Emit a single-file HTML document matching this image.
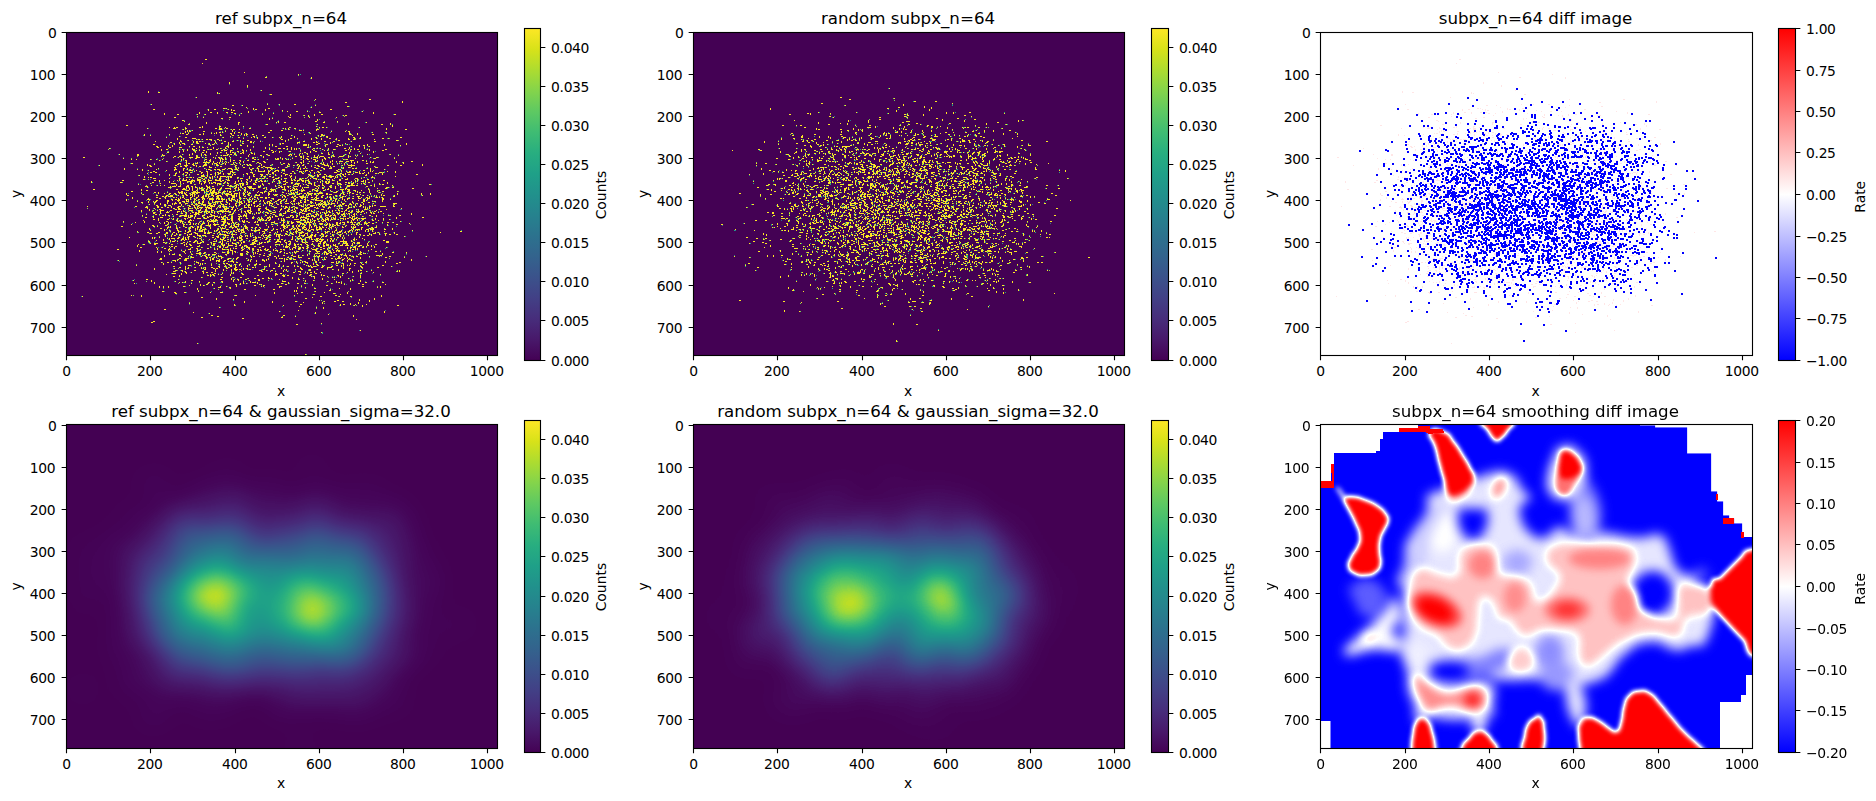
<!DOCTYPE html>
<html><head><meta charset="utf-8"><title>subpx diff</title>
<style>html,body{margin:0;padding:0;background:#fff}svg{display:block}.t{letter-spacing:-0.35px}text{font-family:"DejaVu Sans","Liberation Sans",sans-serif;fill:#000}</style></head><body>
<svg width="1876" height="801" viewBox="0 0 1876 801">
<defs>
<linearGradient id="gv" x1="0" y1="0" x2="0" y2="1"><stop offset="0.0000" stop-color="#fde725"/><stop offset="0.0625" stop-color="#d8e219"/><stop offset="0.1250" stop-color="#addc30"/><stop offset="0.1875" stop-color="#84d44b"/><stop offset="0.2500" stop-color="#5ec962"/><stop offset="0.3125" stop-color="#3fbc73"/><stop offset="0.3750" stop-color="#28ae80"/><stop offset="0.4375" stop-color="#1fa088"/><stop offset="0.5000" stop-color="#21918c"/><stop offset="0.5625" stop-color="#26828e"/><stop offset="0.6250" stop-color="#2c728e"/><stop offset="0.6875" stop-color="#33638d"/><stop offset="0.7500" stop-color="#3b528b"/><stop offset="0.8125" stop-color="#424086"/><stop offset="0.8750" stop-color="#472d7b"/><stop offset="0.9375" stop-color="#48186a"/><stop offset="1.0000" stop-color="#440154"/></linearGradient>
<linearGradient id="gb" x1="0" y1="0" x2="0" y2="1"><stop offset="0" stop-color="#f00"/><stop offset="0.5" stop-color="#fff"/><stop offset="1" stop-color="#00f"/></linearGradient>
<path id="da0" d="M205 59.5h2M202 63.5h1M244 72.5h1M298 74.5h1M265 77.5h2m44 0h1M311 78.5h1M229 82.5h1M229 83.5h1M247 85.5h1M247 86.5h1M261 90.5h1M148 91.5h1M148 92.5h1m9 0h2m57 0h1M217 93.5h1m1 0h1M270 94.5h2M196 97.5h1M315 99.5h1m53 0h2M402 101.5h1M345 102.5h2m55 0h1M151 104.5h1m115 0h1m11 0h1m14 0h2M232 105.5h2m8 0h1m72 0h1M347 106.5h2M246 107.5h1m64 0h1M223 108.5h2m1 0h1m26 0h1m14 0h2M153 109.5h2m53 0h1m5 0h2m12 0h1m2 0h1m21 0h1m1 0h2m8 0h1m64 0h2M208 110.5h1m22 0h1m1 0h2m30 0h1m16 0h1M248 111.5h1m38 0h1m8 0h2m9 0h1m54 0h1M199 112.5h1m10 0h2m5 0h1m8 0h2m3 0h2m15 0h1m70 0h2m52 0h1M164 113.5h1m34 0h1m17 0h1m16 0h2m5 0h1m31 0h1m99 0h1M164 114.5h1m12 0h2m18 0h1m7 0h1m56 0h1m27 0h1m23 0h1m6 0h2m71 0h2M239 115.5h1m50 0h1m13 0h1m3 0h1m5 0h1m28 0h1m1 0h2M197 116.5h1m90 0h1m19 0h1M174 117.5h2m27 0h1m25 0h2m58 0h2m18 0h1m26 0h1M221 118.5h2m46 0h1m2 0h1M269 119.5h1m47 0h1M182 120.5h2m133 0h1M184 121.5h1m93 0h1m36 0h2m20 0h1M206 122.5h1m31 0h2m36 0h1m1 0h1m5 0h2m37 0h2m41 0h1M206 123.5h1m31 0h1m109 0h1m41 0h1M188 124.5h2m48 0h1m27 0h2m49 0h1m30 0h1m32 0h2m7 0h1M126 125.5h2m264 0h1M202 126.5h1m16 0h2m22 0h1m72 0h1m75 0h1M169 127.5h1m4 0h1m1 0h2m7 0h1m13 0h2m1 0h1m16 0h1m5 0h1m63 0h1m29 0h1m2 0h2m2 0h1m32 0h1M147 128.5h1m25 0h3m9 0h2m28 0h2m2 0h3m4 0h2m21 0h2m32 0h1m1 0h1m2 0h1m5 0h2m90 0h1M183 129.5h1m35 0h3m9 0h1m1 0h2m4 0h1m48 0h1m27 0h3m67 0h1m18 0h2M187 130.5h1m1 0h1m2 0h1m39 0h1m37 0h2m9 0h2m16 0h3m1 0h1m12 0h1M185 131.5h1m1 0h1m1 0h2m12 0h2m20 0h1m6 0h1m98 0h1m13 0h1m2 0h2M185 132.5h1m30 0h1m2 0h2m1 0h1m11 0h1m3 0h2m28 0h2m39 0h1m39 0h1m22 0h1m13 0h1M180 133.5h1m1 0h2m4 0h1m14 0h1m7 0h1m2 0h1m1 0h1m13 0h2m2 0h1m6 0h1m4 0h1m63 0h1m38 0h1m7 0h1M144 134.5h1m24 0h1m16 0h2m11 0h2m2 0h1m16 0h1m10 0h1m9 0h1m2 0h1m1 0h2m4 0h2m50 0h1m16 0h2m26 0h2m6 0h1m14 0h2M144 135.5h1m5 0h1m69 0h1m11 0h2m4 0h1m5 0h1m1 0h1m9 0h1m5 0h2m27 0h1m26 0h1m2 0h4m27 0h1M179 136.5h1m50 0h1m22 0h2m26 0h1m12 0h1m25 0h1m5 0h2M166 137.5h1m18 0h2m36 0h1m14 0h2m11 0h1m2 0h1m2 0h1m6 0h2m6 0h1m6 0h1m1 0h1m12 0h1m21 0h1m10 0h1m25 0h2m5 0h1m39 0h2M177 138.5h1m14 0h4m47 0h1m13 0h1m22 0h1m9 0h2m5 0h1m13 0h1m4 0h1m4 0h1m7 0h2m5 0h1m11 0h1m5 0h1m5 0h1m21 0h2m4 0h1M177 139.5h1m18 0h1m1 0h2m2 0h1m3 0h2m1 0h3m5 0h2m62 0h2m5 0h1m22 0h1m9 0h1m14 0h1m11 0h2m3 0h2m19 0h1M180 140.5h1m7 0h1m22 0h1m2 0h1m4 0h1m1 0h1m15 0h1m2 0h1m6 0h2m36 0h1m52 0h2m56 0h2M155 141.5h1m24 0h2m11 0h1m2 0h2m1 0h2m1 0h1m12 0h1m8 0h2m6 0h2m6 0h1m2 0h1m6 0h2m8 0h1m24 0h1m17 0h2m11 0h1m7 0h2m7 0h2m16 0h1m22 0h2M170 142.5h2m7 0h1m13 0h1m2 0h2m17 0h1m12 0h1m21 0h2m1 0h1m43 0h3m13 0h2m1 0h2m12 0h1M174 143.5h1m4 0h1m2 0h3m12 0h2m6 0h1m3 0h1m4 0h1m1 0h1m4 0h2m5 0h1m13 0h2m36 0h1m1 0h2m13 0h1m20 0h2m10 0h1m14 0h1m60 0h1M153 144.5h2m19 0h1m5 0h1m3 0h1m6 0h2m16 0h1m2 0h2m14 0h1m1 0h1m38 0h1m2 0h1m7 0h1m23 0h3m1 0h1m7 0h2m8 0h2m9 0h2m8 0h1m19 0h1m16 0h1m21 0h1M168 145.5h1m3 0h1m37 0h1m19 0h1m9 0h2m5 0h1m21 0h1m2 0h1m30 0h4m1 0h1m16 0h1m13 0h2m1 0h1m16 0h1m3 0h2m2 0h1m16 0h1m15 0h1M156 146.5h2m2 0h1m7 0h1m3 0h1m16 0h1m3 0h2m4 0h1m26 0h3m18 0h1m5 0h1m21 0h2m9 0h2m22 0h1m14 0h1m10 0h2m13 0h1m7 0h1m9 0h1M157 147.5h2m10 0h2m8 0h3m17 0h1m2 0h2m3 0h1m5 0h1m11 0h1m2 0h1m36 0h1m25 0h1m15 0h2m40 0h1m14 0h1M109 148.5h1m82 0h1m3 0h1m16 0h1m6 0h1m4 0h1m6 0h2m3 0h1m27 0h1m3 0h1m8 0h3m2 0h2m2 0h1m3 0h1m2 0h1m1 0h1m2 0h1m13 0h2m2 0h1m2 0h1m7 0h1m15 0h2m3 0h1m4 0h1m9 0h1M161 149.5h1m4 0h2m11 0h1m2 0h1m4 0h1m4 0h3m13 0h1m1 0h2m4 0h2m6 0h1m17 0h1m7 0h1m18 0h1m17 0h1m3 0h1m2 0h1m1 0h1m15 0h1m9 0h1m5 0h1m4 0h2m13 0h1m2 0h1m2 0h1m2 0h2m8 0h1m1 0h1m15 0h2M161 150.5h1m21 0h1m3 0h1m5 0h2m1 0h1m2 0h1m3 0h2m16 0h2m1 0h3m3 0h2m10 0h2m2 0h1m3 0h1m20 0h2m27 0h1m12 0h2m9 0h1m2 0h1m17 0h2m22 0h1m12 0h2M179 151.5h1m3 0h1m11 0h1m10 0h1m23 0h1m6 0h2m4 0h1m19 0h2m8 0h1m1 0h1m3 0h1m1 0h1m7 0h2m19 0h1m4 0h2m33 0h1m8 0h1m13 0h1M167 152.5h2m10 0h1m15 0h1m6 0h2m2 0h1m10 0h1m2 0h1m5 0h1m3 0h1m1 0h2m8 0h2m7 0h1m20 0h2m5 0h1m24 0h2m4 0h1m17 0h1m3 0h1m16 0h1m23 0h1M192 153.5h1m17 0h1m6 0h1m8 0h1m7 0h2m4 0h2m1 0h1m7 0h2m1 0h1m45 0h1m1 0h1m4 0h1m13 0h2m5 0h1m20 0h1m10 0h1M119 154.5h1m17 0h2m23 0h1m19 0h1m6 0h1m2 0h1m8 0h1m2 0h2m4 0h1m16 0h2m1 0h2m2 0h2m13 0h1m4 0h1m11 0h2m21 0h3m2 0h1m4 0h1m7 0h1m20 0h2m15 0h1m21 0h1m22 0h1M137 155.5h2m23 0h3m24 0h1m6 0h1m4 0h1m3 0h1m10 0h1m4 0h1m1 0h3m1 0h1m8 0h1m11 0h1m11 0h2m6 0h2m18 0h2m1 0h1m7 0h1m14 0h1m3 0h1m13 0h2m9 0h1m4 0h1m6 0h1m1 0h1m40 0h1M161 156.5h1m12 0h2m3 0h3m14 0h2m31 0h1m18 0h1m14 0h1m31 0h2m3 0h2m1 0h1m3 0h2m5 0h1m2 0h1m2 0h4m7 0h1m1 0h2m4 0h4m5 0h1m1 0h1m11 0h1M83 157.5h2m88 0h1m4 0h1m2 0h1m7 0h4m3 0h4m2 0h1m2 0h1m7 0h1m4 0h2m1 0h1m3 0h1m4 0h1m9 0h1m12 0h1m1 0h1m7 0h1m16 0h1m20 0h1m1 0h1m10 0h4m1 0h1m4 0h1m3 0h2m1 0h1m16 0h1m21 0h1m5 0h2M123 158.5h1m59 0h1m11 0h2m18 0h1m3 0h1m1 0h2m2 0h1m20 0h1m5 0h2m21 0h1m1 0h2m3 0h1m2 0h1m6 0h1m10 0h1m2 0h2m3 0h1m5 0h1m6 0h2m29 0h1m18 0h2m18 0h1M131 159.5h1m4 0h1m13 0h1m5 0h1m5 0h1m18 0h1m1 0h1m21 0h2m3 0h1m9 0h1m1 0h2m1 0h1m4 0h1m23 0h2m2 0h1m8 0h1m8 0h3m3 0h1m3 0h1m1 0h1m12 0h1m5 0h2m4 0h3m6 0h1m2 0h1m17 0h1m2 0h2M159 160.5h1m21 0h1m3 0h2m17 0h1m4 0h2m9 0h1m9 0h1m2 0h2m4 0h2m6 0h2m54 0h1m11 0h1m1 0h1m4 0h1m9 0h1m17 0h4m8 0h2M166 161.5h1m19 0h1m19 0h1m3 0h1m2 0h1m6 0h1m1 0h1m2 0h1m4 0h1m9 0h1m2 0h1m8 0h2m9 0h2m38 0h1m5 0h1m5 0h2m13 0h1m1 0h1m3 0h1m2 0h4m3 0h3m2 0h1m5 0h1m8 0h1m3 0h1m2 0h1m22 0h1m14 0h2M186 162.5h1m10 0h1m5 0h7m3 0h1m3 0h1m1 0h1m6 0h1m1 0h1m4 0h1m1 0h1m3 0h1m3 0h1m13 0h2m5 0h2m14 0h1m15 0h1m3 0h2m1 0h1m19 0h1m6 0h1m14 0h1m5 0h1m2 0h1m2 0h1m12 0h1m1 0h2m22 0h1m6 0h1M131 163.5h2m45 0h3m5 0h1m1 0h2m3 0h1m1 0h3m7 0h1m6 0h1m1 0h3m2 0h1m2 0h2m1 0h1m7 0h1m2 0h1m22 0h2m22 0h2m3 0h1m12 0h1m6 0h1m11 0h2m1 0h1m8 0h1m4 0h1m1 0h1m4 0h1m9 0h1m11 0h2m35 0h1M147 164.5h1m6 0h1m22 0h2m1 0h1m5 0h1m5 0h2m10 0h3m5 0h1m3 0h2m3 0h1m3 0h1m5 0h2m1 0h1m5 0h1m3 0h1m2 0h1m1 0h2m10 0h1m10 0h1m8 0h1m6 0h2m7 0h2m4 0h1m18 0h3m2 0h1m4 0h1m11 0h1m2 0h1m3 0h1m70 0h1M99 165.5h1m47 0h1m1 0h2m24 0h2m7 0h4m5 0h2m1 0h1m6 0h4m9 0h3m16 0h2m5 0h1m4 0h2m1 0h2m9 0h1m8 0h1m16 0h1m5 0h1m3 0h1m1 0h1m2 0h2m11 0h1m1 0h2m5 0h5m13 0h1m5 0h7m32 0h2m11 0h2m20 0h1M150 166.5h2m28 0h2m3 0h2m9 0h1m2 0h2m2 0h1m5 0h1m10 0h2m13 0h1m22 0h2m3 0h2m22 0h2m10 0h1m5 0h1m5 0h1m6 0h2m8 0h1m1 0h1m2 0h2m16 0h1m22 0h1M174 167.5h2m14 0h1m18 0h3m3 0h1m19 0h1m7 0h2m12 0h1m3 0h2m2 0h7m6 0h1m7 0h1m11 0h1m6 0h1m8 0h2m5 0h2m8 0h1m9 0h1m1 0h1m4 0h2m25 0h3M124 168.5h1m33 0h1m16 0h1m7 0h2m2 0h1m16 0h1m20 0h1m2 0h4m4 0h1m1 0h1m10 0h1m2 0h2m3 0h2m8 0h1m2 0h4m1 0h1m21 0h2m1 0h1m2 0h2m1 0h1m9 0h2m5 0h2m4 0h3m11 0h1m8 0h2m1 0h2m10 0h1m2 0h1M124 169.5h1m12 0h1m4 0h1m13 0h1m17 0h3m6 0h1m3 0h1m2 0h1m2 0h1m12 0h1m1 0h2m4 0h2m1 0h3m2 0h3m6 0h2m2 0h3m12 0h2m6 0h1m12 0h1m10 0h3m15 0h1m23 0h1m13 0h1m1 0h1m29 0h1m13 0h1M142 170.5h1m5 0h1m17 0h1m7 0h1m8 0h1m5 0h4m3 0h1m13 0h2m7 0h2m11 0h1m18 0h1m3 0h1m2 0h1m5 0h1m3 0h1m1 0h1m4 0h4m3 0h3m12 0h1m7 0h3m3 0h2m7 0h1m15 0h2m3 0h1m21 0h2m5 0h1M153 171.5h2m24 0h1m14 0h1m5 0h1m5 0h2m14 0h1m7 0h3m25 0h4m1 0h2m3 0h2m4 0h2m2 0h1m13 0h2m5 0h3m1 0h1m1 0h1m3 0h1m7 0h2m18 0h2m2 0h1m4 0h1m2 0h2m2 0h1m5 0h1m10 0h1m1 0h1m14 0h1m7 0h1M150 172.5h2m3 0h2m22 0h1m5 0h3m2 0h2m9 0h2m4 0h1m7 0h1m1 0h2m1 0h1m9 0h1m1 0h3m15 0h3m15 0h1m3 0h2m7 0h1m19 0h1m8 0h1m3 0h1m3 0h2m14 0h3m10 0h4m4 0h3m1 0h1m4 0h1m3 0h1m10 0h3m1 0h1m11 0h1M147 173.5h1m27 0h2m6 0h1m3 0h1m13 0h1m5 0h1m7 0h1m2 0h3m2 0h1m4 0h3m15 0h2m4 0h1m15 0h1m3 0h2m9 0h2m5 0h2m2 0h1m7 0h2m10 0h1m25 0h2m3 0h1m7 0h1m5 0h2m1 0h2m4 0h1m6 0h2m1 0h1m3 0h1M159 174.5h1m9 0h1m5 0h1m7 0h1m5 0h1m7 0h2m4 0h1m3 0h1m2 0h2m3 0h1m2 0h1m4 0h1m4 0h2m2 0h1m1 0h2m7 0h1m3 0h1m5 0h2m5 0h3m3 0h2m2 0h1m4 0h1m9 0h3m20 0h2m7 0h1m1 0h2m3 0h2m11 0h3m2 0h2m1 0h1m2 0h2m2 0h1m13 0h1m15 0h1m33 0h2M139 175.5h1m29 0h1m4 0h2m9 0h2m14 0h3m3 0h1m7 0h1m16 0h1m20 0h1m7 0h2m12 0h1m5 0h1m3 0h1m3 0h1m1 0h1m17 0h3m2 0h1m2 0h2m7 0h1m2 0h2m5 0h1m3 0h1m2 0h1m21 0h2M144 176.5h1m33 0h2m21 0h4m2 0h1m4 0h1m1 0h1m2 0h1m2 0h6m1 0h2m1 0h2m17 0h1m3 0h2m6 0h1m2 0h2m3 0h2m10 0h1m8 0h2m16 0h1m2 0h3m3 0h2m4 0h2m1 0h1m1 0h6m1 0h1m1 0h1m2 0h1m3 0h2m26 0h1m22 0h1M144 177.5h1m3 0h1m1 0h2m34 0h2m2 0h2m1 0h1m5 0h2m4 0h2m2 0h2m1 0h1m4 0h1m2 0h1m5 0h1m1 0h1m1 0h2m5 0h2m10 0h1m14 0h1m7 0h2m4 0h1m11 0h1m4 0h1m11 0h1m4 0h1m9 0h3m5 0h2m3 0h1m1 0h1m26 0h1m6 0h2M153 178.5h3m13 0h1m9 0h1m3 0h1m13 0h1m4 0h1m7 0h1m1 0h1m6 0h2m7 0h1m8 0h1m2 0h3m6 0h1m6 0h2m1 0h2m1 0h2m3 0h1m7 0h4m5 0h3m4 0h1m3 0h1m4 0h1m1 0h1m2 0h1m4 0h1m2 0h4m7 0h1m1 0h1m7 0h1m7 0h1m4 0h1m7 0h3m3 0h1m12 0h1M143 179.5h2m34 0h1m3 0h1m2 0h1m2 0h1m7 0h4m2 0h2m3 0h1m6 0h1m3 0h2m5 0h1m1 0h1m17 0h2m3 0h1m4 0h1m16 0h2m6 0h1m9 0h1m2 0h1m4 0h3m6 0h1m7 0h1m1 0h1m1 0h1m5 0h4m2 0h1m6 0h2m4 0h3m9 0h1m9 0h2M122 180.5h2m30 0h2m3 0h1m4 0h1m12 0h1m1 0h1m2 0h5m4 0h4m2 0h3m5 0h1m2 0h4m3 0h6m1 0h2m3 0h3m8 0h1m2 0h1m5 0h1m3 0h1m3 0h2m3 0h2m3 0h1m7 0h1m4 0h2m5 0h1m5 0h2m1 0h2m1 0h2m2 0h3m1 0h1m1 0h2m13 0h1m9 0h2m5 0h2m14 0h1m1 0h1m5 0h1m1 0h1m6 0h1m10 0h2M91 181.5h1m67 0h1m9 0h1m3 0h1m6 0h1m6 0h6m1 0h1m4 0h2m2 0h3m2 0h1m11 0h2m3 0h1m9 0h1m2 0h1m2 0h1m4 0h1m3 0h1m4 0h1m2 0h2m1 0h2m1 0h2m8 0h1m4 0h1m3 0h3m11 0h1m4 0h2m1 0h1m2 0h2m7 0h1m2 0h1m1 0h1m2 0h2m1 0h2m7 0h1m13 0h1m3 0h1m1 0h1m3 0h3m1 0h1M91 182.5h1m28 0h2m30 0h2m15 0h1m10 0h1m6 0h1m2 0h2m7 0h1m4 0h2m3 0h1m3 0h3m8 0h1m2 0h1m7 0h1m10 0h2m7 0h2m15 0h1m6 0h2m5 0h2m3 0h2m12 0h1m3 0h1m4 0h1m5 0h1m4 0h2m1 0h2m7 0h1m7 0h2m1 0h1m4 0h1m11 0h1m2 0h2m17 0h1M150 183.5h1m9 0h1m10 0h5m4 0h1m2 0h1m6 0h2m7 0h1m1 0h1m2 0h1m4 0h1m1 0h2m2 0h1m1 0h4m2 0h1m3 0h2m5 0h2m3 0h5m3 0h1m5 0h2m7 0h1m5 0h2m7 0h1m1 0h1m5 0h1m5 0h1m3 0h5m8 0h4m2 0h1m7 0h1m3 0h3m3 0h2m3 0h4m7 0h2m1 0h3m3 0h1m3 0h1m1 0h2m14 0h1m7 0h1M138 184.5h1m37 0h1m17 0h1m6 0h1m15 0h1m1 0h2m15 0h2m2 0h1m1 0h2m2 0h2m5 0h3m6 0h1m20 0h3m8 0h2m1 0h2m4 0h1m2 0h1m4 0h1m2 0h1m7 0h1m14 0h1m2 0h2m3 0h1m5 0h2m12 0h1m8 0h1m4 0h1m2 0h2m45 0h2M151 185.5h1m5 0h1m2 0h1m3 0h1m11 0h1m3 0h1m6 0h2m17 0h1m16 0h1m3 0h2m1 0h1m4 0h2m1 0h1m1 0h1m1 0h1m17 0h1m2 0h1m11 0h1m3 0h1m13 0h1m4 0h1m1 0h1m6 0h2m5 0h2m2 0h2m2 0h2m7 0h1m6 0h1m8 0h3m1 0h4m1 0h2m13 0h1m2 0h1m17 0h1M145 186.5h3m22 0h1m1 0h4m2 0h3m5 0h3m2 0h2m2 0h1m10 0h2m1 0h1m2 0h2m15 0h4m1 0h1m1 0h1m3 0h1m6 0h1m1 0h3m6 0h3m14 0h1m4 0h2m2 0h1m2 0h2m1 0h1m3 0h4m2 0h1m15 0h2m6 0h1m4 0h2m4 0h1m4 0h1m6 0h3m16 0h2m6 0h1M147 187.5h1m20 0h3m15 0h1m1 0h1m3 0h1m2 0h2m2 0h1m1 0h2m4 0h3m11 0h1m13 0h2m1 0h1m2 0h1m2 0h2m2 0h4m6 0h2m6 0h1m11 0h2m1 0h2m1 0h1m3 0h1m4 0h1m8 0h1m1 0h1m1 0h3m9 0h1m3 0h1m7 0h2m3 0h1m4 0h1m5 0h1m39 0h3m3 0h2M183 188.5h2m1 0h1m2 0h1m2 0h1m4 0h1m1 0h3m2 0h1m2 0h1m1 0h1m2 0h3m5 0h2m3 0h6m3 0h2m2 0h1m3 0h1m2 0h1m3 0h2m1 0h4m7 0h2m1 0h1m9 0h1m7 0h1m5 0h1m2 0h2m1 0h1m5 0h1m12 0h1m2 0h1m3 0h2m4 0h1m6 0h1m9 0h2m21 0h1m8 0h1m7 0h2m25 0h2M93 189.5h2m46 0h1m34 0h2m4 0h4m3 0h1m2 0h1m4 0h1m4 0h2m2 0h1m3 0h2m2 0h1m2 0h1m1 0h2m9 0h1m7 0h2m4 0h2m7 0h1m12 0h1m3 0h5m7 0h4m6 0h1m1 0h4m3 0h1m1 0h1m8 0h2m3 0h1m7 0h1m1 0h2m11 0h4m1 0h1m1 0h3m18 0h1M141 190.5h1m4 0h2m38 0h3m3 0h1m3 0h1m4 0h3m2 0h1m3 0h1m2 0h2m4 0h1m15 0h1m2 0h1m1 0h1m3 0h2m7 0h1m17 0h3m1 0h1m9 0h1m2 0h1m1 0h2m1 0h2m4 0h1m1 0h4m7 0h1m2 0h3m5 0h2m5 0h1m11 0h1m5 0h2m4 0h2m5 0h1m7 0h1m9 0h1M131 191.5h2m45 0h1m2 0h2m10 0h3m1 0h1m6 0h1m1 0h3m1 0h1m1 0h3m3 0h1m4 0h3m1 0h1m1 0h2m2 0h2m9 0h1m2 0h1m10 0h1m5 0h2m3 0h3m3 0h1m12 0h1m1 0h1m6 0h1m3 0h2m6 0h2m5 0h2m13 0h1m4 0h2m4 0h1m4 0h2m6 0h1m1 0h1m11 0h1m7 0h1m4 0h2m13 0h1M154 192.5h2m2 0h1m8 0h1m10 0h5m1 0h1m1 0h1m5 0h8m4 0h1m5 0h7m1 0h3m1 0h2m5 0h2m8 0h1m3 0h1m1 0h1m1 0h1m1 0h1m7 0h1m2 0h3m1 0h1m3 0h1m13 0h2m7 0h1m1 0h1m1 0h3m9 0h1m11 0h3m12 0h3m5 0h2m5 0h2m6 0h1m1 0h2m2 0h1m5 0h1m9 0h1M126 193.5h1m14 0h1m16 0h1m5 0h1m4 0h2m3 0h2m3 0h1m1 0h2m1 0h2m4 0h1m1 0h3m1 0h2m8 0h1m2 0h1m1 0h3m2 0h3m3 0h1m1 0h1m1 0h3m2 0h1m2 0h4m1 0h1m3 0h2m3 0h3m11 0h1m5 0h2m16 0h1m1 0h1m2 0h4m4 0h1m1 0h1m2 0h2m1 0h6m1 0h2m1 0h6m3 0h2m13 0h1m1 0h1m3 0h1m1 0h1m2 0h2m16 0h1m26 0h1m23 0h1m8 0h1M126 194.5h1m16 0h1m25 0h1m5 0h2m8 0h2m4 0h2m1 0h1m11 0h4m2 0h1m2 0h2m5 0h1m2 0h7m2 0h1m4 0h1m3 0h2m2 0h2m7 0h1m2 0h1m8 0h2m3 0h1m1 0h3m4 0h1m6 0h3m2 0h1m2 0h3m6 0h1m1 0h3m3 0h2m2 0h1m7 0h2m1 0h3m8 0h1m2 0h2m11 0h2m2 0h1m20 0h1m15 0h1m23 0h1m8 0h1M127 195.5h2m27 0h2m8 0h2m2 0h3m5 0h1m3 0h2m2 0h2m2 0h1m1 0h1m1 0h1m3 0h1m4 0h1m1 0h2m1 0h1m2 0h3m3 0h4m5 0h2m3 0h4m1 0h1m2 0h1m3 0h1m4 0h2m5 0h5m8 0h1m5 0h3m3 0h1m2 0h2m2 0h1m7 0h1m7 0h1m2 0h1m1 0h1m2 0h1m4 0h2m4 0h2m11 0h2m2 0h2m22 0h1m3 0h1m6 0h1m6 0h1m1 0h2m9 0h1m27 0h1M162 196.5h2m1 0h2m1 0h5m10 0h1m8 0h1m1 0h1m3 0h1m3 0h2m1 0h2m1 0h1m4 0h1m2 0h3m1 0h2m10 0h3m1 0h1m2 0h1m4 0h2m5 0h1m2 0h1m27 0h1m1 0h2m6 0h1m1 0h2m3 0h5m1 0h1m10 0h1m4 0h1m5 0h1m2 0h1m2 0h1m2 0h1m5 0h2m1 0h1m7 0h1m3 0h3m9 0h1m1 0h1m4 0h1m16 0h2M132 197.5h1m23 0h2m7 0h1m7 0h1m2 0h1m3 0h1m1 0h2m6 0h2m4 0h2m3 0h3m4 0h1m8 0h2m13 0h3m4 0h2m9 0h1m3 0h2m1 0h1m2 0h3m2 0h2m1 0h2m12 0h1m2 0h1m5 0h3m2 0h2m2 0h6m1 0h1m3 0h2m2 0h2m4 0h2m4 0h1m1 0h2m2 0h1m6 0h3m15 0h1m2 0h1m4 0h2m1 0h1m6 0h2m1 0h1m2 0h1M132 198.5h1m15 0h1m10 0h2m4 0h1m12 0h1m1 0h1m3 0h1m5 0h1m3 0h1m1 0h1m5 0h3m2 0h1m1 0h4m3 0h4m1 0h2m5 0h2m1 0h2m6 0h2m2 0h2m1 0h1m2 0h1m2 0h1m4 0h1m7 0h2m5 0h2m21 0h1m5 0h2m2 0h1m8 0h1m1 0h3m6 0h1m4 0h2m2 0h1m1 0h1m2 0h1m2 0h1m4 0h3m2 0h2m4 0h3m6 0h3m12 0h2M126 199.5h1m20 0h3m21 0h2m2 0h2m1 0h2m6 0h3m1 0h1m3 0h2m2 0h2m2 0h1m1 0h1m4 0h5m2 0h1m1 0h2m1 0h4m1 0h1m2 0h1m1 0h4m2 0h1m2 0h1m6 0h1m1 0h2m1 0h1m1 0h1m3 0h1m14 0h1m4 0h3m2 0h2m1 0h1m7 0h2m8 0h2m5 0h3m1 0h2m13 0h2m3 0h2m5 0h1m1 0h1m2 0h1m15 0h2m2 0h1m14 0h2m6 0h1M126 200.5h1m29 0h2m9 0h2m3 0h1m4 0h3m6 0h1m1 0h1m5 0h1m1 0h1m6 0h1m8 0h1m9 0h1m3 0h1m2 0h3m3 0h1m1 0h1m1 0h1m8 0h1m11 0h1m2 0h1m6 0h2m5 0h2m2 0h1m4 0h1m6 0h2m5 0h1m4 0h1m1 0h2m6 0h6m1 0h1m6 0h1m3 0h1m1 0h1m2 0h1m5 0h1m13 0h1m4 0h2m1 0h1m15 0h1M137 201.5h1m10 0h1m4 0h1m1 0h2m10 0h2m9 0h1m3 0h3m1 0h3m4 0h2m4 0h1m2 0h2m4 0h1m3 0h1m2 0h8m3 0h1m4 0h1m4 0h2m1 0h1m1 0h1m2 0h1m3 0h2m1 0h1m2 0h3m2 0h1m3 0h1m3 0h3m5 0h2m3 0h2m3 0h2m4 0h1m1 0h2m5 0h1m3 0h2m4 0h2m9 0h2m1 0h1m2 0h1m1 0h1m2 0h1m2 0h1m9 0h1m6 0h1m10 0h2m7 0h1m1 0h2m6 0h1M141 202.5h2m5 0h1m5 0h2m11 0h1m7 0h1m3 0h2m3 0h1m6 0h1m1 0h2m3 0h2m2 0h2m4 0h1m3 0h1m1 0h2m1 0h1m2 0h1m5 0h2m11 0h3m2 0h1m3 0h2m3 0h2m9 0h1m2 0h1m1 0h2m3 0h1m5 0h1m9 0h1m7 0h1m1 0h2m2 0h2m4 0h3m2 0h1m4 0h1m2 0h3m2 0h1m8 0h1m3 0h1m10 0h1m9 0h1m5 0h2M154 203.5h1m5 0h1m6 0h1m4 0h1m1 0h3m2 0h2m4 0h3m8 0h1m1 0h3m1 0h1m5 0h3m4 0h1m1 0h1m3 0h1m7 0h1m5 0h2m2 0h1m1 0h2m3 0h1m6 0h2m9 0h2m1 0h1m1 0h4m3 0h1m3 0h2m3 0h4m2 0h1m2 0h1m1 0h1m1 0h2m11 0h1m3 0h1m3 0h1m1 0h2m1 0h2m2 0h2m1 0h4m2 0h1m4 0h3m5 0h1m2 0h1m2 0h2m5 0h1m9 0h1m19 0h4M149 204.5h1m10 0h1m3 0h2m6 0h1m1 0h1m6 0h1m9 0h2m2 0h3m3 0h5m3 0h2m2 0h3m5 0h3m1 0h2m2 0h1m5 0h1m3 0h2m5 0h1m1 0h2m1 0h1m7 0h1m9 0h1m2 0h1m4 0h2m13 0h1m1 0h1m3 0h1m4 0h1m1 0h1m2 0h2m6 0h1m1 0h4m1 0h4m1 0h1m2 0h1m8 0h1m1 0h2m5 0h3m3 0h1m4 0h1m2 0h1m30 0h1M156 205.5h2m6 0h2m2 0h3m10 0h1m7 0h1m3 0h2m3 0h2m3 0h3m2 0h5m1 0h1m4 0h2m2 0h1m11 0h2m2 0h1m4 0h1m3 0h2m1 0h1m2 0h1m2 0h2m4 0h1m5 0h1m1 0h1m9 0h1m17 0h1m1 0h1m3 0h1m1 0h1m2 0h5m1 0h1m1 0h1m1 0h1m1 0h1m2 0h2m7 0h2m2 0h4m3 0h2m1 0h1m6 0h1m4 0h2m10 0h1m1 0h2m17 0h1M87 206.5h1m47 0h2m9 0h1m10 0h2m6 0h1m5 0h1m6 0h3m2 0h1m5 0h2m3 0h1m2 0h2m8 0h1m2 0h5m3 0h1m1 0h1m1 0h5m2 0h1m3 0h1m2 0h1m7 0h1m3 0h1m5 0h1m1 0h2m1 0h2m11 0h2m7 0h1m1 0h1m1 0h2m6 0h2m6 0h3m6 0h3m6 0h1m2 0h2m5 0h1m4 0h1m2 0h1m1 0h1m1 0h1m6 0h1m4 0h2m4 0h2m2 0h1m5 0h2m1 0h1m7 0h6m7 0h2M145 207.5h3m9 0h2m2 0h2m4 0h2m2 0h1m5 0h2m9 0h1m5 0h2m1 0h1m1 0h4m2 0h5m1 0h1m5 0h1m1 0h2m2 0h2m1 0h1m4 0h3m10 0h3m1 0h3m15 0h1m7 0h3m8 0h3m1 0h1m1 0h2m2 0h2m8 0h1m1 0h3m4 0h2m1 0h1m5 0h2m3 0h3m17 0h2m1 0h1m2 0h1m8 0h1m1 0h1m3 0h1M147 208.5h1m6 0h1m18 0h2m3 0h2m4 0h1m3 0h3m1 0h1m2 0h1m1 0h2m2 0h1m4 0h1m1 0h4m4 0h1m7 0h5m3 0h1m4 0h1m3 0h1m8 0h1m7 0h3m4 0h2m14 0h1m2 0h2m8 0h1m1 0h2m6 0h5m7 0h2m10 0h1m8 0h1m1 0h1m1 0h2m4 0h2m16 0h1m1 0h1m1 0h1m31 0h1M149 209.5h1m9 0h2m14 0h2m1 0h3m7 0h1m7 0h1m3 0h1m4 0h2m4 0h1m12 0h3m4 0h2m2 0h1m4 0h1m9 0h1m7 0h2m6 0h3m11 0h2m6 0h2m4 0h1m5 0h2m1 0h1m1 0h2m14 0h3m14 0h1m7 0h1m9 0h1m1 0h1m5 0h3m12 0h1m6 0h1M141 210.5h1m7 0h1m3 0h1m3 0h1m2 0h4m6 0h2m11 0h1m5 0h4m5 0h3m4 0h2m4 0h3m6 0h2m1 0h1m1 0h1m2 0h1m5 0h2m2 0h1m8 0h4m7 0h2m8 0h2m4 0h1m5 0h1m6 0h2m2 0h2m2 0h1m5 0h3m1 0h1m2 0h2m1 0h1m2 0h1m11 0h1m5 0h1m2 0h1m2 0h2m5 0h2m5 0h1m5 0h1m3 0h1m6 0h1m6 0h1M141 211.5h1m18 0h1m6 0h1m9 0h3m1 0h1m1 0h2m13 0h2m2 0h1m1 0h4m1 0h1m1 0h1m2 0h1m2 0h12m1 0h1m3 0h1m6 0h1m2 0h2m1 0h2m1 0h2m8 0h1m2 0h1m5 0h2m8 0h1m5 0h1m1 0h3m3 0h3m6 0h1m1 0h3m4 0h2m5 0h1m7 0h1m1 0h2m2 0h1m8 0h2m1 0h1m3 0h2m1 0h2m3 0h1m1 0h2m1 0h3m10 0h2m4 0h2M153 212.5h2m5 0h1m5 0h3m8 0h1m7 0h2m5 0h2m1 0h2m1 0h4m2 0h1m1 0h1m1 0h2m1 0h2m1 0h1m2 0h1m4 0h1m6 0h2m2 0h1m7 0h1m3 0h1m2 0h3m5 0h1m3 0h1m1 0h1m2 0h3m4 0h4m9 0h1m5 0h2m2 0h1m3 0h3m11 0h2m1 0h1m3 0h1m1 0h1m1 0h1m1 0h1m2 0h2m5 0h2m1 0h1m10 0h2m5 0h2m2 0h1m4 0h1m3 0h2m6 0h1M153 213.5h2m5 0h1m20 0h2m3 0h1m3 0h1m4 0h4m7 0h2m6 0h1m3 0h1m6 0h1m6 0h2m12 0h1m2 0h2m1 0h1m3 0h1m1 0h2m7 0h2m1 0h2m8 0h1m2 0h3m11 0h1m1 0h1m2 0h3m3 0h3m6 0h1m2 0h1m3 0h2m7 0h1m3 0h3m3 0h2m1 0h1m1 0h2m4 0h1m9 0h1m6 0h1m1 0h2m8 0h1m27 0h1M146 214.5h1m8 0h2m2 0h1m5 0h1m6 0h1m3 0h2m7 0h1m8 0h3m1 0h1m5 0h1m5 0h2m8 0h1m8 0h4m5 0h2m4 0h1m1 0h1m7 0h1m18 0h2m4 0h3m17 0h1m6 0h3m6 0h2m1 0h1m6 0h1m2 0h1m5 0h1m3 0h1m2 0h4m4 0h1m3 0h2m1 0h1m3 0h1m50 0h1M142 215.5h1m19 0h2m1 0h1m2 0h2m10 0h7m1 0h1m1 0h3m2 0h1m6 0h3m6 0h4m10 0h1m2 0h1m14 0h4m18 0h2m8 0h1m3 0h3m1 0h1m6 0h3m3 0h2m8 0h1m4 0h3m2 0h1m1 0h1m2 0h1m3 0h4m1 0h2m1 0h3m6 0h1m1 0h1m6 0h1m2 0h1m14 0h2m5 0h1m11 0h1m1 0h1m8 0h2M153 216.5h1m19 0h1m5 0h2m3 0h3m1 0h1m1 0h3m2 0h1m6 0h1m4 0h1m1 0h3m2 0h4m3 0h1m1 0h3m5 0h2m5 0h4m1 0h1m1 0h2m6 0h1m15 0h1m2 0h1m2 0h3m12 0h1m2 0h1m3 0h1m3 0h1m1 0h1m3 0h3m1 0h1m1 0h3m4 0h2m7 0h2m4 0h1m4 0h1m2 0h3m6 0h3m7 0h1m9 0h1m3 0h1M145 217.5h2m6 0h1m6 0h3m25 0h3m3 0h1m8 0h2m2 0h2m5 0h1m3 0h2m1 0h3m2 0h2m3 0h2m6 0h1m12 0h2m4 0h1m2 0h1m5 0h4m1 0h1m13 0h4m2 0h2m2 0h1m3 0h7m7 0h1m5 0h2m4 0h2m5 0h1m1 0h1m13 0h2m1 0h1m3 0h1m39 0h1m25 0h2M158 218.5h1m10 0h1m3 0h1m3 0h1m6 0h2m1 0h1m6 0h1m2 0h4m3 0h3m7 0h1m7 0h2m3 0h1m3 0h2m5 0h2m1 0h1m4 0h2m4 0h2m3 0h1m1 0h1m1 0h2m4 0h2m1 0h1m7 0h1m2 0h1m1 0h1m16 0h1m4 0h2m1 0h1m3 0h1m4 0h1m1 0h1m2 0h1m2 0h1m1 0h2m2 0h1m1 0h3m4 0h4m1 0h1m1 0h2m2 0h2m1 0h3m1 0h2m1 0h5m9 0h1m7 0h1m12 0h1M153 219.5h2m3 0h1m8 0h2m4 0h1m3 0h1m7 0h1m4 0h1m19 0h1m2 0h1m1 0h2m4 0h5m1 0h3m1 0h2m5 0h2m19 0h3m1 0h1m2 0h1m2 0h2m7 0h1m2 0h1m1 0h1m10 0h5m2 0h1m1 0h2m2 0h2m1 0h1m1 0h1m4 0h2m3 0h2m1 0h4m2 0h2m1 0h2m2 0h1m4 0h1m1 0h1m6 0h3m2 0h1m4 0h2m8 0h1m2 0h1m7 0h1m5 0h1M143 220.5h1m14 0h1m17 0h2m1 0h3m7 0h3m1 0h1m13 0h2m2 0h3m1 0h3m6 0h2m5 0h2m6 0h1m2 0h1m1 0h1m13 0h3m1 0h2m1 0h2m1 0h2m11 0h4m15 0h2m1 0h3m4 0h1m3 0h2m5 0h1m1 0h3m2 0h1m1 0h1m9 0h1m10 0h1m1 0h1m3 0h1m14 0h2m4 0h1M123 221.5h1m20 0h1m21 0h2m9 0h2m1 0h3m5 0h2m10 0h1m2 0h1m3 0h1m1 0h7m6 0h4m6 0h1m9 0h3m2 0h1m7 0h1m1 0h1m16 0h1m8 0h1m3 0h1m3 0h1m4 0h4m5 0h1m1 0h2m1 0h1m1 0h1m1 0h1m3 0h2m2 0h2m1 0h1m21 0h1m3 0h1m8 0h1m4 0h1m34 0h1M135 222.5h1m8 0h1m14 0h1m4 0h1m3 0h1m1 0h1m9 0h1m1 0h1m2 0h1m2 0h3m8 0h1m3 0h1m4 0h1m4 0h1m3 0h1m5 0h3m1 0h1m4 0h2m2 0h1m6 0h2m3 0h2m4 0h2m1 0h1m13 0h4m5 0h1m2 0h2m2 0h2m2 0h3m3 0h4m3 0h8m2 0h1m11 0h1m9 0h2m2 0h1m1 0h3m2 0h2m1 0h3m1 0h2m2 0h2m4 0h2m2 0h2m6 0h1m5 0h1m4 0h2m4 0h1M164 223.5h1m3 0h1m13 0h1m7 0h1m2 0h1m2 0h1m1 0h1m3 0h3m3 0h1m5 0h1m8 0h2m2 0h3m1 0h1m1 0h1m1 0h1m2 0h1m26 0h2m8 0h3m5 0h1m3 0h2m2 0h2m7 0h4m2 0h1m2 0h1m3 0h1m1 0h1m3 0h4m4 0h1m1 0h1m6 0h2m1 0h2m3 0h1m7 0h1m4 0h1m1 0h1m4 0h4m4 0h2m35 0h1M131 224.5h1m35 0h1m7 0h1m7 0h2m1 0h1m2 0h2m2 0h1m1 0h1m2 0h1m2 0h2m5 0h1m1 0h1m2 0h6m3 0h2m4 0h2m4 0h1m1 0h3m17 0h3m12 0h2m9 0h2m16 0h1m1 0h3m4 0h2m2 0h1m6 0h2m2 0h1m1 0h2m1 0h2m1 0h2m2 0h2m5 0h2m6 0h1m1 0h2m1 0h2m3 0h1m4 0h1m20 0h1m8 0h2M152 225.5h2m11 0h2m9 0h1m6 0h1m17 0h1m4 0h5m3 0h2m5 0h3m1 0h2m4 0h1m1 0h2m3 0h1m6 0h1m12 0h1m7 0h1m10 0h1m3 0h4m3 0h2m3 0h1m2 0h1m1 0h2m4 0h2m3 0h2m3 0h2m9 0h2m2 0h2m1 0h1m1 0h2m1 0h2m7 0h1m7 0h1m3 0h1m8 0h2m18 0h1M121 226.5h2m30 0h2m2 0h1m10 0h1m1 0h1m5 0h1m6 0h1m7 0h2m4 0h2m1 0h2m7 0h1m9 0h1m5 0h1m4 0h2m2 0h3m1 0h1m2 0h1m2 0h3m21 0h1m3 0h1m10 0h3m1 0h1m4 0h2m2 0h1m1 0h2m3 0h2m4 0h1m1 0h1m2 0h1m1 0h1m2 0h1m2 0h1m6 0h1m2 0h2m8 0h1m2 0h1m5 0h1m1 0h1m1 0h1m20 0h1M167 227.5h2m1 0h1m5 0h1m2 0h1m5 0h2m2 0h2m1 0h2m3 0h2m1 0h2m1 0h1m6 0h1m9 0h1m1 0h1m2 0h1m3 0h1m2 0h2m1 0h2m8 0h3m3 0h2m2 0h2m2 0h1m8 0h1m14 0h2m1 0h2m5 0h1m3 0h1m4 0h4m3 0h1m1 0h1m4 0h2m1 0h2m1 0h2m2 0h1m3 0h2m3 0h1m6 0h2m7 0h1m1 0h3m5 0h2m8 0h2m2 0h2M149 228.5h1m10 0h2m5 0h1m8 0h2m11 0h2m4 0h1m1 0h1m2 0h2m3 0h1m4 0h1m7 0h1m2 0h4m7 0h1m4 0h1m5 0h1m1 0h2m8 0h1m4 0h1m12 0h1m6 0h1m3 0h1m6 0h2m1 0h2m1 0h2m3 0h2m2 0h1m2 0h1m6 0h1m2 0h3m6 0h1m2 0h1m20 0h2m7 0h1m7 0h2m1 0h2m18 0h1M149 229.5h1m14 0h1m12 0h1m11 0h1m5 0h1m1 0h1m1 0h1m2 0h4m11 0h2m2 0h1m4 0h2m9 0h3m1 0h3m3 0h1m3 0h1m3 0h1m3 0h1m4 0h4m5 0h1m2 0h2m5 0h1m5 0h3m1 0h2m1 0h1m1 0h3m3 0h3m1 0h1m2 0h3m2 0h4m1 0h1m3 0h1m3 0h1m6 0h1m14 0h1m1 0h1m2 0h4m1 0h1m4 0h3m1 0h4m10 0h2m6 0h1M150 230.5h1m13 0h1m4 0h1m7 0h2m6 0h1m3 0h2m4 0h1m3 0h1m1 0h2m1 0h1m9 0h1m1 0h2m3 0h1m11 0h1m2 0h1m1 0h1m2 0h3m7 0h2m1 0h6m5 0h2m4 0h2m8 0h1m1 0h1m5 0h1m6 0h1m1 0h3m6 0h4m2 0h1m3 0h1m17 0h2m4 0h1m7 0h2m1 0h1m2 0h1m1 0h1m7 0h1m2 0h1m3 0h1m39 0h1M137 231.5h1m32 0h1m7 0h1m1 0h1m4 0h1m2 0h3m8 0h4m1 0h1m3 0h1m5 0h1m4 0h1m2 0h4m2 0h1m1 0h2m1 0h2m3 0h2m1 0h1m1 0h1m10 0h2m6 0h3m12 0h1m3 0h1m4 0h2m7 0h3m4 0h1m6 0h1m15 0h1m1 0h2m3 0h1m1 0h1m4 0h3m3 0h1m2 0h2m2 0h1m12 0h1m2 0h1m3 0h1m11 0h1m75 0h2M147 232.5h2m9 0h2m6 0h2m5 0h2m3 0h1m8 0h2m5 0h2m8 0h2m2 0h4m6 0h2m4 0h1m1 0h2m2 0h1m4 0h2m4 0h4m14 0h1m4 0h1m4 0h2m4 0h1m1 0h1m12 0h1m2 0h1m2 0h1m2 0h5m8 0h1m4 0h2m6 0h3m4 0h1m1 0h1m2 0h4m3 0h2m2 0h1m7 0h2m17 0h1m2 0h1m15 0h1m45 0h1M150 233.5h2m4 0h2m8 0h2m4 0h1m3 0h1m7 0h2m5 0h1m3 0h3m6 0h2m1 0h3m4 0h1m2 0h1m2 0h1m6 0h1m1 0h1m2 0h1m7 0h1m4 0h1m4 0h1m1 0h1m10 0h2m9 0h1m10 0h2m3 0h3m3 0h1m3 0h2m3 0h3m13 0h2m2 0h1m4 0h1m6 0h1m4 0h1m3 0h1m9 0h1m12 0h1m3 0h3m3 0h1m5 0h2m7 0h1M164 234.5h2m6 0h1m3 0h1m2 0h2m6 0h1m1 0h3m5 0h1m21 0h7m5 0h4m1 0h1m13 0h1m11 0h1m6 0h1m4 0h1m1 0h5m5 0h2m1 0h1m2 0h2m5 0h1m4 0h1m2 0h1m3 0h2m2 0h1m5 0h3m8 0h1m5 0h1m1 0h1m10 0h1m4 0h1m2 0h2m8 0h1m1 0h1m7 0h1m5 0h1m3 0h2m5 0h2M165 235.5h1m5 0h1m2 0h2m3 0h1m7 0h1m9 0h4m1 0h4m6 0h2m4 0h1m5 0h5m3 0h1m7 0h2m3 0h1m1 0h1m2 0h1m1 0h1m8 0h1m1 0h1m1 0h2m1 0h3m5 0h1m1 0h2m1 0h2m1 0h1m3 0h1m10 0h1m1 0h4m2 0h1m2 0h3m1 0h2m4 0h1m2 0h1m2 0h1m5 0h2m5 0h2m2 0h1m4 0h1m14 0h2m2 0h2m2 0h1m13 0h1M165 236.5h1m5 0h1m16 0h2m3 0h2m4 0h2m4 0h1m10 0h3m6 0h1m6 0h1m6 0h1m1 0h2m2 0h1m1 0h1m2 0h1m4 0h1m7 0h1m3 0h2m7 0h1m1 0h2m12 0h1m2 0h1m2 0h2m3 0h1m5 0h3m2 0h2m6 0h2m1 0h2m3 0h1m9 0h1m18 0h1m44 0h1M129 237.5h1m22 0h1m1 0h1m4 0h1m18 0h2m3 0h1m1 0h1m2 0h1m6 0h1m5 0h1m10 0h2m3 0h2m4 0h1m1 0h1m1 0h1m3 0h1m1 0h1m3 0h1m1 0h3m11 0h1m1 0h2m1 0h3m3 0h1m1 0h1m2 0h2m8 0h1m12 0h1m4 0h1m2 0h1m5 0h6m9 0h1m15 0h2m3 0h1m16 0h1M152 238.5h1m1 0h1m12 0h1m1 0h1m1 0h4m2 0h2m3 0h2m1 0h1m2 0h1m8 0h1m1 0h2m14 0h1m4 0h1m2 0h2m12 0h1m1 0h3m4 0h2m7 0h2m5 0h1m3 0h2m11 0h1m12 0h1m4 0h5m3 0h1m3 0h1m1 0h1m4 0h3m1 0h1m9 0h2m2 0h1m7 0h1m1 0h1m9 0h1m7 0h1M163 239.5h1m5 0h1m11 0h3m1 0h2m1 0h1m12 0h1m7 0h1m4 0h1m5 0h4m4 0h1m1 0h1m2 0h1m1 0h1m5 0h2m10 0h3m9 0h2m2 0h2m3 0h1m2 0h2m2 0h2m8 0h2m2 0h1m2 0h1m2 0h3m1 0h1m5 0h2m1 0h1m1 0h2m1 0h5m3 0h1m3 0h1m4 0h1m16 0h2m1 0h1m7 0h1M156 240.5h1m6 0h1m6 0h1m4 0h1m5 0h1m2 0h1m10 0h2m4 0h1m14 0h1m5 0h1m1 0h2m4 0h1m3 0h2m3 0h3m7 0h1m2 0h2m1 0h2m12 0h1m7 0h2m5 0h2m9 0h1m6 0h1m2 0h1m9 0h1m1 0h2m2 0h2m4 0h1m2 0h1m1 0h2m9 0h1m7 0h1m2 0h1m28 0h2M148 241.5h2m20 0h1m1 0h3m2 0h1m11 0h2m3 0h2m1 0h1m4 0h2m9 0h2m1 0h1m3 0h1m1 0h1m4 0h2m14 0h2m9 0h3m10 0h3m6 0h5m3 0h1m3 0h3m5 0h2m4 0h1m2 0h1m6 0h2m2 0h2m1 0h3m2 0h2m4 0h1m1 0h1m7 0h7m4 0h1m34 0h3M149 242.5h1m13 0h2m1 0h1m16 0h2m2 0h1m5 0h2m2 0h1m2 0h2m1 0h1m7 0h1m7 0h2m1 0h1m9 0h1m4 0h2m2 0h1m1 0h2m7 0h3m4 0h1m1 0h1m2 0h2m1 0h1m7 0h2m3 0h1m4 0h2m3 0h1m11 0h3m1 0h2m12 0h1m2 0h3m17 0h1m1 0h2m6 0h2m2 0h3m8 0h1m17 0h3M150 243.5h1m3 0h4m7 0h1m3 0h1m11 0h2m3 0h1m10 0h4m10 0h1m1 0h2m6 0h2m3 0h1m1 0h1m3 0h4m2 0h1m2 0h1m10 0h4m3 0h3m24 0h1m2 0h2m3 0h1m10 0h1m6 0h1m5 0h3m2 0h2m13 0h2m3 0h5m4 0h1m1 0h1m2 0h3m7 0h1M138 244.5h1m4 0h2m9 0h2m15 0h2m11 0h1m1 0h1m2 0h2m16 0h2m4 0h2m6 0h2m1 0h1m3 0h1m6 0h2m3 0h1m9 0h4m3 0h1m1 0h1m15 0h3m1 0h1m1 0h2m5 0h2m4 0h2m1 0h2m1 0h2m4 0h2m3 0h2m5 0h1m4 0h1m2 0h3m4 0h1m1 0h1m6 0h1m3 0h2m4 0h1m14 0h1m7 0h2M137 245.5h1m46 0h1m5 0h2m7 0h1m13 0h2m7 0h3m3 0h5m6 0h2m3 0h3m39 0h1m2 0h1m4 0h2m11 0h2m4 0h1m4 0h2m3 0h2m1 0h3m1 0h1m2 0h3m4 0h3m2 0h4m2 0h2m3 0h1m2 0h3m5 0h2m2 0h1M137 246.5h1m31 0h1m1 0h2m2 0h2m9 0h2m9 0h2m18 0h1m1 0h2m2 0h1m3 0h1m7 0h2m5 0h1m1 0h1m1 0h2m6 0h2m6 0h2m6 0h1m12 0h1m1 0h4m6 0h1m2 0h1m8 0h1m6 0h1m3 0h2m3 0h2m5 0h1m4 0h3m16 0h2m2 0h2m3 0h1m2 0h1m4 0h1m2 0h1M140 247.5h2m14 0h1m5 0h1m11 0h1m17 0h1m8 0h1m8 0h1m8 0h2m4 0h3m13 0h2m3 0h4m9 0h2m9 0h1m14 0h3m1 0h1m3 0h3m3 0h2m1 0h2m3 0h2m11 0h2m6 0h3m6 0h1m9 0h1m2 0h2m1 0h3m6 0h2m10 0h1m11 0h1M157 248.5h1m6 0h2m3 0h1m4 0h1m15 0h1m5 0h2m9 0h2m5 0h1m2 0h1m4 0h1m7 0h1m2 0h1m1 0h2m4 0h1m2 0h1m3 0h2m2 0h2m11 0h1m9 0h1m16 0h1m2 0h1m2 0h3m2 0h1m2 0h2m3 0h1m4 0h2m5 0h2m2 0h1m1 0h1m5 0h2m10 0h1m2 0h1m4 0h1m1 0h1M117 249.5h2m38 0h1m10 0h2m18 0h3m6 0h1m2 0h1m13 0h1m2 0h1m4 0h3m2 0h2m1 0h1m11 0h2m5 0h1m2 0h2m3 0h2m1 0h1m3 0h2m1 0h2m4 0h1m6 0h2m1 0h2m5 0h1m1 0h1m5 0h2m12 0h5m3 0h2m5 0h1m4 0h1m4 0h1m14 0h2m1 0h1m1 0h1m13 0h1M139 250.5h1m28 0h1m1 0h2m9 0h1m3 0h1m11 0h3m28 0h1m1 0h3m8 0h2m10 0h1m4 0h1m1 0h2m4 0h2m5 0h1m1 0h3m24 0h1m4 0h1m7 0h2m11 0h2m3 0h1m2 0h4m4 0h1m4 0h2m17 0h1M139 251.5h1m17 0h1m3 0h1m7 0h1m13 0h2m5 0h1m6 0h1m29 0h2m3 0h1m1 0h2m10 0h2m9 0h2m10 0h2m6 0h1m2 0h2m12 0h1m1 0h3m10 0h2m5 0h4m4 0h2m2 0h1m1 0h1m5 0h1m1 0h2m8 0h1m1 0h1m9 0h1m14 0h2m3 0h1M157 252.5h1m3 0h1m22 0h1m5 0h1m8 0h2m3 0h2m8 0h2m6 0h3m2 0h2m3 0h1m2 0h1m11 0h2m4 0h1m1 0h1m24 0h1m3 0h1m4 0h1m2 0h1m1 0h2m21 0h1m6 0h3m2 0h3m1 0h2m25 0h2m30 0h2m12 0h1M185 253.5h1m10 0h5m2 0h2m11 0h1m10 0h2m3 0h1m7 0h3m3 0h1m6 0h1m1 0h1m1 0h1m6 0h1m5 0h1m15 0h2m7 0h1m13 0h1m5 0h2m1 0h2m2 0h1m1 0h1m1 0h3m2 0h1m28 0h1m2 0h1m1 0h1m16 0h1M169 254.5h1m2 0h3m4 0h1m11 0h2m6 0h2m5 0h1m1 0h2m2 0h4m9 0h2m13 0h3m4 0h1m5 0h1m5 0h2m8 0h2m36 0h1m16 0h1m1 0h2m7 0h2m3 0h3m2 0h1m12 0h1m1 0h2m20 0h1M164 255.5h1m14 0h2m21 0h1m1 0h2m2 0h1m9 0h1m22 0h2m7 0h1m12 0h2m4 0h2m7 0h1m4 0h2m6 0h2m5 0h1m3 0h1m4 0h1m6 0h1m1 0h1m2 0h1m10 0h2m9 0h1m2 0h3m2 0h2m25 0h3m1 0h2M164 256.5h1m16 0h1m6 0h1m2 0h1m9 0h1m3 0h2m4 0h1m6 0h4m29 0h1m1 0h2m12 0h2m5 0h2m2 0h1m14 0h3m2 0h1m15 0h2m1 0h3m14 0h1m3 0h2m6 0h1m5 0h2m2 0h2m11 0h1m9 0h1m9 0h2m35 0h1M191 257.5h3m12 0h2m1 0h2m3 0h1m1 0h1m4 0h2m14 0h2m12 0h1m24 0h1m10 0h2m2 0h1m6 0h4m16 0h1m2 0h1m2 0h1m1 0h1m11 0h2m1 0h1m5 0h1m5 0h1m6 0h1m24 0h2m17 0h1M160 258.5h2m17 0h2m4 0h4m17 0h1m5 0h2m7 0h1m6 0h3m2 0h1m2 0h2m8 0h1m21 0h1m7 0h1m2 0h1m1 0h2m1 0h1m4 0h3m16 0h2m4 0h1m9 0h1m6 0h2m2 0h1m1 0h4m3 0h1m2 0h1m1 0h1m10 0h1M160 259.5h2m16 0h1m6 0h2m23 0h1m1 0h2m5 0h1m7 0h2m7 0h1m11 0h1m2 0h1m10 0h1m3 0h1m1 0h1m15 0h1m1 0h2m2 0h1m2 0h3m16 0h1m1 0h1m3 0h1m3 0h1m1 0h2m10 0h1m5 0h2m4 0h1m1 0h1m60 0h1M118 260.5h1m54 0h3m1 0h1m6 0h3m15 0h2m6 0h1m5 0h4m4 0h2m6 0h1m15 0h1m1 0h1m5 0h1m5 0h3m1 0h1m17 0h1m15 0h1m11 0h1m1 0h1m3 0h1m23 0h1m4 0h1m3 0h2m58 0h1M175 261.5h1m18 0h1m21 0h1m1 0h2m3 0h2m3 0h1m1 0h4m16 0h1m5 0h1m7 0h1m16 0h1m2 0h1m11 0h1m5 0h1m1 0h2m9 0h2m19 0h1m2 0h1m7 0h1m18 0h1m18 0h1M161 262.5h1m5 0h2m2 0h1m8 0h1m15 0h3m34 0h1m2 0h2m37 0h1m15 0h2m3 0h1m3 0h1m1 0h1m2 0h3m7 0h2m3 0h1m10 0h3m2 0h1m1 0h1m21 0h1m4 0h2m18 0h1m13 0h2M163 263.5h1m16 0h1m17 0h1m1 0h1m1 0h1m2 0h1m17 0h2m1 0h2m28 0h1m18 0h1m15 0h1m5 0h1m9 0h1m5 0h1m22 0h2m4 0h2m6 0h1m3 0h2m5 0h1m34 0h2M163 264.5h1m30 0h1m5 0h1m1 0h1m8 0h1m7 0h1m8 0h2m4 0h2m3 0h2m8 0h1m5 0h2m2 0h2m8 0h1m9 0h1m24 0h1m8 0h1m2 0h2m25 0h1m6 0h1m11 0h2M136 265.5h1m51 0h3m8 0h1m11 0h1m13 0h1m4 0h2m3 0h1m3 0h1m7 0h1m6 0h2m13 0h1m9 0h1m3 0h1m10 0h1m11 0h1m1 0h1m1 0h1m6 0h2m3 0h1m13 0h2m3 0h1m1 0h1m3 0h1m1 0h1m4 0h1m27 0h2M173 266.5h2m10 0h1m32 0h2m4 0h2m4 0h2m3 0h1m5 0h1m5 0h1m16 0h1m1 0h1m2 0h1m8 0h2m3 0h1m3 0h2m5 0h1m2 0h2m9 0h2m1 0h1m1 0h3m6 0h2m7 0h2m8 0h1m18 0h2m29 0h1M179 267.5h2m4 0h1m2 0h1m6 0h1m5 0h1m3 0h1m5 0h2m6 0h1m6 0h1m1 0h1m6 0h2m15 0h2m1 0h1m44 0h1m10 0h2m8 0h2m4 0h5m11 0h1m17 0h2m14 0h2M154 268.5h1m19 0h1m10 0h1m2 0h1m12 0h1m1 0h1m1 0h1m7 0h2m1 0h2m8 0h2m6 0h2m7 0h1m2 0h2m16 0h1m8 0h2m6 0h1m18 0h2m25 0h1m15 0h1m5 0h2M154 269.5h1m30 0h1m18 0h2m9 0h1m7 0h1m7 0h1m2 0h4m1 0h2m2 0h1m3 0h1m1 0h2m12 0h2m19 0h1m1 0h1m8 0h1m5 0h2m6 0h2m6 0h1m14 0h1m5 0h1m10 0h1M175 270.5h2m4 0h2m11 0h2m19 0h1m7 0h1m7 0h1m3 0h2m4 0h1m17 0h3m4 0h1m4 0h2m10 0h1m2 0h1m22 0h2m27 0h1m10 0h1m8 0h1m1 0h2m9 0h1m27 0h1M173 271.5h2m7 0h1m2 0h1m16 0h2m11 0h1m45 0h2m7 0h1m4 0h1m7 0h1m3 0h1m10 0h3m13 0h1m37 0h1m5 0h1m7 0h1m30 0h1m1 0h1M185 272.5h2m4 0h1m11 0h1m2 0h2m3 0h2m18 0h1m1 0h1m59 0h2m5 0h1m4 0h1m1 0h1m2 0h2m2 0h1m5 0h1m26 0h1m4 0h1m20 0h1M172 273.5h4m5 0h1m4 0h1m16 0h1m10 0h2m6 0h1m8 0h1m1 0h1m7 0h2m32 0h2m3 0h2m25 0h1m7 0h2m25 0h2m16 0h2M166 274.5h1m14 0h1m28 0h1m1 0h2m4 0h1m2 0h1m8 0h1m11 0h2m31 0h3m21 0h2m9 0h2m9 0h1m58 0h1M179 275.5h1m27 0h2m1 0h1m2 0h2m15 0h1m26 0h2m16 0h1m6 0h3m2 0h2m20 0h2m10 0h1m1 0h2m12 0h2m3 0h1m17 0h1M173 276.5h2m4 0h1m30 0h1m72 0h2m26 0h1m1 0h2m12 0h1m10 0h1m1 0h1m12 0h1m6 0h1M201 277.5h1m19 0h2m10 0h1m6 0h2m26 0h1m23 0h1m21 0h1m17 0h1m1 0h1m5 0h1m19 0h1M231 278.5h1m16 0h1m5 0h2m6 0h2m4 0h2m1 0h1m20 0h1m5 0h1m4 0h1m10 0h1m7 0h1m25 0h1M146 279.5h2m30 0h1m41 0h2m9 0h1m2 0h1m2 0h2m6 0h2m11 0h2m19 0h1m18 0h2m22 0h1m11 0h1m17 0h1M133 280.5h1m17 0h1m39 0h2m40 0h1m4 0h1m10 0h1m8 0h2m45 0h1m7 0h1m36 0h1m1 0h1m7 0h1M151 281.5h1m23 0h1m9 0h1m13 0h1m21 0h2m10 0h1m9 0h1m6 0h1m31 0h4m19 0h1m21 0h1m8 0h1m23 0h1m12 0h1M154 282.5h1m24 0h1m2 0h1m2 0h1m22 0h2m3 0h2m7 0h1m20 0h1m6 0h1m1 0h4m1 0h1m30 0h1m47 0h1m1 0h2m1 0h1m23 0h2m15 0h2M134 283.5h1m19 0h1m36 0h1m16 0h1m31 0h1m2 0h1m2 0h1m10 0h1m23 0h2m5 0h1m8 0h2m5 0h2m25 0h1m9 0h1m16 0h2M200 284.5h1m5 0h2m4 0h1m22 0h2m3 0h1m18 0h1m1 0h1m15 0h2m6 0h2m25 0h1m31 0h1m17 0h2m21 0h1M189 285.5h1m10 0h1m2 0h1m8 0h1m23 0h1m17 0h2m7 0h2m47 0h1m13 0h2M159 286.5h1m3 0h1m4 0h1m14 0h2m35 0h1m5 0h1m9 0h1m24 0h1m1 0h1m15 0h3m19 0h1m60 0h2m16 0h1M159 287.5h1m3 0h1m4 0h1m49 0h3m8 0h2m48 0h1m17 0h1m7 0h1m71 0h1m2 0h1M197 288.5h1m16 0h1m15 0h1m66 0h1m16 0h2m23 0h1m10 0h1M197 289.5h1m46 0h2m27 0h2m55 0h1m19 0h1M294 290.5h1m1 0h1m32 0h2M162 291.5h2m34 0h1m95 0h1m1 0h1m18 0h1M174 292.5h2m8 0h2m24 0h1m9 0h3m51 0h1m26 0h2m21 0h1m22 0h1M175 293.5h2m97 0h1m22 0h1m35 0h2m12 0h1M313 294.5h2m25 0h1M131 295.5h1m9 0h1m93 0h2m18 0h1m38 0h1m40 0h2m44 0h1M82 296.5h1m58 0h1m178 0h2m17 0h1m10 0h2m29 0h1M201 297.5h2m109 0h1M216 298.5h1m88 0h2m67 0h1M216 299.5h1m16 0h1m125 0h1m14 0h1M319 300.5h1m17 0h2m20 0h1m9 0h1M244 301.5h1m27 0h1m22 0h2m27 0h1m9 0h2m6 0h2m25 0h1M244 302.5h1m27 0h1m30 0h1m18 0h1m35 0h1M189 303.5h1m132 0h1m27 0h1m7 0h1M234 304.5h1m65 0h2m38 0h1m2 0h2m5 0h1m4 0h1m10 0h1M234 305.5h1m48 0h1m56 0h1m13 0h1m7 0h1m34 0h2M299 306.5h1m62 0h1M219 307.5h1m96 0h1m6 0h1M323 308.5h1M164 309.5h2M298 310.5h1M279 311.5h1m104 0h1M193 312.5h1m121 0h1m68 0h1M209 313.5h1m105 0h1M328 314.5h1M211 315.5h2m70 0h2m68 0h1M217 316.5h2m76 0h1m57 0h1M201 317.5h2m78 0h2M242 318.5h2M356 319.5h1M153 321.5h2M151 322.5h2M321 323.5h1M296 324.5h2M360 330.5h1M321 332.5h1M197 343.5h1M305 354.5h1M299 355.5h2"/>
<path id="da1" d="M298 75.5h1M266 76.5h1M247 87.5h1M314 100.5h1M267 103.5h1M225 108.5h1m21 0h1M282 111.5h1M262 113.5h1M204 114.5h1M303 115.5h1M344 116.5h1M304 117.5h1M229 119.5h1M324 121.5h1M337 122.5h1M189 123.5h1M290 127.5h1M224 128.5h1m92 0h1M182 129.5h1m2 0h1m99 0h1m3 0h1M225 130.5h1m120 0h1M222 131.5h1M188 132.5h1m22 0h1m173 0h1M350 133.5h1m35 0h1M351 134.5h1M221 135.5h1M318 136.5h1m2 0h1M222 137.5h1m9 0h1m82 0h1m10 0h1M317 138.5h1m37 0h1m3 0h1m29 0h1M335 139.5h1m19 0h1M187 140.5h1m4 0h1m40 0h1m54 0h1m109 0h1M242 141.5h1m11 0h1M332 142.5h1M196 143.5h1m11 0h1M208 144.5h1m31 0h1m62 0h1m21 0h1m16 0h1M227 145.5h2M308 146.5h1m55 0h1m3 0h1M253 147.5h1M110 148.5h1m107 0h1m2 0h1m4 0h1m89 0h1M108 149.5h1m74 0h1m15 0h1m7 0h1m15 0h1m3 0h1m107 0h1m14 0h1M232 150.5h1m117 0h1M168 151.5h1m25 0h1m105 0h1M221 152.5h1m13 0h1m2 0h1M201 153.5h1m104 0h1M333 154.5h1m55 0h1M180 155.5h1m16 0h1m8 0h1m19 0h1m76 0h1m40 0h1M137 156.5h1m205 0h1m12 0h1M206 157.5h1m8 0h1m36 0h1m47 0h1m12 0h1m24 0h1m39 0h1m15 0h1M131 158.5h1m31 0h1m26 0h1m29 0h1m59 0h1m92 0h1M151 159.5h1m74 0h1m48 0h1m14 0h1m53 0h2M366 160.5h1M167 161.5h1m86 0h1m67 0h1M224 162.5h1m70 0h1m106 0h1M154 163.5h1m53 0h1m30 0h1m16 0h1m50 0h1m19 0h1m13 0h1M246 164.5h1m35 0h1M271 165.5h1m22 0h1m16 0h1m29 0h1M289 166.5h1m8 0h1M236 167.5h1m1 0h1m10 0h1m35 0h1m44 0h1m19 0h1M235 168.5h1m106 0h1m23 0h1M189 169.5h1m37 0h1m6 0h1m37 0h1m66 0h1M237 170.5h2m82 0h1m51 0h1M199 171.5h1m62 0h1m21 0h1m54 0h1M176 172.5h1m117 0h1m7 0h1m79 0h1M227 173.5h1m5 0h1m61 0h1M182 174.5h1m3 0h1m82 0h1m70 0h1M138 175.5h1M229 176.5h1m33 0h1m9 0h1m21 0h1m14 0h1M198 177.5h1m80 0h1m93 0h2M180 178.5h1m20 0h1m2 0h1m1 0h1m57 0h1m1 0h1m14 0h1m17 0h1m3 0h1m2 0h1M148 179.5h1m43 0h1m23 0h1m40 0h1m96 0h1m3 0h1M200 180.5h1m1 0h1m64 0h1m31 0h1m6 0h1m20 0h1m1 0h1m4 0h1M272 181.5h1m99 0h1M122 182.5h1m88 0h1m13 0h1m123 0h1m5 0h1M224 183.5h1m67 0h1M180 184.5h1m14 0h1m67 0h1m100 0h1m15 0h1M146 185.5h1m70 0h1m4 0h1m8 0h1m11 0h1m34 0h1m51 0h1m19 0h1m19 0h1M233 186.5h1m7 0h1m6 0h1m82 0h1m61 0h1M171 187.5h1m68 0h1m64 0h1m17 0h1M170 188.5h1m31 0h1m48 0h1m19 0h1m44 0h1M201 189.5h1m5 0h1m27 0h1m39 0h1m38 0h1m54 0h1M197 190.5h1m11 0h1m1 0h1m8 0h1m3 0h1m2 0h1m37 0h1m26 0h1m21 0h1m38 0h1m23 0h2M266 191.5h1m6 0h1m46 0h1m11 0h1m16 0h1m48 0h1M141 192.5h1m49 0h1m32 0h1m83 0h1m24 0h1m30 0h1m13 0h1m1 0h1M189 193.5h1m14 0h1m10 0h1m81 0h1m2 0h1m81 0h1M142 194.5h1m25 0h1m21 0h1m4 0h1m15 0h1m24 0h1m18 0h1m37 0h1m17 0h1m58 0h1M288 195.5h1m13 0h1m43 0h1m2 0h1m12 0h1m13 0h1M209 196.5h1m17 0h1m79 0h1m14 0h1m51 0h1m4 0h1M164 197.5h1m9 0h1m37 0h1m8 0h1m127 0h1m25 0h1m5 0h1M213 198.5h1m57 0h1m21 0h2m38 0h1m31 0h1M185 199.5h1M137 200.5h1m11 0h1m48 0h1m44 0h1m3 0h1m3 0h1m4 0h1m25 0h2m17 0h1m19 0h1m5 0h1m11 0h1M240 201.5h1m19 0h1m10 0h1m53 0h1m11 0h1m35 0h1M213 202.5h1m22 0h1m1 0h1m92 0h1m21 0h1m7 0h1M142 203.5h1m49 0h1m1 0h1m16 0h1m8 0h1m39 0h1m31 0h1m25 0h1M154 204.5h1m30 0h1m121 0h1m9 0h1m9 0h1m2 0h1m62 0h1M187 205.5h2m7 0h1m50 0h1m52 0h1m2 0h1m47 0h1M147 206.5h1m57 0h1m83 0h1m16 0h1m17 0h1m31 0h1m8 0h1M297 207.5h1m41 0h1m10 0h1m16 0h1M87 208.5h1m103 0h1m96 0h2m28 0h1M155 209.5h1m60 0h1m75 0h1m16 0h1m57 0h1M152 210.5h1m69 0h1m18 0h1m31 0h1m32 0h1m63 0h1M152 211.5h1m16 0h1m18 0h1m2 0h2m8 0h1m6 0h1m20 0h1m41 0h1m3 0h1m81 0h1m12 0h1m1 0h1M155 212.5h1m25 0h1m76 0h1m68 0h1m16 0h1m15 0h1m12 0h1M316 213.5h1m9 0h1m5 0h1m23 0h1M186 214.5h1m12 0h1m65 0h1m44 0h1m6 0h1m14 0h1m14 0h1M224 215.5h1m6 0h2m7 0h1m29 0h1m37 0h1m11 0h1m68 0h1M142 216.5h1m9 0h1m16 0h1m49 0h1m62 0h1m13 0h1m9 0h1m18 0h1m37 0h1M246 217.5h1m84 0h1m25 0h1M171 218.5h1m53 0h1m81 0h1M172 219.5h1m85 0h1m3 0h1m21 0h1M214 220.5h1m87 0h1m4 0h1m5 0h1m47 0h1m21 0h1M183 221.5h1m17 0h1m19 0h1m24 0h1m13 0h1m27 0h2m58 0h1M123 222.5h1m111 0h1m156 0h1M160 223.5h1m22 0h1m90 0h1m83 0h1M168 224.5h1m70 0h1m3 0h1m42 0h1m10 0h1m17 0h1m6 0h1m29 0h1m6 0h1m4 0h1m45 0h1M157 225.5h1m42 0h1m43 0h1m41 0h2m4 0h1m23 0h1m22 0h1m36 0h1M184 226.5h1m5 0h1m19 0h1m7 0h1m82 0h1m29 0h1M230 227.5h2m97 0h1M188 228.5h1m28 0h1m29 0h1m37 0h1m50 0h1m34 0h1m12 0h1M166 229.5h1m33 0h1m5 0h1m21 0h1m29 0h1m61 0h1M170 230.5h1m29 0h1m7 0h1m25 0h1m5 0h1m7 0h1M179 231.5h1m36 0h1m9 0h1m17 0h1m45 0h1m10 0h1m6 0h1m20 0h1M137 232.5h2m93 0h1m54 0h1m7 0h1m2 0h1m8 0h1m69 0h1M149 233.5h1m63 0h1m45 0h1m16 0h1m22 0h1m36 0h1m47 0h1M270 234.5h1m14 0h1m47 0h1m7 0h1M180 235.5h1m65 0h1m42 0h1m37 0h1m32 0h1M159 236.5h1m23 0h1m22 0h1m95 0h1m5 0h1m12 0h1m9 0h1m1 0h1m9 0h1M187 237.5h1m36 0h1m7 0h1m34 0h1m37 0h1m38 0h1M203 239.5h1m23 0h1m32 0h1m18 0h1m24 0h1m29 0h1m8 0h1M148 240.5h1m84 0h1m23 0h1m58 0h1M215 241.5h1m14 0h1m9 0h1m8 0h1m51 0h1m31 0h1m18 0h1m16 0h1M210 242.5h1m51 0h1m42 0h1M166 243.5h1m48 0h1m110 0h1M211 244.5h1m66 0h1m7 0h1m3 0h1M218 245.5h1m17 0h1m38 0h1m3 0h1m21 0h1m12 0h1M199 246.5h1m10 0h1m65 0h1m19 0h1m9 0h1M170 247.5h1m20 0h1m10 0h1m20 0h1m89 0h1m52 0h1M242 248.5h1m46 0h1m48 0h1M225 249.5h2M252 250.5h1m12 0h1m18 0h1m45 0h1M252 251.5h1M279 252.5h1m16 0h1M169 253.5h1m4 0h1m16 0h1m92 0h1m5 0h1m26 0h1m27 0h1m13 0h1m4 0h1m41 0h1M180 254.5h1m51 0h1m59 0h1m16 0h1m4 0h1M212 255.5h1m1 0h1m11 0h1m13 0h1m62 0h1m75 0h1M190 256.5h1m25 0h1m33 0h1m8 0h1m53 0h1m19 0h1m17 0h1m52 0h1M190 257.5h1m123 0h1M210 258.5h1m6 0h1m62 0h1m12 0h1m24 0h1m70 0h1M159 259.5h1m17 0h1m6 0h1m47 0h1m30 0h1m27 0h1m43 0h1m13 0h1M172 260.5h1m58 0h1m15 0h1m53 0h1M196 261.5h1m141 0h1M162 262.5h1m156 0h1m19 0h1m21 0h1M211 263.5h1m4 0h1m23 0h1m35 0h1m64 0h1M136 264.5h1m87 0h1m29 0h1M229 265.5h1m94 0h1m35 0h1M226 266.5h1m38 0h1m50 0h1m26 0h1M194 267.5h1m8 0h2m24 0h1m34 0h1m16 0h1M178 268.5h1m8 0h1m174 0h1M262 269.5h1m53 0h1m10 0h1m5 0h1M177 270.5h1m48 0h1m40 0h1m40 0h1m88 0h1M175 271.5h1m8 0h1m46 0h1m63 0h1m100 0h1M361 272.5h1M283 274.5h1M211 275.5h1M202 277.5h1m29 0h1m95 0h1M247 278.5h1M268 280.5h1m13 0h1m20 0h1m10 0h1M146 281.5h1m181 0h1m12 0h1m8 0h1M184 282.5h1m14 0h1M178 283.5h1m28 0h1m124 0h1m11 0h1M260 284.5h1M204 285.5h1m96 0h1M377 286.5h1M218 289.5h1M198 290.5h1M314 291.5h1m33 0h1M335 293.5h1M133 295.5h1m100 0h1M338 296.5h1M321 300.5h1M323 301.5h1M189 302.5h1M324 303.5h1M235 305.5h1m117 0h1m2 0h1M316 308.5h1M282 316.5h1M306 354.5h1M298 355.5h1"/>
<path id="da2" d="M300 74.5h1M260 90.5h1M218 93.5h1M269 94.5h1M150 104.5h1M241 105.5h1m37 0h1M349 106.5h1M227 109.5h1M223 110.5h1m83 0h1M319 111.5h1M273 112.5h1M227 113.5h1M196 114.5h1m38 0h1m3 0h1M309 116.5h1M197 117.5h1m74 0h1M319 119.5h1M184 120.5h1M277 121.5h1M365 122.5h1M265 124.5h1m50 0h1m75 0h1M219 125.5h1M250 127.5h1M282 128.5h1m36 0h1M222 129.5h1m7 0h1m64 0h1m7 0h1M190 130.5h2M235 131.5h1M308 132.5h1m21 0h1m40 0h1M245 133.5h1m63 0h1M150 134.5h1M143 135.5h1m25 0h1m67 0h1m2 0h1m51 0h1M247 136.5h1m75 0h1M230 137.5h1m12 0h1m12 0h1m16 0h1m6 0h1M387 138.5h1M201 139.5h1M215 140.5h1m4 0h1m17 0h1M299 141.5h1m18 0h1M181 142.5h1m40 0h1m19 0h1M173 143.5h1m18 0h1m60 0h1m25 0h1m44 0h1M345 144.5h2m2 0h1M202 146.5h1M269 147.5h1m40 0h1M168 148.5h1m129 0h1m20 0h1M209 149.5h1m23 0h1m3 0h1m48 0h1m13 0h1M195 150.5h1m132 0h1M167 151.5h1m72 0h1m5 0h1m33 0h1m7 0h1m69 0h1m16 0h1M250 152.5h1m70 0h1M290 153.5h1m1 0h1m1 0h1m37 0h1M236 154.5h1m107 0h1m12 0h1m11 0h1m28 0h1M220 155.5h1m14 0h1m95 0h1m30 0h1M163 156.5h1m37 0h1m88 0h1m58 0h1M203 157.5h1m16 0h1m20 0h1m15 0h1m34 0h1m18 0h1M226 158.5h1m3 0h1m57 0h1m27 0h1m12 0h1m12 0h1M157 159.5h1m46 0h1m43 0h1m8 0h1m29 0h1M160 160.5h1m22 0h1m60 0h1m95 0h1M180 161.5h1m23 0h1m21 0h1m90 0h1M185 162.5h1m9 0h1m38 0h1m79 0h1m6 0h1m14 0h1m9 0h1M130 163.5h1m75 0h1m73 0h1m65 0h1M220 164.5h1m1 0h1m7 0h1m12 0h1M98 165.5h1m160 0h1m29 0h1m54 0h1M202 166.5h1m14 0h1m157 0h1M191 167.5h1m95 0h1m5 0h1m48 0h1m13 0h1m10 0h1M205 168.5h1m50 0h1m17 0h1m32 0h1m10 0h1m22 0h1M158 169.5h1m27 0h1m23 0h1M215 170.5h1m65 0h1m14 0h1m43 0h1m19 0h1M165 171.5h1m55 0h1M148 172.5h1m43 0h1m42 0h1m63 0h1m16 0h1m67 0h1M310 173.5h1m9 0h1M148 174.5h1m124 0h1m36 0h1m40 0h1M159 175.5h1m13 0h1m15 0h1m14 0h1m1 0h1m36 0h1m23 0h1m8 0h1m54 0h1m5 0h1m1 0h1M183 176.5h1m25 0h1m33 0h1m16 0h1m66 0h1m13 0h1M189 177.5h1m11 0h1m13 0h1m49 0h1m47 0h1m15 0h1m6 0h1m24 0h1m1 0h1M238 178.5h1m22 0h1m79 0h1m25 0h1M212 179.5h1m45 0h1m2 0h1m14 0h1m16 0h1m25 0h1M174 180.5h1m82 0h1m6 0h1m56 0h1m36 0h1M178 181.5h1m88 0h1m5 0h1M92 182.5h1m100 0h1m48 0h1m53 0h1m11 0h1m1 0h1m4 0h1m35 0h1m11 0h1M138 183.5h1m12 0h1m126 0h1M221 184.5h1m16 0h1m57 0h1m42 0h1m91 0h1M156 185.5h1m77 0h1m23 0h1m22 0h1M276 186.5h1m16 0h1m25 0h1m26 0h1M189 187.5h1m7 0h1m34 0h2m26 0h1m3 0h1m27 0h1m31 0h1m16 0h1M203 188.5h1m6 0h1m66 0h1m109 0h1M186 189.5h1m56 0h1M185 190.5h1m18 0h1m31 0h2m46 0h1m33 0h1m6 0h1m12 0h1M167 191.5h1m51 0h1m11 0h1m13 0h1m30 0h1m18 0h1m16 0h1m17 0h1m12 0h1M205 192.5h2m43 0h1m71 0h1m21 0h1M128 193.5h1m24 0h1m53 0h1m2 0h1m10 0h1m3 0h1m63 0h2m5 0h1m19 0h1m23 0h1m1 0h1M156 194.5h1m16 0h1m31 0h1m68 0h1m21 0h1m6 0h1M168 195.5h1m7 0h1m68 0h1m35 0h1m12 0h1m76 0h1m21 0h1m27 0h1M180 196.5h1m74 0h1m21 0h1m51 0h1m5 0h1m1 0h1m1 0h2m3 0h1m28 0h1M229 197.5h1m96 0h1m4 0h1m2 0h1m13 0h1M171 198.5h1m52 0h1m16 0h1m16 0h1m25 0h1m41 0h1m8 0h1m54 0h1M128 199.5h1m21 0h1m77 0h1m10 0h1m8 0h1m58 0h1m6 0h1m23 0h1M146 200.5h1m62 0h1m34 0h1m4 0h1m81 0h1M195 201.5h1m54 0h1m90 0h1M209 202.5h1m6 0h1m49 0h1m17 0h1m42 0h1m47 0h1M195 203.5h1m5 0h1m11 0h1m13 0h1m31 0h1m50 0h1m2 0h1m35 0h1m22 0h1M260 204.5h1m2 0h1m58 0h1m34 0h1M207 205.5h1m10 0h1m19 0h1m6 0h1m123 0h1M182 206.5h1m36 0h1m10 0h1m40 0h1m20 0h1m33 0h1m9 0h1m1 0h1m3 0h1m8 0h1M134 207.5h1m92 0h1m8 0h1m116 0h1M153 208.5h1m42 0h1m45 0h1m84 0h1m8 0h1M184 209.5h1m37 0h1m16 0h1m1 0h1m72 0h1m27 0h1M185 210.5h1m33 0h1m50 0h1m65 0h1m12 0h1m1 0h1M212 211.5h1m87 0h1m12 0h2m1 0h1m22 0h1m38 0h1M205 212.5h1m17 0h1m39 0h1m30 0h1m28 0h1M204 213.5h1m5 0h1m9 0h1m42 0h1m15 0h1m1 0h1M205 214.5h1m46 0h1m43 0h1m25 0h1m38 0h1M153 215.5h1m5 0h1m13 0h1m102 0h1m5 0h1m58 0h1m7 0h1M172 216.5h1m8 0h1m21 0h1m57 0h1m2 0h1m84 0h1m21 0h1M225 217.5h1m28 0h1m4 0h1m72 0h1m6 0h1m14 0h1M178 218.5h1m24 0h1m20 0h1m5 0h1m90 0h1M176 219.5h1m4 0h1m29 0h1m45 0h1m75 0h1m3 0h1m52 0h1M261 220.5h1m2 0h1m97 0h1M304 221.5h1m96 0h1M184 222.5h1m19 0h1m62 0h1m33 0h1m64 0h1m8 0h1M132 223.5h1m43 0h1m18 0h1m4 0h1m33 0h1m36 0h1m53 0h1m56 0h1M174 224.5h1m12 0h1m36 0h1m6 0h1m1 0h1m39 0h1m2 0h1m12 0h1m9 0h1m6 0h1m12 0h1m40 0h1M205 225.5h1m96 0h1m21 0h1m20 0h1m42 0h1M194 226.5h1m42 0h1m130 0h1m27 0h1M154 227.5h1m14 0h1m34 0h1m38 0h1m16 0h1m31 0h1m59 0h1M204 228.5h1m15 0h1m4 0h1m13 0h1m89 0h1M150 229.5h1m18 0h1m18 0h1m83 0h1m29 0h1m39 0h1m12 0h1M305 230.5h1m10 0h1m34 0h1m7 0h1m101 0h1M181 231.5h1m16 0h1m16 0h1m40 0h1m10 0h1m42 0h1m13 0h1m42 0h1m44 0h1M222 232.5h1m66 0h1m60 0h1M165 233.5h1m53 0h1m8 0h1m17 0h1m28 0h1M171 234.5h1m5 0h1m39 0h1m22 0h1m3 0h1m89 0h1m4 0h1m6 0h1m1 0h1m21 0h1M167 235.5h1m122 0h1m28 0h1m2 0h1M201 236.5h1m1 0h1m19 0h1m7 0h1m19 0h1m17 0h1m26 0h1m108 0h1M155 237.5h1m38 0h1m27 0h1m31 0h1m13 0h1m85 0h1M230 238.5h1m2 0h1m62 0h1m7 0h1m32 0h1M168 239.5h1m5 0h1m100 0h1m9 0h1m11 0h1m11 0h1m5 0h1M177 240.5h1m68 0h1m42 0h1m46 0h1M187 241.5h1m31 0h1m37 0h1m12 0h1m35 0h1m61 0h1M148 242.5h1m21 0h1m47 0h1m7 0h1m9 0h1m31 0h1m70 0h1m4 0h1M149 243.5h1m27 0h1m2 0h1m55 0h1m14 0h1m104 0h1M142 244.5h1m115 0h1m61 0h1m17 0h1M212 245.5h1m7 0h1m62 0h1m33 0h1m55 0h1M218 246.5h1m9 0h1m16 0h1m82 0h1m2 0h1m20 0h2m8 0h1M158 247.5h1m2 0h1m49 0h1m2 0h1m172 0h1M318 248.5h1m9 0h1m3 0h1m52 0h1M170 249.5h1m76 0h1m28 0h1m30 0h1m20 0h1M309 250.5h1m45 0h1M182 251.5h1m9 0h1m108 0h1m5 0h1m21 0h1m22 0h1m15 0h1m24 0h1M229 252.5h1m7 0h1m14 0h1m37 0h1m18 0h1m13 0h1M201 253.5h1m70 0h1m19 0h1m49 0h1m24 0h1M246 254.5h1m21 0h1M189 255.5h1m6 0h1m3 0h1m8 0h1m3 0h1m6 0h1m115 0h1m2 0h1m3 0h1m12 0h1M200 256.5h1m87 0h1M188 257.5h1m24 0h1m9 0h1m66 0h1m26 0h1m4 0h1m46 0h1M190 258.5h1m16 0h1m23 0h1m54 0h1m5 0h1M250 259.5h1m38 0h1m33 0h1m27 0h1M117 260.5h1m197 0h1m7 0h1M280 261.5h1m13 0h1M179 262.5h1m43 0h1m73 0h1m15 0h1m26 0h1m1 0h1m19 0h1M194 263.5h1m9 0h1m111 0h1m21 0h1m27 0h1M180 264.5h1m37 0h1m12 0h1m4 0h1m66 0h1m27 0h1M191 265.5h1m8 0h1m18 0h1m29 0h1m47 0h1m25 0h1m8 0h1M255 266.5h1M225 267.5h1m39 0h1M261 269.5h1m46 0h1m51 0h1m10 0h1M180 270.5h1m94 0h1m19 0h1M239 271.5h1m65 0h1m61 0h1M222 272.5h1M171 273.5h1m132 0h1M285 274.5h1m56 0h1m17 0h1M380 275.5h1M214 276.5h1m119 0h1m17 0h1M336 277.5h1M233 279.5h1m38 0h1M132 280.5h1m110 0h1m4 0h1m104 0h1m19 0h1M174 281.5h1m80 0h1m116 0h1M183 282.5h1m7 0h1m29 0h1M136 283.5h1m77 0h1m32 0h1m35 0h1m5 0h1m17 0h1M239 284.5h1M221 285.5h1m39 0h1M185 286.5h1M314 287.5h1M163 288.5h1m49 0h1m116 0h1M211 291.5h1M186 292.5h1M294 296.5h1M351 297.5h1M233 300.5h1M282 306.5h1M220 307.5h1M322 332.5h1M322 333.5h1"/>
<path id="da3" d="M310 78.5h1M229 84.5h1M158 91.5h1M195 97.5h1M278 104.5h1m36 0h1M311 106.5h1M310 107.5h1M207 109.5h1M254 110.5h1m108 0h1M309 111.5h1m51 0h1M240 113.5h1M231 114.5h1m161 0h1M342 115.5h1M203 116.5h1M335 118.5h1M222 119.5h1M278 120.5h1M276 123.5h1M317 126.5h1M243 127.5h1m83 0h1m30 0h1M148 128.5h1m94 0h1M218 129.5h1m67 0h1m12 0h1M331 130.5h1M220 131.5h1M180 132.5h1m42 0h1m79 0h1M324 134.5h1M214 135.5h1m102 0h1M166 136.5h1m13 0h1m75 0h1m8 0h1M197 139.5h1m23 0h1m75 0h1M210 140.5h1m25 0h1m23 0h1m43 0h1m31 0h1M201 141.5h1m1 0h1m58 0h1m87 0h1M216 142.5h1m23 0h1M169 143.5h1m129 0h1M185 144.5h1m24 0h1m3 0h1m2 0h1m61 0h1M180 145.5h1m143 0h1M272 146.5h1m77 0h1m49 0h1M189 147.5h1m119 0h1m7 0h1m33 0h1M179 148.5h1m187 0h1M180 149.5h1m3 0h1m129 0h1m8 0h1m3 0h1m38 0h1M276 150.5h1m43 0h1M224 151.5h1m107 0h1M234 152.5h1m19 0h1m106 0h1M166 153.5h1m132 0h1M118 154.5h1m64 0h1m118 0h1m15 0h1m27 0h1m8 0h1M161 155.5h1m41 0h1m25 0h1m3 0h1m33 0h1M261 156.5h1m57 0h1m12 0h1M123 157.5h1m53 0h1m4 0h1m71 0h1m116 0h1M157 158.5h1m26 0h1m19 0h1m40 0h1m40 0h1m82 0h1M266 159.5h1m33 0h1m4 0h1M222 160.5h1M181 161.5h1m27 0h1m98 0h1m2 0h1M199 162.5h1m21 0h2m116 0h1M237 163.5h1m2 0h1m106 0h1M195 164.5h1m18 0h1m18 0h1m37 0h1m32 0h1m16 0h1m15 0h1M180 165.5h1m33 0h1m34 0h1m22 0h1m23 0h1m17 0h1M177 166.5h1m56 0h1m7 0h1m98 0h1M186 167.5h1m11 0h1m101 0h1M137 168.5h1m55 0h1m30 0h1m38 0h1M192 169.5h1m59 0h1m14 0h1m6 0h1m2 0h1m45 0h1m61 0h1M147 170.5h1m40 0h1m5 0h1m11 0h1m15 0h1m46 0h1m2 0h1m73 0h1M192 171.5h1m27 0h1m30 0h1m3 0h1m26 0h1m64 0h1m6 0h2m28 0h1M304 172.5h1m36 0h1m11 0h1M214 173.5h1m162 0h1M217 174.5h1m12 0h1M183 175.5h1m81 0h1m42 0h1m3 0h1m2 0h1m59 0h1M226 176.5h1m87 0h1m7 0h1M170 177.5h1m8 0h1m8 0h1m25 0h1m12 0h1m83 0h1m5 0h1m23 0h1m24 0h1M205 178.5h1m3 0h1m11 0h1m26 0h1m52 0h1m69 0h1M145 179.5h1m4 0h1m31 0h1m42 0h1m1 0h1m12 0h1m44 0h1m29 0h1M254 180.5h1M201 181.5h1m47 0h1m16 0h1m11 0h1m1 0h1m42 0h1m32 0h1M159 182.5h1m28 0h1m89 0h1m43 0h1m27 0h1M159 183.5h1m61 0h1m24 0h1m33 0h2m20 0h1m62 0h1m8 0h1M140 184.5h1m40 0h1m46 0h1m10 0h1m29 0h1m35 0h1m32 0h1m7 0h1m10 0h1m3 0h1M174 185.5h1m165 0h1M222 186.5h1m12 0h1m53 0h1m18 0h1m83 0h1M148 187.5h1m61 0h1m19 0h1m34 0h1m81 0h1m17 0h1m23 0h1M243 188.5h1M199 189.5h1m21 0h1m18 0h1m26 0h1M218 190.5h1m31 0h1m1 0h1m44 0h1m2 0h1m40 0h1M282 191.5h1M207 192.5h1m82 0h1m56 0h1M223 193.5h1m18 0h1m116 0h1M182 194.5h1m66 0h1m31 0h1m10 0h1m23 0h1m32 0h1M177 195.5h1m73 0h1m2 0h1m52 0h1m29 0h1m30 0h1M182 196.5h1m27 0h1m93 0h1m47 0h1M170 197.5h1m15 0h1m29 0h1m32 0h1m56 0h1m11 0h1M193 198.5h1m1 0h1m38 0h1m10 0h1m7 0h1m33 0h1m49 0h1m2 0h1m22 0h1M191 199.5h1m11 0h1m51 0h1m16 0h1m29 0h1M197 200.5h1m35 0h2m78 0h1m16 0h1m1 0h1m34 0h1m4 0h1M191 201.5h1m6 0h1m26 0h1m9 0h1m110 0h1M153 202.5h1m29 0h1m4 0h1m29 0h1m18 0h1m35 0h1m2 0h1m4 0h1M191 203.5h1m85 0h1m19 0h1m5 0h1m16 0h1m5 0h1m28 0h1M148 204.5h1m116 0h1m27 0h1m35 0h1m4 0h1m4 0h1m32 0h1M166 205.5h1m30 0h1m2 0h2m20 0h1m1 0h1m45 0h1m3 0h1m31 0h1M164 206.5h1m5 0h1m60 0h1m6 0h1m27 0h1m15 0h1m57 0h1M192 207.5h1m32 0h1m2 0h1m36 0h1m7 0h1m9 0h1m10 0h1m8 0h1M183 208.5h1m1 0h1m14 0h1m16 0h1m56 0h1m55 0h1m9 0h1M157 209.5h1m16 0h1m73 0h1m108 0h1m10 0h1m9 0h1m21 0h2M188 210.5h1m7 0h2m9 0h1m82 0h1m38 0h1m26 0h1m7 0h1M159 211.5h1m25 0h1m17 0h1m11 0h2m16 0h1m30 0h1m1 0h1m50 0h1M141 212.5h1m76 0h1m9 0h1m6 0h1m23 0h1m8 0h1m17 0h1m6 0h1m2 0h1m35 0h1m19 0h1M146 213.5h1m14 0h1m18 0h1m4 0h1m59 0h1m8 0h1m41 0h1m10 0h1m4 0h1m38 0h1m14 0h1M272 214.5h1m38 0h1m9 0h1m15 0h1m7 0h1m42 0h1M179 215.5h1m37 0h1m11 0h1m69 0h1m3 0h1m41 0h1m11 0h1m25 0h1M194 216.5h1m17 0h1m75 0h1m3 0h1m19 0h1m3 0h1M191 217.5h1m130 0h1m17 0h1m2 0h1m21 0h1M318 218.5h1m41 0h1m11 0h1M300 219.5h1m20 0h1m8 0h1m9 0h1m18 0h1m11 0h1M201 220.5h1m7 0h1m77 0h1m23 0h1m6 0h1m23 0h1m16 0h1M179 221.5h1m19 0h1m16 0h2m21 0h2m40 0h1m2 0h2m14 0h1M171 222.5h1m30 0h1m34 0h1m27 0h1m13 0h1m77 0h1M217 223.5h1m94 0h1m1 0h1m17 0h1m23 0h1M221 224.5h1m23 0h1m20 0h1m8 0h1m1 0h1m3 0h1m23 0h1m8 0h1m10 0h1m14 0h1m1 0h1M167 225.5h1m28 0h1m60 0h1m75 0h1m23 0h1M208 226.5h1m15 0h1M177 227.5h1m2 0h1m7 0h1m52 0h1m52 0h1m42 0h1m36 0h1M252 228.5h1m1 0h1m12 0h1m100 0h1M240 229.5h1m90 0h1M253 230.5h1m36 0h1m30 0h1m20 0h1m27 0h1M169 231.5h1m51 0h1m10 0h1m88 0h1m15 0h1m9 0h1m6 0h1m18 0h1M170 232.5h1m22 0h1m13 0h1m21 0h1m1 0h1m23 0h1m35 0h1m19 0h1m30 0h1m9 0h1m26 0h1m13 0h1M222 233.5h1m8 0h1m9 0h1m23 0h1m14 0h1m8 0h1m21 0h1m15 0h1m23 0h1M181 234.5h1m53 0h1m16 0h1m38 0h1m24 0h1m13 0h1m6 0h1m42 0h1M220 235.5h1m2 0h1m29 0h1m8 0h1m8 0h1m28 0h1M178 236.5h1m79 0h1M167 237.5h1m29 0h1m30 0h1m36 0h1m12 0h1m17 0h1m5 0h1M201 238.5h1m29 0h1m90 0h1M215 239.5h2m82 0h1m33 0h1M174 240.5h1m5 0h1m21 0h1m5 0h1m12 0h1m20 0h1m25 0h1m28 0h1m3 0h1m2 0h1m48 0h1m10 0h1M155 241.5h1m40 0h1m51 0h1m78 0h1M150 242.5h1m3 0h1m10 0h1m1 0h1m34 0h1M189 243.5h1m108 0h1m43 0h1M223 244.5h1m89 0h1m43 0h1M355 245.5h1M163 246.5h1m144 0h1m41 0h1M233 247.5h1m9 0h1m39 0h1m14 0h1M330 248.5h1M181 249.5h1m3 0h1m13 0h1m15 0h1m73 0h1m10 0h1m16 0h1m32 0h1M158 250.5h1m41 0h1m95 0h1m6 0h1m39 0h1m4 0h1m8 0h1m22 0h1M196 251.5h1m25 0h1m45 0h1M225 252.5h1m44 0h2m91 0h1M205 253.5h1m12 0h1m28 0h1m60 0h1m21 0h1M205 254.5h1m115 0h2m36 0h1m46 0h1M203 255.5h1m48 0h1m46 0h1m52 0h1M214 256.5h1m101 0h1m8 0h1m55 0h1m43 0h1M269 257.5h1M218 258.5h1m8 0h1m19 0h1m51 0h1M233 259.5h1m66 0h1M341 260.5h1M119 261.5h1m51 0h1m57 0h1m6 0h1m66 0h1M181 263.5h1m118 0h1M248 264.5h1m86 0h1m11 0h1M233 265.5h1m7 0h1m65 0h1M191 266.5h1m90 0h1m3 0h1m23 0h1m81 0h1M173 268.5h1m28 0h1m38 0h1m3 0h1M248 269.5h1m3 0h1M203 270.5h1m66 0h1m14 0h1m2 0h1M288 271.5h1M190 272.5h1m50 0h1M218 273.5h1m13 0h1m113 0h1m25 0h1M207 274.5h1m12 0h1M311 275.5h1M312 276.5h1m19 0h1M234 277.5h1m63 0h1m34 0h1M235 278.5h1m1 0h1m66 0h1m44 0h1m10 0h1M134 279.5h1m44 0h1m91 0h1M245 281.5h1m119 0h1m16 0h1M220 282.5h1m83 0h1m21 0h1M244 283.5h1m61 0h1M346 284.5h1M227 286.5h1M264 287.5h1m36 0h1M229 288.5h1m75 0h1M332 289.5h1M164 291.5h1m57 0h1M176 294.5h1m135 0h1M81 296.5h1M297 301.5h1M189 304.5h1M339 305.5h1M316 306.5h1M385 310.5h1M280 311.5h1M208 313.5h1m105 0h1m14 0h1M295 315.5h1M321 324.5h1M359 330.5h1M198 343.5h1"/>
<path id="dab" d="M311 77.5h1M229 82.5h1M148 91.5h1M158 92.5h1m58 0h1M270 94.5h1M196 97.5h1M369 99.5h1M345 102.5h1M267 104.5h1M232 105.5h1m9 0h1m72 0h1M246 107.5h1m64 0h1M223 108.5h1m2 0h1M208 109.5h1m5 0h1m16 0h1m33 0h1m64 0h1M233 110.5h1m48 0h1M248 111.5h1m113 0h1M199 112.5h1m10 0h1m15 0h1m92 0h1m53 0h1M164 113.5h1m69 0h1m6 0h1M197 114.5h1m7 0h1m56 0h1m27 0h1m30 0h1m72 0h1M239 115.5h1m64 0h1m3 0h1m36 0h1M197 116.5h1m90 0h1M174 117.5h1m114 0h1m19 0h1m26 0h1M221 118.5h1m47 0h1M317 119.5h1M182 120.5h1M315 121.5h1M206 122.5h1m31 0h1m37 0h1M238 123.5h1m109 0h1m41 0h1M188 124.5h1m77 0h1m50 0h1m63 0h1M126 125.5h1m265 0h1M243 126.5h1m72 0h1M169 127.5h1m4 0h1m1 0h1m8 0h1m13 0h1m19 0h1m5 0h1m93 0h1m2 0h1m36 0h1M147 128.5h1m25 0h1m1 0h1m10 0h1m28 0h1m3 0h1m1 0h1m4 0h1m22 0h1m33 0h1m1 0h1m8 0h1m91 0h1M183 129.5h1m37 0h1m9 0h1m7 0h1m77 0h1m87 0h1M187 130.5h1m1 0h1m2 0h1m77 0h1m28 0h2m2 0h1M185 131.5h1m17 0h1m21 0h1m105 0h1m13 0h1M219 132.5h1m2 0h1m11 0h1m33 0h1m40 0h1m62 0h1m13 0h1M180 133.5h1m1 0h1m5 0h1m14 0h1m7 0h1m2 0h1m15 0h1m10 0h1m4 0h1m63 0h1m46 0h1M144 134.5h1m24 0h1m16 0h1m33 0h1m23 0h1m1 0h1m57 0h1m16 0h1m27 0h2m21 0h1M150 135.5h1m81 0h1m5 0h1m7 0h1m44 0h1m26 0h1m3 0h2m28 0h1M179 136.5h1m50 0h1m22 0h2m26 0h1m12 0h1m25 0h1m5 0h1M166 137.5h1m18 0h1m65 0h1m5 0h1m6 0h1m7 0h1m6 0h1m36 0h1m10 0h1m25 0h1m6 0h1m39 0h1M192 138.5h1m50 0h1m13 0h1m22 0h1m9 0h1m20 0h1m4 0h1m4 0h1m7 0h1m6 0h1m17 0h1m27 0h1m5 0h1M196 139.5h1m1 0h1m3 0h1m3 0h1m2 0h1m1 0h1m5 0h2m62 0h1m54 0h1m16 0h1m20 0h1M180 140.5h1m7 0h1m30 0h1m1 0h1m18 0h1m6 0h1m37 0h1m110 0h1M155 141.5h1m24 0h1m12 0h1m2 0h1m2 0h1m2 0h1m12 0h1m8 0h1m7 0h1m10 0h1m7 0h1m8 0h1m55 0h1m7 0h1m8 0h1m17 0h1m22 0h1M170 142.5h1m8 0h1m48 0h1m68 0h1m1 0h1m13 0h1m2 0h1m13 0h1M174 143.5h1m7 0h2m25 0h1m4 0h1m1 0h1m25 0h1m37 0h1m1 0h1m62 0h1m60 0h1M153 144.5h1m26 0h1m3 0h1m6 0h1m17 0h1m18 0h1m1 0h1m38 0h1m2 0h1m7 0h1m23 0h3m1 0h1m7 0h1m9 0h1m10 0h1m9 0h1m19 0h1m16 0h1M168 145.5h1m41 0h1m29 0h1m6 0h1m21 0h1m33 0h1m1 0h1m19 0h1m13 0h1m2 0h1m16 0h1m3 0h1m36 0h1M156 146.5h1m3 0h1m28 0h1m3 0h1m5 0h1m26 0h1m1 0h1m24 0h1m21 0h1m10 0h1m23 0h1m25 0h1m14 0h1m17 0h1M157 147.5h1m11 0h1m9 0h2m26 0h1m5 0h1m11 0h1m39 0h1m42 0h1m40 0h1m14 0h1M109 148.5h1m82 0h1m3 0h1m23 0h1m11 0h2m3 0h1m31 0h1m9 0h1m3 0h1m3 0h1m6 0h1m1 0h1m2 0h1m13 0h1m3 0h1m2 0h1m7 0h1m15 0h1m9 0h1M161 149.5h1m4 0h1m20 0h1m5 0h1m14 0h1m8 0h1m6 0h1m17 0h1m7 0h1m40 0h1m20 0h1m9 0h1m10 0h1m14 0h1m8 0h1m9 0h1m1 0h1m15 0h1M183 150.5h1m12 0h1m2 0h1m3 0h1m17 0h1m2 0h1m1 0h1m4 0h1m11 0h1m2 0h1m24 0h1m28 0h1m12 0h1m13 0h1m17 0h1m36 0h1M179 151.5h1m26 0h1m23 0h1m6 0h2m34 0h1m1 0h1m3 0h1m1 0h1m7 0h1m20 0h1m4 0h1m34 0h1m8 0h1m13 0h1M167 152.5h2m33 0h1m14 0h1m2 0h1m5 0h1m15 0h2m28 0h1m31 0h1m23 0h1M192 153.5h1m17 0h1m23 0h2m4 0h1m10 0h1m2 0h1m47 0h1m57 0h1M119 154.5h1m17 0h1m24 0h1m26 0h1m11 0h1m25 0h1m6 0h1m14 0h1m16 0h1m22 0h3m2 0h1m12 0h1m20 0h1m16 0h1m21 0h1m22 0h1M137 155.5h1m25 0h1m41 0h1m10 0h1m6 0h1m3 0h1m8 0h1m23 0h1m7 0h1m19 0h1m25 0h1m3 0h1m14 0h1m9 0h1m11 0h1m1 0h1m40 0h1M161 156.5h1m12 0h1m5 0h2m14 0h1m32 0h1m33 0h1m36 0h1m2 0h1m13 0h1m2 0h1m1 0h1m8 0h1m7 0h2m1 0h1m7 0h1m11 0h1M83 157.5h1m89 0h1m4 0h1m10 0h1m1 0h1m6 0h1m3 0h1m2 0h1m7 0h1m4 0h1m2 0h1m3 0h1m14 0h1m12 0h1m1 0h1m24 0h1m20 0h1m1 0h1m15 0h1m4 0h1m3 0h1m41 0h1m5 0h1M123 158.5h1m59 0h1m11 0h1m19 0h1m5 0h1m24 0h1m5 0h1m24 0h2m3 0h1m2 0h1m6 0h1m13 0h1m4 0h1m5 0h1m37 0h1m38 0h1M131 159.5h1m4 0h1m13 0h1m5 0h1m5 0h1m18 0h1m1 0h1m21 0h2m13 0h1m1 0h1m7 0h1m23 0h1m12 0h1m18 0h1m1 0h1m18 0h1m7 0h1m6 0h1m20 0h1m2 0h1M159 160.5h1m21 0h1m3 0h1m18 0h1m15 0h1m12 0h1m5 0h1m7 0h1m67 0h1m1 0h1m32 0h1m1 0h1M166 161.5h1m19 0h1m35 0h1m2 0h1m4 0h1m21 0h2m55 0h1m5 0h1m20 0h1m2 0h2m1 0h1m3 0h2m9 0h1m8 0h1m3 0h1m2 0h1m22 0h1m14 0h1M197 162.5h1m5 0h3m1 0h1m1 0h1m7 0h1m8 0h1m1 0h1m4 0h1m1 0h1m21 0h1m6 0h1m15 0h1m19 0h1m22 0h1m21 0h1m8 0h1m17 0h1m30 0h1M131 163.5h1m46 0h2m8 0h1m4 0h1m1 0h2m15 0h1m1 0h2m6 0h1m36 0h1m23 0h1m4 0h1m12 0h1m6 0h1m11 0h1m11 0h1m4 0h1m28 0h1M147 164.5h1m6 0h1m22 0h1m14 0h1m11 0h1m11 0h2m3 0h1m9 0h1m2 0h1m9 0h1m2 0h1m1 0h1m11 0h1m10 0h1m8 0h1m6 0h1m8 0h1m5 0h1m18 0h2m27 0h1m70 0h1M99 165.5h1m49 0h1m25 0h1m8 0h1m2 0h1m28 0h1m1 0h1m16 0h1m6 0h1m4 0h1m2 0h1m36 0h1m5 0h1m3 0h1m1 0h1m3 0h1m11 0h1m1 0h2m7 0h1m15 0h1m5 0h1m1 0h2m1 0h1m33 0h1m12 0h1M150 166.5h1m29 0h2m3 0h1m13 0h1m3 0h1m5 0h1m10 0h1m37 0h2m3 0h1m23 0h1m23 0h1m18 0h1m2 0h1m17 0h1m22 0h1M190 167.5h1m24 0h1m27 0h1m13 0h1m3 0h1m3 0h1m1 0h2m1 0h2m6 0h1m7 0h1m11 0h1m15 0h1m6 0h2m8 0h1m9 0h1m1 0h1m4 0h1m26 0h2M124 168.5h1m33 0h1m16 0h1m7 0h1m3 0h1m16 0h1m23 0h1m1 0h1m5 0h1m1 0h1m10 0h1m2 0h1m4 0h2m13 0h1m2 0h1m21 0h1m8 0h1m16 0h1m5 0h1m13 0h1m8 0h1m2 0h1m11 0h1m2 0h1M137 169.5h1m4 0h1m13 0h1m17 0h2m14 0h1m15 0h1m2 0h1m4 0h1m7 0h2m7 0h1m26 0h1m12 0h1m10 0h2m86 0h1m13 0h1M148 170.5h1m17 0h1m22 0h2m5 0h1m13 0h1m8 0h1m31 0h1m12 0h1m3 0h1m1 0h1m4 0h1m1 0h2m3 0h2m13 0h1m7 0h1m1 0h1m3 0h1m8 0h1m15 0h1m4 0h1m21 0h1m6 0h1M153 171.5h1m25 0h1m14 0h1m27 0h1m7 0h2m26 0h1m1 0h2m1 0h1m4 0h2m30 0h2m1 0h1m13 0h1m19 0h1m15 0h1m5 0h1m12 0h1m14 0h1m7 0h1M150 172.5h1m4 0h1m31 0h1m2 0h2m10 0h1m4 0h1m9 0h2m1 0h1m11 0h2m16 0h1m1 0h1m15 0h1m3 0h1m8 0h1m19 0h1m8 0h1m3 0h1m3 0h1m15 0h1m12 0h1m1 0h1m5 0h2m7 0h1m3 0h1m10 0h1m1 0h1m1 0h1M147 173.5h1m27 0h1m7 0h1m34 0h2m3 0h1m22 0h2m24 0h2m9 0h1m6 0h1m3 0h1m46 0h1m3 0h1m7 0h1m8 0h1m12 0h1m2 0h1m3 0h1M159 174.5h1m9 0h1m5 0h1m13 0h1m7 0h1m9 0h1m2 0h1m4 0h1m7 0h1m8 0h1m1 0h1m8 0h1m9 0h1m7 0h1m4 0h1m3 0h1m4 0h1m9 0h1m31 0h1m6 0h1m12 0h2m3 0h2m4 0h1m3 0h1m13 0h1m49 0h1M139 175.5h1m34 0h1m10 0h2m14 0h1m5 0h1m45 0h1m7 0h1m13 0h1m5 0h1m7 0h1m1 0h1m17 0h2m6 0h1m11 0h1m6 0h1m3 0h1m2 0h1m21 0h1M144 176.5h1m58 0h2m2 0h1m4 0h1m4 0h1m2 0h2m1 0h3m1 0h2m1 0h1m18 0h1m3 0h1m7 0h1m3 0h1m24 0h1m20 0h3m9 0h1m5 0h1m1 0h2m4 0h1m2 0h1m3 0h1m50 0h1M148 177.5h1m1 0h1m35 0h1m3 0h1m2 0h1m6 0h1m4 0h2m2 0h1m10 0h1m5 0h1m1 0h1m1 0h1m6 0h2m25 0h1m7 0h1m5 0h1m16 0h1m11 0h1m4 0h1m17 0h1m33 0h1m6 0h1M153 178.5h2m14 0h1m9 0h1m3 0h1m13 0h1m4 0h1m7 0h1m1 0h1m6 0h1m20 0h2m7 0h1m6 0h2m1 0h1m2 0h1m4 0h1m7 0h1m1 0h1m6 0h2m5 0h1m8 0h1m1 0h1m2 0h1m4 0h1m2 0h4m17 0h1m7 0h1m4 0h1m7 0h1m1 0h1m3 0h1m12 0h1M143 179.5h1m42 0h1m2 0h1m7 0h1m1 0h2m2 0h2m3 0h1m6 0h1m10 0h1m1 0h1m22 0h1m21 0h1m7 0h1m17 0h2m17 0h1m1 0h1m5 0h1m5 0h1m12 0h1m21 0h1M122 180.5h1m31 0h1m4 0h1m4 0h1m12 0h1m6 0h1m7 0h3m4 0h1m8 0h1m1 0h1m4 0h1m1 0h2m1 0h1m1 0h1m4 0h2m9 0h1m2 0h1m13 0h1m4 0h1m4 0h1m7 0h1m4 0h2m5 0h1m5 0h1m2 0h1m2 0h2m2 0h2m2 0h1m16 0h1m16 0h1m15 0h1m1 0h1m5 0h1m1 0h1m17 0h1M91 181.5h1m77 0h1m3 0h1m6 0h1m7 0h1m1 0h1m8 0h1m3 0h1m4 0h1m12 0h1m3 0h1m9 0h1m10 0h1m11 0h1m2 0h1m3 0h1m8 0h1m27 0h1m14 0h1m2 0h1m4 0h2m1 0h1m8 0h1m13 0h1m5 0h1m3 0h2M120 182.5h1m31 0h1m16 0h1m20 0h2m7 0h1m5 0h1m9 0h1m8 0h1m2 0h1m19 0h1m7 0h1m16 0h1m13 0h1m4 0h1m13 0h1m3 0h1m4 0h1m30 0h1m2 0h1m4 0h1m11 0h1m2 0h1m18 0h1M150 183.5h1m9 0h1m10 0h1m1 0h2m5 0h1m2 0h1m27 0h1m5 0h1m1 0h1m3 0h1m4 0h1m5 0h1m4 0h1m2 0h2m24 0h1m10 0h1m5 0h1m5 0h1m3 0h1m12 0h1m1 0h2m2 0h1m7 0h1m3 0h1m1 0h1m3 0h1m4 0h2m1 0h1m7 0h1m2 0h1m5 0h1m3 0h1m17 0h1M138 184.5h1m37 0h1m40 0h1m1 0h1m16 0h2m2 0h1m1 0h2m9 0h1m1 0h1m28 0h1m9 0h1m2 0h2m4 0h1m2 0h1m15 0h1m17 0h1m4 0h1m6 0h1m21 0h1m7 0h1m46 0h1M151 185.5h1m5 0h1m2 0h1m3 0h1m22 0h2m17 0h1m20 0h2m6 0h1m2 0h1m1 0h1m19 0h1m14 0h1m17 0h1m13 0h1m14 0h1m8 0h1m6 0h1m8 0h3m3 0h1m2 0h1m14 0h1m2 0h1m17 0h1M145 186.5h1m1 0h1m22 0h1m3 0h1m3 0h1m7 0h2m3 0h1m3 0h1m10 0h2m1 0h1m2 0h1m16 0h1m1 0h2m1 0h1m1 0h1m10 0h1m1 0h1m8 0h2m24 0h1m2 0h1m2 0h1m5 0h1m19 0h2m6 0h1m4 0h1m5 0h1m4 0h1m25 0h1M168 187.5h1m17 0h1m1 0h1m3 0h1m3 0h1m2 0h1m1 0h1m5 0h1m27 0h1m2 0h1m2 0h1m2 0h1m3 0h1m1 0h1m8 0h1m6 0h1m14 0h1m11 0h1m8 0h1m1 0h1m3 0h1m9 0h1m3 0h1m12 0h1m10 0h1m39 0h1m1 0h1m3 0h1M183 188.5h1m2 0h1m10 0h1m2 0h2m2 0h1m2 0h1m1 0h1m2 0h1m1 0h1m5 0h1m4 0h1m1 0h1m1 0h2m3 0h1m7 0h1m6 0h2m1 0h1m1 0h1m8 0h1m12 0h1m13 0h1m2 0h1m2 0h1m18 0h1m6 0h1m5 0h1m16 0h2m21 0h1m8 0h1m7 0h1m26 0h1M93 189.5h1m47 0h1m34 0h1m5 0h1m1 0h2m6 0h1m4 0h1m4 0h1m3 0h1m3 0h2m5 0h1m1 0h1m18 0h1m5 0h1m8 0h1m12 0h1m3 0h1m3 0h1m7 0h1m1 0h1m7 0h1m1 0h1m8 0h1m8 0h1m4 0h1m22 0h1m1 0h1m4 0h2M146 190.5h1m41 0h1m7 0h1m5 0h1m7 0h1m2 0h2m4 0h1m18 0h1m1 0h1m3 0h2m25 0h1m1 0h1m16 0h2m1 0h1m5 0h1m1 0h3m8 0h1m2 0h1m1 0h1m5 0h1m6 0h1m11 0h1m5 0h1m5 0h2m5 0h1m7 0h1m9 0h1M131 191.5h1m46 0h1m2 0h1m13 0h1m1 0h1m6 0h1m1 0h1m3 0h1m1 0h3m3 0h1m4 0h2m2 0h1m1 0h2m2 0h1m13 0h1m10 0h1m5 0h2m3 0h1m1 0h1m3 0h1m21 0h1m18 0h1m14 0h1m4 0h2m9 0h1m9 0h1m19 0h1m4 0h1m14 0h1M154 192.5h1m3 0h1m8 0h1m11 0h1m2 0h1m1 0h1m7 0h1m1 0h3m1 0h1m12 0h1m1 0h4m1 0h2m2 0h1m7 0h1m8 0h1m5 0h1m3 0h1m7 0h1m2 0h1m7 0h1m13 0h1m8 0h1m1 0h1m1 0h2m10 0h1m11 0h1m15 0h1m6 0h1m6 0h1m9 0h2m2 0h1m15 0h1M126 193.5h1m14 0h1m22 0h1m9 0h1m10 0h1m4 0h1m1 0h1m3 0h1m9 0h1m2 0h1m2 0h1m3 0h1m1 0h1m3 0h1m1 0h1m1 0h3m2 0h1m4 0h1m2 0h1m3 0h1m4 0h3m11 0h1m5 0h2m16 0h1m1 0h1m2 0h4m4 0h1m1 0h1m2 0h1m5 0h1m3 0h1m2 0h3m1 0h1m4 0h1m14 0h1m1 0h1m3 0h1m1 0h1m2 0h1m17 0h1m26 0h1m23 0h1m8 0h1M143 194.5h1m25 0h1m5 0h2m9 0h1m5 0h1m13 0h1m1 0h1m3 0h1m2 0h1m6 0h1m3 0h2m1 0h1m1 0h1m2 0h1m8 0h1m3 0h1m8 0h1m2 0h1m8 0h1m6 0h3m4 0h1m6 0h1m4 0h1m2 0h2m7 0h1m1 0h1m5 0h1m11 0h1m2 0h2m9 0h1m2 0h1m12 0h1m3 0h1m20 0h1M127 195.5h1m28 0h1m9 0h1m3 0h2m6 0h1m3 0h1m3 0h1m3 0h1m1 0h1m1 0h1m3 0h1m4 0h1m1 0h2m1 0h1m2 0h1m1 0h1m3 0h1m1 0h2m5 0h2m3 0h1m1 0h1m2 0h1m2 0h1m3 0h1m4 0h1m6 0h1m1 0h1m22 0h1m2 0h1m3 0h1m7 0h1m7 0h1m4 0h1m2 0h1m4 0h1m5 0h1m16 0h1m23 0h1m3 0h1m6 0h1m8 0h1m10 0h1m27 0h1M162 196.5h1m2 0h1m2 0h1m14 0h1m18 0h1m2 0h1m2 0h1m4 0h1m2 0h1m1 0h1m15 0h1m16 0h1m2 0h1m27 0h1m1 0h2m6 0h1m1 0h1m4 0h1m2 0h2m1 0h1m10 0h1m4 0h1m5 0h1m5 0h1m2 0h1m5 0h1m2 0h1m7 0h1m4 0h1m10 0h1m6 0h1m16 0h1M132 197.5h1m23 0h1m8 0h1m7 0h1m2 0h1m3 0h1m1 0h1m7 0h2m4 0h2m5 0h1m13 0h1m14 0h2m5 0h1m10 0h1m3 0h1m2 0h1m2 0h2m3 0h2m1 0h1m22 0h1m1 0h1m2 0h1m3 0h1m2 0h1m1 0h1m1 0h1m3 0h1m3 0h1m5 0h1m7 0h1m10 0h1m20 0h1m14 0h1m2 0h1m2 0h1M148 198.5h1m10 0h1m18 0h1m5 0h1m9 0h1m7 0h3m2 0h1m1 0h3m4 0h3m2 0h2m5 0h2m2 0h1m6 0h1m3 0h1m2 0h1m25 0h1m22 0h1m5 0h1m12 0h1m1 0h1m1 0h1m6 0h1m4 0h1m3 0h1m1 0h1m2 0h1m2 0h1m4 0h1m4 0h1m14 0h2m13 0h2M126 199.5h1m20 0h1m1 0h1m21 0h1m4 0h1m9 0h2m6 0h2m2 0h1m3 0h1m1 0h1m4 0h1m1 0h3m2 0h1m1 0h1m3 0h1m1 0h1m1 0h1m5 0h3m2 0h1m2 0h1m8 0h2m3 0h1m3 0h1m19 0h1m1 0h1m2 0h1m10 0h1m9 0h1m6 0h2m17 0h1m4 0h2m7 0h1m19 0h1m25 0h1M156 200.5h1m10 0h1m4 0h1m4 0h2m9 0h1m5 0h1m1 0h1m6 0h1m18 0h1m3 0h1m4 0h1m3 0h1m3 0h1m8 0h1m11 0h1m10 0h1m5 0h1m3 0h1m11 0h2m10 0h1m1 0h1m7 0h1m1 0h1m1 0h1m2 0h1m6 0h1m5 0h1m2 0h1m25 0h1m1 0h1m15 0h1M137 201.5h1m10 0h1m4 0h1m1 0h1m11 0h1m10 0h1m3 0h2m2 0h2m5 0h1m5 0h1m2 0h1m5 0h1m3 0h1m2 0h4m1 0h2m14 0h2m3 0h1m2 0h1m3 0h1m2 0h1m3 0h1m3 0h1m7 0h1m1 0h1m5 0h1m4 0h1m4 0h1m5 0h1m12 0h2m4 0h1m10 0h1m10 0h1m12 0h1m6 0h1m10 0h1m8 0h1m1 0h1M141 202.5h1m12 0h1m12 0h1m7 0h1m8 0h1m6 0h1m6 0h1m3 0h1m11 0h2m1 0h1m8 0h1m12 0h3m6 0h1m4 0h1m13 0h1m2 0h1m3 0h1m15 0h1m7 0h1m1 0h1m9 0h2m3 0h1m4 0h1m4 0h1m2 0h1m8 0h1m3 0h1m20 0h1M154 203.5h1m5 0h1m11 0h1m1 0h2m9 0h3m8 0h1m2 0h2m7 0h1m1 0h1m4 0h1m5 0h1m7 0h1m5 0h1m5 0h1m4 0h1m6 0h1m11 0h1m3 0h2m1 0h1m3 0h1m3 0h1m4 0h1m5 0h1m7 0h1m11 0h1m7 0h1m1 0h2m1 0h1m6 0h1m10 0h2m6 0h1m2 0h1m2 0h2m5 0h1m9 0h1m19 0h3M149 204.5h1m14 0h1m16 0h1m9 0h1m3 0h1m1 0h1m3 0h4m4 0h1m3 0h1m7 0h1m1 0h1m1 0h1m9 0h1m3 0h1m8 0h1m2 0h1m7 0h1m9 0h1m7 0h1m14 0h1m5 0h1m4 0h1m1 0h1m2 0h1m7 0h1m1 0h1m1 0h1m2 0h1m1 0h2m4 0h1m8 0h1m9 0h2m3 0h1m4 0h1M156 205.5h1m7 0h2m2 0h2m19 0h1m3 0h1m4 0h1m5 0h1m3 0h3m1 0h1m1 0h1m4 0h2m15 0h1m2 0h1m4 0h1m3 0h1m5 0h1m2 0h1m5 0h1m7 0h1m9 0h1m17 0h1m1 0h1m5 0h1m2 0h4m4 0h1m3 0h1m3 0h1m7 0h1m3 0h1m9 0h1m11 0h1m11 0h1m1 0h1m18 0h1M87 206.5h1m47 0h1m10 0h1m10 0h1m13 0h1m6 0h2m3 0h1m5 0h1m4 0h1m2 0h2m8 0h1m2 0h2m1 0h1m4 0h1m3 0h4m3 0h1m14 0h1m3 0h1m7 0h1m2 0h1m12 0h2m9 0h1m1 0h1m7 0h1m7 0h1m1 0h1m15 0h1m2 0h2m5 0h1m7 0h1m1 0h1m14 0h1m4 0h1m3 0h1m16 0h3m1 0h1m8 0h1M145 207.5h1m1 0h1m9 0h2m2 0h1m5 0h1m9 0h2m9 0h1m5 0h1m4 0h3m3 0h1m2 0h2m7 0h1m1 0h1m3 0h1m2 0h1m4 0h2m12 0h1m2 0h2m16 0h1m7 0h2m9 0h1m1 0h1m1 0h1m1 0h2m2 0h2m8 0h1m1 0h2m5 0h1m2 0h1m10 0h1m1 0h1m20 0h1m13 0h1m3 0h1M147 208.5h1m6 0h1m18 0h1m5 0h1m4 0h1m4 0h1m2 0h1m2 0h1m5 0h1m6 0h1m1 0h1m5 0h1m7 0h1m2 0h1m4 0h1m4 0h1m3 0h1m8 0h1m7 0h2m5 0h1m15 0h1m2 0h1m9 0h1m1 0h2m6 0h1m1 0h2m8 0h1m11 0h1m8 0h1m1 0h1m1 0h2m58 0h1M149 209.5h1m9 0h1m15 0h1m3 0h1m8 0h1m7 0h1m3 0h1m4 0h1m5 0h1m12 0h1m6 0h1m3 0h1m4 0h1m9 0h1m8 0h1m8 0h1m11 0h1m8 0h1m13 0h1m1 0h1m15 0h2m23 0h1m9 0h1m1 0h1m5 0h1m1 0h1m12 0h1m6 0h1M141 210.5h1m11 0h1m3 0h1m2 0h1m1 0h1m7 0h1m18 0h1m1 0h1m7 0h1m5 0h1m5 0h2m7 0h2m1 0h1m1 0h1m2 0h1m5 0h1m12 0h1m1 0h1m24 0h1m12 0h1m7 0h1m6 0h1m5 0h1m2 0h1m2 0h1m11 0h1m5 0h1m2 0h1m2 0h2m5 0h1m6 0h1m16 0h1M160 211.5h1m17 0h1m2 0h1m2 0h1m13 0h2m2 0h1m1 0h4m1 0h1m4 0h1m2 0h3m2 0h1m1 0h2m1 0h1m2 0h1m3 0h1m6 0h1m2 0h1m3 0h1m1 0h1m9 0h1m2 0h1m5 0h1m9 0h1m5 0h1m2 0h1m6 0h1m8 0h2m6 0h1m5 0h1m9 0h2m11 0h1m2 0h1m3 0h2m1 0h1m6 0h1m2 0h1m1 0h1m10 0h1m5 0h1M153 212.5h2m11 0h1m18 0h2m5 0h1m2 0h1m2 0h1m5 0h1m3 0h1m2 0h2m1 0h1m7 0h1m6 0h1m3 0h1m11 0h1m3 0h1m6 0h1m5 0h1m2 0h1m1 0h1m4 0h1m1 0h2m9 0h1m5 0h1m7 0h2m12 0h1m2 0h1m3 0h1m1 0h1m1 0h1m1 0h1m2 0h1m6 0h1m2 0h1m10 0h1m6 0h1m8 0h1m11 0h1M153 213.5h1m6 0h1m20 0h2m7 0h1m4 0h2m10 0h1m10 0h1m6 0h1m6 0h1m13 0h1m2 0h1m17 0h1m2 0h1m9 0h1m2 0h1m13 0h1m1 0h1m2 0h2m4 0h3m6 0h1m7 0h1m11 0h1m5 0h1m2 0h1m1 0h1m5 0h1m9 0h1m8 0h1m9 0h1m27 0h1M146 214.5h1m8 0h2m2 0h1m5 0h1m6 0h1m3 0h1m8 0h1m8 0h1m1 0h1m1 0h1m11 0h2m8 0h1m8 0h1m1 0h2m5 0h1m5 0h1m9 0h1m18 0h1m5 0h1m19 0h1m6 0h2m7 0h2m1 0h1m6 0h1m2 0h1m5 0h1m3 0h1m2 0h1m2 0h1m4 0h1m3 0h1m2 0h1m3 0h1M142 215.5h1m19 0h1m2 0h1m14 0h2m1 0h1m2 0h1m4 0h1m3 0h1m6 0h2m8 0h2m11 0h1m2 0h1m14 0h1m1 0h1m19 0h1m9 0h1m3 0h1m1 0h1m1 0h1m6 0h2m4 0h2m13 0h3m7 0h1m3 0h2m3 0h1m2 0h1m1 0h1m6 0h1m8 0h1m2 0h1m14 0h1m6 0h1m11 0h1m1 0h1m8 0h1M153 216.5h1m19 0h1m10 0h1m1 0h1m1 0h1m1 0h1m11 0h1m4 0h1m1 0h2m3 0h2m1 0h1m3 0h1m1 0h2m6 0h2m5 0h3m4 0h1m7 0h1m15 0h1m6 0h1m16 0h1m7 0h1m1 0h1m3 0h2m4 0h1m1 0h1m4 0h1m8 0h1m5 0h1m7 0h3m6 0h2m8 0h1M145 217.5h1m14 0h2m27 0h1m4 0h1m8 0h1m10 0h1m3 0h1m2 0h2m3 0h1m25 0h2m7 0h1m5 0h1m1 0h1m17 0h2m3 0h1m8 0h5m8 0h1m6 0h1m4 0h2m5 0h1m15 0h1m2 0h1m3 0h1m39 0h1m25 0h1M158 218.5h1m10 0h1m3 0h1m3 0h1m7 0h1m1 0h1m9 0h1m1 0h1m4 0h3m16 0h1m7 0h2m5 0h2m6 0h1m5 0h2m3 0h1m1 0h1m1 0h1m5 0h1m2 0h1m7 0h1m2 0h1m1 0h1m16 0h1m4 0h1m2 0h1m3 0h1m4 0h1m1 0h1m5 0h1m1 0h1m3 0h1m1 0h1m1 0h1m4 0h2m1 0h1m1 0h1m8 0h2m2 0h1m2 0h2m1 0h1m10 0h1m7 0h1M153 219.5h1m4 0h1m18 0h1m12 0h1m19 0h1m2 0h1m1 0h2m7 0h1m3 0h1m2 0h2m27 0h2m1 0h1m2 0h1m2 0h1m13 0h1m10 0h1m1 0h1m4 0h1m1 0h2m2 0h1m2 0h1m6 0h1m4 0h1m3 0h1m1 0h1m5 0h2m16 0h1m4 0h1m4 0h1m9 0h1m16 0h1M143 220.5h1m32 0h1m2 0h1m1 0h1m7 0h2m16 0h2m3 0h1m3 0h2m6 0h2m5 0h1m10 0h1m1 0h1m13 0h1m3 0h2m1 0h1m2 0h1m12 0h1m1 0h2m15 0h1m3 0h2m4 0h1m3 0h1m6 0h1m1 0h2m3 0h1m1 0h1m9 0h1m10 0h1m20 0h1m5 0h1M123 221.5h1m20 0h1m21 0h1m10 0h1m4 0h1m5 0h1m11 0h1m2 0h1m3 0h1m1 0h2m2 0h2m7 0h1m1 0h1m7 0h1m10 0h1m3 0h1m7 0h1m1 0h1m16 0h1m12 0h1m3 0h1m4 0h1m1 0h2m7 0h2m1 0h1m1 0h1m1 0h1m3 0h1m6 0h1m34 0h1m4 0h1m34 0h1M135 222.5h1m23 0h1m4 0h1m3 0h1m13 0h1m2 0h1m2 0h2m13 0h1m4 0h1m8 0h1m5 0h2m2 0h1m5 0h1m9 0h1m27 0h2m7 0h1m2 0h2m2 0h2m3 0h1m4 0h1m1 0h1m4 0h4m1 0h3m28 0h1m1 0h1m4 0h2m1 0h1m1 0h1m1 0h1m3 0h1m6 0h1m2 0h1m7 0h1m5 0h1m4 0h1m5 0h1M196 223.5h1m1 0h1m5 0h1m3 0h1m5 0h1m8 0h2m3 0h1m2 0h1m1 0h1m4 0h1m26 0h2m8 0h2m10 0h1m13 0h2m3 0h1m6 0h1m1 0h1m3 0h4m4 0h1m1 0h1m6 0h2m1 0h1m17 0h1m14 0h1m36 0h1M131 224.5h1m43 0h1m7 0h1m2 0h1m2 0h2m17 0h1m1 0h1m2 0h1m1 0h3m4 0h2m4 0h1m5 0h1m1 0h1m19 0h1m1 0h1m12 0h1m10 0h2m18 0h3m4 0h1m3 0h1m6 0h1m5 0h1m3 0h1m1 0h1m10 0h1m7 0h1m1 0h1m2 0h1m9 0h1m20 0h1m8 0h1M152 225.5h1m12 0h1m10 0h1m6 0h1m17 0h1m4 0h1m2 0h1m4 0h1m6 0h1m3 0h1m5 0h1m1 0h1m4 0h1m6 0h1m20 0h1m10 0h1m3 0h1m1 0h2m3 0h1m4 0h1m2 0h1m1 0h2m5 0h1m3 0h1m4 0h2m9 0h1m3 0h1m2 0h1m4 0h1m8 0h1m7 0h1m3 0h1m8 0h2M121 226.5h1m31 0h1m3 0h1m10 0h1m1 0h1m5 0h1m14 0h2m4 0h1m21 0h1m5 0h1m4 0h1m3 0h1m1 0h1m7 0h1m1 0h1m21 0h1m3 0h1m11 0h1m2 0h1m4 0h1m3 0h1m2 0h1m3 0h2m4 0h1m1 0h1m4 0h1m2 0h1m2 0h1m9 0h2m8 0h1m2 0h1m5 0h1m1 0h1m1 0h1m20 0h1M167 227.5h1m11 0h1m5 0h1m4 0h1m1 0h1m4 0h1m2 0h2m1 0h1m16 0h1m11 0h2m1 0h1m9 0h1m1 0h1m3 0h1m3 0h1m3 0h1m23 0h2m1 0h1m6 0h1m3 0h1m6 0h1m4 0h1m6 0h2m2 0h1m1 0h1m3 0h1m3 0h1m4 0h1m6 0h1m10 0h2m6 0h1m9 0h1m3 0h1M149 228.5h1m10 0h1m15 0h1m12 0h1m7 0h1m2 0h1m4 0h1m12 0h1m2 0h2m1 0h1m12 0h1m5 0h1m1 0h1m9 0h1m17 0h1m6 0h1m10 0h1m2 0h1m3 0h1m3 0h1m3 0h1m12 0h1m8 0h1m23 0h2m7 0h1m7 0h2m1 0h2m18 0h1M164 229.5h1m12 0h1m17 0h1m8 0h1m12 0h1m3 0h1m16 0h2m1 0h1m17 0h1m4 0h1m1 0h2m5 0h1m9 0h1m5 0h3m1 0h1m4 0h2m6 0h1m1 0h1m2 0h1m1 0h1m2 0h1m1 0h1m2 0h1m3 0h1m3 0h1m6 0h1m19 0h3m9 0h1m2 0h2m11 0h1M150 230.5h1m18 0h1m7 0h2m6 0h1m3 0h2m8 0h1m1 0h2m1 0h1m9 0h1m1 0h1m16 0h1m2 0h1m4 0h3m8 0h1m1 0h2m1 0h2m6 0h1m5 0h1m9 0h1m16 0h1m1 0h1m6 0h1m1 0h2m6 0h1m17 0h1m5 0h1m10 0h1m2 0h1m9 0h1m46 0h1M137 231.5h1m32 0h1m9 0h1m7 0h1m11 0h1m7 0h1m5 0h1m7 0h4m2 0h1m1 0h2m2 0h1m3 0h1m2 0h1m12 0h2m7 0h2m12 0h1m8 0h1m8 0h2m5 0h1m22 0h1m1 0h2m3 0h1m1 0h1m4 0h2m4 0h1m2 0h2m22 0h1m11 0h1m75 0h1M147 232.5h1m10 0h1m7 0h1m11 0h1m8 0h1m6 0h1m9 0h2m2 0h1m1 0h1m7 0h1m16 0h1m6 0h2m15 0h1m9 0h1m20 0h1m2 0h1m5 0h1m1 0h2m9 0h1m4 0h1m8 0h1m10 0h2m1 0h1m3 0h1m11 0h1m18 0h1m2 0h1m15 0h1m45 0h1M150 233.5h1m5 0h1m9 0h1m5 0h1m11 0h1m6 0h1m3 0h1m1 0h1m9 0h1m6 0h1m5 0h1m6 0h1m1 0h1m2 0h1m19 0h1m10 0h2m9 0h1m10 0h2m3 0h1m1 0h1m12 0h1m1 0h1m13 0h1m3 0h1m4 0h1m11 0h1m26 0h1m9 0h1m5 0h1M164 234.5h1m14 0h1m7 0h1m31 0h2m1 0h1m10 0h1m2 0h1m25 0h1m6 0h1m6 0h2m1 0h2m5 0h1m2 0h1m2 0h1m6 0h1m4 0h1m6 0h1m3 0h1m7 0h1m8 0h1m7 0h1m30 0h1m13 0h1m3 0h1m6 0h1M165 235.5h1m5 0h1m2 0h1m4 0h1m17 0h1m1 0h2m1 0h1m1 0h2m18 0h2m6 0h1m12 0h1m4 0h1m10 0h1m1 0h1m1 0h1m2 0h1m1 0h1m5 0h1m1 0h1m5 0h1m3 0h1m10 0h1m1 0h1m1 0h2m5 0h2m2 0h1m5 0h1m5 0h1m13 0h1m2 0h1m19 0h1m3 0h1M188 236.5h1m4 0h1m6 0h1m15 0h1m8 0h1m13 0h1m1 0h1m5 0h1m19 0h1m10 0h1m13 0h1m5 0h1m4 0h1m5 0h1m4 0h1m7 0h1m2 0h1m4 0h1m28 0h1m44 0h1M129 237.5h1m22 0h1m1 0h1m4 0h1m18 0h1m6 0h1m2 0h1m23 0h1m4 0h1m5 0h1m7 0h1m1 0h1m3 0h1m15 0h1m1 0h2m9 0h1m2 0h1m27 0h1m8 0h1m1 0h2m1 0h1m9 0h1m15 0h1m4 0h1M154 238.5h1m12 0h1m6 0h1m2 0h1m7 0h1m2 0h1m8 0h1m1 0h1m15 0h1m4 0h1m2 0h2m14 0h2m5 0h1m15 0h1m4 0h1m11 0h1m12 0h1m4 0h1m1 0h1m1 0h1m7 0h1m6 0h2m12 0h2m30 0h1M163 239.5h1m17 0h2m2 0h1m23 0h1m4 0h1m6 0h2m5 0h1m1 0h1m2 0h1m7 0h1m11 0h1m11 0h1m3 0h1m11 0h1m9 0h1m3 0h1m6 0h1m11 0h1m1 0h1m2 0h1m2 0h2m3 0h1m8 0h1m16 0h2m9 0h1M156 240.5h1m13 0h1m4 0h1m5 0h1m2 0h1m10 0h1m5 0h1m14 0h1m5 0h1m7 0h1m3 0h1m4 0h1m1 0h1m7 0h1m2 0h1m2 0h1m22 0h1m5 0h2m16 0h1m12 0h1m1 0h1m12 0h1m1 0h2m9 0h1m7 0h1m31 0h1M148 241.5h1m23 0h2m3 0h1m19 0h1m4 0h1m10 0h1m6 0h1m1 0h1m4 0h1m15 0h1m11 0h1m11 0h2m7 0h1m1 0h1m1 0h1m8 0h2m5 0h1m5 0h1m2 0h1m6 0h1m3 0h1m2 0h2m3 0h2m14 0h1m1 0h1m2 0h1m40 0h1m1 0h1M149 242.5h1m13 0h1m2 0h1m16 0h1m3 0h1m12 0h1m2 0h1m7 0h1m7 0h1m2 0h1m9 0h1m4 0h1m3 0h1m1 0h1m8 0h1m1 0h1m6 0h1m2 0h1m10 0h1m4 0h1m4 0h1m34 0h1m3 0h1m28 0h1m3 0h1m1 0h1m8 0h1m17 0h1M150 243.5h1m3 0h1m1 0h1m8 0h1m3 0h1m11 0h1m4 0h1m10 0h1m1 0h1m21 0h1m4 0h1m5 0h1m1 0h1m17 0h3m4 0h2m25 0h1m2 0h1m4 0h1m10 0h1m6 0h1m5 0h1m19 0h2m3 0h1m1 0h1m6 0h1m1 0h1m2 0h2m8 0h1M138 244.5h1m4 0h1m10 0h1m16 0h1m12 0h1m4 0h1m17 0h1m5 0h1m7 0h1m2 0h1m10 0h1m14 0h1m6 0h1m17 0h2m2 0h1m1 0h1m6 0h1m5 0h1m2 0h1m13 0h1m6 0h1m4 0h1m3 0h1m5 0h1m12 0h1m28 0h1M137 245.5h1m52 0h1m8 0h1m13 0h1m14 0h2m1 0h1m7 0h1m4 0h1m1 0h1m47 0h1m13 0h1m4 0h1m4 0h2m3 0h1m2 0h1m1 0h1m1 0h1m3 0h1m5 0h1m10 0h2m3 0h1m3 0h1m6 0h1m3 0h1M169 246.5h1m1 0h1m3 0h1m10 0h1m10 0h1m21 0h2m2 0h1m3 0h1m7 0h1m6 0h1m1 0h1m2 0h1m6 0h1m7 0h1m7 0h1m16 0h1m7 0h1m2 0h1m15 0h1m4 0h1m10 0h1m6 0h1m16 0h1m3 0h1m4 0h1m2 0h1M140 247.5h1m15 0h1m5 0h1m11 0h1m17 0h1m17 0h1m9 0h1m4 0h1m15 0h2m5 0h1m10 0h1m25 0h2m2 0h1m5 0h1m3 0h1m2 0h1m4 0h1m21 0h1m17 0h1m2 0h1m2 0h1m8 0h1m23 0h1M157 248.5h1m6 0h1m4 0h1m20 0h1m5 0h2m9 0h1m6 0h1m2 0h1m4 0h1m7 0h1m13 0h1m7 0h1m12 0h1m9 0h1m30 0h2m3 0h1m4 0h1m6 0h1m3 0h1m7 0h1m14 0h1m4 0h1m1 0h1M117 249.5h1m70 0h1m1 0h1m6 0h1m2 0h1m26 0h2m20 0h1m2 0h1m4 0h1m2 0h1m6 0h1m5 0h1m6 0h1m2 0h1m28 0h2m1 0h2m3 0h1m16 0h1m14 0h1m18 0h1M139 250.5h1m28 0h1m1 0h1m10 0h1m3 0h1m12 0h1m31 0h1m1 0h1m8 0h1m16 0h1m1 0h1m5 0h1m8 0h1m1 0h1m24 0h1m13 0h1m11 0h2m3 0h1m2 0h1m1 0h1m11 0h1m17 0h1M157 251.5h1m3 0h1m7 0h1m13 0h2m5 0h1m43 0h1m11 0h1m22 0h2m25 0h2m11 0h1m7 0h2m29 0h1m11 0h1m14 0h1m4 0h1M199 252.5h1m14 0h1m7 0h2m3 0h2m6 0h1m11 0h1m7 0h1m24 0h1m3 0h1m4 0h1m2 0h1m2 0h1m21 0h1m6 0h1m1 0h1m2 0h1m1 0h1m1 0h1m27 0h1m30 0h1m13 0h1M196 253.5h1m3 0h1m2 0h2m11 0h1m10 0h1m12 0h3m3 0h1m10 0h1m6 0h1m5 0h1m15 0h1m22 0h1m8 0h1m3 0h1m4 0h1m32 0h1m2 0h1m1 0h1m16 0h1M169 254.5h1m2 0h2m5 0h1m11 0h1m16 0h1m3 0h1m1 0h1m26 0h1m5 0h1m11 0h1m9 0h1m37 0h1m16 0h1m10 0h1m4 0h3m2 0h1m12 0h1m1 0h1M164 255.5h1m14 0h1m22 0h1m1 0h1m3 0h1m32 0h1m27 0h1m8 0h1m4 0h1m7 0h1m6 0h1m3 0h1m11 0h1m1 0h1m2 0h1m29 0h2m25 0h1m1 0h1m1 0h1M181 256.5h1m6 0h1m2 0h1m13 0h1m12 0h1m1 0h1m30 0h1m15 0h1m6 0h1m3 0h1m15 0h1m3 0h1m15 0h1m2 0h2m19 0h2m12 0h2m2 0h1m12 0h1m9 0h1m9 0h1m36 0h1M191 257.5h2m13 0h2m1 0h1m4 0h1m1 0h1m4 0h1m54 0h1m10 0h1m3 0h1m29 0h1m2 0h1m22 0h1m12 0h1m24 0h1m18 0h1M160 258.5h2m23 0h2m25 0h1m15 0h1m1 0h1m2 0h1m2 0h1m9 0h1m21 0h1m10 0h1m1 0h1m7 0h1m41 0h1m3 0h1m1 0h1m1 0h1m4 0h1m4 0h1M160 259.5h1m17 0h1m33 0h1m23 0h1m11 0h1m2 0h1m10 0h1m23 0h1m3 0h1m2 0h1m20 0h1m3 0h1m3 0h1m1 0h1m11 0h1m5 0h2m4 0h1m1 0h1m60 0h1M118 260.5h1m54 0h1m1 0h1m8 0h1m1 0h1m15 0h2m12 0h1m1 0h1m13 0h1m17 0h1m5 0h1m6 0h2m35 0h1m46 0h1m3 0h1M194 261.5h1m21 0h1m1 0h1m4 0h1m7 0h1m1 0h1m47 0h1m14 0h1m5 0h1m1 0h1m31 0h1m2 0h1m26 0h1m18 0h1M161 262.5h1m5 0h1m3 0h1m24 0h1m1 0h1m37 0h1m38 0h1m15 0h2m7 0h1m1 0h1m2 0h1m1 0h1m7 0h1m4 0h1m11 0h1m5 0h1m21 0h1m4 0h1m33 0h1M163 263.5h1m16 0h1m19 0h1m1 0h1m20 0h2m1 0h1m29 0h1m79 0h2m4 0h2m6 0h1m3 0h1m6 0h1m34 0h1M194 264.5h1m24 0h1m14 0h1m4 0h1m15 0h1m3 0h1m9 0h1m9 0h1m24 0h1m11 0h2m44 0h1M136 265.5h1m51 0h1m1 0h1m8 0h1m31 0h1m3 0h1m11 0h1m6 0h1m14 0h1m13 0h1m10 0h1m11 0h1m1 0h1m1 0h1m11 0h1m13 0h1m4 0h1m1 0h1m5 0h1m4 0h1m27 0h1M185 266.5h1m32 0h1m5 0h1m16 0h1m22 0h1m1 0h1m11 0h1m4 0h1m3 0h1m9 0h1m10 0h1m2 0h1m19 0h2m27 0h1m30 0h1M179 267.5h1m8 0h1m12 0h1m3 0h1m5 0h1m16 0h1m6 0h1m16 0h1m2 0h1m55 0h1m15 0h1m1 0h2m46 0h1M154 268.5h1m19 0h1m38 0h1m2 0h1m9 0h1m7 0h2m7 0h1m2 0h2m33 0h1m19 0h1m25 0h1m21 0h1M204 269.5h1m10 0h1m7 0h1m7 0h1m2 0h1m1 0h1m2 0h1m9 0h1m13 0h1m20 0h1m1 0h1m8 0h1m13 0h1m22 0h1m5 0h1M175 270.5h1m5 0h2m11 0h1m20 0h1m19 0h1m5 0h1m17 0h1m1 0h1m9 0h1m11 0h1m25 0h1m50 0h1m10 0h1m27 0h1M173 271.5h1m11 0h1m75 0h1m8 0h1m4 0h1m11 0h1m10 0h1m1 0h1m51 0h1m13 0h1m30 0h1M186 272.5h1m4 0h1m11 0h1m2 0h1m4 0h1m19 0h1m1 0h1m71 0h1m1 0h1m2 0h1m9 0h1m26 0h1m25 0h1M172 273.5h1m1 0h1m6 0h1m32 0h1m7 0h1m18 0h2m32 0h1m4 0h1m61 0h1m17 0h2M166 274.5h1m45 0h1m5 0h1m2 0h1m20 0h1m32 0h2m22 0h1m10 0h1m10 0h1m58 0h1M179 275.5h1m27 0h1m5 0h1m43 0h1m26 0h1m2 0h1m21 0h1m13 0h1m13 0h1m4 0h1M173 276.5h1m36 0h1m72 0h1m29 0h1m13 0h1m10 0h1m1 0h1m19 0h1M201 277.5h1m31 0h1m6 0h1m27 0h1m23 0h1m39 0h1m1 0h1M231 278.5h1m22 0h1m7 0h1m5 0h1m2 0h1m31 0h1M146 279.5h1m31 0h1m41 0h1m13 0h1m2 0h2m6 0h1m12 0h1m39 0h1m35 0h1m17 0h1M133 280.5h1m17 0h1m81 0h1m15 0h1m8 0h1m46 0h1m7 0h1m36 0h1m9 0h1M185 281.5h1m13 0h1m21 0h1m28 0h1m31 0h1m1 0h1m88 0h1M154 282.5h1m24 0h1m2 0h1m30 0h1m8 0h1m31 0h1m33 0h1m49 0h1m2 0h1m23 0h1m16 0h1M134 283.5h1m56 0h1m48 0h1m2 0h1m2 0h1m34 0h1m23 0h1m25 0h1m26 0h1M206 284.5h1m5 0h1m22 0h1m23 0h1m1 0h1m15 0h1m7 0h1m58 0h1m17 0h1m22 0h1M189 285.5h1m13 0h1m32 0h1m26 0h1m62 0h1M159 286.5h1m3 0h1m4 0h1m14 0h1m36 0h1m5 0h1m34 0h1m1 0h1m15 0h1m21 0h1m60 0h1m17 0h1M229 287.5h1m67 0h1m7 0h1m71 0h1M214 288.5h1m15 0h1m108 0h1m10 0h1M244 289.5h1m28 0h1M329 290.5h1M162 291.5h1m35 0h1m116 0h1M174 292.5h1m35 0h1m9 0h1m1 0h1m51 0h1m26 0h1m22 0h1M175 293.5h1m121 0h1M313 294.5h1m26 0h1M131 295.5h1m162 0h1m86 0h1M82 296.5h1m237 0h1m18 0h1M201 297.5h1m110 0h1M305 298.5h1M359 299.5h1M319 300.5h1m17 0h1m31 0h1M244 301.5h1m27 0h1m22 0h1m28 0h1m17 0h1M303 302.5h1m18 0h1m35 0h1M189 303.5h1M234 304.5h1m105 0h1m2 0h1m11 0h1m10 0h1M283 305.5h1m78 0h1m34 0h1M299 306.5h1M219 307.5h1M164 309.5h1M298 310.5h1M279 311.5h1m104 0h1M315 312.5h1M328 314.5h1M283 315.5h1m69 0h1M217 316.5h1M201 317.5h1M356 319.5h1M153 321.5h1M151 322.5h1M299 355.5h1"/>
<path id="db0" d="M889 88.5h1M840 97.5h2M894 98.5h1M849 99.5h2M914 101.5h2m19 0h2M821 103.5h2m129 0h1M903 104.5h1M845 105.5h1m57 0h1M924 106.5h1M898 107.5h2m24 0h1m6 0h1M770 108.5h1m116 0h2m42 0h1M770 109.5h1m158 0h1M896 110.5h1m32 0h1M896 111.5h1M818 112.5h1m37 0h1m89 0h1m6 0h1m15 0h2M807 113.5h2m1 0h1m19 0h1m57 0h1m57 0h1m6 0h1m50 0h1M789 114.5h2m19 0h1m93 0h2m1 0h1m15 0h1M907 115.5h2m14 0h1m40 0h2M829 116.5h2m73 0h2m65 0h1M833 117.5h1m45 0h2m26 0h1M936 118.5h2m19 0h2M879 119.5h2m61 0h1m31 0h2M794 120.5h1m53 0h1m19 0h1m73 0h1m21 0h1m53 0h1m3 0h1M848 121.5h1m19 0h1m37 0h4m54 0h1m53 0h1M818 122.5h1m49 0h1m33 0h2m93 0h2M818 123.5h1m21 0h1m6 0h1m68 0h2m31 0h2m35 0h1M828 124.5h2m17 0h1m60 0h2m10 0h1m65 0h1m19 0h1M782 125.5h2m12 0h1m3 0h2m53 0h1m13 0h2m29 0h1m26 0h2m46 0h1M875 126.5h1m28 0h1m22 0h1m3 0h2m7 0h1M804 127.5h2m61 0h4m4 0h1m17 0h1m10 0h1m26 0h2m4 0h1m9 0h1m14 0h1m2 0h1m1 0h2m9 0h2m6 0h1M816 128.5h1m36 0h1m39 0h1m5 0h1m3 0h1m43 0h1m15 0h1m38 0h1M816 129.5h1m1 0h2m20 0h2m11 0h1m4 0h1m3 0h1m36 0h1m3 0h1m1 0h2m45 0h1M847 130.5h2m9 0h1m3 0h1m32 0h1m15 0h1m10 0h1m8 0h1m44 0h1m7 0h1m8 0h1m15 0h2M841 131.5h1m20 0h1m34 0h1m3 0h1m9 0h1m10 0h1m8 0h1m40 0h2m10 0h1m8 0h1M841 132.5h1m13 0h2m27 0h1m10 0h3m3 0h1m8 0h1m12 0h1m21 0h2m6 0h1m11 0h2m48 0h1M791 133.5h2m62 0h1m15 0h1m11 0h2m1 0h1m1 0h2m15 0h1m9 0h1m6 0h1m17 0h1m37 0h2m23 0h1m13 0h1M814 134.5h2m24 0h2m14 0h1m13 0h1m12 0h1m2 0h1m28 0h1m1 0h2m16 0h1m12 0h2m18 0h1m6 0h1m27 0h1m13 0h1M792 135.5h2m8 0h1m66 0h1m10 0h1m4 0h2m3 0h1m8 0h1m1 0h1m5 0h1m6 0h2m7 0h1m7 0h1m3 0h1m18 0h1m4 0h1m7 0h1m7 0h2M801 136.5h2m16 0h1m8 0h1m12 0h2m32 0h1m4 0h1m9 0h1m33 0h2m8 0h4m12 0h1m13 0h2m1 0h1m8 0h1m3 0h2m35 0h1M801 137.5h2m16 0h1m8 0h1m1 0h1m12 0h3m6 0h1m8 0h1m8 0h2m7 0h1m10 0h1m22 0h2m8 0h2m58 0h2M781 138.5h1m11 0h2m13 0h1m21 0h1m12 0h1m5 0h1m9 0h1m1 0h1m9 0h3m12 0h2m1 0h1m14 0h1m7 0h1m17 0h2m19 0h1m7 0h2m51 0h1M781 139.5h1m19 0h1m12 0h2m31 0h1m1 0h1m3 0h1m1 0h1m3 0h1m11 0h1m32 0h1m5 0h2m2 0h1m3 0h2m12 0h4m11 0h2m2 0h1m10 0h1m10 0h2M803 140.5h1m3 0h1m3 0h2m13 0h2m9 0h2m8 0h1m3 0h2m2 0h2m51 0h2m2 0h2m18 0h3m10 0h1m5 0h1m10 0h3m3 0h2m10 0h1m1 0h1m10 0h1m27 0h2M764 141.5h1m13 0h1m23 0h2m3 0h1m5 0h1m27 0h1m33 0h3m26 0h2m3 0h1m14 0h1m4 0h1m27 0h1m2 0h1m1 0h3m4 0h1m5 0h1m6 0h1m4 0h2m57 0h2M764 142.5h1m43 0h2m6 0h1m6 0h1m8 0h1m8 0h1m16 0h1m9 0h3m27 0h3m10 0h2m5 0h1m2 0h1m8 0h1m29 0h1m8 0h2m15 0h2M796 143.5h2m18 0h1m20 0h1m19 0h2m5 0h1m12 0h1m6 0h1m13 0h1m1 0h1m5 0h3m2 0h2m3 0h1m1 0h1m7 0h2m2 0h1m10 0h1m32 0h1m10 0h1M778 144.5h1m38 0h2m4 0h1m3 0h1m25 0h1m10 0h1m2 0h1m3 0h2m13 0h1m18 0h3m8 0h1m2 0h4m14 0h1m15 0h1m20 0h1m17 0h1m10 0h2m23 0h1M804 145.5h2m4 0h1m9 0h2m1 0h1m26 0h2m15 0h1m17 0h2m24 0h1m7 0h2m4 0h1m4 0h1m16 0h1m5 0h1m5 0h3m2 0h1m9 0h1m3 0h2m4 0h2m1 0h1m10 0h1m5 0h1m17 0h1m5 0h3M810 146.5h2m7 0h1m14 0h1m1 0h2m4 0h8m39 0h1m35 0h1m21 0h1m16 0h1m10 0h2m27 0h1m12 0h1M811 147.5h1m13 0h1m16 0h1m2 0h2m8 0h1m7 0h1m10 0h1m2 0h1m4 0h2m1 0h2m9 0h1m8 0h1m21 0h1m5 0h1m1 0h2m15 0h1m41 0h2m21 0h1M779 148.5h1m16 0h1m34 0h1m7 0h1m4 0h1m29 0h1m2 0h1m1 0h2m2 0h1m8 0h2m13 0h1m7 0h1m1 0h2m4 0h1m12 0h4m9 0h1m5 0h1m9 0h2m6 0h1m2 0h1m9 0h1m6 0h1m7 0h1m19 0h1M758 149.5h2m41 0h1m2 0h2m14 0h2m5 0h1m3 0h2m3 0h1m3 0h2m2 0h2m10 0h3m3 0h1m1 0h2m2 0h2m8 0h1m23 0h1m8 0h2m1 0h2m6 0h2m6 0h2m5 0h1m1 0h1m9 0h1m2 0h1m2 0h1m1 0h1m18 0h1m9 0h1m37 0h1M732 150.5h1m27 0h2m39 0h1m12 0h2m20 0h1m1 0h1m2 0h1m3 0h1m10 0h1m10 0h1m10 0h1m9 0h1m3 0h3m7 0h1m16 0h2m7 0h1m29 0h2m9 0h1m25 0h1m29 0h1M780 151.5h1m15 0h1m4 0h1m4 0h1m10 0h1m3 0h2m5 0h2m8 0h1m6 0h1m3 0h1m1 0h2m25 0h1m5 0h2m2 0h1m2 0h2m1 0h1m9 0h1m6 0h1m9 0h2m5 0h2m14 0h4m2 0h2m5 0h1m21 0h2m6 0h1m7 0h3m1 0h4M780 152.5h1m14 0h2m22 0h1m8 0h1m16 0h1m3 0h1m6 0h1m5 0h2m14 0h1m14 0h1m7 0h2m7 0h1m16 0h1m9 0h2m5 0h3m10 0h1m1 0h2m2 0h1m3 0h2m4 0h2m2 0h3m7 0h1m6 0h2m3 0h2M794 153.5h1m10 0h1m8 0h2m3 0h1m3 0h1m1 0h1m3 0h2m1 0h1m20 0h1m6 0h2m1 0h2m1 0h3m4 0h3m7 0h1m3 0h1m18 0h3m1 0h1m16 0h3m6 0h1m9 0h1m25 0h2m4 0h2m4 0h2m32 0h2M786 154.5h3m16 0h1m2 0h2m15 0h1m6 0h1m1 0h2m6 0h2m8 0h1m12 0h2m2 0h1m2 0h1m8 0h3m5 0h1m8 0h1m3 0h2m2 0h2m8 0h3m6 0h2m7 0h1m1 0h1m3 0h2m5 0h1m20 0h1m3 0h1m5 0h1m3 0h3m22 0h1m22 0h1M789 155.5h1m15 0h1m2 0h1m24 0h1m10 0h2m2 0h1m5 0h1m9 0h2m3 0h3m3 0h1m6 0h2m5 0h1m3 0h3m2 0h1m12 0h1m5 0h2m2 0h1m9 0h1m2 0h1m2 0h1m2 0h1m7 0h1m4 0h2m13 0h1m1 0h1m7 0h1m3 0h1m1 0h2m11 0h1m1 0h2m6 0h1m22 0h1M789 156.5h2m7 0h1m4 0h1m1 0h1m17 0h1m6 0h1m2 0h1m10 0h2m12 0h2m11 0h1m8 0h2m8 0h2m1 0h1m5 0h1m4 0h2m5 0h1m8 0h2m9 0h1m5 0h1m6 0h1m1 0h2m1 0h3m1 0h2m5 0h2m6 0h3m9 0h1m3 0h1m12 0h1m2 0h1m17 0h1M793 157.5h1m4 0h1m7 0h1m4 0h2m6 0h1m11 0h2m12 0h1m4 0h2m2 0h1m1 0h1m33 0h1m5 0h1m2 0h1m3 0h1m4 0h1m1 0h1m9 0h2m1 0h2m15 0h1m8 0h1m1 0h1m9 0h1m6 0h1m3 0h1m2 0h1m4 0h1m1 0h2m27 0h1m2 0h2m2 0h1m2 0h1m1 0h1M776 158.5h2m15 0h1m8 0h2m15 0h1m1 0h2m5 0h2m3 0h1m22 0h1m7 0h2m8 0h1m10 0h2m4 0h2m4 0h1m5 0h2m3 0h1m5 0h2m1 0h1m1 0h2m14 0h2m31 0h1m3 0h4m6 0h1m11 0h1m13 0h2m1 0h2m10 0h1m1 0h1M788 159.5h2m22 0h1m4 0h1m15 0h2m7 0h1m11 0h1m1 0h2m16 0h1m4 0h2m8 0h1m7 0h4m3 0h1m7 0h2m10 0h1m41 0h1m4 0h2m9 0h1m10 0h2m4 0h2m16 0h2m6 0h3M800 160.5h1m5 0h1m10 0h5m4 0h1m1 0h1m13 0h1m18 0h1m6 0h1m10 0h1m4 0h1m4 0h1m2 0h1m5 0h1m2 0h4m1 0h1m9 0h2m5 0h2m4 0h2m1 0h1m27 0h2m4 0h1m16 0h1m23 0h1m8 0h1m12 0h2M804 161.5h1m1 0h1m2 0h1m7 0h2m7 0h1m2 0h2m1 0h2m1 0h1m1 0h1m23 0h1m6 0h1m1 0h1m8 0h1m3 0h1m5 0h2m1 0h1m8 0h1m3 0h1m7 0h3m1 0h1m4 0h4m3 0h1m2 0h1m3 0h2m35 0h1m1 0h2m5 0h2m5 0h1m10 0h2m1 0h1m5 0h2m5 0h1m2 0h2M809 162.5h1m25 0h1m9 0h1m3 0h2m3 0h1m4 0h2m2 0h2m21 0h1m6 0h1m4 0h2m1 0h2m1 0h1m2 0h1m6 0h1m2 0h1m4 0h2m1 0h2m1 0h2m3 0h1m3 0h1m4 0h2m3 0h4m4 0h1m17 0h2m1 0h1m12 0h1m12 0h2m4 0h2m5 0h1m14 0h2M756 163.5h1m8 0h2m32 0h1m6 0h1m1 0h2m37 0h3m1 0h1m2 0h1m1 0h2m12 0h2m20 0h2m2 0h2m1 0h1m3 0h2m2 0h1m1 0h1m13 0h1m13 0h3m5 0h1m9 0h1m1 0h1m1 0h2m6 0h2m5 0h1m2 0h1m2 0h1m6 0h1m1 0h1m15 0h2m18 0h1m22 0h1M776 164.5h1m16 0h1m12 0h1m2 0h1m2 0h1m11 0h2m12 0h2m8 0h1m7 0h2m2 0h3m8 0h4m5 0h2m8 0h3m10 0h2m1 0h1m2 0h1m9 0h1m2 0h1m3 0h2m1 0h1m1 0h2m24 0h1m17 0h1m5 0h2m4 0h1m11 0h1m10 0h1m14 0h1m10 0h1M756 165.5h1m39 0h2m9 0h1m20 0h1m15 0h2m16 0h1m3 0h2m6 0h2m13 0h2m12 0h2m3 0h1m1 0h2m3 0h2m12 0h2m4 0h1m3 0h2m8 0h1m25 0h1m2 0h2m3 0h5m11 0h1m9 0h3m2 0h1M803 166.5h1m4 0h1m22 0h2m1 0h2m4 0h2m3 0h3m13 0h2m6 0h3m1 0h3m1 0h3m9 0h1m7 0h1m4 0h2m7 0h1m9 0h2m1 0h2m3 0h3m3 0h1m1 0h1m2 0h2m7 0h3m4 0h1m3 0h1m10 0h2m6 0h2m15 0h1m6 0h1m2 0h2M818 167.5h1m1 0h4m1 0h2m9 0h1m6 0h1m8 0h2m4 0h1m3 0h2m3 0h1m5 0h2m1 0h2m8 0h1m15 0h1m1 0h1m3 0h1m14 0h2m6 0h1m1 0h1m3 0h1m11 0h1m11 0h4m7 0h1m10 0h1m4 0h1m7 0h1m38 0h1M761 168.5h1m51 0h1m3 0h2m4 0h1m14 0h1m4 0h1m11 0h2m1 0h3m8 0h3m4 0h1m7 0h1m1 0h1m7 0h4m5 0h1m8 0h2m6 0h2m7 0h2m6 0h2m17 0h1m5 0h1m9 0h2m1 0h2m6 0h3m1 0h1m10 0h1m36 0h1M761 169.5h1m24 0h1m26 0h1m7 0h1m1 0h1m5 0h1m5 0h2m1 0h1m1 0h1m12 0h2m5 0h6m4 0h2m1 0h1m5 0h1m3 0h2m1 0h1m2 0h1m2 0h1m4 0h1m2 0h1m2 0h2m5 0h1m2 0h2m5 0h1m3 0h3m12 0h2m3 0h1m3 0h1m13 0h1m4 0h2m5 0h2m10 0h1m1 0h2m7 0h1m6 0h2m4 0h1m24 0h2M769 170.5h2m15 0h1m4 0h1m3 0h2m12 0h2m8 0h1m1 0h1m9 0h2m10 0h1m18 0h3m8 0h1m3 0h1m1 0h2m5 0h1m2 0h2m1 0h1m4 0h2m3 0h2m2 0h1m5 0h1m1 0h1m4 0h6m1 0h2m10 0h1m15 0h2m10 0h1m6 0h2m11 0h1m3 0h1m1 0h1m66 0h1m5 0h1M773 171.5h2m3 0h1m16 0h1m6 0h1m16 0h2m3 0h1m5 0h2m12 0h1m1 0h1m7 0h1m3 0h3m3 0h1m7 0h2m2 0h3m9 0h2m1 0h1m1 0h1m2 0h1m1 0h1m6 0h3m5 0h1m7 0h1m3 0h1m12 0h1m4 0h2m1 0h1m1 0h1m5 0h2m10 0h1m2 0h3m5 0h2m4 0h2m1 0h1m28 0h2m48 0h1M782 172.5h2m17 0h1m1 0h1m11 0h1m8 0h1m5 0h1m7 0h2m5 0h2m4 0h1m2 0h1m1 0h2m2 0h1m1 0h3m3 0h2m3 0h1m2 0h2m3 0h1m1 0h3m7 0h1m2 0h4m9 0h1m6 0h2m8 0h2m3 0h4m16 0h1m1 0h1m6 0h2m2 0h1m4 0h1m2 0h2m7 0h1m10 0h2M763 173.5h1m31 0h3m3 0h1m2 0h3m3 0h1m3 0h1m5 0h1m3 0h1m4 0h1m4 0h1m2 0h1m2 0h1m6 0h1m10 0h1m9 0h2m3 0h2m1 0h2m3 0h1m3 0h1m7 0h1m5 0h1m6 0h1m5 0h2m2 0h1m1 0h2m1 0h1m4 0h2m3 0h2m5 0h2m11 0h3m3 0h1m3 0h2m1 0h1m3 0h2m4 0h4m3 0h2m10 0h4m3 0h1m13 0h2M749 174.5h1m13 0h1m28 0h1m4 0h1m2 0h2m8 0h1m12 0h1m5 0h1m2 0h2m1 0h3m3 0h1m6 0h1m2 0h1m6 0h1m5 0h2m6 0h2m1 0h1m3 0h1m1 0h1m3 0h1m2 0h3m1 0h5m7 0h2m2 0h2m2 0h2m3 0h1m2 0h1m6 0h1m5 0h1m5 0h1m8 0h2m2 0h1m6 0h1m1 0h1m5 0h1m8 0h2m6 0h1m9 0h1m5 0h1M783 175.5h2m6 0h2m4 0h2m10 0h3m3 0h1m12 0h1m6 0h2m1 0h2m3 0h1m4 0h1m36 0h4m5 0h1m1 0h1m12 0h1m5 0h1m2 0h3m3 0h2m9 0h2m8 0h1m5 0h1m17 0h2m2 0h2m1 0h1m7 0h1m6 0h2m6 0h2M794 176.5h2m11 0h3m1 0h1m3 0h1m3 0h2m5 0h1m1 0h2m20 0h1m17 0h2m1 0h1m1 0h1m3 0h1m1 0h2m2 0h2m2 0h1m4 0h1m11 0h1m7 0h2m2 0h2m1 0h1m4 0h1m6 0h3m6 0h1m16 0h2m14 0h1m1 0h1m17 0h3m11 0h1m2 0h2M788 177.5h2m9 0h1m3 0h1m14 0h1m6 0h2m3 0h1m6 0h1m3 0h1m4 0h2m7 0h2m6 0h1m3 0h5m1 0h1m3 0h2m9 0h2m8 0h2m4 0h1m6 0h2m3 0h1m3 0h1m3 0h1m1 0h1m16 0h2m7 0h1m10 0h4m8 0h1m4 0h3m12 0h1m16 0h2m22 0h2M777 178.5h1m1 0h2m1 0h1m14 0h2m2 0h3m11 0h2m1 0h1m5 0h2m1 0h2m1 0h1m2 0h1m9 0h2m1 0h2m6 0h1m1 0h1m6 0h1m4 0h2m14 0h2m30 0h1m3 0h5m9 0h2m7 0h1m1 0h1m4 0h3m2 0h2m10 0h1m2 0h2m3 0h1m6 0h1m7 0h1m2 0h1m11 0h2m28 0h1m31 0h1M777 179.5h1m1 0h1m20 0h2m3 0h2m11 0h4m2 0h1m3 0h1m8 0h2m3 0h3m3 0h1m8 0h2m13 0h1m15 0h3m2 0h1m2 0h5m14 0h3m10 0h2m5 0h1m11 0h1m1 0h1m13 0h2m2 0h2m4 0h1m10 0h1m10 0h2m8 0h1m3 0h1m11 0h1M773 180.5h1m11 0h2m13 0h1m22 0h2m3 0h2m7 0h1m5 0h1m1 0h2m1 0h3m4 0h1m7 0h2m2 0h1m4 0h1m3 0h1m16 0h1m4 0h2m7 0h1m8 0h2m11 0h2m9 0h2m2 0h1m6 0h1m2 0h2m5 0h2m9 0h4m1 0h1m2 0h1m3 0h1m5 0h1m14 0h1m3 0h1M753 181.5h1m31 0h2m18 0h1m8 0h2m5 0h2m6 0h1m2 0h1m19 0h1m2 0h1m2 0h3m3 0h4m6 0h1m15 0h2m5 0h3m6 0h2m13 0h1m7 0h3m7 0h1m1 0h1m1 0h1m7 0h1m2 0h3m2 0h2m2 0h1m8 0h2m1 0h3m1 0h3m14 0h1m14 0h1m6 0h1m8 0h1M793 182.5h1m25 0h1m8 0h3m1 0h1m2 0h1m1 0h4m11 0h1m2 0h1m3 0h3m14 0h2m12 0h1m10 0h3m2 0h2m3 0h6m3 0h1m4 0h1m3 0h1m1 0h1m4 0h3m8 0h1m12 0h3m2 0h1m2 0h1m4 0h1m1 0h2m4 0h1m14 0h1m14 0h1m8 0h1M792 183.5h2m9 0h1m24 0h2m5 0h1m19 0h1m3 0h1m3 0h1m6 0h3m5 0h2m7 0h1m1 0h2m2 0h1m7 0h2m6 0h3m12 0h2m9 0h3m4 0h1m3 0h1m11 0h3m6 0h2m3 0h2m16 0h1m10 0h1m4 0h1m13 0h1M768 184.5h2m4 0h2m19 0h1m2 0h1m4 0h1m36 0h4m4 0h5m2 0h1m3 0h1m2 0h2m3 0h1m2 0h3m2 0h1m3 0h1m3 0h1m1 0h1m8 0h1m15 0h2m14 0h1m4 0h1m5 0h1m4 0h1m3 0h1m5 0h2m9 0h2m3 0h1m1 0h2m1 0h2m4 0h1m5 0h1m12 0h1m2 0h1m4 0h1m4 0h2M766 185.5h2m7 0h1m13 0h2m2 0h1m3 0h1m6 0h1m2 0h2m6 0h3m6 0h1m2 0h2m19 0h3m5 0h1m5 0h1m4 0h1m2 0h2m1 0h1m1 0h2m4 0h3m12 0h1m1 0h1m5 0h1m10 0h2m19 0h2m1 0h1m1 0h2m1 0h1m1 0h2m11 0h3m1 0h2m3 0h2m9 0h1m16 0h3m12 0h2m6 0h2m25 0h2m10 0h1M798 186.5h1m5 0h1m5 0h1m2 0h2m26 0h1m28 0h1m1 0h4m4 0h1m1 0h2m11 0h2m1 0h1m6 0h1m1 0h1m7 0h2m4 0h1m8 0h2m5 0h1m5 0h1m6 0h1m1 0h2m10 0h1m2 0h1m5 0h1m8 0h1m3 0h2m5 0h1m1 0h1m12 0h2m1 0h1m14 0h2M757 187.5h2m25 0h1m6 0h2m13 0h1m4 0h2m4 0h1m2 0h1m3 0h1m9 0h1m2 0h1m8 0h1m1 0h1m3 0h2m5 0h4m7 0h2m2 0h2m4 0h1m1 0h1m1 0h1m1 0h1m1 0h1m5 0h1m1 0h1m4 0h3m3 0h4m6 0h1m1 0h3m1 0h1m11 0h3m6 0h1m5 0h1m3 0h1m2 0h2m4 0h3m1 0h1m5 0h1m1 0h1m6 0h1m2 0h4m1 0h1m14 0h1m18 0h3M781 188.5h2m1 0h1m12 0h2m1 0h1m23 0h1m1 0h2m16 0h3m1 0h1m11 0h1m9 0h2m12 0h1m1 0h2m6 0h1m1 0h2m3 0h1m19 0h2m14 0h3m1 0h1m2 0h1m4 0h2m2 0h2m8 0h1m7 0h1m34 0h4m1 0h1m3 0h1m30 0h1m11 0h2M767 189.5h2m2 0h1m16 0h2m1 0h1m2 0h1m3 0h1m1 0h1m3 0h1m5 0h3m10 0h1m11 0h1m8 0h2m2 0h1m11 0h1m12 0h1m2 0h1m1 0h1m6 0h3m5 0h1m2 0h2m13 0h1m8 0h1m7 0h1m6 0h2m2 0h2m22 0h1m7 0h1m1 0h2m5 0h3m3 0h1m1 0h2m3 0h1m14 0h1m2 0h1m3 0h1m4 0h2M771 190.5h1m9 0h1m9 0h1m2 0h1m11 0h2m12 0h3m13 0h2m2 0h1m3 0h2m12 0h2m1 0h1m7 0h1m5 0h2m1 0h1m7 0h1m12 0h1m2 0h1m24 0h2m3 0h1m3 0h3m4 0h4m6 0h1m1 0h2m3 0h1m2 0h2m11 0h1m16 0h1m6 0h2m6 0h1m7 0h2m3 0h3M774 191.5h2m10 0h1m8 0h1m11 0h2m7 0h1m5 0h2m1 0h3m4 0h1m1 0h1m1 0h2m6 0h1m7 0h1m3 0h1m3 0h2m5 0h2m7 0h1m2 0h1m5 0h2m3 0h1m4 0h1m3 0h2m1 0h2m4 0h2m3 0h1m1 0h1m4 0h2m2 0h1m2 0h1m10 0h1m2 0h2m3 0h1m6 0h2m4 0h2m16 0h1m1 0h2m1 0h1m15 0h1m10 0h2m5 0h2m3 0h1M787 192.5h1m4 0h2m1 0h1m20 0h1m3 0h2m1 0h3m2 0h1m5 0h1m2 0h1m1 0h2m3 0h1m7 0h1m1 0h2m4 0h1m1 0h2m4 0h1m12 0h2m3 0h2m2 0h4m3 0h1m2 0h1m2 0h1m8 0h1m7 0h1m3 0h1m2 0h1m6 0h3m4 0h2m15 0h1m10 0h2m11 0h1m4 0h2m19 0h1m8 0h1m4 0h1M739 193.5h2m51 0h2m3 0h2m10 0h2m10 0h2m2 0h4m9 0h1m8 0h2m3 0h1m9 0h1m1 0h2m9 0h2m6 0h1m3 0h2m3 0h3m12 0h2m2 0h1m6 0h1m6 0h1m1 0h1m2 0h1m3 0h1m2 0h1m7 0h1m7 0h3m2 0h1m28 0h1m3 0h1m3 0h2m4 0h2m11 0h1m7 0h1m28 0h2M760 194.5h1m9 0h2m13 0h1m2 0h2m6 0h2m6 0h1m5 0h1m7 0h3m3 0h2m1 0h1m3 0h1m5 0h1m11 0h1m2 0h1m5 0h1m2 0h2m1 0h2m1 0h4m5 0h1m3 0h1m1 0h4m1 0h1m6 0h1m3 0h2m17 0h2m4 0h1m1 0h5m3 0h2m2 0h2m10 0h1m12 0h2m12 0h1m9 0h1m2 0h3m2 0h2m1 0h1m6 0h2M760 195.5h1m43 0h1m2 0h3m8 0h3m2 0h1m1 0h1m1 0h1m1 0h4m1 0h3m7 0h1m15 0h2m2 0h1m2 0h1m4 0h2m4 0h1m1 0h1m2 0h1m9 0h1m12 0h1m3 0h2m5 0h2m4 0h2m5 0h3m1 0h3m7 0h3m2 0h1m15 0h2m22 0h1m4 0h4m1 0h2m4 0h1m15 0h1m4 0h2m27 0h2M793 196.5h2m8 0h2m8 0h2m1 0h1m1 0h3m4 0h1m1 0h1m2 0h3m10 0h3m2 0h1m11 0h2m1 0h3m1 0h5m4 0h2m11 0h1m1 0h1m5 0h1m10 0h2m5 0h3m2 0h1m10 0h2m5 0h2m2 0h2m9 0h1m1 0h2m2 0h2m3 0h2m3 0h2m7 0h1m41 0h3m7 0h1m3 0h1M806 197.5h1m5 0h2m11 0h1m16 0h2m4 0h1m1 0h1m3 0h1m2 0h2m5 0h2m3 0h1m6 0h2m3 0h2m6 0h1m1 0h1m14 0h2m1 0h1m12 0h2m2 0h1m1 0h1m4 0h1m17 0h1m1 0h1m1 0h1m8 0h1m1 0h1m23 0h2m5 0h1m2 0h1m13 0h1m15 0h1M765 198.5h1m14 0h2m1 0h1m15 0h2m5 0h1m18 0h2m1 0h1m6 0h3m9 0h2m1 0h1m3 0h1m2 0h1m1 0h1m1 0h2m6 0h1m5 0h1m5 0h2m9 0h2m23 0h3m8 0h1m2 0h1m3 0h1m1 0h3m1 0h1m4 0h1m4 0h1m11 0h4m11 0h2m20 0h1m4 0h1m5 0h1M816 199.5h2m6 0h2m12 0h1m13 0h1m5 0h2m4 0h2m4 0h2m3 0h1m1 0h2m3 0h1m5 0h2m5 0h1m1 0h2m2 0h1m4 0h1m7 0h2m3 0h3m4 0h1m6 0h2m3 0h2m1 0h1m4 0h6m2 0h1m17 0h2m5 0h1m12 0h1m14 0h1m2 0h4m33 0h3M805 200.5h2m1 0h1m3 0h1m1 0h2m11 0h2m3 0h1m13 0h1m5 0h2m4 0h1m3 0h2m7 0h1m3 0h1m3 0h1m5 0h2m1 0h2m8 0h1m2 0h1m2 0h1m7 0h2m12 0h1m1 0h2m3 0h5m1 0h1m1 0h1m1 0h1m2 0h2m1 0h1m21 0h2m6 0h1m4 0h1m4 0h2m11 0h1m8 0h1m1 0h1m5 0h1m7 0h1m42 0h1M801 201.5h1m16 0h1m9 0h1m2 0h2m13 0h1m4 0h1m11 0h2m9 0h2m3 0h2m1 0h1m5 0h1m5 0h1m2 0h1m2 0h1m6 0h1m12 0h2m14 0h4m3 0h4m5 0h1m3 0h1m1 0h3m4 0h2m1 0h1m2 0h1m12 0h1m12 0h1m5 0h2m14 0h3m5 0h1M801 202.5h2m7 0h1m1 0h1m5 0h1m13 0h1m17 0h1m3 0h2m3 0h3m2 0h1m6 0h2m3 0h2m2 0h1m1 0h1m8 0h1m2 0h2m8 0h1m1 0h2m4 0h1m18 0h2m8 0h2m2 0h1m2 0h1m9 0h2m4 0h1m3 0h1m11 0h1m4 0h2m2 0h1m1 0h2m4 0h1m2 0h1m3 0h1m5 0h2m8 0h2m16 0h2M789 203.5h2m11 0h1m5 0h2m6 0h2m2 0h1m11 0h1m5 0h1m3 0h2m6 0h8m6 0h2m5 0h2m10 0h2m6 0h2m3 0h2m6 0h1m1 0h1m1 0h1m3 0h1m5 0h3m3 0h4m2 0h2m5 0h3m3 0h6m3 0h1m3 0h1m3 0h2m2 0h2m3 0h1m3 0h1m4 0h1m6 0h2m1 0h1m2 0h1m8 0h1m3 0h3m37 0h2M752 204.5h2m23 0h1m16 0h2m10 0h1m14 0h2m9 0h1m1 0h1m3 0h1m3 0h1m1 0h1m2 0h2m1 0h1m4 0h1m3 0h2m3 0h1m1 0h2m4 0h1m6 0h1m12 0h1m2 0h1m3 0h3m2 0h3m3 0h2m2 0h1m4 0h2m11 0h1m1 0h1m3 0h1m28 0h1m1 0h1m8 0h1m1 0h1m10 0h1m5 0h1m7 0h1m4 0h1m12 0h1m6 0h1M777 205.5h1m16 0h2m2 0h1m3 0h1m5 0h1m7 0h2m16 0h1m10 0h2m3 0h4m5 0h2m3 0h2m8 0h1m3 0h2m3 0h4m2 0h3m2 0h1m2 0h2m1 0h1m1 0h2m1 0h2m3 0h2m2 0h1m2 0h1m1 0h2m5 0h1m7 0h4m3 0h1m3 0h1m1 0h1m10 0h2m2 0h2m5 0h1m2 0h2m6 0h1m1 0h1m1 0h1m3 0h3m1 0h5m5 0h4m15 0h1m1 0h1m6 0h1M777 206.5h2m12 0h2m2 0h3m4 0h2m4 0h1m2 0h1m1 0h1m13 0h1m1 0h1m10 0h1m3 0h1m1 0h1m1 0h1m7 0h1m8 0h3m4 0h1m1 0h1m1 0h1m4 0h1m6 0h1m2 0h4m5 0h1m2 0h2m2 0h2m2 0h3m7 0h2m3 0h2m1 0h2m3 0h2m1 0h2m2 0h1m1 0h1m1 0h1m1 0h2m2 0h2m19 0h1m9 0h1m7 0h1m2 0h1m2 0h1m7 0h3m11 0h4M746 207.5h1m46 0h1m17 0h2m7 0h1m1 0h1m5 0h2m4 0h1m5 0h7m1 0h1m3 0h3m1 0h1m2 0h2m7 0h1m2 0h2m3 0h1m7 0h1m3 0h3m9 0h3m4 0h1m4 0h1m3 0h1m16 0h1m5 0h3m2 0h1m3 0h2m2 0h2m9 0h1m5 0h2m5 0h1m3 0h1m7 0h1m4 0h1m17 0h1M779 208.5h2m3 0h1m5 0h2m1 0h1m11 0h1m3 0h2m12 0h3m1 0h2m6 0h2m7 0h1m1 0h1m6 0h2m1 0h2m2 0h1m1 0h1m4 0h1m2 0h2m6 0h3m3 0h1m1 0h1m8 0h2m4 0h1m1 0h2m4 0h1m4 0h1m13 0h1m4 0h1m1 0h3m6 0h1m3 0h2m3 0h1m2 0h3m8 0h1m1 0h1m6 0h1m14 0h2m1 0h1m19 0h1m4 0h1m7 0h1m28 0h2M784 209.5h1m2 0h1m3 0h1m1 0h1m9 0h2m5 0h1m10 0h2m4 0h1m4 0h1m5 0h1m9 0h1m1 0h2m11 0h2m2 0h1m5 0h1m1 0h1m2 0h2m5 0h3m1 0h1m9 0h1m8 0h2m8 0h1m12 0h2m2 0h1m3 0h1m4 0h3m6 0h2m1 0h1m6 0h1m5 0h1m1 0h2m13 0h2m6 0h1m4 0h2m13 0h1m4 0h1m7 0h1M791 210.5h1m8 0h2m2 0h1m15 0h2m1 0h2m7 0h1m2 0h1m1 0h2m6 0h2m3 0h2m2 0h1m8 0h4m3 0h1m2 0h1m1 0h4m3 0h1m6 0h1m9 0h1m8 0h1m1 0h1m4 0h1m2 0h4m8 0h1m11 0h2m1 0h4m6 0h1m7 0h1m2 0h1m3 0h2m1 0h1m12 0h2m8 0h2m7 0h1m6 0h1m2 0h1M791 211.5h2m13 0h2m2 0h1m13 0h1m6 0h2m1 0h2m1 0h2m1 0h1m3 0h1m9 0h1m5 0h1m2 0h1m1 0h1m5 0h2m4 0h1m3 0h3m3 0h2m4 0h2m1 0h1m2 0h1m1 0h1m8 0h1m4 0h2m8 0h1m12 0h1m4 0h1m6 0h2m3 0h2m4 0h1m4 0h2m2 0h1m2 0h1m13 0h1m1 0h2m6 0h1m2 0h1m4 0h1m4 0h1m1 0h2m1 0h1m8 0h2M767 212.5h2m3 0h2m47 0h1m8 0h5m5 0h1m2 0h2m4 0h1m5 0h1m3 0h1m6 0h2m4 0h2m3 0h1m3 0h2m1 0h1m2 0h2m3 0h2m2 0h1m2 0h1m5 0h1m1 0h3m2 0h2m1 0h2m2 0h2m3 0h2m14 0h2m3 0h2m6 0h1m7 0h1m6 0h3m41 0h2M772 213.5h2m7 0h2m6 0h1m9 0h1m4 0h2m13 0h1m6 0h1m1 0h1m3 0h1m15 0h2m9 0h5m4 0h2m4 0h1m2 0h2m20 0h3m3 0h2m12 0h2m4 0h1m2 0h2m4 0h1m3 0h2m4 0h3m5 0h1m10 0h2m17 0h1m5 0h1m14 0h1m23 0h2M803 214.5h1m13 0h2m13 0h3m1 0h1m5 0h1m6 0h2m3 0h2m8 0h1m2 0h1m3 0h2m1 0h2m3 0h1m8 0h1m20 0h1m1 0h2m13 0h1m4 0h1m10 0h1m6 0h1m1 0h1m2 0h2m4 0h2m1 0h2m1 0h3m2 0h1m4 0h3m3 0h1m12 0h1m15 0h2m19 0h2M773 215.5h2m14 0h1m13 0h1m1 0h2m2 0h1m2 0h3m4 0h2m10 0h1m2 0h1m1 0h1m4 0h2m1 0h1m1 0h1m2 0h2m4 0h1m19 0h1m3 0h1m3 0h1m2 0h5m1 0h1m7 0h3m1 0h2m1 0h1m1 0h1m1 0h1m2 0h6m3 0h4m1 0h1m1 0h2m9 0h1m1 0h2m1 0h1m1 0h4m8 0h2m10 0h3m2 0h1m2 0h2m8 0h2m3 0h1m6 0h2m14 0h2m34 0h2M781 216.5h2m14 0h2m10 0h1m2 0h1m6 0h1m7 0h1m11 0h3m5 0h1m2 0h1m9 0h1m6 0h2m7 0h1m15 0h1m1 0h2m4 0h1m9 0h1m1 0h1m1 0h1m14 0h1m2 0h1m8 0h9m7 0h3m2 0h1m3 0h1m3 0h2m20 0h1m10 0h2m2 0h2m2 0h2m9 0h2m9 0h1M796 217.5h1m3 0h1m13 0h1m6 0h2m27 0h1m3 0h1m3 0h2m2 0h1m2 0h2m5 0h2m1 0h2m1 0h1m3 0h3m5 0h1m21 0h1m16 0h1m2 0h1m5 0h2m4 0h1m3 0h3m6 0h1m5 0h2m1 0h2m9 0h2m5 0h1m18 0h2m4 0h2m10 0h1m7 0h1M781 218.5h4m1 0h2m11 0h2m10 0h1m2 0h1m1 0h1m5 0h1m12 0h1m2 0h1m1 0h1m5 0h1m8 0h2m7 0h2m1 0h2m4 0h1m1 0h1m2 0h1m3 0h1m3 0h1m8 0h4m17 0h4m9 0h2m7 0h1m1 0h2m3 0h2m13 0h1m21 0h1m1 0h1m27 0h1m8 0h2m8 0h1M798 219.5h1m12 0h1m4 0h1m11 0h1m1 0h1m14 0h2m2 0h2m12 0h1m1 0h1m7 0h1m4 0h1m2 0h2m3 0h5m1 0h1m13 0h2m8 0h1m11 0h1m3 0h3m3 0h1m1 0h2m16 0h2m25 0h1m16 0h1m1 0h1m16 0h1m9 0h1m3 0h2M755 220.5h2m8 0h2m21 0h2m6 0h1m16 0h1m1 0h2m3 0h1m8 0h1m1 0h2m2 0h1m13 0h4m6 0h1m9 0h2m9 0h2m5 0h1m1 0h2m20 0h1m4 0h1m18 0h2m5 0h2m6 0h1m6 0h1m3 0h3m5 0h2m5 0h1m8 0h1m2 0h2m2 0h1m9 0h1m1 0h1m9 0h1M788 221.5h1m8 0h2m17 0h1m3 0h1m1 0h1m6 0h1m6 0h2m2 0h1m15 0h1m1 0h1m3 0h1m5 0h2m4 0h2m4 0h1m3 0h1m2 0h1m1 0h1m5 0h1m5 0h1m9 0h1m2 0h1m4 0h2m1 0h2m2 0h2m1 0h1m9 0h1m9 0h1m2 0h2m1 0h1m1 0h1m3 0h1m2 0h2m15 0h4m1 0h1m5 0h1m8 0h2m24 0h1m22 0h2M798 222.5h1m13 0h2m2 0h3m1 0h3m6 0h2m8 0h1m6 0h3m1 0h1m2 0h1m7 0h1m5 0h1m4 0h3m3 0h1m4 0h2m1 0h2m1 0h2m3 0h2m5 0h1m10 0h1m5 0h2m1 0h1m1 0h1m4 0h2m10 0h2m4 0h1m2 0h3m2 0h2m20 0h2m1 0h2m5 0h1m8 0h1m4 0h2m5 0h2M744 223.5h1m32 0h1m8 0h2m10 0h1m3 0h1m6 0h2m2 0h3m7 0h1m11 0h1m7 0h2m2 0h2m1 0h1m2 0h1m6 0h2m5 0h2m8 0h2m5 0h1m4 0h2m2 0h1m8 0h1m4 0h1m4 0h1m2 0h2m2 0h1m3 0h1m3 0h1m23 0h2m7 0h3m5 0h1m3 0h1m3 0h1m2 0h1m10 0h1m4 0h1M721 224.5h2m49 0h1m4 0h1m9 0h1m14 0h1m2 0h1m4 0h1m12 0h1m5 0h1m5 0h1m6 0h2m1 0h3m7 0h2m1 0h1m7 0h1m3 0h1m4 0h1m3 0h2m1 0h1m1 0h2m1 0h2m3 0h1m5 0h1m1 0h2m1 0h3m1 0h1m10 0h1m4 0h1m4 0h1m7 0h2m4 0h2m10 0h3m3 0h3m22 0h1m5 0h2m10 0h1m22 0h1M787 225.5h1m8 0h2m7 0h1m23 0h1m3 0h1m4 0h1m5 0h2m1 0h1m7 0h2m1 0h1m11 0h1m3 0h1m2 0h1m2 0h1m8 0h1m1 0h1m4 0h2m5 0h1m1 0h1m5 0h2m1 0h1m10 0h2m8 0h3m2 0h1m1 0h1m8 0h1m3 0h1m5 0h1m2 0h2m12 0h1m2 0h1m5 0h1m4 0h1m10 0h1m22 0h1M777 226.5h1m6 0h2m17 0h2m5 0h1m8 0h2m5 0h1m4 0h1m1 0h3m3 0h2m8 0h4m3 0h2m2 0h1m2 0h2m3 0h1m2 0h1m1 0h2m6 0h2m1 0h1m6 0h1m5 0h1m5 0h1m1 0h1m6 0h3m1 0h1m2 0h1m2 0h2m3 0h1m5 0h2m4 0h2m2 0h1m7 0h1m3 0h1m4 0h1m12 0h4m4 0h1m1 0h1m1 0h3m1 0h1m5 0h1m5 0h2m24 0h2m8 0h1M772 227.5h1m1 0h1m18 0h1m2 0h2m11 0h2m8 0h1m6 0h1m8 0h2m4 0h2m1 0h2m3 0h2m1 0h1m5 0h3m1 0h1m4 0h2m4 0h2m4 0h1m1 0h1m11 0h1m3 0h1m2 0h3m5 0h1m2 0h1m1 0h4m2 0h1m1 0h2m5 0h1m2 0h1m2 0h2m4 0h2m5 0h1m2 0h3m7 0h1m5 0h1m2 0h2m8 0h1m6 0h1m2 0h1m1 0h1m44 0h1M780 228.5h1m12 0h1m16 0h1m1 0h3m13 0h2m1 0h1m2 0h5m3 0h1m6 0h1m7 0h1m2 0h1m1 0h1m2 0h2m7 0h1m4 0h2m3 0h1m2 0h2m1 0h2m5 0h3m5 0h2m7 0h1m2 0h2m6 0h2m1 0h1m3 0h2m3 0h1m9 0h1m2 0h1m1 0h1m3 0h1m6 0h3m5 0h1m2 0h1m2 0h3m7 0h4m1 0h3m1 0h1m12 0h1m4 0h2M735 229.5h1m55 0h3m5 0h2m2 0h1m13 0h1m5 0h2m7 0h2m15 0h1m8 0h4m2 0h2m4 0h1m3 0h1m18 0h1m2 0h5m2 0h1m3 0h3m1 0h1m2 0h1m3 0h1m3 0h1m14 0h2m3 0h2m7 0h1m4 0h1m1 0h1m4 0h3m1 0h3m2 0h3m3 0h1m27 0h1m10 0h1M754 230.5h1m27 0h1m1 0h2m2 0h1m7 0h1m10 0h1m3 0h1m6 0h2m12 0h1m2 0h1m4 0h1m2 0h1m4 0h1m9 0h2m2 0h2m16 0h1m2 0h2m3 0h2m1 0h1m1 0h1m6 0h1m2 0h1m5 0h1m1 0h3m6 0h1m1 0h4m2 0h1m8 0h1m5 0h1m7 0h1m6 0h1m4 0h2m2 0h1m1 0h2m10 0h1m20 0h2m28 0h1m8 0h1M788 231.5h1m18 0h1m20 0h5m15 0h1m5 0h1m2 0h2m4 0h1m4 0h3m1 0h2m3 0h2m1 0h1m10 0h1m8 0h2m2 0h2m7 0h3m3 0h2m3 0h2m16 0h2m1 0h7m8 0h2m9 0h1m1 0h1m1 0h2m4 0h2m1 0h1m1 0h3m22 0h2m3 0h2m14 0h1m1 0h1m6 0h1M800 232.5h3m22 0h2m2 0h1m6 0h1m1 0h2m3 0h1m7 0h1m8 0h2m6 0h2m7 0h1m5 0h2m3 0h7m4 0h2m7 0h2m4 0h1m2 0h1m3 0h4m10 0h3m10 0h4m2 0h1m3 0h1m2 0h1m15 0h2m1 0h3m1 0h1M763 233.5h1m42 0h2m9 0h2m14 0h1m5 0h1m16 0h1m2 0h1m3 0h2m5 0h2m1 0h1m3 0h1m8 0h1m6 0h2m5 0h2m7 0h1m8 0h2m3 0h3m2 0h2m18 0h1m1 0h2m1 0h1m4 0h2m1 0h1m12 0h1m8 0h1m2 0h3m4 0h2m2 0h3m5 0h1m17 0h1m22 0h1M763 234.5h1m2 0h1m51 0h1m6 0h1m1 0h1m5 0h1m12 0h2m3 0h2m4 0h1m3 0h3m6 0h2m2 0h3m2 0h1m1 0h1m12 0h3m1 0h1m6 0h1m5 0h1m7 0h1m7 0h2m11 0h1m7 0h1m1 0h2m1 0h2m3 0h1m1 0h2m7 0h1m3 0h2m6 0h1m1 0h1m3 0h2m34 0h1m16 0h1m8 0h2M766 235.5h1m32 0h2m5 0h1m5 0h1m8 0h1m3 0h2m13 0h1m1 0h2m5 0h1m2 0h1m1 0h2m1 0h1m5 0h1m2 0h3m1 0h4m1 0h2m1 0h2m3 0h1m2 0h1m7 0h1m6 0h2m2 0h1m7 0h1m6 0h2m15 0h5m8 0h1m4 0h2m31 0h1m8 0h1m6 0h2m17 0h1M806 236.5h1m5 0h1m7 0h2m9 0h1m2 0h2m4 0h1m2 0h1m1 0h1m3 0h1m13 0h1m1 0h7m11 0h1m1 0h2m12 0h3m16 0h1m1 0h2m7 0h2m11 0h1m7 0h4m7 0h2m7 0h2m8 0h2m1 0h1m4 0h1m12 0h1m1 0h1m25 0h1M746 237.5h2m51 0h1m8 0h1m11 0h1m12 0h2m3 0h1m4 0h1m10 0h1m3 0h1m4 0h1m2 0h2m8 0h1m2 0h1m3 0h2m11 0h2m3 0h3m8 0h1m5 0h2m1 0h2m2 0h2m3 0h2m2 0h1m3 0h2m3 0h1m2 0h2m10 0h1m23 0h2m6 0h1m12 0h1m42 0h2m1 0h1M756 238.5h2m7 0h2m26 0h2m11 0h1m7 0h1m2 0h1m20 0h1m16 0h2m2 0h2m9 0h1m5 0h1m2 0h1m7 0h1m3 0h2m7 0h2m16 0h1m1 0h1m3 0h2m2 0h2m23 0h2m1 0h1m1 0h1m1 0h2m2 0h1m3 0h2m4 0h1m5 0h1m1 0h1m10 0h1m1 0h2m17 0h2M763 239.5h1m16 0h2m24 0h1m3 0h1m11 0h2m1 0h2m1 0h1m14 0h1m11 0h2m4 0h2m24 0h4m3 0h1m22 0h2m1 0h1m3 0h2m1 0h3m12 0h1m3 0h2m2 0h1m3 0h1m20 0h3m3 0h1m2 0h1m2 0h3m9 0h1m25 0h1M770 240.5h1m19 0h2m23 0h1m1 0h3m2 0h1m6 0h1m1 0h1m1 0h2m6 0h1m3 0h1m1 0h2m2 0h2m5 0h1m9 0h2m1 0h2m9 0h1m5 0h3m4 0h2m7 0h4m9 0h1m6 0h1m1 0h1m2 0h1m4 0h1m6 0h2m4 0h1m27 0h3m6 0h1m24 0h2m4 0h1m13 0h1M753 241.5h2m35 0h1m28 0h1m2 0h1m1 0h1m16 0h1m5 0h2m4 0h2m3 0h1m18 0h1m14 0h2m1 0h1m4 0h2m4 0h4m2 0h3m11 0h1m9 0h1m5 0h1m4 0h1m11 0h1m24 0h1m17 0h2M762 242.5h2m56 0h3m5 0h1m8 0h1m5 0h2m2 0h2m7 0h1m1 0h1m4 0h1m9 0h2m1 0h2m4 0h3m2 0h1m13 0h1m6 0h1m11 0h2m4 0h1m8 0h2m12 0h4m3 0h1m3 0h1m7 0h1m7 0h3m5 0h1m27 0h3m9 0h2M749 243.5h1m15 0h2m33 0h1m20 0h2m2 0h1m2 0h1m8 0h2m4 0h1m10 0h1m3 0h1m5 0h2m3 0h2m3 0h1m2 0h2m21 0h2m7 0h1m16 0h2m3 0h2m6 0h1m9 0h2m8 0h1m5 0h3m18 0h2m4 0h1m2 0h2m19 0h1m1 0h1m3 0h1M792 244.5h2m15 0h1m2 0h3m23 0h1m5 0h2m5 0h2m5 0h1m2 0h7m6 0h1m3 0h2m1 0h2m2 0h1m1 0h2m3 0h3m1 0h2m6 0h1m1 0h1m2 0h1m1 0h2m2 0h1m4 0h2m6 0h2m2 0h1m4 0h2m18 0h1m5 0h2m2 0h2m3 0h1m20 0h1m4 0h1m19 0h1m3 0h1M770 245.5h1m38 0h1m14 0h2m2 0h1m13 0h2m15 0h1m14 0h1m1 0h1m2 0h2m6 0h2m1 0h1m2 0h4m7 0h1m1 0h2m3 0h1m4 0h2m1 0h3m10 0h1m3 0h2m1 0h1m11 0h2m1 0h2m6 0h1m2 0h2m3 0h1m1 0h1m6 0h1m1 0h1m10 0h1m3 0h1m9 0h1m1 0h1M770 246.5h1m21 0h2m9 0h1m3 0h1m5 0h1m9 0h2m3 0h1m1 0h1m10 0h2m2 0h1m3 0h2m4 0h1m3 0h1m2 0h3m9 0h2m1 0h2m10 0h1m4 0h3m5 0h1m1 0h1m2 0h1m8 0h2m1 0h1m3 0h1m4 0h2m18 0h2m6 0h3m4 0h1m1 0h1m3 0h2m6 0h3m10 0h1m1 0h3m13 0h1m10 0h3M764 247.5h1m52 0h2m11 0h1m3 0h2m3 0h2m9 0h1m8 0h1m2 0h1m8 0h2m9 0h2m5 0h1m5 0h1m7 0h2m5 0h1m13 0h1m2 0h3m5 0h4m3 0h1m4 0h3m5 0h2m1 0h1m2 0h1m4 0h2m2 0h1m4 0h3m12 0h3m11 0h2m15 0h1M794 248.5h4m5 0h1m11 0h1m14 0h1m19 0h1m8 0h1m4 0h2m1 0h2m13 0h2m2 0h1m2 0h2m4 0h2m2 0h1m6 0h1m17 0h1m2 0h1m13 0h3m3 0h1m5 0h1m7 0h1m1 0h1m8 0h1m6 0h2m7 0h2m9 0h1m2 0h1m4 0h1m26 0h1M805 249.5h1m3 0h1m7 0h2m16 0h2m13 0h1m2 0h1m5 0h2m3 0h1m8 0h2m2 0h2m3 0h1m3 0h1m5 0h1m4 0h1m1 0h1m6 0h1m2 0h2m3 0h2m5 0h1m1 0h1m9 0h1m9 0h1m3 0h2m2 0h2m4 0h2m10 0h1m12 0h1m16 0h1m7 0h1m2 0h2M780 250.5h1m41 0h1m1 0h3m7 0h1m18 0h4m5 0h1m1 0h1m1 0h1m8 0h1m7 0h1m1 0h3m7 0h3m3 0h1m14 0h5m2 0h2m4 0h2m3 0h1m3 0h1m9 0h1m17 0h1m2 0h1m4 0h3m4 0h2m4 0h4M758 251.5h2m20 0h1m15 0h1m15 0h1m3 0h1m9 0h2m2 0h1m3 0h1m4 0h1m17 0h1m4 0h1m8 0h2m7 0h2m1 0h1m3 0h1m6 0h1m1 0h1m1 0h2m1 0h1m6 0h1m11 0h1m8 0h2m3 0h1m3 0h1m4 0h1m2 0h1m7 0h2m7 0h1m17 0h2m2 0h2m1 0h4m2 0h2m2 0h1m8 0h2m5 0h3M807 252.5h2m3 0h1m9 0h1m2 0h1m13 0h1m7 0h1m3 0h3m2 0h3m10 0h1m5 0h2m17 0h1m2 0h1m1 0h2m2 0h2m15 0h2m21 0h1m1 0h2m4 0h2m8 0h1m2 0h2m4 0h2m6 0h2m18 0h1m6 0h1m3 0h3m14 0h2m27 0h1M792 253.5h1m32 0h1m14 0h1m7 0h1m9 0h1m10 0h1m1 0h1m8 0h1m6 0h1m27 0h1m6 0h1m4 0h1m10 0h2m1 0h5m10 0h2m3 0h1m11 0h1m15 0h2m20 0h1M792 254.5h1m5 0h1m8 0h1m2 0h2m16 0h2m4 0h1m5 0h1m1 0h2m3 0h2m10 0h2m10 0h1m15 0h1m32 0h3m4 0h1m9 0h1m13 0h1m14 0h2m2 0h1m2 0h1m14 0h1m22 0h1M767 255.5h1m5 0h1m7 0h2m24 0h1m13 0h2m11 0h1m3 0h1m2 0h2m3 0h3m20 0h1m7 0h3m2 0h2m1 0h3m11 0h2m4 0h1m5 0h1m2 0h4m6 0h3m3 0h1m1 0h1m22 0h2m1 0h1m5 0h1m5 0h3m2 0h1m7 0h1m4 0h1m4 0h1M734 256.5h1m32 0h1m5 0h1m27 0h1m29 0h1m7 0h1m3 0h2m2 0h1m9 0h2m22 0h1m5 0h2m11 0h3m8 0h1m3 0h1m4 0h1m6 0h2m3 0h1m4 0h1m4 0h2m11 0h1m8 0h2m6 0h1m2 0h1m14 0h1m4 0h1m45 0h2M749 257.5h1m68 0h2m11 0h1m14 0h1m8 0h2m9 0h2m10 0h1m21 0h1m18 0h3m1 0h3m13 0h1m1 0h3m13 0h2m6 0h2m5 0h1m2 0h6m9 0h1m1 0h1m2 0h1m4 0h1m20 0h2m3 0h2m60 0h2M787 258.5h1m58 0h1m2 0h1m5 0h2m15 0h1m5 0h1m2 0h1m11 0h1m1 0h2m2 0h2m3 0h2m5 0h1m2 0h2m4 0h3m11 0h2m3 0h1m5 0h2m2 0h2m5 0h1m6 0h2m10 0h1m1 0h2m13 0h1m7 0h1m20 0h3M787 259.5h1m1 0h2m15 0h1m1 0h1m8 0h2m19 0h3m7 0h2m6 0h1m6 0h1m1 0h1m6 0h3m18 0h1m1 0h1m2 0h2m2 0h2m14 0h1m7 0h2m1 0h2m25 0h1m7 0h3m46 0h2M783 260.5h1m22 0h1m1 0h1m2 0h1m28 0h1m8 0h1m2 0h2m2 0h4m10 0h1m1 0h1m12 0h1m7 0h1m4 0h1m1 0h1m2 0h1m1 0h1m9 0h1m4 0h3m4 0h1m2 0h1m38 0h1m21 0h2m9 0h1m6 0h1m13 0h1M785 261.5h2m15 0h1m3 0h1m2 0h1m17 0h2m5 0h2m5 0h1m4 0h2m1 0h1m24 0h2m1 0h1m7 0h1m2 0h2m13 0h1m1 0h1m4 0h2m8 0h3m7 0h1m12 0h1m14 0h2m5 0h2m2 0h1m2 0h1m2 0h2m5 0h1m8 0h2m9 0h1m20 0h1M801 262.5h2m6 0h2m3 0h2m21 0h1m9 0h1m1 0h2m3 0h1m12 0h2m8 0h1m6 0h2m1 0h2m15 0h2m4 0h3m2 0h2m4 0h2m12 0h1m7 0h1m6 0h1m1 0h1m10 0h1m4 0h2m2 0h1m1 0h1m3 0h2m2 0h1m2 0h2m2 0h2m18 0h2m26 0h2m2 0h2M748 263.5h2m41 0h1m18 0h1m12 0h2m12 0h1m16 0h1m11 0h2m14 0h1m3 0h1m1 0h1m1 0h2m2 0h2m2 0h2m30 0h2m1 0h3m7 0h1m8 0h1m2 0h1m8 0h2m8 0h1m5 0h2m16 0h1m8 0h2M784 264.5h2m5 0h1m15 0h1m6 0h1m5 0h2m6 0h1m20 0h1m5 0h1m1 0h1m3 0h1m3 0h1m6 0h1m7 0h4m2 0h1m39 0h2m22 0h1m1 0h1m1 0h1m6 0h2m7 0h1m5 0h1m4 0h1m35 0h1M745 265.5h1m68 0h1m7 0h1m1 0h2m17 0h1m8 0h1m8 0h1m40 0h1m19 0h1m42 0h2m33 0h2M808 266.5h1m18 0h2m10 0h1m1 0h1m10 0h1m18 0h2m18 0h2m9 0h1m7 0h3m4 0h1m6 0h1m6 0h1m38 0h2m3 0h2m50 0h1m1 0h1M757 267.5h2m32 0h1m16 0h1m26 0h1m5 0h1m36 0h1m3 0h3m16 0h1m8 0h1m13 0h1m6 0h2m8 0h1m5 0h1m33 0h1m38 0h2m7 0h1M818 268.5h1m5 0h1m4 0h1m5 0h1m39 0h1m2 0h1m23 0h1m1 0h2m15 0h5m18 0h2m11 0h1m3 0h2m2 0h1m1 0h1m2 0h1m20 0h1M791 269.5h1m26 0h1m5 0h1m1 0h2m17 0h2m14 0h2m15 0h1m4 0h1m5 0h1m10 0h1m1 0h1m8 0h2m6 0h1m5 0h1m8 0h1m25 0h2m3 0h1m1 0h1m3 0h2m10 0h1m5 0h1m1 0h1m1 0h1m6 0h1m20 0h1M755 270.5h1m63 0h1m8 0h2m30 0h1m3 0h1m9 0h1m8 0h1m8 0h1m7 0h1m15 0h1m2 0h1m12 0h1m16 0h1m10 0h1m8 0h1m2 0h1m10 0h1m3 0h3m3 0h1m2 0h1m18 0h2m30 0h1M835 271.5h1m4 0h2m6 0h1m4 0h1m6 0h1m3 0h1m9 0h1m9 0h2m6 0h1m5 0h1m1 0h1m8 0h1m28 0h1m1 0h3m5 0h2m3 0h1m42 0h2M802 272.5h1m27 0h1m4 0h2m20 0h4m30 0h1m4 0h1m4 0h1m7 0h1m3 0h1m5 0h1m9 0h1m1 0h1m6 0h1m74 0h2M806 273.5h1m5 0h1m11 0h1m4 0h2m9 0h3m1 0h1m9 0h1m2 0h3m3 0h2m14 0h2m14 0h2m4 0h1m5 0h2m3 0h1m9 0h1m22 0h1m37 0h2m7 0h1M801 274.5h1m4 0h1m3 0h1m3 0h1m15 0h1m6 0h1m6 0h1m9 0h1m16 0h2m11 0h1m10 0h1m4 0h1m3 0h3m3 0h3m14 0h1m4 0h1m12 0h1m46 0h1m2 0h1m1 0h2m28 0h1M788 275.5h1m12 0h1m2 0h1m9 0h1m15 0h1m1 0h1m16 0h1m19 0h1m10 0h1m3 0h1m8 0h1m23 0h1m9 0h1m8 0h2m7 0h1m32 0h2m4 0h2m9 0h1m31 0h1M780 276.5h1m7 0h1m25 0h1m15 0h1m1 0h2m35 0h1m1 0h1m13 0h4m4 0h1m17 0h2m31 0h2m4 0h1m3 0h2M780 277.5h1m48 0h2m38 0h2m15 0h1m6 0h1m34 0h1m21 0h1m28 0h2m4 0h1M835 278.5h3m23 0h1m32 0h1m60 0h1m3 0h1m29 0h1m10 0h1m2 0h1M815 279.5h1m17 0h1m3 0h1m3 0h1m19 0h1m1 0h2m10 0h1m19 0h1m24 0h1m2 0h1m43 0h1m27 0h1M832 280.5h2m61 0h1m6 0h1m11 0h2m4 0h1m10 0h2m20 0h1m2 0h1m9 0h2m4 0h1m2 0h1m9 0h1m1 0h1m10 0h1M796 281.5h1m29 0h2m6 0h1m9 0h2m8 0h2m6 0h2m7 0h1m2 0h1m27 0h1m9 0h2m10 0h2m17 0h2m4 0h1m6 0h1m36 0h2m1 0h1m1 0h1m13 0h1M834 282.5h1m6 0h1m3 0h2m66 0h1m35 0h1m9 0h1m36 0h1m15 0h1m16 0h2M833 283.5h2m4 0h1m1 0h1m46 0h2m53 0h1m38 0h2m3 0h1M810 284.5h1m66 0h1m11 0h2m2 0h1m3 0h1m18 0h1m1 0h2m61 0h1m8 0h1M810 285.5h1m29 0h1m18 0h1m30 0h1m4 0h3m25 0h1m9 0h2m30 0h1m24 0h1m11 0h2M832 286.5h1m7 0h1m9 0h1m11 0h2m7 0h1m25 0h1m36 0h1m7 0h2m33 0h1M788 287.5h1m28 0h1m6 0h1m25 0h1m30 0h2m60 0h2m13 0h1m34 0h1M788 288.5h1m29 0h1m1 0h1m58 0h1m13 0h2m57 0h2m4 0h1m28 0h1m5 0h1m9 0h1M793 289.5h1m45 0h2m51 0h1m9 0h1m52 0h2m46 0h1m14 0h1M792 290.5h2m62 0h2m19 0h2m13 0h1m27 0h1m32 0h2m33 0h2m28 0h1M803 291.5h1m35 0h2m35 0h2m45 0h1m72 0h1M856 292.5h1m66 0h1m72 0h1m6 0h1M834 293.5h1m51 0h1m18 0h1m61 0h2m34 0h1m50 0h1M822 294.5h2m53 0h1m12 0h2m13 0h1M858 295.5h2m25 0h2m35 0h2M877 296.5h1m93 0h2M877 297.5h1M817 298.5h1m46 0h1m45 0h1m8 0h2m30 0h1M910 299.5h1m40 0h1m71 0h1M739 300.5h2m147 0h1m41 0h2m91 0h1M783 301.5h2m52 0h2m73 0h4M801 302.5h1m106 0h2m12 0h2m6 0h1M880 303.5h1m1 0h1m46 0h2M880 304.5h1m48 0h1M884 306.5h2m23 0h2m3 0h2m72 0h1M841 308.5h2m77 0h2M912 309.5h1m54 0h1M784 310.5h1M784 311.5h1m14 0h1m121 0h2M910 315.5h1M893 323.5h1M893 324.5h1m22 0h2M938 330.5h1M896 340.5h1M896 341.5h1"/>
<path id="db1" d="M893 98.5h1M894 100.5h1M844 105.5h1M907 113.5h1M830 114.5h1M906 116.5h1M906 117.5h1M907 118.5h1M869 119.5h1M1023 120.5h1M900 124.5h1m104 0h1M899 125.5h1m7 0h1M856 126.5h1m118 0h1M964 127.5h1m23 0h1M936 128.5h1m64 0h1M860 129.5h1M861 130.5h1m90 0h1m20 0h1M848 131.5h1M911 132.5h1m72 0h1M870 133.5h1M790 134.5h1m132 0h1m30 0h1M868 135.5h1M849 137.5h1m81 0h1M890 138.5h1m41 0h1M794 139.5h1m8 0h1m189 0h1M806 140.5h1m29 0h1m22 0h1m54 0h1M832 141.5h1m74 0h1m48 0h1M857 142.5h1m50 0h1m11 0h1M778 143.5h1m96 0h1m9 0h1m54 0h1M936 144.5h1m41 0h1M912 145.5h1m14 0h1m3 0h1m89 0h1M820 146.5h1m85 0h1m39 0h1M826 147.5h1m4 0h1m24 0h1m69 0h1m24 0h1m8 0h1M857 148.5h1m50 0h1m111 0h1M880 149.5h1M805 150.5h1m31 0h1m85 0h1m33 0h1M816 151.5h1m45 0h1m24 0h1m81 0h1M829 152.5h1m20 0h1M856 153.5h1m15 0h1m20 0h1m17 0h1m55 0h1m62 0h1M807 154.5h1m62 0h1M832 155.5h1m20 0h1m106 0h1M892 156.5h1m10 0h1m2 0h1M799 157.5h1m33 0h1m10 0h1m94 0h1m56 0h1m13 0h1M976 158.5h1M801 159.5h1m86 0h1m34 0h1M883 160.5h1m105 0h1m3 0h1M884 161.5h1M756 162.5h1m220 0h1m26 0h1M922 163.5h1m58 0h1m37 0h1M775 164.5h1m16 0h1m118 0h1m13 0h1m34 0h1M806 165.5h1m66 0h1m141 0h1m21 0h1M797 166.5h1m100 0h1m2 0h1m59 0h1M884 167.5h1m25 0h1m45 0h1m23 0h1M924 168.5h1M905 169.5h1m43 0h1m59 0h1M845 170.5h1m152 0h1M833 171.5h1m9 0h1m35 0h1m21 0h1m12 0h1m50 0h1m26 0h1M778 172.5h1m101 0h1m9 0h1m52 0h1m47 0h1M811 173.5h1m1 0h1m5 0h1m5 0h1m20 0h1m1 0h1m26 0h1m21 0h1m50 0h1m14 0h1m9 0h1m6 0h1M852 174.5h1m46 0h1m66 0h1m28 0h1M892 175.5h1m21 0h1m62 0h2M796 176.5h1m26 0h1m94 0h1m1 0h1m30 0h1m54 0h1M845 177.5h1m16 0h1m56 0h1m22 0h1m2 0h1M840 178.5h1m90 0h1m34 0h1m27 0h1m39 0h1m33 0h1M876 179.5h1m45 0h1m67 0h1M856 180.5h1m65 0h1m53 0h1M940 181.5h1m23 0h1M833 182.5h1m46 0h1M875 183.5h1m105 0h1M773 184.5h1m112 0h1m17 0h1m54 0h1M768 185.5h1m45 0h1m11 0h1m41 0h1m3 0h1m21 0h1m63 0h1M840 186.5h1m43 0h1m12 0h1m6 0h1m18 0h1m20 0h1m4 0h1M798 187.5h1m19 0h1m2 0h1m83 0h1m87 0h1m12 0h1m20 0h1M936 188.5h1m53 0h1m19 0h1M801 189.5h1m5 0h1m5 0h1m26 0h1m8 0h1m19 0h1m14 0h1m38 0h1M792 190.5h1m98 0h1m18 0h1m51 0h1m56 0h1M793 191.5h1m107 0h1m27 0h1m15 0h1m10 0h1m21 0h1M808 192.5h1m32 0h1m41 0h1m17 0h1m11 0h1m75 0h1m1 0h1M789 193.5h1m120 0h1M826 194.5h1m36 0h1m42 0h1m62 0h1M882 195.5h1m65 0h1M760 196.5h1m112 0h1m13 0h1m35 0h1m1 0h1m32 0h1M816 197.5h1m19 0h1m4 0h1m78 0h1m84 0h1m28 0h1M927 198.5h1m119 0h1M765 199.5h1m66 0h1m85 0h1M942 200.5h1m5 0h1M889 201.5h1m8 0h1M790 202.5h1m58 0h1m15 0h1m55 0h1m81 0h1M953 203.5h1M808 204.5h1m42 0h1m9 0h1m12 0h1m125 0h1M809 205.5h1m17 0h2m12 0h1m12 0h1m11 0h1M821 206.5h1m23 0h1m9 0h1m4 0h1m56 0h1m35 0h1m9 0h1m24 0h1m6 0h1M747 207.5h1m60 0h1m42 0h1m15 0h1m19 0h1m83 0h1m3 0h1m36 0h1M797 208.5h1m5 0h1m7 0h1m30 0h1m108 0h1m47 0h1m13 0h1M849 209.5h1m5 0h1m24 0h1m23 0h1m52 0h1M860 210.5h1m43 0h1m94 0h1m4 0h1M898 211.5h1m72 0h1m24 0h1M789 212.5h1m38 0h1m51 0h1m58 0h1m12 0h1m57 0h2M834 213.5h1m40 0h1m35 0h1m25 0h1m16 0h1m13 0h1M831 214.5h1M845 215.5h1m15 0h1m67 0h1m22 0h1m22 0h1m12 0h1M772 216.5h1m35 0h1m33 0h1m22 0h1m7 0h1m9 0h1m27 0h1m13 0h1m35 0h1m3 0h1M855 217.5h1m41 0h1m64 0h1m19 0h1m25 0h1M798 218.5h1m24 0h1m104 0h1m15 0h1m32 0h1m7 0h1M785 219.5h1m68 0h1m12 0h1M797 220.5h1m23 0h1m62 0h1m1 0h1m4 0h2m17 0h1m17 0h1m65 0h1m10 0h1m9 0h1M814 221.5h1m37 0h1m60 0h1m40 0h1M810 222.5h1m45 0h1m45 0h1m58 0h1m65 0h1M846 223.5h1m22 0h1m28 0h1m104 0h1M867 224.5h1m6 0h1m8 0h1m9 0h1m28 0h1m6 0h1m10 0h2M850 225.5h1m24 0h1m42 0h1m8 0h1m6 0h1m4 0h1m45 0h1m16 0h1m34 0h1M879 226.5h1m31 0h1m30 0h1M834 227.5h1m16 0h1m47 0h1M811 228.5h1m46 0h1m34 0h1m78 0h1M802 229.5h1m8 0h1m4 0h1m66 0h1m110 0h1m2 0h1m7 0h1M781 230.5h1m18 0h1m2 0h1m27 0h1m1 0h1m67 0h1m42 0h1m14 0h1m15 0h1m58 0h1M819 231.5h1m23 0h1m35 0h1m13 0h1m5 0h1m2 0h1m7 0h1m27 0h1m23 0h1M799 232.5h1m11 0h1m106 0h1m127 0h1M934 233.5h1m36 0h1m10 0h1M899 234.5h1m12 0h1m26 0h1m40 0h1M847 235.5h1m37 0h1m7 0h1m57 0h1M798 236.5h1m31 0h1m104 0h1M800 237.5h1m113 0h1m54 0h1m60 0h1M763 238.5h1m28 0h1m65 0h1m116 0h1M764 239.5h1m62 0h1m68 0h1m72 0h1m12 0h1m43 0h2M769 240.5h1m60 0h1m39 0h1m21 0h1m47 0h1M789 241.5h1m40 0h1m74 0h1m23 0h1m84 0h1M849 242.5h1m14 0h1m23 0h1m78 0h1M847 243.5h1m5 0h1m58 0h1M962 244.5h1m53 0h1M867 245.5h1m42 0h1M804 246.5h1m86 0h1m11 0h1m1 0h1m70 0h1m29 0h1M832 247.5h1m60 0h1M805 248.5h1m43 0h1m54 0h1m5 0h1m5 0h1m56 0h1M808 249.5h1m66 0h2m55 0h1m48 0h1M884 250.5h1m36 0h1m61 0h1M795 251.5h1m121 0h1m4 0h1m21 0h1m8 0h1m33 0h1M806 252.5h1m10 0h1m169 0h1m66 0h1M870 253.5h1m117 0h1M838 254.5h1m2 0h1m61 0h1m29 0h1m4 0h1m18 0h1M801 255.5h1m31 0h1m42 0h1m4 0h1M912 256.5h1m3 0h1m49 0h1M750 257.5h1m142 0h1m1 0h1m9 0h1m12 0h1m7 0h1m67 0h1M847 258.5h1m58 0h1m12 0h1m3 0h1m43 0h1M1020 259.5h1m2 0h1M863 260.5h1m7 0h1M801 261.5h1m35 0h1M878 262.5h1m74 0h1m13 0h1M967 263.5h1m8 0h1M745 264.5h1m60 0h1m41 0h1m18 0h1M813 265.5h1m14 0h1m13 0h1m28 0h1m7 0h1m45 0h1m51 0h1m39 0h1M838 266.5h1m160 0h1M840 267.5h1m82 0h1m1 0h1m20 0h1M932 268.5h1m30 0h1m7 0h1M865 269.5h1m54 0h1m94 0h1M898 270.5h1m49 0h1m22 0h1m77 0h1M901 271.5h1m29 0h1m37 0h1m28 0h1M801 272.5h1m106 0h1M810 273.5h1m32 0h1m46 0h1m13 0h1m5 0h1m83 0h1M850 274.5h1m22 0h1m19 0h1M833 275.5h1m192 0h1M870 276.5h1m82 0h1m43 0h1M990 278.5h1m8 0h1M919 280.5h1M894 284.5h1m87 0h1M839 285.5h1M965 286.5h2M880 287.5h1M882 288.5h1m14 0h1m96 0h1M818 289.5h1m1 0h1m57 0h1m41 0h1M891 293.5h1M835 294.5h1m130 0h1M877 295.5h2M816 298.5h1M908 301.5h1M921 302.5h1m7 0h1M800 303.5h1M800 311.5h1M897 341.5h1"/>
<path id="db2" d="M888 88.5h1M913 101.5h1M952 105.5h1M898 109.5h1M819 112.5h1m135 0h1m48 0h1M887 113.5h1M832 117.5h1M965 119.5h1M948 124.5h1m58 0h1M963 127.5h1M901 128.5h1m29 0h1M912 129.5h1m64 0h1M888 132.5h1m90 0h1m36 0h1M856 133.5h1m49 0h1m14 0h1M793 134.5h1m96 0h1m31 0h1m11 0h1m35 0h1M883 135.5h1m29 0h1m35 0h1m18 0h1m5 0h1M814 136.5h1m37 0h1m23 0h1m74 0h1M781 137.5h1M842 138.5h1m109 0h1M838 139.5h1m15 0h1m15 0h1m49 0h1M812 141.5h1m117 0h2M1028 143.5h1M828 144.5h1m86 0h1m59 0h1m15 0h1m10 0h1M834 145.5h1m18 0h1m62 0h1m82 0h1M882 146.5h1m100 0h1m21 0h1M839 147.5h1m75 0h1m62 0h1m22 0h1M797 148.5h1m29 0h1m18 0h1m86 0h1m38 0h1M855 149.5h1m4 0h1m2 0h1m131 0h1m29 0h1M759 150.5h1m141 0h1M844 151.5h1m45 0h1M884 152.5h1m44 0h1m31 0h1M855 153.5h1M815 154.5h1m106 0h1M788 155.5h1m15 0h1m54 0h1m117 0h1m5 0h1M910 156.5h1m60 0h1m13 0h1m35 0h1M937 157.5h1m3 0h1M790 159.5h1m38 0h1m51 0h1m35 0h1M799 160.5h1m12 0h1m21 0h1m19 0h1m14 0h1m102 0h1M803 161.5h1m59 0h1m5 0h1m137 0h1M870 162.5h1m65 0h1M845 163.5h1m54 0h1m39 0h1M795 164.5h1m17 0h1m33 0h1m6 0h1m68 0h1m4 0h1M881 165.5h1m15 0h1m21 0h1M828 166.5h1m110 0h1m44 0h1M808 167.5h1m15 0h1m10 0h1m32 0h1m70 0h1m69 0h1M803 168.5h1m59 0h1m124 0h1m8 0h1M909 169.5h1m5 0h1m41 0h1m40 0h1m60 0h1M859 170.5h1m12 0h1m12 0h1m39 0h1m18 0h1m71 0h1M818 171.5h1m28 0h1m91 0h1M834 172.5h1m47 0h1m85 0h1m90 0h1M917 173.5h1m32 0h1m5 0h1m2 0h1M803 174.5h1m130 0h1m34 0h1m23 0h1M926 175.5h1m10 0h1m10 0h1M886 176.5h1m66 0h1M804 177.5h1m4 0h1m28 0h1m88 0h1m55 0h1m8 0h1m13 0h1M823 178.5h1m42 0h1m26 0h1m2 0h1M798 179.5h1m30 0h1m11 0h1m4 0h1m7 0h1m93 0h1M753 180.5h1m47 0h1m13 0h1m14 0h1m59 0h2m14 0h1m8 0h1m31 0h1M773 181.5h1m26 0h1m18 0h1m36 0h1m59 0h2m7 0h1m12 0h1m56 0h1m23 0h1M921 182.5h2m44 0h1m22 0h1m26 0h1m9 0h1M753 183.5h1m44 0h1m31 0h1m12 0h1m14 0h1m32 0h2m19 0h1m26 0h1m40 0h1M830 184.5h1m51 0h1m44 0h1m11 0h1M798 185.5h1m7 0h1m44 0h1m43 0h1m34 0h1m14 0h1m5 0h1m26 0h1m78 0h1M785 186.5h1m70 0h1m46 0h1m61 0h1m4 0h1m23 0h1M826 187.5h1m133 0h1m35 0h1m10 0h1M834 188.5h1m58 0h1m13 0h1m47 0h1m89 0h1M837 189.5h1m34 0h1m4 0h1M798 190.5h1m24 0h1m11 0h1m64 0h1m20 0h1m2 0h1m53 0h1M880 191.5h1m15 0h1m17 0h1M786 192.5h1m48 0h1m20 0h1m28 0h1m12 0h1m38 0h1m72 0h1M804 193.5h1m48 0h1m59 0h1m62 0h1m36 0h1M836 194.5h1m35 0h1m102 0h1m11 0h1M810 195.5h1m47 0h1m79 0h1m49 0h1m34 0h1M821 196.5h1m2 0h1m108 0h1m27 0h1m42 0h1M815 197.5h1m12 0h1m32 0h1m101 0h1m14 0h1m32 0h1m10 0h1M841 198.5h1m92 0h1m10 0h1m46 0h1m19 0h1M812 199.5h1m24 0h1m22 0h1m64 0h1m68 0h1m10 0h1m9 0h1M783 200.5h1m23 0h1m43 0h1m9 0h1m69 0h1m114 0h1M904 201.5h1m42 0h1M827 202.5h2m45 0h1m33 0h1m47 0h1m16 0h1m7 0h1M966 203.5h1m22 0h1M751 204.5h1m68 0h1m22 0h1m52 0h1m42 0h1m6 0h1m9 0h1m68 0h1M877 205.5h1m70 0h1m4 0h1m27 0h1M842 206.5h1m67 0h1m96 0h1M847 207.5h1m43 0h1m22 0h1m28 0h1m7 0h1m27 0h1m7 0h1M877 208.5h1m9 0h1m12 0h1m7 0h1m3 0h1m113 0h1M938 209.5h1m31 0h1m30 0h1M810 210.5h1m96 0h1m48 0h1M875 211.5h1m24 0h1m16 0h1m24 0h1M990 212.5h1M843 213.5h1m10 0h1m12 0h1m11 0h1m109 0h1M789 214.5h1m29 0h1m36 0h1m51 0h1m34 0h1m1 0h1m24 0h1m39 0h1M864 215.5h1M882 216.5h1m67 0h1m25 0h1M823 217.5h1m93 0h1m110 0h1M827 218.5h1m8 0h1m34 0h1m2 0h1m13 0h1m72 0h1m16 0h1m54 0h1M789 219.5h1m23 0h2m14 0h1m2 0h1m18 0h1M834 220.5h1m5 0h1m41 0h1m2 0h1m63 0h1M789 221.5h1m34 0h1m85 0h1m97 0h1M849 222.5h1m41 0h1m19 0h1m3 0h1m19 0h1M929 223.5h1m24 0h1m16 0h1m6 0h1M771 224.5h1m85 0h1m33 0h1m52 0h1m45 0h1M830 225.5h1m15 0h1m24 0h1m4 0h1m5 0h1m60 0h1m46 0h1M805 226.5h1m24 0h1m7 0h1m28 0h1m39 0h2m36 0h1m36 0h1M955 228.5h1m35 0h1M1032 229.5h1M734 230.5h1m75 0h1m94 0h2m31 0h1m29 0h1M811 231.5h1m15 0h1m27 0h1m34 0h1m38 0h1m55 0h1M999 232.5h1m35 0h1M828 233.5h1m22 0h1m3 0h1m16 0h1m18 0h1m4 0h1m9 0h1m115 0h1M824 234.5h1m3 0h1m126 0h1m28 0h1m1 0h1m10 0h1M877 235.5h1m34 0h1m29 0h1m14 0h2m10 0h1m59 0h1M898 236.5h1m141 0h1M887 237.5h1m25 0h1m18 0h2m66 0h1M843 238.5h1m1 0h1m97 0h1m1 0h1m9 0h1m22 0h1M818 239.5h1m5 0h1m58 0h1m50 0h1m18 0h1m24 0h1m4 0h1m2 0h1M823 240.5h2m15 0h1m15 0h1m24 0h1m30 0h1m12 0h1M815 241.5h1m2 0h1m37 0h1m19 0h1m5 0h1m13 0h1m27 0h1M825 242.5h1m83 0h1m49 0h1m62 0h1M750 243.5h1m50 0h1m70 0h1m21 0h1m65 0h1m30 0h1m10 0h1M886 244.5h1m8 0h1m9 0h1m59 0h1M823 245.5h1m21 0h1m22 0h1m98 0h1M831 246.5h1m29 0h1m14 0h1m62 0h1m55 0h1m9 0h1M815 247.5h1m26 0h1m18 0h1m56 0h1m62 0h1M818 248.5h1m79 0h1m16 0h1m33 0h1m1 0h1m58 0h1M893 249.5h1m139 0h1M909 250.5h1M856 251.5h1m7 0h1m30 0h1m22 0h1m26 0h1m25 0h1M823 252.5h1M798 253.5h1m82 0h1m34 0h1m74 0h1m33 0h1M869 254.5h1m102 0h1m3 0h1M966 255.5h2M820 256.5h1m13 0h1m5 0h1m18 0h1m22 0h1m75 0h1m8 0h1m16 0h1m58 0h1M832 257.5h1M866 258.5h1m45 0h1m13 0h1m49 0h1M788 259.5h1m18 0h1m3 0h1m35 0h1m33 0h1m37 0h1m95 0h1M812 260.5h1m101 0h1M805 261.5h1m39 0h1m9 0h1m15 0h1m26 0h1M883 262.5h1m115 0h1M979 263.5h1m17 0h1m11 0h1M856 264.5h1m9 0h1m88 0h1M858 265.5h1m58 0h1M745 266.5h1M926 267.5h1M828 268.5h1m71 0h1m58 0h1m20 0h1m2 0h1M790 269.5h1m28 0h1m54 0h1m57 0h1m87 0h1M790 270.5h1m93 0h1m48 0h2M858 271.5h1m52 0h1m18 0h1M853 272.5h2m9 0h1m27 0h1m46 0h2M823 273.5h1m122 0h1m35 0h1M804 274.5h1m91 0h1m129 0h1M809 275.5h1m75 0h1m14 0h1m10 0h1M880 276.5h1m36 0h1M886 278.5h1m115 0h1M874 279.5h1m93 0h1m18 0h1M871 280.5h1m61 0h1M986 281.5h1M839 282.5h1m103 0h1m14 0h1m2 0h1M981 283.5h1M923 284.5h1M1004 285.5h1M932 286.5h2M832 288.5h1m45 0h1M794 290.5h1m157 0h1M1005 292.5h1M885 293.5h1M887 294.5h1M931 299.5h1M887 300.5h1M922 301.5h1M882 302.5h1M989 305.5h1M911 306.5h1M910 314.5h1M938 329.5h1"/>
<path id="db3" d="M952 104.5h1M888 109.5h1M857 112.5h1M906 114.5h1M834 116.5h1M971 117.5h1M850 120.5h1M908 123.5h1M855 124.5h1m65 0h1M796 126.5h1m80 0h1m48 0h1m10 0h1M985 127.5h1M868 128.5h1M975 130.5h1M895 131.5h2m68 0h1M884 134.5h1m89 0h1M932 135.5h1M877 136.5h1m23 0h1m57 0h1m15 0h1M859 137.5h1m18 0h1M855 138.5h1M802 139.5h1m142 0h1M778 140.5h1m136 0h1m65 0h1M935 141.5h1m22 0h1m6 0h1M832 143.5h1m5 0h1m147 0h1M851 144.5h1m31 0h1M818 145.5h1m156 0h2M896 146.5h1m23 0h1m58 0h2m6 0h1M938 147.5h1M778 148.5h1m75 0h1M913 149.5h1m24 0h1m1 0h1M858 150.5h1m7 0h1m78 0h1m6 0h1m73 0h1M819 151.5h1m83 0h1m8 0h1m55 0h1m5 0h1M805 152.5h1m86 0h1m15 0h1m10 0h1m44 0h1m32 0h1m20 0h1M809 153.5h1m14 0h1m3 0h1m13 0h1m19 0h1m25 0h1m45 0h1M785 154.5h1m67 0h1m10 0h1m10 0h1m24 0h1m36 0h1m41 0h1M860 155.5h1m13 0h1m49 0h1m14 0h1m9 0h1m31 0h1M982 156.5h1M830 157.5h1m78 0h1m9 0h1m40 0h1M845 158.5h1m44 0h1M890 159.5h1m12 0h1M827 160.5h1m27 0h1m29 0h1m19 0h1m7 0h1m61 0h1M834 161.5h1m1 0h1m49 0h2m6 0h1m9 0h1M810 162.5h1m81 0h1m39 0h1m68 0h1m12 0h1M908 163.5h1M799 164.5h1m137 0h1m51 0h1M846 165.5h1m24 0h1m34 0h2m29 0h1m51 0h1M756 166.5h1m221 0h1m23 0h1M856 167.5h1m14 0h2m6 0h1m5 0h1m19 0h1m81 0h1M819 168.5h1m17 0h1m15 0h1m48 0h1m5 0h1M888 169.5h1m12 0h1m17 0h1m3 0h1m17 0h1m1 0h1m12 0h1m33 0h1M779 170.5h1m40 0h1m8 0h1m39 0h1m78 0h1M782 171.5h1m18 0h1m1 0h1m11 0h1m74 0h1m6 0h1m47 0h1m26 0h1m16 0h1M772 172.5h1m79 0h1m5 0h1m2 0h1m12 0h1m13 0h1m17 0h1m47 0h1M794 173.5h1m46 0h1m42 0h1m10 0h1m24 0h1m4 0h1m73 0h1M877 174.5h1m2 0h1m34 0h1m5 0h1m23 0h1m12 0h1m4 0h1M749 175.5h1m94 0h1m2 0h1m69 0h1M799 176.5h1m70 0h1m65 0h1m2 0h1M790 177.5h1m49 0h1m9 0h1m59 0h1M781 178.5h1m162 0h1m31 0h1m34 0h1M825 179.5h1m41 0h1m97 0h2m10 0h1m58 0h1M821 180.5h1m5 0h1m61 0h1m7 0h1m45 0h1m35 0h1m11 0h1M830 181.5h1m37 0h1m4 0h1m83 0h2M805 182.5h1m52 0h1m107 0h1M874 183.5h1m89 0h1m20 0h1M873 184.5h1m13 0h1m8 0h1m100 0h1M938 185.5h1m1 0h1m72 0h1M809 186.5h1m27 0h1m43 0h1m63 0h1m50 0h1M807 187.5h1m108 0h1M780 188.5h1m30 0h1m4 0h1m71 0h1M766 189.5h1m154 0h1m61 0h1M787 190.5h1m104 0h1m86 0h1m7 0h1M797 191.5h1m30 0h1m4 0h1m23 0h1m39 0h1m110 0h1m6 0h1M816 193.5h1m53 0h1m14 0h1m31 0h1m1 0h1m4 0h1m4 0h1m6 0h1M784 194.5h1m23 0h1m30 0h1m10 0h1m9 0h1m17 0h1m79 0h1m29 0h1M795 195.5h1m224 0h1M823 196.5h1m2 0h1m19 0h1m46 0h1m4 0h1m8 0h1m18 0h1m70 0h1M821 197.5h1m13 0h1m27 0h1m68 0h1m21 0h1m41 0h1M929 198.5h1M857 199.5h1m36 0h1m10 0h1m47 0h1m54 0h2M816 200.5h1m70 0h1m18 0h1M872 201.5h1m4 0h1m18 0h1m5 0h1m80 0h1M809 202.5h1m86 0h1m31 0h1m9 0h1m4 0h1m2 0h1m22 0h2m73 0h1M795 203.5h1m65 0h1m37 0h1m7 0h1m59 0h1M803 204.5h1m50 0h1m36 0h1m41 0h1m25 0h1m24 0h1m13 0h1m5 0h1m27 0h1M776 205.5h1m29 0h1m65 0h2m8 0h1m5 0h1m3 0h1m20 0h1m4 0h1m25 0h1M793 206.5h1m4 0h1m13 0h1m21 0h1m8 0h1m33 0h2m124 0h1M879 207.5h1m23 0h1m7 0h1m3 0h1M787 208.5h1m51 0h1m7 0h1m59 0h1M805 209.5h1m101 0h1m20 0h1m38 0h1M803 210.5h1m65 0h1m115 0h1m28 0h1m2 0h1M823 211.5h1m38 0h1M841 212.5h1m3 0h1m37 0h1m22 0h1m31 0h1m32 0h1m15 0h1M865 213.5h1M826 214.5h1m79 0h1M826 215.5h1m27 0h1m51 0h1m1 0h1m58 0h1m2 0h1m21 0h1m30 0h1m9 0h1M834 216.5h1m13 0h1m10 0h1m68 0h1m66 0h1M795 217.5h1m65 0h1m24 0h2m26 0h1m30 0h1m26 0h1M797 218.5h1m3 0h1m39 0h1m24 0h1m3 0h1m13 0h1m57 0h1M796 219.5h1m38 0h1m33 0h1m38 0h1m28 0h1M781 220.5h1m76 0h1m80 0h1m5 0h1M819 221.5h1m70 0h1m65 0h1m19 0h1M845 222.5h1m17 0h1m43 0h1m12 0h1m63 0h1m5 0h1M743 223.5h1m101 0h1m29 0h1m46 0h1m5 0h1m57 0h1m63 0h1M803 224.5h1m44 0h1m20 0h1m7 0h1m47 0h1m27 0h1m14 0h1m25 0h1M722 225.5h1m48 0h1m94 0h1m40 0h1m69 0h1M821 226.5h1m33 0h1m50 0h1m25 0h1m55 0h1M773 227.5h1m66 0h1m43 0h1m13 0h1m24 0h1m31 0h1m34 0h1m37 0h1M808 228.5h1m10 0h1m39 0h1m29 0h1m59 0h1m3 0h1m54 0h1M798 229.5h1m70 0h1m46 0h1m22 0h1m30 0h1m8 0h1M735 230.5h1m98 0h1m82 0h1m68 0h1M826 231.5h1m82 0h1m16 0h1m10 0h1m6 0h1m29 0h1m43 0h1M960 232.5h1m10 0h1M836 233.5h1m37 0h1m42 0h1m20 0h1m15 0h1m5 0h1m12 0h1M813 234.5h1m3 0h1m55 0h1m12 0h1m31 0h1m105 0h1M850 235.5h1m142 0h1M844 236.5h1m9 0h1m77 0h1m11 0h1m15 0h1M832 237.5h1m2 0h1m153 0h1M815 238.5h2m15 0h1m93 0h1m19 0h1m3 0h1m14 0h1M845 239.5h1m49 0h1m97 0h1m4 0h1M887 240.5h1m140 0h1M887 241.5h2m39 0h1m56 0h1M907 242.5h1m20 0h1m3 0h1m14 0h1m37 0h1M810 243.5h1m71 0h1m53 0h1m27 0h1m13 0h1M899 244.5h1m16 0h1m42 0h1M875 245.5h1m9 0h1m3 0h1m51 0h1m53 0h1M815 246.5h1m19 0h1m8 0h1m28 0h1m32 0h1m8 0h1m46 0h1m8 0h1M813 247.5h1m41 0h1m7 0h1m59 0h1m17 0h1m4 0h1m16 0h1m1 0h1m3 0h1M877 248.5h1m45 0h1m28 0h1m48 0h1M803 249.5h1m18 0h1m31 0h1m70 0h2m15 0h1M779 250.5h1m32 0h1m14 0h1m33 0h1m31 0h1m14 0h1m1 0h1m25 0h1m40 0h1M817 251.5h1m29 0h1m157 0h1M827 252.5h1m55 0h1m63 0h1m35 0h1M808 253.5h1m38 0h1m41 0h1m18 0h1m57 0h1M846 254.5h1m25 0h1m5 0h1m20 0h1m25 0h1m4 0h1M734 255.5h1m153 0h1m12 0h1m35 0h1M800 256.5h1m97 0h1m24 0h1m55 0h1m12 0h1M781 257.5h1m65 0h1m32 0h1m15 0h1m70 0h1M939 259.5h1m34 0h1M782 260.5h1m24 0h1m20 0h1m72 0h1M836 261.5h1m31 0h3m19 0h1m35 0h1M886 262.5h1m62 0h1m37 0h1M865 263.5h1m88 0h1m8 0h1m6 0h1M786 264.5h1m116 0h1m47 0h1m14 0h1M857 265.5h1m34 0h1m134 0h1M843 266.5h1m46 0h1m59 0h1m23 0h1m6 0h1M971 267.5h1M901 268.5h1M903 269.5h1m143 0h1M756 270.5h1m63 0h1m41 0h1m127 0h1M818 271.5h1m168 0h1M834 272.5h1m5 0h1m22 0h1m35 0h1m14 0h1m15 0h1M811 273.5h1m19 0h1m53 0h1M922 274.5h1M816 275.5h1m20 0h1m10 0h1M892 277.5h1m62 0h1m4 0h1M816 278.5h1m24 0h1m43 0h1m42 0h1m51 0h1M836 279.5h1M796 280.5h1m18 0h1m18 0h1m29 0h1m119 0h1M828 281.5h1m121 0h1m1 0h1M872 282.5h1m155 0h1M858 285.5h1M976 286.5h1M821 287.5h1M816 288.5h1M901 289.5h1M840 290.5h1m81 0h1m96 0h1M878 291.5h1M835 293.5h1M856 294.5h1M929 300.5h1M881 303.5h1M988 307.5h1M911 309.5h1M913 310.5h1m6 0h1"/>
<path id="dbb" d="M889 88.5h1M840 97.5h1M894 98.5h1M849 99.5h1M914 101.5h1m20 0h1M821 103.5h1m130 0h1M931 107.5h1M770 108.5h1M929 109.5h1M818 112.5h1m127 0h1m22 0h1M807 113.5h1m22 0h1M789 114.5h1M964 115.5h1M829 116.5h1m141 0h1M833 117.5h1m45 0h1m27 0h1M879 119.5h1m62 0h1M794 120.5h1m53 0h1m115 0h1M868 121.5h1m37 0h1M916 123.5h1m32 0h1m36 0h1M920 124.5h1M782 125.5h1M927 126.5h1m3 0h1M869 127.5h1m67 0h1m27 0h1M899 128.5h1M818 129.5h1m43 0h1M847 130.5h1m47 0h1m26 0h1m53 0h1M897 131.5h1M923 132.5h1m21 0h1m19 0h1M855 133.5h1m15 0h1m11 0h1m31 0h1m6 0h1m80 0h1m13 0h1M815 134.5h1m40 0h1m13 0h1m46 0h1M792 135.5h1m9 0h1m66 0h1m29 0h1m23 0h1m30 0h1m12 0h1M819 136.5h1m21 0h1m82 0h1m11 0h1m43 0h1M830 137.5h1m21 0h1m8 0h1m121 0h1M843 138.5h1m27 0h1m1 0h1m15 0h1m14 0h1m7 0h1M853 139.5h1m17 0h1m42 0h1m17 0h1m18 0h1m10 0h1m10 0h1M807 140.5h1m3 0h1m25 0h1m74 0h1m55 0h1m13 0h1M778 141.5h1m34 0h1m27 0h1m34 0h1m80 0h1m2 0h1m1 0h1m12 0h1m11 0h1M816 142.5h1m6 0h1m106 0h1M796 143.5h1M778 144.5h1m38 0h1m5 0h1m43 0h1m18 0h1m19 0h1m14 0h1m52 0h1m17 0h1M804 145.5h1m5 0h1m100 0h1m13 0h1m33 0h1m24 0h1m2 0h1M836 146.5h1m5 0h1m5 0h1m40 0h1m57 0h1m27 0h1M882 147.5h1m52 0h2m15 0h1M779 148.5h1m64 0h1m70 0h1m7 0h1m14 0h1m10 0h1m5 0h1m9 0h1m10 0h1m9 0h1M758 149.5h1m42 0h1m25 0h1m3 0h1m4 0h1m8 0h1m10 0h3m52 0h1m25 0h1m48 0h1M760 150.5h1m84 0h1m21 0h1m20 0h1m4 0h1m25 0h1m38 0h1M780 151.5h1m15 0h1m9 0h1m14 0h1m6 0h1m16 0h1m5 0h1m39 0h1m19 0h1m32 0h2m1 0h1m31 0h1m7 0h1M795 152.5h1m23 0h1m8 0h1m27 0h1m5 0h1m64 0h1m9 0h1m8 0h1m13 0h1m7 0h1m10 0h1m14 0h1M805 153.5h1m8 0h1m8 0h1m5 0h1m2 0h1m20 0h1m6 0h1m5 0h1m7 0h1m8 0h1m22 0h1m21 0h1m49 0h1m5 0h1M786 154.5h1m21 0h1m33 0h1m9 0h1m12 0h1m6 0h1m16 0h1m16 0h1m11 0h1m15 0h1m33 0h1m9 0h1m3 0h1M789 155.5h1m15 0h1m27 0h1m10 0h1m24 0h1m1 0h1m3 0h1m18 0h1m45 0h1m7 0h1m4 0h2m45 0h1M830 156.5h1m13 0h1m35 0h1m9 0h1m13 0h1m15 0h1m28 0h1m3 0h1m14 0h1m11 0h1m3 0h1m12 0h1M793 157.5h1m12 0h1m4 0h1m7 0h1m11 0h1m13 0h1m10 0h1m33 0h1m29 0h1m19 0h1m20 0h1m10 0h1m2 0h1m35 0h1m2 0h1M776 158.5h1m25 0h1m18 0h1m42 0h1m9 0h1m10 0h1m5 0h1m25 0h1m17 0h1m72 0h1M788 159.5h1m23 0h1m4 0h1m16 0h1m7 0h1m13 0h1m22 0h2m8 0h1m7 0h1m6 0h1m7 0h1m11 0h1m46 0h1m21 0h1M800 160.5h1m27 0h1m39 0h1m23 0h1m11 0h1m27 0h1M817 161.5h1m11 0h1m2 0h1m2 0h1m69 0h1m9 0h1m1 0h1m4 0h1m13 0h2m37 0h1m6 0h1m36 0h1M809 162.5h1m35 0h1m3 0h1m4 0h1m4 0h1m3 0h1m22 0h1m6 0h1m4 0h2m1 0h1m35 0h1m4 0h1m4 0h1m7 0h1m33 0h1M756 163.5h1m8 0h1m33 0h1m8 0h1m40 0h1m1 0h1m5 0h1m12 0h2m24 0h1m6 0h1m5 0h1m28 0h1m6 0h1m11 0h1m1 0h1m17 0h1M776 164.5h1m16 0h1m18 0h1m11 0h1m23 0h1m24 0h1m6 0h1m10 0h1m34 0h1m2 0h1m1 0h1m67 0h1M756 165.5h1m39 0h1m10 0h1m20 0h1m15 0h1m21 0h1m22 0h1m21 0h1m23 0h1m3 0h1m38 0h1m6 0h1m28 0h1M803 166.5h1m4 0h1m22 0h1m8 0h1m4 0h3m21 0h1m1 0h1m2 0h1m3 0h1m42 0h1m9 0h1m3 0h1m4 0h1m9 0h1m9 0h1m10 0h2m7 0h1m15 0h1m9 0h1M818 167.5h1m1 0h1m4 0h1m10 0h1m6 0h1m8 0h1m14 0h1m18 0h1m21 0h1m24 0h1m27 0h1m21 0h1m4 0h1m46 0h1M823 168.5h1m14 0h1m16 0h1m13 0h1m14 0h1m9 0h1m1 0h1m6 0h1m16 0h1m8 0h1m7 0h1m18 0h1m41 0h1M786 169.5h1m42 0h1m5 0h1m4 0h1m12 0h1m7 0h1m2 0h1m5 0h1m2 0h1m10 0h1m4 0h1m2 0h1m7 0h1m2 0h1m6 0h1m2 0h1m11 0h1m13 0h1m4 0h1m3 0h1m18 0h1m6 0h1m29 0h1M791 170.5h1m3 0h1m13 0h1m9 0h1m23 0h1m35 0h1m39 0h1m18 0h1m15 0h1m18 0h1m16 0h1M802 171.5h1m17 0h1m3 0h1m6 0h1m12 0h1m1 0h1m7 0h1m3 0h2m4 0h1m7 0h1m5 0h1m10 0h1m1 0h1m1 0h1m2 0h1m8 0h1m7 0h1m24 0h1m4 0h2m26 0h1m11 0h1m2 0h1M782 172.5h1m18 0h1m1 0h1m11 0h1m8 0h1m13 0h1m12 0h1m4 0h1m5 0h1m5 0h1m4 0h1m2 0h1m6 0h2m13 0h1m32 0h2m18 0h1m1 0h1m6 0h1m3 0h1m4 0h1m2 0h1m19 0h1M763 173.5h1m33 0h1m6 0h1m1 0h1m13 0h1m13 0h1m5 0h1m6 0h1m33 0h1m34 0h1m4 0h1m16 0h2m11 0h3m10 0h1m3 0h1m5 0h1m1 0h1M792 174.5h1m4 0h1m2 0h1m9 0h1m12 0h1m8 0h1m2 0h1m12 0h1m2 0h1m12 0h1m10 0h1m3 0h1m8 0h2m4 0h1m1 0h1m12 0h1m38 0h1m18 0h1m16 0h1m9 0h1m5 0h1M783 175.5h1m13 0h1m11 0h1m28 0h1m4 0h1m41 0h1m1 0h1m27 0h1m3 0h2m30 0h1m17 0h1m29 0h2M794 176.5h1m12 0h1m18 0h1m2 0h1m20 0h1m22 0h1m3 0h1m1 0h1m36 0h1m7 0h1m7 0h1m24 0h1m15 0h1m36 0h1M788 177.5h1m10 0h1m3 0h1m21 0h1m21 0h1m7 0h2m10 0h1m2 0h1m17 0h1m9 0h1m12 0h1m4 0h1m9 0h1m16 0h1m8 0h1m10 0h1m1 0h1m9 0h1m6 0h1M777 178.5h1m1 0h1m2 0h1m14 0h1m17 0h1m8 0h2m1 0h2m1 0h1m2 0h1m9 0h2m9 0h1m13 0h1m15 0h1m31 0h1m4 0h1m1 0h1m19 0h1m6 0h1m39 0h1M779 179.5h1m25 0h1m12 0h1m1 0h1m3 0h1m17 0h1m5 0h1m23 0h1m15 0h1m10 0h1m16 0h1m11 0h1m20 0h1m13 0h1m3 0h1m5 0h1m10 0h1m36 0h1M773 180.5h1m26 0h1m22 0h1m5 0h1m7 0h1m5 0h1m1 0h1m3 0h1m5 0h1m7 0h2m2 0h1m8 0h1m21 0h1m8 0h1m9 0h1m22 0h2m19 0h1m10 0h1m7 0h1m9 0h1M753 181.5h1m31 0h1m19 0h1m8 0h1m6 0h2m6 0h1m2 0h1m19 0h1m5 0h2m6 0h1m23 0h2m5 0h1m23 0h1m7 0h1m9 0h1m3 0h1m10 0h2m3 0h1m3 0h1m11 0h2m19 0h1m14 0h1m15 0h1M793 182.5h1m25 0h1m8 0h3m4 0h1m1 0h1m1 0h1m12 0h1m2 0h1m3 0h2m45 0h1m5 0h1m1 0h1m5 0h1m4 0h1m3 0h1m8 0h1m8 0h1m13 0h1m6 0h1m4 0h1m1 0h1M792 183.5h1m36 0h1m29 0h1m3 0h1m6 0h1m16 0h1m1 0h1m34 0h1m10 0h1m6 0h1m3 0h1m12 0h1m30 0h1M768 184.5h1m5 0h1m20 0h1m2 0h1m43 0h1m5 0h4m10 0h1m4 0h1m17 0h1m8 0h1m15 0h1m15 0h1m4 0h1m5 0h1m4 0h1m9 0h1m10 0h2m5 0h1m2 0h1m5 0h1M766 185.5h1m8 0h1m13 0h1m3 0h1m30 0h1m2 0h1m28 0h1m24 0h2m15 0h1m37 0h1m4 0h1m2 0h1m15 0h1m18 0h1m17 0h1m21 0h1M810 186.5h1m2 0h1m27 0h1m32 0h1m5 0h1m1 0h1m12 0h2m19 0h1m4 0h1m8 0h2m5 0h1m5 0h1m23 0h1m18 0h1m6 0h1m1 0h1m30 0h1M757 187.5h1m26 0h1m6 0h1m14 0h1m4 0h1m5 0h1m2 0h1m3 0h1m9 0h1m2 0h1m8 0h1m1 0h1m3 0h2m5 0h1m1 0h1m8 0h2m16 0h1m7 0h1m5 0h1m6 0h1m7 0h1m1 0h1m3 0h1m11 0h1m1 0h1m6 0h1m5 0h1m3 0h1m2 0h1m5 0h1m1 0h1m9 0h1m49 0h1M797 188.5h1m2 0h1m25 0h1m17 0h2m14 0h1m25 0h1m51 0h1m2 0h1m7 0h1m3 0h1m9 0h1m47 0h1m3 0h1m42 0h1M767 189.5h1m20 0h1m5 0h1m3 0h1m5 0h1m5 0h1m1 0h1m31 0h1m3 0h1m24 0h1m2 0h1m1 0h1m6 0h2m9 0h1m31 0h1m6 0h1m46 0h1m3 0h1M781 190.5h1m9 0h1m14 0h1m13 0h2m14 0h1m3 0h1m3 0h1m13 0h1m2 0h1m13 0h2m9 0h1m12 0h1m27 0h1m4 0h1m3 0h1m1 0h1m6 0h1m7 0h1m6 0h1m15 0h1m23 0h1M774 191.5h1m11 0h1m8 0h1m11 0h2m7 0h1m5 0h1m2 0h2m5 0h1m1 0h1m1 0h2m6 0h1m7 0h1m3 0h1m3 0h1m6 0h1m11 0h1m5 0h1m9 0h1m3 0h1m3 0h1m11 0h1m4 0h1m3 0h1m2 0h1m13 0h1m4 0h1m6 0h1m23 0h1m1 0h1m18 0h1m10 0h1m6 0h1M787 192.5h1m4 0h2m26 0h1m2 0h1m4 0h1m10 0h2m11 0h1m1 0h1m26 0h1m9 0h1m5 0h1m2 0h1m11 0h1m23 0h1m4 0h1m27 0h1m17 0h1m20 0h1M739 193.5h1m52 0h1m4 0h1m11 0h1m11 0h1m3 0h3m10 0h1m8 0h1m4 0h1m11 0h2m9 0h1m16 0h1m1 0h1m23 0h1m8 0h1m2 0h1m6 0h1m7 0h1m7 0h2m36 0h1m3 0h1M760 194.5h1m9 0h1m14 0h1m2 0h1m7 0h1m7 0h1m13 0h1m1 0h1m3 0h1m2 0h1m3 0h1m5 0h1m11 0h1m8 0h1m2 0h2m1 0h1m2 0h1m8 0h1m3 0h1m1 0h1m1 0h1m13 0h1m18 0h2m4 0h1m2 0h1m1 0h1m9 0h1m10 0h1m36 0h1m2 0h1M807 195.5h1m10 0h1m4 0h1m1 0h1m1 0h1m1 0h1m2 0h1m1 0h2m8 0h1m15 0h1m3 0h1m2 0h1m15 0h1m9 0h1m12 0h1m3 0h1m6 0h1m6 0h1m5 0h1m3 0h2m8 0h1m1 0h1m42 0h1m4 0h1m10 0h1M793 196.5h1m9 0h1m12 0h1m1 0h1m1 0h1m6 0h1m2 0h1m12 0h2m3 0h1m11 0h1m2 0h1m6 0h1m5 0h2m11 0h1m1 0h1m16 0h2m5 0h1m1 0h1m13 0h1m10 0h1m12 0h1m3 0h1m4 0h1m4 0h1m8 0h1m41 0h1m9 0h1M806 197.5h1m5 0h1m12 0h1m16 0h1m7 0h1m3 0h1m2 0h1m6 0h1m4 0h1m11 0h1m24 0h1m19 0h1m1 0h1m4 0h1m17 0h1m3 0h1m8 0h1m1 0h1m23 0h1m6 0h1m2 0h1m13 0h1M765 198.5h1m14 0h1m18 0h1m25 0h1m2 0h1m6 0h2m10 0h1m9 0h1m3 0h1m13 0h1m5 0h1m36 0h1m9 0h1m2 0h1m3 0h1m1 0h2m2 0h1m4 0h1m16 0h1m1 0h1m39 0h1M816 199.5h1m7 0h1m13 0h1m13 0h1m5 0h1m18 0h1m19 0h1m3 0h1m4 0h1m7 0h1m4 0h1m6 0h1m11 0h2m1 0h1m4 0h1m25 0h1m6 0h1m12 0h1m14 0h1m2 0h1M808 200.5h1m3 0h1m1 0h1m12 0h1m4 0h1m13 0h1m5 0h1m9 0h1m12 0h1m3 0h1m5 0h1m2 0h2m8 0h1m5 0h1m7 0h1m15 0h1m4 0h1m1 0h2m9 0h1m2 0h1m21 0h2m16 0h1m12 0h1m24 0h1M801 201.5h1m16 0h1m9 0h1m2 0h2m18 0h1m11 0h2m9 0h1m7 0h1m5 0h1m8 0h1m22 0h1m17 0h2m3 0h1m1 0h2m5 0h1m3 0h1m1 0h3m4 0h1m2 0h1m34 0h1m16 0h1M802 202.5h1m47 0h1m3 0h1m4 0h1m1 0h1m10 0h1m3 0h1m27 0h1m7 0h1m18 0h1m9 0h1m6 0h1m15 0h1m15 0h1m8 0h1m10 0h1m3 0h1m5 0h1M789 203.5h1m18 0h1m7 0h1m3 0h1m11 0h1m5 0h1m3 0h1m7 0h1m1 0h1m1 0h3m7 0h2m17 0h1m8 0h1m3 0h1m9 0h1m1 0h1m9 0h3m3 0h1m1 0h1m10 0h3m3 0h3m1 0h1m4 0h1m3 0h1m3 0h1m8 0h1m3 0h1m11 0h1m2 0h1m11 0h1m3 0h1M777 204.5h1m28 0h1m15 0h1m11 0h1m7 0h1m1 0h1m2 0h2m1 0h1m8 0h2m3 0h1m1 0h1m5 0h1m6 0h1m15 0h1m3 0h2m13 0h1m17 0h1m1 0h1m3 0h1m28 0h1m1 0h1m10 0h1m16 0h1m12 0h1M798 205.5h1m3 0h1m5 0h1m7 0h1m28 0h1m4 0h1m1 0h1m6 0h1m5 0h1m8 0h1m3 0h1m4 0h2m5 0h1m6 0h1m2 0h1m1 0h1m7 0h1m6 0h1m8 0h1m7 0h1m10 0h1m1 0h1m14 0h1m21 0h1m8 0h2m7 0h1m1 0h1M777 206.5h1m13 0h1m3 0h1m1 0h1m5 0h1m4 0h1m2 0h1m1 0h1m13 0h1m1 0h1m10 0h1m3 0h1m1 0h1m1 0h1m7 0h1m8 0h1m6 0h1m3 0h1m4 0h1m6 0h1m2 0h3m13 0h1m3 0h2m8 0h1m4 0h1m7 0h1m2 0h1m9 0h1m3 0h2m19 0h1M793 207.5h1m17 0h1m8 0h1m1 0h1m5 0h1m5 0h1m5 0h1m1 0h4m6 0h2m5 0h2m7 0h1m3 0h1m15 0h2m11 0h1m5 0h1m4 0h1m3 0h1m16 0h1m5 0h3m2 0h1m3 0h1m3 0h1m10 0h1m5 0h1m10 0h1m30 0h1M779 208.5h1m4 0h1m5 0h1m2 0h1m11 0h1m3 0h2m12 0h2m2 0h2m6 0h1m10 0h1m6 0h1m2 0h1m5 0h1m4 0h1m11 0h1m24 0h1m4 0h1m18 0h1m6 0h2m11 0h1m4 0h1m3 0h1m9 0h1m59 0h1m28 0h1M787 209.5h1m3 0h1m11 0h1m17 0h1m5 0h1m4 0h1m5 0h1m9 0h1m1 0h2m27 0h1m38 0h1m20 0h1m4 0h1m1 0h1m6 0h1m2 0h1m6 0h1m7 0h1m14 0h2m11 0h1M800 210.5h1m3 0h1m18 0h1m11 0h1m1 0h1m7 0h1m4 0h1m3 0h1m8 0h1m1 0h1m4 0h1m5 0h1m1 0h1m29 0h1m21 0h1m11 0h1m4 0h1m18 0h1m6 0h1m12 0h2m17 0h1m9 0h1M791 211.5h1m18 0h1m13 0h1m6 0h1m2 0h1m2 0h1m2 0h1m3 0h1m15 0h1m4 0h1m5 0h1m15 0h1m5 0h1m2 0h1m2 0h1m1 0h1m14 0h1m8 0h1m17 0h1m11 0h1m5 0h1m4 0h1m23 0h1m9 0h1m9 0h1m2 0h1m10 0h1M767 212.5h1m53 0h1m8 0h1m1 0h2m9 0h1m5 0h1m5 0h1m3 0h1m6 0h1m14 0h1m10 0h1m6 0h1m7 0h1m4 0h1m2 0h1m3 0h1m4 0h2m14 0h1m4 0h1m7 0h1m58 0h1M772 213.5h1m8 0h1m7 0h1m9 0h1m4 0h1m14 0h1m6 0h1m1 0h1m19 0h1m11 0h1m1 0h1m5 0h1m8 0h1m22 0h1m18 0h1m8 0h1m5 0h1m3 0h1m5 0h2m6 0h1m29 0h1m5 0h1m38 0h1M803 214.5h1m13 0h1m14 0h2m2 0h1m5 0h1m6 0h2m3 0h2m8 0h1m2 0h1m6 0h1m4 0h1m8 0h1m22 0h1m14 0h1m4 0h1m10 0h1m6 0h1m1 0h1m2 0h1m5 0h2m1 0h2m11 0h2m17 0h1M773 215.5h1m15 0h1m15 0h1m3 0h1m2 0h2m5 0h2m10 0h1m2 0h1m6 0h1m2 0h1m1 0h1m3 0h1m35 0h1m2 0h1m2 0h1m8 0h1m2 0h1m6 0h1m2 0h3m1 0h1m5 0h1m3 0h1m1 0h2m9 0h1m2 0h1m1 0h1m1 0h1m1 0h1m21 0h1m4 0h1m2 0h1m9 0h1m11 0h1M781 216.5h1m15 0h1m29 0h1m11 0h1m1 0h1m5 0h1m19 0h1m8 0h1m17 0h1m15 0h1m1 0h1m19 0h1m9 0h1m2 0h2m1 0h1m8 0h2m3 0h1m3 0h1m3 0h2m35 0h1m25 0h1M796 217.5h1m3 0h1m13 0h1m35 0h1m3 0h1m3 0h1m3 0h1m2 0h1m6 0h1m2 0h1m7 0h1m6 0h1m38 0h1m8 0h1m5 0h1m5 0h1m6 0h1m5 0h1m2 0h1m10 0h2m5 0h1m18 0h1m25 0h1M781 218.5h1m1 0h1m2 0h1m24 0h1m10 0h1m12 0h1m2 0h1m1 0h1m5 0h1m8 0h1m8 0h1m2 0h2m4 0h1m21 0h1m20 0h2m20 0h1m1 0h1m4 0h1m66 0h1m18 0h1M828 219.5h1m1 0h1m14 0h1m3 0h2m12 0h1m9 0h1m4 0h1m2 0h1m4 0h2m18 0h1m9 0h1m11 0h1m3 0h2m6 0h1m17 0h1m43 0h1M755 220.5h1m32 0h2m6 0h1m18 0h1m4 0h1m8 0h1m1 0h1m3 0h1m14 0h2m7 0h1m9 0h1m10 0h1m6 0h1m47 0h1m6 0h1m7 0h1m6 0h1m3 0h2m6 0h1m6 0h1m11 0h1m25 0h1M797 221.5h1m18 0h1m3 0h1m1 0h1m13 0h1m3 0h1m15 0h1m1 0h1m3 0h1m5 0h1m5 0h1m20 0h1m5 0h1m12 0h1m4 0h1m6 0h1m2 0h1m34 0h1m16 0h1m19 0h1M798 222.5h1m13 0h2m3 0h1m2 0h1m8 0h1m9 0h1m6 0h3m1 0h1m2 0h1m7 0h1m5 0h1m6 0h1m8 0h1m2 0h1m31 0h1m4 0h1m16 0h1m5 0h1m3 0h1m3 0h1m21 0h1m2 0h1m15 0h1m5 0h1M786 223.5h1m15 0h1m6 0h2m3 0h2m7 0h1m11 0h1m7 0h1m3 0h1m2 0h1m9 0h1m7 0h1m20 0h1m3 0h1m13 0h1m7 0h1m3 0h1m3 0h1m3 0h1m23 0h2m7 0h3m9 0h1m6 0h1m10 0h1M721 224.5h1m50 0h1m14 0h1m17 0h1m23 0h1m12 0h1m2 0h1m9 0h1m2 0h1m16 0h1m4 0h1m3 0h1m7 0h1m5 0h1m6 0h1m1 0h1m28 0h1m5 0h2m10 0h2m29 0h1m5 0h1m34 0h1M796 225.5h1m36 0h1m4 0h1m5 0h1m10 0h1m18 0h1m2 0h1m11 0h1m1 0h1m11 0h1m7 0h1m24 0h1m3 0h1m1 0h1m8 0h1m3 0h1m8 0h1m13 0h1m2 0h1m5 0h1M784 226.5h1m25 0h1m8 0h2m5 0h1m4 0h1m2 0h2m3 0h1m9 0h2m1 0h1m3 0h1m6 0h1m4 0h1m2 0h1m1 0h1m23 0h1m7 0h1m10 0h1m10 0h1m5 0h1m5 0h2m2 0h1m11 0h1m4 0h1m14 0h1m7 0h1m1 0h1m3 0h1m5 0h1m41 0h1M772 227.5h1m1 0h1m18 0h1m2 0h1m12 0h1m26 0h1m5 0h1m1 0h1m4 0h2m7 0h2m7 0h1m13 0h1m19 0h1m26 0h1m2 0h1m2 0h1m6 0h1m5 0h1m2 0h1M780 228.5h1m29 0h1m1 0h2m14 0h1m2 0h1m2 0h1m2 0h1m19 0h1m2 0h1m4 0h1m13 0h1m4 0h1m20 0h1m11 0h1m7 0h1m6 0h1m17 0h1m1 0h1m3 0h1m6 0h1m10 0h1m2 0h2m8 0h1m1 0h1m4 0h1m1 0h1M791 229.5h2m6 0h1m3 0h1m19 0h1m8 0h1m31 0h1m31 0h1m6 0h1m18 0h1m28 0h1m6 0h1m8 0h2m3 0h1m5 0h1M754 230.5h1m27 0h1m1 0h1m11 0h1m10 0h1m3 0h1m20 0h1m2 0h1m4 0h1m2 0h1m4 0h1m39 0h2m22 0h2m6 0h1m2 0h1m1 0h1m2 0h1m14 0h1m19 0h1m17 0h1M828 231.5h3m1 0h1m24 0h1m5 0h1m4 0h1m3 0h1m41 0h1m4 0h1m4 0h1m22 0h3m10 0h1m10 0h1m1 0h1m1 0h2m4 0h1m2 0h1m1 0h1m24 0h1M801 232.5h1m23 0h1m10 0h1m1 0h2m11 0h1m40 0h1m1 0h1m4 0h1m14 0h1m6 0h1m13 0h1m12 0h2m4 0h1m6 0h1m15 0h1m3 0h1M763 233.5h1m42 0h1m10 0h1m15 0h1m22 0h1m6 0h1m6 0h1m2 0h1m12 0h1m6 0h1m25 0h1m4 0h1m3 0h1m19 0h1m1 0h1m2 0h1m4 0h1m2 0h1m21 0h1m4 0h1m4 0h1m3 0h2m24 0h1M818 234.5h1m6 0h1m1 0h1m18 0h1m4 0h2m4 0h1m4 0h1m7 0h1m3 0h1m1 0h1m2 0h1m14 0h1m32 0h1m12 0h1m9 0h1m7 0h1m10 0h1m17 0h1m52 0h1M799 235.5h1m6 0h1m5 0h1m8 0h1m18 0h1m1 0h2m5 0h1m13 0h1m2 0h1m5 0h2m1 0h1m10 0h1m50 0h1m1 0h3m8 0h1m4 0h2m31 0h1m15 0h1M820 236.5h1m10 0h1m2 0h2m9 0h1m19 0h1m2 0h1m30 0h1m1 0h1m16 0h1m10 0h1m12 0h1m8 0h1m9 0h1m18 0h1M746 237.5h1m52 0h1m8 0h1m11 0h1m12 0h1m4 0h1m15 0h1m3 0h1m20 0h1m3 0h1m18 0h1m9 0h1m9 0h1m2 0h2m7 0h1m3 0h1m4 0h1m2 0h1m11 0h1M756 238.5h1m8 0h1m27 0h1m12 0h1m10 0h1m37 0h2m2 0h1m16 0h1m23 0h1m17 0h1m1 0h1m4 0h1m3 0h1m23 0h2m5 0h1m7 0h2m4 0h1m5 0h1m14 0h1m19 0h1M810 239.5h1m12 0h1m1 0h1m2 0h1m14 0h1m17 0h1m25 0h1m29 0h1m6 0h1m2 0h1m14 0h1m4 0h1m2 0h1m24 0h1m1 0h1m3 0h1m2 0h1m3 0h1m10 0h1M770 240.5h1m19 0h1m24 0h1m1 0h2m3 0h1m10 0h1m11 0h1m12 0h1m9 0h1m26 0h1m10 0h1m17 0h1m4 0h1m4 0h1m6 0h1m33 0h1m8 0h1m30 0h1M753 241.5h1m36 0h1m28 0h1m2 0h1m24 0h1m29 0h1m17 0h1m11 0h1m5 0h1m22 0h1m5 0h1m4 0h1M762 242.5h1m57 0h1m22 0h1m12 0h1m25 0h1m4 0h1m20 0h1m43 0h1m3 0h1m55 0h1m1 0h1M749 243.5h1m50 0h1m20 0h1m3 0h1m12 0h1m4 0h1m10 0h1m14 0h1m4 0h1m2 0h1m49 0h1m11 0h1m9 0h1m9 0h1m5 0h3m24 0h1m2 0h1m26 0h1M792 244.5h1m16 0h1m3 0h1m30 0h1m16 0h1m1 0h1m3 0h1m13 0h1m3 0h1m8 0h1m9 0h1m10 0h1m4 0h1m7 0h1m3 0h1m30 0h1m29 0h1m4 0h1M824 245.5h1m54 0h1m7 0h1m33 0h1m29 0h1m2 0h1m7 0h1m7 0h1m8 0h1m1 0h1m10 0h1m3 0h1m9 0h1m1 0h1M792 246.5h1m14 0h1m5 0h1m9 0h2m5 0h1m10 0h2m6 0h1m9 0h1m2 0h2m13 0h1m16 0h1m7 0h1m1 0h1m11 0h1m2 0h1m3 0h1m4 0h2m18 0h2m15 0h1m3 0h1m7 0h1m12 0h1m2 0h1M764 247.5h1m65 0h1m3 0h1m4 0h1m10 0h1m8 0h1m23 0h1m20 0h1m5 0h1m36 0h2m6 0h1m5 0h1m4 0h1m3 0h1M794 248.5h1m8 0h1m11 0h1m34 0h1m13 0h1m2 0h1m18 0h1m2 0h1m16 0h1m46 0h1m9 0h1m8 0h1M805 249.5h1m11 0h1m41 0h1m4 0h1m12 0h1m14 0h1m4 0h1m11 0h1m5 0h1m7 0h1m9 0h1m23 0h1m11 0h1M825 250.5h1m8 0h1m19 0h1m11 0h1m8 0h1m25 0h1m14 0h1m1 0h1m10 0h1m4 0h1m3 0h1m27 0h1m20 0h1M758 251.5h1m37 0h1m15 0h1m3 0h1m10 0h1m34 0h1m8 0h1m8 0h1m13 0h1m13 0h1m11 0h1m8 0h1m13 0h1m2 0h1m35 0h1m2 0h1m2 0h1m5 0h1m3 0h1m17 0h1M807 252.5h1m14 0h1m28 0h1m1 0h1m15 0h1m5 0h1m21 0h1m1 0h1m43 0h1m1 0h1m15 0h1m2 0h1m44 0h1m1 0h1M840 253.5h1m7 0h1m22 0h1m50 0h1m15 0h1m2 0h1m1 0h1m12 0h1m4 0h1m11 0h1M798 254.5h1m11 0h1m17 0h1m5 0h1m7 0h1m5 0h1m10 0h1m11 0h1m79 0h1m15 0h1m20 0h1M767 255.5h1m13 0h1m52 0h1m3 0h1m2 0h1m4 0h1m22 0h1m8 0h1m26 0h1m8 0h1m1 0h1m9 0h1m3 0h1m1 0h1m37 0h1m4 0h1M801 256.5h1m29 0h1m7 0h1m17 0h1m53 0h1m15 0h1m15 0h1m46 0h1M846 257.5h1m9 0h1m62 0h1m3 0h1m17 0h2m14 0h1m7 0h2m5 0h1m2 0h4m13 0h1M787 258.5h1m111 0h1m14 0h1m5 0h1m1 0h1m11 0h1m10 0h1m10 0h1m6 0h1m11 0h1m45 0h1M789 259.5h1m16 0h1m1 0h1m8 0h1m38 0h1m8 0h1m7 0h1m19 0h1m24 0h1m7 0h1m2 0h1m34 0h1m1 0h1M806 260.5h1m4 0h1m37 0h1m2 0h1m3 0h1m1 0h1m11 0h1m44 0h1m14 0h1m61 0h1M785 261.5h1m23 0h1m17 0h1m6 0h1m6 0h1m5 0h1m26 0h1m35 0h2m8 0h1m37 0h1m16 0h1m6 0h1M801 262.5h1m8 0h1m38 0h1m18 0h1m35 0h1m6 0h1m3 0h1m19 0h1m14 0h1m17 0h1m16 0h1m3 0h1M748 263.5h1m117 0h1m63 0h1m33 0h1m33 0h1m8 0h1M784 264.5h1m22 0h1m41 0h1m7 0h1m3 0h1m88 0h1m3 0h1m21 0h1M745 265.5h1m76 0h1m1 0h1m18 0h1m78 0h1M808 266.5h1m30 0h1m1 0h1m30 0h1m18 0h2m17 0h3m18 0h1m38 0h1m4 0h1M791 267.5h1m43 0h1m46 0h1m58 0h1m78 0h1M818 268.5h1m5 0h1m77 0h1m18 0h1m1 0h3m18 0h1m12 0h1m3 0h2m2 0h1m1 0h1m2 0h1M826 269.5h1m34 0h1m16 0h1m4 0h1m16 0h1m18 0h1m40 0h1m10 0h1M819 270.5h1m8 0h1m31 0h1m3 0h1m27 0h1m23 0h1m52 0h1m17 0h1m8 0h1m18 0h1M835 271.5h1m12 0h1m49 0h1m49 0h1m4 0h1M802 272.5h1m27 0h1m4 0h1m23 0h1m59 0h1M806 273.5h1m5 0h1m11 0h1m4 0h1m11 0h1m2 0h1m14 0h1m48 0h1m13 0h1m22 0h1m46 0h1M814 274.5h1m69 0h1m15 0h1m4 0h1m4 0h1m16 0h1m4 0h1M804 275.5h1m27 0h1m47 0h1m55 0h1m41 0h1M830 276.5h1m1 0h1m38 0h1m13 0h1m58 0h1m5 0h1m3 0h1M829 277.5h1m155 0h1M835 278.5h1m1 0h1m23 0h1m138 0h1M863 279.5h1m31 0h1m24 0h1m2 0h1m43 0h1M832 280.5h1m69 0h1m11 0h1m38 0h1m12 0h1m8 0h1m22 0h1M796 281.5h1m29 0h1m7 0h1m19 0h1m19 0h1m37 0h1m11 0h1m71 0h1M949 282.5h1m9 0h1M833 283.5h1m5 0h1m103 0h1M877 284.5h1m15 0h1m3 0h1m20 0h1M840 285.5h1m54 0h1M832 286.5h1m7 0h1m21 0h1m71 0h1M817 287.5h1m6 0h1m56 0h2m60 0h1m14 0h1M818 288.5h1m1 0h1m182 0h1M839 289.5h1M856 290.5h1m20 0h1m42 0h1m32 0h1m34 0h1M803 291.5h1M856 292.5h1m146 0h1M834 293.5h1m132 0h1M822 294.5h1m67 0h1M858 295.5h1m63 0h1M971 296.5h1M817 298.5h1m133 0h1M888 300.5h1m41 0h2M783 301.5h1m53 0h1m76 0h1M801 302.5h1m120 0h1m7 0h1M882 303.5h1M884 306.5h1m103 0h1M841 308.5h1M967 309.5h1M784 310.5h1M799 311.5h1M910 315.5h1M916 324.5h1M938 330.5h1"/>
<path id="dc0" d="M1516 88.5h2M1516 89.5h2M1467 97.5h2M1467 98.5h2m52 0h2M1476 99.5h2m43 0h2M1476 100.5h2M1541 101.5h2m19 0h2M1541 102.5h2m19 0h2M1448 103.5h2m129 0h2M1448 104.5h2m80 0h2m47 0h2M1472 105.5h2m56 0h2M1472 106.5h2m77 0h2M1525 107.5h2m24 0h2m5 0h2M1397 108.5h2m115 0h2m9 0h2m31 0h2M1397 109.5h2m115 0h2m40 0h2M1523 110.5h2m31 0h2M1523 111.5h2M1445 112.5h2m36 0h2m88 0h2m5 0h2m14 0h2M1434 113.5h2m1 0h2m6 0h2m10 0h2m24 0h2m30 0h2m56 0h2m5 0h2m14 0h2m33 0h2M1416 114.5h2m16 0h2m1 0h2m18 0h2m56 0h2m14 0h2m1 0h2m14 0h2m79 0h2M1416 115.5h2m113 0h2m1 0h2m14 0h2m39 0h2M1456 116.5h2m73 0h2m1 0h2m55 0h2m5 0h2M1456 117.5h2m2 0h2m44 0h2m23 0h2m1 0h2m62 0h2M1460 118.5h2m44 0h2m26 0h2m27 0h2m19 0h2M1506 119.5h2m55 0h2m4 0h2m13 0h2m15 0h2M1421 120.5h2m52 0h2m18 0h2m9 0h2m61 0h2m20 0h2m8 0h2m42 0h2m2 0h2M1421 121.5h2m52 0h2m18 0h2m36 0h4m54 0h2m52 0h2m2 0h2M1445 122.5h2m48 0h2m32 0h2m2 0h4m87 0h2M1445 123.5h2m20 0h2m5 0h2m53 0h2m12 0h2m31 0h2m35 0h2m9 0h2M1455 124.5h2m10 0h2m5 0h2m59 0h2m6 0h2m2 0h2m27 0h2m35 0h2m18 0h2M1409 125.5h2m12 0h2m2 0h2m26 0h2m25 0h2m12 0h2m29 0h2m6 0h2m10 0h2m5 0h2m46 0h2m29 0h2M1409 126.5h2m12 0h2m2 0h2m53 0h2m12 0h2m4 0h2m23 0h2m2 0h2m21 0h2m2 0h3m6 0h2m33 0h2M1431 127.5h2m61 0h4m4 0h2m16 0h2m9 0h2m21 0h2m2 0h3m3 0h2m1 0h2m5 0h2m13 0h2m1 0h4m9 0h2m6 0h2M1431 128.5h2m10 0h2m35 0h2m12 0h4m22 0h2m4 0h2m2 0h2m32 0h2m8 0h2m13 0h7m9 0h2m6 0h2m14 0h2M1443 129.5h4m20 0h2m11 0h2m3 0h2m2 0h2m35 0h2m2 0h4m45 0h2m9 0h2m37 0h2M1445 130.5h2m20 0h2m5 0h2m9 0h2m2 0h2m31 0h2m8 0h2m4 0h2m9 0h2m7 0h2m19 0h2m22 0h2m6 0h2m7 0h2m14 0h2M1468 131.5h2m4 0h2m13 0h2m31 0h4m2 0h2m8 0h2m9 0h2m7 0h2m39 0h2m2 0h2m6 0h2m7 0h2m14 0h2M1468 132.5h2m12 0h2m27 0h2m9 0h4m2 0h2m7 0h2m11 0h2m20 0h2m6 0h2m10 0h2m5 0h2m41 0h2M1418 133.5h2m62 0h2m14 0h2m10 0h7m5 0h2m8 0h2m3 0h2m3 0h2m5 0h3m15 0h2m3 0h2m6 0h2m10 0h2m11 0h2m23 0h2m10 0h4M1418 134.5h2m21 0h3m23 0h2m13 0h3m12 0h3m10 0h2m1 0h4m15 0h2m8 0h4m3 0h2m11 0h2m3 0h2m6 0h2m18 0h2m5 0h2m1 0h2m23 0h2m12 0h2M1419 135.5h2m8 0h2m10 0h3m23 0h2m14 0h2m11 0h3m8 0h2m3 0h2m3 0h2m7 0h4m4 0h2m5 0h2m1 0h2m4 0h2m6 0h2m2 0h2m11 0h2m4 0h2m3 0h2m6 0h3m5 0h2M1419 136.5h2m7 0h3m15 0h2m7 0h2m11 0h2m26 0h2m4 0h2m3 0h2m3 0h2m3 0h2m7 0h4m4 0h2m5 0h2m7 0h3m5 0h2m1 0h4m12 0h2m2 0h2m3 0h2m3 0h2m1 0h2m6 0h3m2 0h2m35 0h2M1428 137.5h2m16 0h2m7 0h4m9 0h5m6 0h2m7 0h2m7 0h2m3 0h2m2 0h2m9 0h2m21 0h2m8 0h3m8 0h4m12 0h2m12 0h2m10 0h2m2 0h2m1 0h2m32 0h2M1408 138.5h2m10 0h2m6 0h2m5 0h2m20 0h2m11 0h3m3 0h2m1 0h2m5 0h4m7 0h5m4 0h2m5 0h2m1 0h2m13 0h2m6 0h3m8 0h2m5 0h2m19 0h2m6 0h2m22 0h2m27 0h2M1408 139.5h2m10 0h2m6 0h2m5 0h2m4 0h2m27 0h2m2 0h4m2 0h4m2 0h2m10 0h4m11 0h2m1 0h2m13 0h2m4 0h6m2 0h2m10 0h6m11 0h2m2 0h2m6 0h2m1 0h2m9 0h2m37 0h2M1428 140.5h4m2 0h2m2 0h2m1 0h2m10 0h2m9 0h3m7 0h2m2 0h6m2 0h2m10 0h2m35 0h8m2 0h2m12 0h4m9 0h4m2 0h2m9 0h4m2 0h3m2 0h2m5 0h4m9 0h2m26 0h2M1391 141.5h2m12 0h2m22 0h3m2 0h2m2 0h4m11 0h2m9 0h3m1 0h2m8 0h2m2 0h2m18 0h3m26 0h2m2 0h3m1 0h2m10 0h2m3 0h2m3 0h2m9 0h2m10 0h2m1 0h6m2 0h3m4 0h2m3 0h4m3 0h2m4 0h2m26 0h2m23 0h2M1391 142.5h2m12 0h2m22 0h2m4 0h2m3 0h2m1 0h2m5 0h2m7 0h2m7 0h2m15 0h2m8 0h4m3 0h3m20 0h3m3 0h2m5 0h3m4 0h2m1 0h2m1 0h2m3 0h3m25 0h2m1 0h5m4 0h2m4 0h2m9 0h3m57 0h2M1423 143.5h2m10 0h2m6 0h2m5 0h2m7 0h2m3 0h2m18 0h3m4 0h2m2 0h4m5 0h2m5 0h2m12 0h4m4 0h4m1 0h3m2 0h4m1 0h2m3 0h2m2 0h2m9 0h2m26 0h2m3 0h2m9 0h4M1405 144.5h2m16 0h2m19 0h2m4 0h2m2 0h2m8 0h2m14 0h2m2 0h2m5 0h2m1 0h2m2 0h2m4 0h2m5 0h4m12 0h2m3 0h5m6 0h2m1 0h4m3 0h2m9 0h2m2 0h2m10 0h2m19 0h2m9 0h2m5 0h2m9 0h2m23 0h2M1405 145.5h2m24 0h2m4 0h2m5 0h2m1 0h2m1 0h2m2 0h2m21 0h2m1 0h2m12 0h2m2 0h2m12 0h3m17 0h3m3 0h2m3 0h2m1 0h4m2 0h2m3 0h2m5 0h2m8 0h2m4 0h2m4 0h3m2 0h2m8 0h2m2 0h3m3 0h2m1 0h2m3 0h2m4 0h2m3 0h3m16 0h2m4 0h3M1431 146.5h2m4 0h3m6 0h3m12 0h4m4 0h10m33 0h2m2 0h2m20 0h2m6 0h2m4 0h2m3 0h2m15 0h2m10 0h3m2 0h2m9 0h2m1 0h3m3 0h2m1 0h2m9 0h2m4 0h2m11 0h2m3 0h2m5 0h2M1438 147.5h2m6 0h2m4 0h2m7 0h4m4 0h8m5 0h2m6 0h2m9 0h2m1 0h2m3 0h5m2 0h2m5 0h2m7 0h2m20 0h2m4 0h5m9 0h2m3 0h2m21 0h2m17 0h2m21 0h2M1406 148.5h2m15 0h2m27 0h2m4 0h2m6 0h2m3 0h3m8 0h2m6 0h2m9 0h2m1 0h4m1 0h5m5 0h2m2 0h2m7 0h4m6 0h4m4 0h2m2 0h2m4 0h7m9 0h2m1 0h2m1 0h2m8 0h2m6 0h2m1 0h2m8 0h2m5 0h3m5 0h2m18 0h2M1385 149.5h2m19 0h2m15 0h2m3 0h2m1 0h3m13 0h2m5 0h2m2 0h2m3 0h2m1 0h3m2 0h3m9 0h4m2 0h4m2 0h2m8 0h3m11 0h2m8 0h2m3 0h2m2 0h2m1 0h5m3 0h3m5 0h2m5 0h4m8 0h2m1 0h2m1 0h4m6 0h2m6 0h2m1 0h2m8 0h2m5 0h2m6 0h2m18 0h2m1 0h2M1359 150.5h2m24 0h4m39 0h2m1 0h3m7 0h2m4 0h2m5 0h2m2 0h2m3 0h7m2 0h2m9 0h4m2 0h4m1 0h3m8 0h2m8 0h2m2 0h4m6 0h2m7 0h2m1 0h2m3 0h2m1 0h2m4 0h4m5 0h4m11 0h2m3 0h3m9 0h2m15 0h2m7 0h2m27 0h3M1359 151.5h2m26 0h2m18 0h2m14 0h2m3 0h2m3 0h2m6 0h2m1 0h2m2 0h2m5 0h2m8 0h2m1 0h2m2 0h2m2 0h4m14 0h2m9 0h2m4 0h2m2 0h2m1 0h5m6 0h4m5 0h2m6 0h4m5 0h3m13 0h5m1 0h2m5 0h3m9 0h2m8 0h2m6 0h2m6 0h3m1 0h4m22 0h2M1407 152.5h2m13 0h3m8 0h2m9 0h6m5 0h2m15 0h2m2 0h4m3 0h2m4 0h2m14 0h2m4 0h2m5 0h4m6 0h2m1 0h2m4 0h3m8 0h2m4 0h4m6 0h2m5 0h5m1 0h2m5 0h5m1 0h2m2 0h3m3 0h2m2 0h4m6 0h2m5 0h4m1 0h4M1421 153.5h3m8 0h2m7 0h2m3 0h2m2 0h4m1 0h3m1 0h2m19 0h2m1 0h2m2 0h5m1 0h3m4 0h3m7 0h2m2 0h2m4 0h2m6 0h2m3 0h6m15 0h3m6 0h3m6 0h3m11 0h3m1 0h2m2 0h3m2 0h3m2 0h4m3 0h2m8 0h2m3 0h2m17 0h2M1413 154.5h3m5 0h2m9 0h2m1 0h3m3 0h2m7 0h4m2 0h2m1 0h4m6 0h2m8 0h3m5 0h2m1 0h8m1 0h4m5 0h4m2 0h4m7 0h2m2 0h2m2 0h4m6 0h4m5 0h2m1 0h2m4 0h4m2 0h2m5 0h2m19 0h2m2 0h3m3 0h2m2 0h4m21 0h2m9 0h2m10 0h2M1413 155.5h5m14 0h2m1 0h3m22 0h3m6 0h4m2 0h2m2 0h4m8 0h3m2 0h5m1 0h2m4 0h3m5 0h2m2 0h3m2 0h2m2 0h2m2 0h2m3 0h2m3 0h4m1 0h2m2 0h2m4 0h2m1 0h2m1 0h2m1 0h2m5 0h3m3 0h3m12 0h4m6 0h2m2 0h4m11 0h5m5 0h2m21 0h2M1416 156.5h2m7 0h2m3 0h4m16 0h2m5 0h2m1 0h2m9 0h2m2 0h2m4 0h2m2 0h2m4 0h2m3 0h4m2 0h2m3 0h4m6 0h2m1 0h3m3 0h2m3 0h2m5 0h2m4 0h2m1 0h3m8 0h2m4 0h2m1 0h2m2 0h12m4 0h2m6 0h4m8 0h6m11 0h5m16 0h2M1416 157.5h2m2 0h2m3 0h2m3 0h2m1 0h2m3 0h2m6 0h2m2 0h2m5 0h3m11 0h3m3 0h2m2 0h6m20 0h2m8 0h2m4 0h2m1 0h2m2 0h3m2 0h4m8 0h2m1 0h2m12 0h2m1 0h2m2 0h4m1 0h6m5 0h3m5 0h2m2 0h2m1 0h2m3 0h6m11 0h2m12 0h2m1 0h2m2 0h2m1 0h4M1403 158.5h2m15 0h2m7 0h2m2 0h2m3 0h2m6 0h4m5 0h2m1 0h4m10 0h2m3 0h2m2 0h4m6 0h2m8 0h2m9 0h2m3 0h3m3 0h3m4 0h3m2 0h4m2 0h2m1 0h5m1 0h2m10 0h2m3 0h2m19 0h2m5 0h2m2 0h5m5 0h2m10 0h2m12 0h2m1 0h2m1 0h2m5 0h6M1403 159.5h2m10 0h2m12 0h2m8 0h2m3 0h2m2 0h2m5 0h2m3 0h3m6 0h2m10 0h4m6 0h2m8 0h2m3 0h3m3 0h2m2 0h4m4 0h4m3 0h2m6 0h4m1 0h4m3 0h2m9 0h2m29 0h2m3 0h4m7 0h2m9 0h3m3 0h2m7 0h2m1 0h2m4 0h2m6 0h3M1415 160.5h2m10 0h2m4 0h2m4 0h2m3 0h5m4 0h4m3 0h3m6 0h2m10 0h4m3 0h2m5 0h2m9 0h3m2 0h2m3 0h2m1 0h2m3 0h11m4 0h2m2 0h2m5 0h3m3 0h2m1 0h2m26 0h2m4 0h2m3 0h2m10 0h2m8 0h2m4 0h2m6 0h2m7 0h3m7 0h2m1 0h2M1427 161.5h2m2 0h4m1 0h2m6 0h5m4 0h5m1 0h2m1 0h4m22 0h2m5 0h4m7 0h2m2 0h3m3 0h2m1 0h2m7 0h7m5 0h6m3 0h4m3 0h2m1 0h2m2 0h3m21 0h2m11 0h4m5 0h3m4 0h2m9 0h5m2 0h4m5 0h2m1 0h2m8 0h2M1431 162.5h2m3 0h2m6 0h2m10 0h2m1 0h2m1 0h4m6 0h2m2 0h2m3 0h2m3 0h3m1 0h2m3 0h4m11 0h2m1 0h2m1 0h2m2 0h2m3 0h5m1 0h5m4 0h6m3 0h5m1 0h3m2 0h2m1 0h3m3 0h2m3 0h4m4 0h2m16 0h5m4 0h2m5 0h2m9 0h5m3 0h3m4 0h2m2 0h2m9 0h2M1383 163.5h2m7 0h2m32 0h2m5 0h5m34 0h8m1 0h8m1 0h2m5 0h3m13 0h2m4 0h3m1 0h10m1 0h4m3 0h2m7 0h4m1 0h2m3 0h2m2 0h3m2 0h2m1 0h6m4 0h6m6 0h2m5 0h5m1 0h2m5 0h4m11 0h2m1 0h2m1 0h2m5 0h2m8 0h2m3 0h2m16 0h2M1383 164.5h2m7 0h2m9 0h2m15 0h2m4 0h2m5 0h5m1 0h2m10 0h2m12 0h2m7 0h6m3 0h3m1 0h4m6 0h5m5 0h2m8 0h4m2 0h2m5 0h5m1 0h2m8 0h2m1 0h3m1 0h2m1 0h4m4 0h3m5 0h2m10 0h4m6 0h2m6 0h4m1 0h3m4 0h4m8 0h2m4 0h2m3 0h2m13 0h2m9 0h2m10 0h2M1383 165.5h2m18 0h2m15 0h2m1 0h2m9 0h2m3 0h2m10 0h2m2 0h2m8 0h2m4 0h2m2 0h2m10 0h4m2 0h2m3 0h6m3 0h2m7 0h4m10 0h10m2 0h2m2 0h2m1 0h2m2 0h2m1 0h4m2 0h2m2 0h2m8 0h2m24 0h2m1 0h10m11 0h2m8 0h3m2 0h2m20 0h2M1383 166.5h2m38 0h2m5 0h2m2 0h3m18 0h2m1 0h2m1 0h2m4 0h2m2 0h5m12 0h2m3 0h2m1 0h11m9 0h2m6 0h2m3 0h3m3 0h5m2 0h2m4 0h2m1 0h2m3 0h4m2 0h7m7 0h3m4 0h2m2 0h2m9 0h3m4 0h4m1 0h5m8 0h2m5 0h2m1 0h2m1 0h3m2 0h2M1430 167.5h2m3 0h2m8 0h6m1 0h2m4 0h2m1 0h4m2 0h2m1 0h6m3 0h2m4 0h2m1 0h3m3 0h13m6 0h2m9 0h2m3 0h4m2 0h2m11 0h5m3 0h10m1 0h2m7 0h3m4 0h2m2 0h5m6 0h3m6 0h2m1 0h2m3 0h2m6 0h2m5 0h2m1 0h2m27 0h2M1388 168.5h2m50 0h2m2 0h10m9 0h4m3 0h2m7 0h2m1 0h2m1 0h6m3 0h5m4 0h2m6 0h4m6 0h4m5 0h3m2 0h2m2 0h2m6 0h2m1 0h3m3 0h2m2 0h2m2 0h2m17 0h2m3 0h4m7 0h2m1 0h2m6 0h3m1 0h3m8 0h2m35 0h2M1388 169.5h2m23 0h2m25 0h2m2 0h2m2 0h4m4 0h2m4 0h2m1 0h4m11 0h4m1 0h8m3 0h3m1 0h2m1 0h2m1 0h2m2 0h5m1 0h2m1 0h7m1 0h2m1 0h2m5 0h5m5 0h2m2 0h3m2 0h2m6 0h4m3 0h2m2 0h2m6 0h2m4 0h2m3 0h2m3 0h5m7 0h6m7 0h3m4 0h2m4 0h2m23 0h2M1396 170.5h2m15 0h2m3 0h2m2 0h2m12 0h2m8 0h4m6 0h4m2 0h2m3 0h2m1 0h2m8 0h2m6 0h5m4 0h2m1 0h2m2 0h4m2 0h5m1 0h2m1 0h2m3 0h2m1 0h5m1 0h2m2 0h6m3 0h9m10 0h3m3 0h2m2 0h2m4 0h3m9 0h3m4 0h3m10 0h8m3 0h2m5 0h2m4 0h2m23 0h2m22 0h2m4 0h2M1396 171.5h2m2 0h2m3 0h2m11 0h2m2 0h2m5 0h2m5 0h2m8 0h3m2 0h2m4 0h3m10 0h5m6 0h2m2 0h8m6 0h2m2 0h5m7 0h7m1 0h4m2 0h2m1 0h3m4 0h4m3 0h5m1 0h3m10 0h2m3 0h7m4 0h3m9 0h2m1 0h6m2 0h2m4 0h2m1 0h2m2 0h4m21 0h2m42 0h2m4 0h2M1400 172.5h2m3 0h2m2 0h2m11 0h2m4 0h4m10 0h2m3 0h2m2 0h2m4 0h3m5 0h2m4 0h4m3 0h2m1 0h12m2 0h3m1 0h3m1 0h4m1 0h5m2 0h7m1 0h4m5 0h3m1 0h2m2 0h2m1 0h2m7 0h4m2 0h4m3 0h2m3 0h7m1 0h5m4 0h2m2 0h2m3 0h5m3 0h2m2 0h4m1 0h2m4 0h2m21 0h2M1390 173.5h2m17 0h2m11 0h4m2 0h7m2 0h2m2 0h3m3 0h2m2 0h2m3 0h2m3 0h2m1 0h5m3 0h4m2 0h2m3 0h4m2 0h2m4 0h3m2 0h2m1 0h2m3 0h6m6 0h2m1 0h5m5 0h2m1 0h2m1 0h2m2 0h4m1 0h2m3 0h3m2 0h4m3 0h3m10 0h4m2 0h2m1 0h3m1 0h2m2 0h3m1 0h7m2 0h3m8 0h5m3 0h2m12 0h2M1376 174.5h2m12 0h2m27 0h2m1 0h4m1 0h2m2 0h4m2 0h2m2 0h2m4 0h2m1 0h2m4 0h2m1 0h7m1 0h3m4 0h3m1 0h2m5 0h2m4 0h2m6 0h6m1 0h4m2 0h2m1 0h3m1 0h6m1 0h2m3 0h7m1 0h2m2 0h7m4 0h2m4 0h2m3 0h3m7 0h7m2 0h6m1 0h2m1 0h3m4 0h5m2 0h5m7 0h4m3 0h2m12 0h2M1376 175.5h2m32 0h2m6 0h3m3 0h2m1 0h2m7 0h4m2 0h2m6 0h2m3 0h2m2 0h2m1 0h2m1 0h2m1 0h4m3 0h2m1 0h2m11 0h2m6 0h2m1 0h2m2 0h2m4 0h6m1 0h6m6 0h2m2 0h3m1 0h2m1 0h7m2 0h2m7 0h5m7 0h2m1 0h5m6 0h4m4 0h4m2 0h2m1 0h2m6 0h2m5 0h2m1 0h2m3 0h3M1410 176.5h2m6 0h2m1 0h2m1 0h2m8 0h6m2 0h2m2 0h2m5 0h5m4 0h2m1 0h2m3 0h2m5 0h2m16 0h2m1 0h4m2 0h4m2 0h6m3 0h2m10 0h2m6 0h2m1 0h7m2 0h2m5 0h3m1 0h3m2 0h2m3 0h2m4 0h2m4 0h2m10 0h2m2 0h5m13 0h5m3 0h3m5 0h2m1 0h2M1415 177.5h2m4 0h2m3 0h2m2 0h2m2 0h3m8 0h3m4 0h3m1 0h3m5 0h2m2 0h2m3 0h3m1 0h2m3 0h3m5 0h2m2 0h8m2 0h4m2 0h2m3 0h2m2 0h2m4 0h2m4 0h2m5 0h3m2 0h2m1 0h3m2 0h4m3 0h3m6 0h2m1 0h2m7 0h2m3 0h2m4 0h4m6 0h4m3 0h4m9 0h4m10 0h2m1 0h4m22 0h2M1404 178.5h4m1 0h2m4 0h2m7 0h8m10 0h2m1 0h2m4 0h8m1 0h2m2 0h2m2 0h8m5 0h4m5 0h2m2 0h5m5 0h2m5 0h2m2 0h2m8 0h2m11 0h2m3 0h2m2 0h8m6 0h2m7 0h4m3 0h4m1 0h2m6 0h6m1 0h2m3 0h2m3 0h4m6 0h2m1 0h4m8 0h3m4 0h2m21 0h3m29 0h2M1404 179.5h4m1 0h2m13 0h2m1 0h7m8 0h2m1 0h4m2 0h8m1 0h2m2 0h2m3 0h8m4 0h2m1 0h2m9 0h2m2 0h2m10 0h2m2 0h4m1 0h2m1 0h5m14 0h3m3 0h5m2 0h3m3 0h3m6 0h9m3 0h2m6 0h2m2 0h2m1 0h2m1 0h2m9 0h2m4 0h2m1 0h4m8 0h3m1 0h2m10 0h2m12 0h2m30 0h2M1400 180.5h2m4 0h2m4 0h2m13 0h2m3 0h2m11 0h4m1 0h3m2 0h3m6 0h2m3 0h5m1 0h3m4 0h4m4 0h3m1 0h2m3 0h2m2 0h2m10 0h4m1 0h2m1 0h5m6 0h2m6 0h4m9 0h3m4 0h2m3 0h3m1 0h2m1 0h6m1 0h2m5 0h4m2 0h2m3 0h4m1 0h2m1 0h2m2 0h2m4 0h2m3 0h2m8 0h2m2 0h2m10 0h2M1380 181.5h2m18 0h2m10 0h2m13 0h2m3 0h2m7 0h2m5 0h4m4 0h2m1 0h2m3 0h2m4 0h4m2 0h2m1 0h2m1 0h2m1 0h3m2 0h6m5 0h4m12 0h3m4 0h4m5 0h3m7 0h3m2 0h2m6 0h4m6 0h7m5 0h2m1 0h4m1 0h6m7 0h11m7 0h2m4 0h2m13 0h2m5 0h2m7 0h2M1380 182.5h2m30 0h2m6 0h2m10 0h2m7 0h2m3 0h5m4 0h6m1 0h6m11 0h2m1 0h2m1 0h4m3 0h3m6 0h4m12 0h3m4 0h7m2 0h2m3 0h6m3 0h3m2 0h2m2 0h4m3 0h5m2 0h2m2 0h2m5 0h4m1 0h8m1 0h2m2 0h6m1 0h4m13 0h2m13 0h2m5 0h4m5 0h2M1419 183.5h3m8 0h2m14 0h2m7 0h4m3 0h6m11 0h2m1 0h2m2 0h3m1 0h2m5 0h3m3 0h5m6 0h4m2 0h2m6 0h3m2 0h2m1 0h8m3 0h2m2 0h3m2 0h4m2 0h5m2 0h2m2 0h3m9 0h5m2 0h5m2 0h5m13 0h2m9 0h2m3 0h2m12 0h2M1395 184.5h2m4 0h2m16 0h2m1 0h2m1 0h2m3 0h2m24 0h2m9 0h4m4 0h5m2 0h2m2 0h2m1 0h3m2 0h2m1 0h3m2 0h2m1 0h3m2 0h8m2 0h3m5 0h2m6 0h4m11 0h4m3 0h2m2 0h4m3 0h2m2 0h2m4 0h2m4 0h3m2 0h3m1 0h8m4 0h2m4 0h2m3 0h2m6 0h2m1 0h2m3 0h2m3 0h2M1393 185.5h4m4 0h3m12 0h2m2 0h7m4 0h2m1 0h2m6 0h3m6 0h2m1 0h2m11 0h4m4 0h5m2 0h3m1 0h2m1 0h2m3 0h2m1 0h7m4 0h6m7 0h6m4 0h2m4 0h2m3 0h2m9 0h2m3 0h2m3 0h12m4 0h2m5 0h3m1 0h3m2 0h4m1 0h2m4 0h2m4 0h2m9 0h4m11 0h3m5 0h2m25 0h2m10 0h2M1393 186.5h2m7 0h2m12 0h2m2 0h2m2 0h3m4 0h2m1 0h2m1 0h2m1 0h5m6 0h2m1 0h2m12 0h2m13 0h2m12 0h7m3 0h4m11 0h5m4 0h5m6 0h3m3 0h2m7 0h3m3 0h12m2 0h4m5 0h3m2 0h2m1 0h3m3 0h2m4 0h2m1 0h2m2 0h2m5 0h6m9 0h2m1 0h3m5 0h2m5 0h2m18 0h2m10 0h2M1384 187.5h2m25 0h2m5 0h2m5 0h2m6 0h2m2 0h5m2 0h2m1 0h2m2 0h2m8 0h2m1 0h2m2 0h2m3 0h4m2 0h3m4 0h4m7 0h6m4 0h10m4 0h4m3 0h3m1 0h6m4 0h10m5 0h3m2 0h4m4 0h3m4 0h6m1 0h2m4 0h6m4 0h4m5 0h2m1 0h4m1 0h2m1 0h4m8 0h2m1 0h2m1 0h2m11 0h4M1384 188.5h2m22 0h2m1 0h2m5 0h2m4 0h2m1 0h2m4 0h2m3 0h2m4 0h2m1 0h2m2 0h4m6 0h2m1 0h2m5 0h6m2 0h3m4 0h4m7 0h3m1 0h2m6 0h8m4 0h4m3 0h3m4 0h3m6 0h8m10 0h5m1 0h2m1 0h2m3 0h3m1 0h3m1 0h2m4 0h4m4 0h2m2 0h2m8 0h4m1 0h2m13 0h5m1 0h2m2 0h2m7 0h3m19 0h2m10 0h2M1394 189.5h2m2 0h2m8 0h2m5 0h2m1 0h2m1 0h2m1 0h5m2 0h2m4 0h4m9 0h2m1 0h2m7 0h2m7 0h3m1 0h2m10 0h2m11 0h2m1 0h4m4 0h4m5 0h2m1 0h2m13 0h2m7 0h3m5 0h2m5 0h2m1 0h5m6 0h2m2 0h2m8 0h2m6 0h4m5 0h4m2 0h4m3 0h2m11 0h4m1 0h2m2 0h2m3 0h2m24 0h2m10 0h2M1394 190.5h2m2 0h2m8 0h2m5 0h2m1 0h2m1 0h2m2 0h2m4 0h4m2 0h4m6 0h5m10 0h3m2 0h2m2 0h2m2 0h2m8 0h2m1 0h2m6 0h2m2 0h7m5 0h3m5 0h2m1 0h2m1 0h2m1 0h2m7 0h2m7 0h2m5 0h3m2 0h2m1 0h6m2 0h4m6 0h4m3 0h2m1 0h2m8 0h2m1 0h2m2 0h4m2 0h4m3 0h2m5 0h2m6 0h2m6 0h2m2 0h4M1401 191.5h2m5 0h2m3 0h2m3 0h2m2 0h2m9 0h4m6 0h2m2 0h4m1 0h3m4 0h7m1 0h2m2 0h2m6 0h2m2 0h7m4 0h4m4 0h3m1 0h2m4 0h3m2 0h2m3 0h2m2 0h2m1 0h3m3 0h2m3 0h4m3 0h3m1 0h2m1 0h2m3 0h2m2 0h4m1 0h7m5 0h4m2 0h3m1 0h2m11 0h5m1 0h2m14 0h4m7 0h2m5 0h2m3 0h3M1401 192.5h2m10 0h3m3 0h5m10 0h3m6 0h2m2 0h10m2 0h10m2 0h2m6 0h6m2 0h4m3 0h3m9 0h4m2 0h3m2 0h4m1 0h7m1 0h2m3 0h2m2 0h5m3 0h3m1 0h2m1 0h2m5 0h4m3 0h2m3 0h2m5 0h2m3 0h3m8 0h2m6 0h4m1 0h2m3 0h3m8 0h2m8 0h3m5 0h3m3 0h2M1366 193.5h2m46 0h2m3 0h3m2 0h2m10 0h2m9 0h10m8 0h4m5 0h2m3 0h4m6 0h5m8 0h2m4 0h4m1 0h3m2 0h5m1 0h2m1 0h2m5 0h2m2 0h3m4 0h2m5 0h4m1 0h2m2 0h5m2 0h2m2 0h2m6 0h3m2 0h2m9 0h2m16 0h3m1 0h2m2 0h2m4 0h2m5 0h2m4 0h2m1 0h2m3 0h2m27 0h2M1366 194.5h2m19 0h2m8 0h2m13 0h2m1 0h2m2 0h2m2 0h3m5 0h2m3 0h3m6 0h5m1 0h5m2 0h2m4 0h3m7 0h4m1 0h2m4 0h2m1 0h11m3 0h3m2 0h6m1 0h2m3 0h4m2 0h2m7 0h2m2 0h2m4 0h3m3 0h9m1 0h3m1 0h3m5 0h2m2 0h2m2 0h3m6 0h2m12 0h2m8 0h2m1 0h4m1 0h5m2 0h2m1 0h2m8 0h2m35 0h2M1387 195.5h2m8 0h2m13 0h2m1 0h2m6 0h2m6 0h2m1 0h5m6 0h4m1 0h16m5 0h2m3 0h2m7 0h8m1 0h8m1 0h10m1 0h2m4 0h2m3 0h2m6 0h2m2 0h2m5 0h3m3 0h14m1 0h2m4 0h4m1 0h2m11 0h2m1 0h2m9 0h2m8 0h2m1 0h2m3 0h7m3 0h3m14 0h2m3 0h2m27 0h2M1420 196.5h2m8 0h2m2 0h4m2 0h2m1 0h6m1 0h14m6 0h3m2 0h2m10 0h2m1 0h12m1 0h4m3 0h2m4 0h6m2 0h2m7 0h6m3 0h4m1 0h2m2 0h2m4 0h7m1 0h2m2 0h6m5 0h4m2 0h3m2 0h3m2 0h2m7 0h2m9 0h2m3 0h4m1 0h2m4 0h2m13 0h4m2 0h2m2 0h2m2 0h2m19 0h2M1420 197.5h2m8 0h2m1 0h2m4 0h3m1 0h6m3 0h4m1 0h2m10 0h4m2 0h4m2 0h2m1 0h2m1 0h2m1 0h4m1 0h4m4 0h3m2 0h2m6 0h4m4 0h2m7 0h5m4 0h4m1 0h4m2 0h4m1 0h4m3 0h2m2 0h2m7 0h6m2 0h3m2 0h4m1 0h2m7 0h2m10 0h2m5 0h2m1 0h2m12 0h2m4 0h4m6 0h2m2 0h2M1392 198.5h2m13 0h2m1 0h2m14 0h2m5 0h2m4 0h2m11 0h2m1 0h2m5 0h3m4 0h2m3 0h2m1 0h2m2 0h2m1 0h6m1 0h2m3 0h2m4 0h2m4 0h3m8 0h2m12 0h2m9 0h4m1 0h2m2 0h4m1 0h9m1 0h2m3 0h2m3 0h2m2 0h2m6 0h5m10 0h2m10 0h2m5 0h2m1 0h2m3 0h2m4 0h2m1 0h2M1392 199.5h2m13 0h2m1 0h2m14 0h2m15 0h2m6 0h3m1 0h2m5 0h5m7 0h2m3 0h2m3 0h6m1 0h2m4 0h3m2 0h4m2 0h3m4 0h2m2 0h2m1 0h4m2 0h2m3 0h2m6 0h2m1 0h5m4 0h4m1 0h12m3 0h6m2 0h2m7 0h4m5 0h2m4 0h3m11 0h2m11 0h4m1 0h5m32 0h3M1432 200.5h2m1 0h2m2 0h6m6 0h2m1 0h2m3 0h2m4 0h2m6 0h2m4 0h2m4 0h2m2 0h4m4 0h3m2 0h6m4 0h2m1 0h3m4 0h5m1 0h2m1 0h4m4 0h4m3 0h3m4 0h4m3 0h12m1 0h6m2 0h2m15 0h3m5 0h2m3 0h2m3 0h2m1 0h2m8 0h2m3 0h2m1 0h5m4 0h2m6 0h2m18 0h3m20 0h2M1428 201.5h2m2 0h2m1 0h2m2 0h4m2 0h2m7 0h3m1 0h3m12 0h2m3 0h3m8 0h4m8 0h3m2 0h5m1 0h2m1 0h3m3 0h2m1 0h5m2 0h2m1 0h2m3 0h2m6 0h2m6 0h2m3 0h8m2 0h5m1 0h2m1 0h2m2 0h6m3 0h2m1 0h2m1 0h3m10 0h2m3 0h2m6 0h2m3 0h3m8 0h2m4 0h4m4 0h2m41 0h2M1428 202.5h3m6 0h4m4 0h2m8 0h2m1 0h3m16 0h3m1 0h2m3 0h7m5 0h7m2 0h4m4 0h2m1 0h2m1 0h2m1 0h2m1 0h2m2 0h5m3 0h2m6 0h2m9 0h2m5 0h12m2 0h2m2 0h6m2 0h3m1 0h2m10 0h2m3 0h2m2 0h4m4 0h2m1 0h2m1 0h3m4 0h2m7 0h4m15 0h2M1416 203.5h2m11 0h2m4 0h6m2 0h2m2 0h2m10 0h2m4 0h2m2 0h2m6 0h8m1 0h4m1 0h3m4 0h3m2 0h2m5 0h2m6 0h8m5 0h6m2 0h2m4 0h4m2 0h4m2 0h3m4 0h13m2 0h2m2 0h2m2 0h2m2 0h3m2 0h2m2 0h2m3 0h4m3 0h2m1 0h5m7 0h2m2 0h3m3 0h2m26 0h2m4 0h2M1379 204.5h2m23 0h2m10 0h2m3 0h3m9 0h4m6 0h2m2 0h4m8 0h4m2 0h2m2 0h4m1 0h11m1 0h3m2 0h5m3 0h2m5 0h2m2 0h2m7 0h2m1 0h7m2 0h8m2 0h2m2 0h4m2 0h4m2 0h6m1 0h4m2 0h6m3 0h2m2 0h2m2 0h2m3 0h6m2 0h2m3 0h4m3 0h2m1 0h2m1 0h2m4 0h2m1 0h2m2 0h3m3 0h2m11 0h2m5 0h2m12 0h2M1379 205.5h2m23 0h2m15 0h3m1 0h2m2 0h2m2 0h4m6 0h2m3 0h3m10 0h2m6 0h12m5 0h3m2 0h5m3 0h4m2 0h3m2 0h4m2 0h3m2 0h10m1 0h3m2 0h2m2 0h2m1 0h4m5 0h2m4 0h8m1 0h2m2 0h4m9 0h2m2 0h2m3 0h4m1 0h2m6 0h6m2 0h11m3 0h5m3 0h2m9 0h4m5 0h2M1404 206.5h2m12 0h2m2 0h5m2 0h3m3 0h2m1 0h4m1 0h2m9 0h4m9 0h2m2 0h10m2 0h2m1 0h2m4 0h4m3 0h8m1 0h6m1 0h8m1 0h2m1 0h9m1 0h4m3 0h6m3 0h2m1 0h2m3 0h5m2 0h8m2 0h3m4 0h2m2 0h2m8 0h2m8 0h4m2 0h10m4 0h5m11 0h5M1373 207.5h2m29 0h2m12 0h8m4 0h2m3 0h2m1 0h4m5 0h4m3 0h4m3 0h2m4 0h10m2 0h3m1 0h2m1 0h3m3 0h5m1 0h3m2 0h2m3 0h2m1 0h2m2 0h7m5 0h5m2 0h2m2 0h3m2 0h2m3 0h2m3 0h2m1 0h2m2 0h3m1 0h9m1 0h3m1 0h3m9 0h2m4 0h2m1 0h2m2 0h2m2 0h2m6 0h2m3 0h2m10 0h2m4 0h2m5 0h3M1373 208.5h2m31 0h2m3 0h2m4 0h2m1 0h2m10 0h2m2 0h4m7 0h6m1 0h3m4 0h3m3 0h8m4 0h3m1 0h2m1 0h5m3 0h7m2 0h5m3 0h7m4 0h2m4 0h5m1 0h4m1 0h6m10 0h2m3 0h5m1 0h4m1 0h2m2 0h2m2 0h3m1 0h3m4 0h2m2 0h4m5 0h2m2 0h2m6 0h2m1 0h2m1 0h2m15 0h2m1 0h2m3 0h2m6 0h2m27 0h2M1406 209.5h2m3 0h2m1 0h2m1 0h5m8 0h4m2 0h3m9 0h5m1 0h3m2 0h2m1 0h2m1 0h2m6 0h9m1 0h2m4 0h3m2 0h2m1 0h2m1 0h4m1 0h3m4 0h6m4 0h2m2 0h7m2 0h3m3 0h2m2 0h2m8 0h2m1 0h2m2 0h3m1 0h2m3 0h6m3 0h2m1 0h3m4 0h2m2 0h6m13 0h3m2 0h2m1 0h2m3 0h3m12 0h2m3 0h2m6 0h2m27 0h2M1414 210.5h2m2 0h2m7 0h2m1 0h3m14 0h5m2 0h2m3 0h2m1 0h5m5 0h2m1 0h5m1 0h2m7 0h4m3 0h2m1 0h8m1 0h2m1 0h6m8 0h2m7 0h4m3 0h2m1 0h4m8 0h3m6 0h2m1 0h7m4 0h5m5 0h2m1 0h2m2 0h5m11 0h3m7 0h2m1 0h3m3 0h2m5 0h2m1 0h2M1418 211.5h2m7 0h2m2 0h4m2 0h2m8 0h2m1 0h3m5 0h2m1 0h5m1 0h2m2 0h3m3 0h2m2 0h2m4 0h2m1 0h4m3 0h3m3 0h4m1 0h4m2 0h2m4 0h2m1 0h2m1 0h4m5 0h4m3 0h3m1 0h3m3 0h2m3 0h2m6 0h2m2 0h3m2 0h2m1 0h2m3 0h2m4 0h2m3 0h2m2 0h2m1 0h2m11 0h6m4 0h3m1 0h2m3 0h2m3 0h7m7 0h2M1394 212.5h2m3 0h2m17 0h2m13 0h2m2 0h2m9 0h2m1 0h2m4 0h6m1 0h2m1 0h2m1 0h3m3 0h2m4 0h2m2 0h3m3 0h3m3 0h3m3 0h2m2 0h5m1 0h2m3 0h3m1 0h2m1 0h4m2 0h6m1 0h2m1 0h3m1 0h2m3 0h3m11 0h4m1 0h4m3 0h2m1 0h4m4 0h2m3 0h6m17 0h3m5 0h2m1 0h2m8 0h5m9 0h2M1394 213.5h2m3 0h2m7 0h2m6 0h2m8 0h2m3 0h2m13 0h4m3 0h9m8 0h2m3 0h3m4 0h2m2 0h5m2 0h4m2 0h4m1 0h2m2 0h2m1 0h2m1 0h2m3 0h2m5 0h3m3 0h6m1 0h2m1 0h2m2 0h2m3 0h3m1 0h2m4 0h2m2 0h4m2 0h3m5 0h3m6 0h4m3 0h3m11 0h2m4 0h2m13 0h2m7 0h2m13 0h2M1399 214.5h2m7 0h2m6 0h2m8 0h2m2 0h3m11 0h4m5 0h4m2 0h3m1 0h2m4 0h2m4 0h4m2 0h3m3 0h6m1 0h3m1 0h2m1 0h2m1 0h4m7 0h2m10 0h2m3 0h2m2 0h4m6 0h2m5 0h4m1 0h2m1 0h2m2 0h2m2 0h5m2 0h7m4 0h10m1 0h2m3 0h3m3 0h2m4 0h2m5 0h2m6 0h2m6 0h2m14 0h2m3 0h2M1400 215.5h2m14 0h2m12 0h4m2 0h2m1 0h3m2 0h5m9 0h7m3 0h7m1 0h3m2 0h3m7 0h2m1 0h2m2 0h2m1 0h3m2 0h2m2 0h2m1 0h5m1 0h2m6 0h3m1 0h2m1 0h6m1 0h6m3 0h10m8 0h12m1 0h2m4 0h10m1 0h8m1 0h2m8 0h2m3 0h2m5 0h2m7 0h2m5 0h2m12 0h2m20 0h2M1400 216.5h2m6 0h2m6 0h2m6 0h2m6 0h2m2 0h2m1 0h3m4 0h3m5 0h2m2 0h2m1 0h2m3 0h4m1 0h5m1 0h2m8 0h2m5 0h2m6 0h3m5 0h2m1 0h2m1 0h2m1 0h4m4 0h3m1 0h2m1 0h2m1 0h10m3 0h3m2 0h6m7 0h12m4 0h3m2 0h2m2 0h2m2 0h6m1 0h2m1 0h2m8 0h4m8 0h3m2 0h2m2 0h2m5 0h2m2 0h2m9 0h2m19 0h2M1408 217.5h2m13 0h3m1 0h2m12 0h2m5 0h2m4 0h2m10 0h4m4 0h2m1 0h2m2 0h2m2 0h6m1 0h4m3 0h8m2 0h3m5 0h2m2 0h2m14 0h4m15 0h2m1 0h2m4 0h2m2 0h10m5 0h3m2 0h3m1 0h2m2 0h3m4 0h3m4 0h2m6 0h2m9 0h2m2 0h6m8 0h3m5 0h2m2 0h2M1408 218.5h4m1 0h2m8 0h2m1 0h3m9 0h2m1 0h4m3 0h3m11 0h2m1 0h4m4 0h2m2 0h2m2 0h3m1 0h2m2 0h8m2 0h5m1 0h2m2 0h3m1 0h2m2 0h2m3 0h4m17 0h4m9 0h2m7 0h4m2 0h3m3 0h2m5 0h2m1 0h2m1 0h2m1 0h2m9 0h3m2 0h4m17 0h2m4 0h2m1 0h2m7 0h2m6 0h4M1408 219.5h4m1 0h2m10 0h3m10 0h2m3 0h2m4 0h2m4 0h4m3 0h2m1 0h4m3 0h3m1 0h3m3 0h2m6 0h7m3 0h2m3 0h2m1 0h3m2 0h8m1 0h4m7 0h3m7 0h4m8 0h3m1 0h3m3 0h4m3 0h2m11 0h4m20 0h2m1 0h2m15 0h4m6 0h2m7 0h2m8 0h2m2 0h2M1382 220.5h2m8 0h2m21 0h3m5 0h4m13 0h4m3 0h2m6 0h5m2 0h2m8 0h2m2 0h4m6 0h2m2 0h4m2 0h2m2 0h2m3 0h5m3 0h8m12 0h3m2 0h2m3 0h2m10 0h2m2 0h5m3 0h5m5 0h2m5 0h3m1 0h3m5 0h2m5 0h2m7 0h2m1 0h2m2 0h2m8 0h4m8 0h2m5 0h2m12 0h2M1382 221.5h2m8 0h2m21 0h3m5 0h3m14 0h5m2 0h4m5 0h4m2 0h3m2 0h2m8 0h3m3 0h5m1 0h2m4 0h3m3 0h2m4 0h2m2 0h2m1 0h4m4 0h2m4 0h2m8 0h2m1 0h2m3 0h2m1 0h2m2 0h2m1 0h2m4 0h2m2 0h2m1 0h3m4 0h5m1 0h4m2 0h5m3 0h2m5 0h2m3 0h4m1 0h4m2 0h2m7 0h2m11 0h2m11 0h2m21 0h2M1424 222.5h3m12 0h3m1 0h3m1 0h4m5 0h2m5 0h2m1 0h3m4 0h6m1 0h2m1 0h4m1 0h3m3 0h3m2 0h4m2 0h2m3 0h8m3 0h3m4 0h2m8 0h5m2 0h7m1 0h5m8 0h3m4 0h2m1 0h8m7 0h2m10 0h2m1 0h6m1 0h2m7 0h2m3 0h3m4 0h2m18 0h2m21 0h2M1371 223.5h2m31 0h2m7 0h2m10 0h2m2 0h2m5 0h10m1 0h2m1 0h2m4 0h2m4 0h2m2 0h2m2 0h2m1 0h6m1 0h2m5 0h3m4 0h3m2 0h4m1 0h3m3 0h5m1 0h2m2 0h3m6 0h2m3 0h2m3 0h2m1 0h2m1 0h7m2 0h3m10 0h2m4 0h2m2 0h6m4 0h4m4 0h2m2 0h2m2 0h2m1 0h2m9 0h2m3 0h2m3 0h3m4 0h2M1348 224.5h2m21 0h2m26 0h2m3 0h2m7 0h3m13 0h2m1 0h2m2 0h3m2 0h3m6 0h2m4 0h2m4 0h2m5 0h7m1 0h2m3 0h2m1 0h4m4 0h6m3 0h11m1 0h4m1 0h3m3 0h11m6 0h2m1 0h3m2 0h2m2 0h3m6 0h2m4 0h3m6 0h6m3 0h4m4 0h2m2 0h2m2 0h2m1 0h2m4 0h2m3 0h4m9 0h2m21 0h2M1348 225.5h2m49 0h2m13 0h2m7 0h2m7 0h2m22 0h2m2 0h2m3 0h2m2 0h7m6 0h2m1 0h2m6 0h2m2 0h2m2 0h12m1 0h7m2 0h6m1 0h6m2 0h2m1 0h2m2 0h2m5 0h2m1 0h2m5 0h3m2 0h5m6 0h2m1 0h3m4 0h2m1 0h2m12 0h2m1 0h2m2 0h4m2 0h3m9 0h2m21 0h2M1404 226.5h2m5 0h2m10 0h2m5 0h2m5 0h2m7 0h3m4 0h2m3 0h6m1 0h3m3 0h2m3 0h5m1 0h4m1 0h2m1 0h2m3 0h2m1 0h5m1 0h2m2 0h2m1 0h2m3 0h4m3 0h3m4 0h4m4 0h7m1 0h2m1 0h2m1 0h4m4 0h5m1 0h6m6 0h2m2 0h2m3 0h2m2 0h2m7 0h4m1 0h2m1 0h10m4 0h2m4 0h3m23 0h2m8 0h2M1399 227.5h4m1 0h2m5 0h2m7 0h2m1 0h2m5 0h2m4 0h3m7 0h3m4 0h2m3 0h2m1 0h4m1 0h7m3 0h5m2 0h9m2 0h3m1 0h5m3 0h4m1 0h2m7 0h2m2 0h2m1 0h3m2 0h2m1 0h2m1 0h7m1 0h5m3 0h3m1 0h5m3 0h6m2 0h2m1 0h3m2 0h2m3 0h2m4 0h2m1 0h2m2 0h4m2 0h2m2 0h5m1 0h4m2 0h2m4 0h3m23 0h2m7 0h3M1399 228.5h4m4 0h2m11 0h2m1 0h2m11 0h6m4 0h2m7 0h2m1 0h2m1 0h5m2 0h5m3 0h3m5 0h7m1 0h4m5 0h2m3 0h4m1 0h2m1 0h2m1 0h5m2 0h6m2 0h2m1 0h2m1 0h5m1 0h2m2 0h2m2 0h2m1 0h2m1 0h5m1 0h2m2 0h2m4 0h2m1 0h4m2 0h2m5 0h5m1 0h4m1 0h2m1 0h4m6 0h11m11 0h2m3 0h2m20 0h2M1362 229.5h2m43 0h2m9 0h3m5 0h3m1 0h2m5 0h5m2 0h2m4 0h2m3 0h2m1 0h5m1 0h2m10 0h2m6 0h5m2 0h3m3 0h2m2 0h2m3 0h2m3 0h2m1 0h2m1 0h5m1 0h6m1 0h10m1 0h2m1 0h3m2 0h2m1 0h2m5 0h2m3 0h3m2 0h2m6 0h4m2 0h4m3 0h7m1 0h5m1 0h3m7 0h4m1 0h6m8 0h2m1 0h2m3 0h2m1 0h2M1362 230.5h2m17 0h2m26 0h4m2 0h2m1 0h3m2 0h2m1 0h3m1 0h2m2 0h2m2 0h2m4 0h3m3 0h2m7 0h2m1 0h2m3 0h2m1 0h2m3 0h3m7 0h8m4 0h2m8 0h2m1 0h3m2 0h7m1 0h3m1 0h2m1 0h2m2 0h8m3 0h9m1 0h2m7 0h3m2 0h3m6 0h2m5 0h2m3 0h2m2 0h4m1 0h2m4 0h2m1 0h2m19 0h2m2 0h2m9 0h2m13 0h2m7 0h2M1381 231.5h2m26 0h4m2 0h2m6 0h2m9 0h2m2 0h2m5 0h2m8 0h6m1 0h2m3 0h2m1 0h2m3 0h2m4 0h2m1 0h3m2 0h3m3 0h3m1 0h2m3 0h5m1 0h3m2 0h7m5 0h3m1 0h2m6 0h4m3 0h8m1 0h2m12 0h11m7 0h2m1 0h2m4 0h9m3 0h2m1 0h5m13 0h2m7 0h2m3 0h2m14 0h4m5 0h2M1427 232.5h3m22 0h2m1 0h6m2 0h5m2 0h2m6 0h2m1 0h2m1 0h2m1 0h2m1 0h2m3 0h3m1 0h2m3 0h3m3 0h2m3 0h8m3 0h4m1 0h2m2 0h3m3 0h2m1 0h9m9 0h4m3 0h2m1 0h8m1 0h2m2 0h5m8 0h8m1 0h3m1 0h5m22 0h2m3 0h2m16 0h2M1390 233.5h2m35 0h3m3 0h2m9 0h2m6 0h2m6 0h2m1 0h5m2 0h2m6 0h2m3 0h2m1 0h3m1 0h2m3 0h7m2 0h2m4 0h2m1 0h10m3 0h3m6 0h3m3 0h2m1 0h9m2 0h2m5 0h4m9 0h4m1 0h3m2 0h2m1 0h2m11 0h2m1 0h2m1 0h5m1 0h4m3 0h2m2 0h3m5 0h2m16 0h2m21 0h2M1390 234.5h2m1 0h2m38 0h2m9 0h3m5 0h4m4 0h2m11 0h2m3 0h3m2 0h9m5 0h13m3 0h2m5 0h4m1 0h4m3 0h2m4 0h2m5 0h3m2 0h3m1 0h3m10 0h2m6 0h4m1 0h2m3 0h5m6 0h2m2 0h3m5 0h4m1 0h4m3 0h2m2 0h3m5 0h2m16 0h2m15 0h2m4 0h2m1 0h2M1393 235.5h2m31 0h2m5 0h2m4 0h2m4 0h2m1 0h2m2 0h4m11 0h5m1 0h2m1 0h7m1 0h2m2 0h4m1 0h19m1 0h2m6 0h3m1 0h2m1 0h2m2 0h2m4 0h4m5 0h2m5 0h2m8 0h6m7 0h2m1 0h9m7 0h2m2 0h2m6 0h2m4 0h3m7 0h2m5 0h2m17 0h2m15 0h2m7 0h2M1426 236.5h2m5 0h2m4 0h2m6 0h3m2 0h2m4 0h2m1 0h3m3 0h7m2 0h2m3 0h2m7 0h17m3 0h5m11 0h4m10 0h2m3 0h5m6 0h2m6 0h7m6 0h4m1 0h3m3 0h2m7 0h2m8 0h2m1 0h2m3 0h2m7 0h2m2 0h5m23 0h2M1373 237.5h2m51 0h2m7 0h2m10 0h2m9 0h6m1 0h2m3 0h4m7 0h2m2 0h2m3 0h9m4 0h2m1 0h2m2 0h4m9 0h2m1 0h5m8 0h2m4 0h6m1 0h3m1 0h4m1 0h2m2 0h2m2 0h3m1 0h2m3 0h3m4 0h2m1 0h2m7 0h2m8 0h5m5 0h2m9 0h4m24 0h2m15 0h2m1 0h2M1373 238.5h2m8 0h2m7 0h2m26 0h2m4 0h2m5 0h4m4 0h2m1 0h2m1 0h2m11 0h2m3 0h2m14 0h7m5 0h2m2 0h2m4 0h2m1 0h2m2 0h2m2 0h2m2 0h2m3 0h2m2 0h4m8 0h2m4 0h15m1 0h2m2 0h2m3 0h2m1 0h2m5 0h9m2 0h2m2 0h3m3 0h2m4 0h4m6 0h2m1 0h4m17 0h3m29 0h2m1 0h2M1383 239.5h2m5 0h4m13 0h2m11 0h2m11 0h2m2 0h2m2 0h2m1 0h2m3 0h5m1 0h2m13 0h2m10 0h3m1 0h4m7 0h2m4 0h2m9 0h6m1 0h2m4 0h2m15 0h5m2 0h7m11 0h2m2 0h3m1 0h2m1 0h5m2 0h2m2 0h2m2 0h3m3 0h5m1 0h3m1 0h2m1 0h3m3 0h4m2 0h2m13 0h3m8 0h2M1390 240.5h2m5 0h2m8 0h2m8 0h2m18 0h2m3 0h5m2 0h5m1 0h7m6 0h8m2 0h2m3 0h4m1 0h2m5 0h2m1 0h2m9 0h2m3 0h4m3 0h3m7 0h4m9 0h2m5 0h7m3 0h2m5 0h3m2 0h3m1 0h2m23 0h4m2 0h2m1 0h2m1 0h3m9 0h2m8 0h2m4 0h2m8 0h2m2 0h2M1380 241.5h2m15 0h2m18 0h2m23 0h6m1 0h4m3 0h6m6 0h2m2 0h5m1 0h4m3 0h2m8 0h2m1 0h2m4 0h2m3 0h2m4 0h3m1 0h5m3 0h2m2 0h7m1 0h3m9 0h4m1 0h2m3 0h4m3 0h3m3 0h2m10 0h2m14 0h2m7 0h2m16 0h2m5 0h2m4 0h2m12 0h2M1380 242.5h2m7 0h2m26 0h2m27 0h7m2 0h2m7 0h2m2 0h4m2 0h3m3 0h2m1 0h4m3 0h2m8 0h2m1 0h3m3 0h3m2 0h2m3 0h5m3 0h3m3 0h5m1 0h3m5 0h2m4 0h2m7 0h3m4 0h2m3 0h7m2 0h2m1 0h3m6 0h2m6 0h3m5 0h2m16 0h2m8 0h4m8 0h2M1376 243.5h2m11 0h2m1 0h2m33 0h2m18 0h3m2 0h2m1 0h2m7 0h3m3 0h2m2 0h2m5 0h6m3 0h3m3 0h3m1 0h6m3 0h3m2 0h2m11 0h3m5 0h3m9 0h2m4 0h3m2 0h3m1 0h2m2 0h2m8 0h5m2 0h2m1 0h3m3 0h5m6 0h3m5 0h4m4 0h2m1 0h2m15 0h8m2 0h4M1376 244.5h2m14 0h2m25 0h2m6 0h2m7 0h2m1 0h3m6 0h2m2 0h2m1 0h2m8 0h2m3 0h3m5 0h2m1 0h2m2 0h2m1 0h11m2 0h2m1 0h3m1 0h2m2 0h4m3 0h6m2 0h2m2 0h4m1 0h4m2 0h2m3 0h2m4 0h4m1 0h3m3 0h4m8 0h2m6 0h4m2 0h6m3 0h2m12 0h2m4 0h5m1 0h2m16 0h4m2 0h2M1397 245.5h2m20 0h2m15 0h2m1 0h3m9 0h2m2 0h2m12 0h4m5 0h2m6 0h10m5 0h9m2 0h4m1 0h8m6 0h4m3 0h2m2 0h3m1 0h4m5 0h2m2 0h2m2 0h5m10 0h2m1 0h5m3 0h7m1 0h4m5 0h4m9 0h3m1 0h4m6 0h4M1397 246.5h2m20 0h2m9 0h2m2 0h2m4 0h2m8 0h3m2 0h4m9 0h3m1 0h2m2 0h2m4 0h2m2 0h2m1 0h3m9 0h7m6 0h5m1 0h5m4 0h7m2 0h2m3 0h2m1 0h6m3 0h3m5 0h2m1 0h2m7 0h5m1 0h6m2 0h5m2 0h3m5 0h6m7 0h5m1 0h2m8 0h4m9 0h4M1391 247.5h2m26 0h2m9 0h2m2 0h2m4 0h2m2 0h2m4 0h3m4 0h2m2 0h2m3 0h5m1 0h2m2 0h3m3 0h2m2 0h2m1 0h3m6 0h2m2 0h4m3 0h3m4 0h2m3 0h3m5 0h4m1 0h2m1 0h2m4 0h2m1 0h2m2 0h3m1 0h4m4 0h4m3 0h2m3 0h4m4 0h5m1 0h7m1 0h3m3 0h5m10 0h5m9 0h2m13 0h4M1391 248.5h2m28 0h4m5 0h2m10 0h4m11 0h2m2 0h2m3 0h2m9 0h2m7 0h2m1 0h4m1 0h2m2 0h2m9 0h3m1 0h2m1 0h2m4 0h2m2 0h2m2 0h5m2 0h2m12 0h2m1 0h3m5 0h4m2 0h4m2 0h3m3 0h4m1 0h2m1 0h4m1 0h2m2 0h4m1 0h2m2 0h2m7 0h2m1 0h2m6 0h2m1 0h4m1 0h2m25 0h2M1421 249.5h4m5 0h4m2 0h2m4 0h4m16 0h2m13 0h2m1 0h2m4 0h2m3 0h2m1 0h2m4 0h2m2 0h2m3 0h2m2 0h2m1 0h2m1 0h2m1 0h6m5 0h2m1 0h3m2 0h3m4 0h4m2 0h2m4 0h2m6 0h4m2 0h3m1 0h4m2 0h2m4 0h2m4 0h2m1 0h2m5 0h2m1 0h2m4 0h2m9 0h2m1 0h2m3 0h2m1 0h2m22 0h2M1407 250.5h2m23 0h2m2 0h2m6 0h2m3 0h5m7 0h3m16 0h4m2 0h2m1 0h6m5 0h6m4 0h6m3 0h2m1 0h4m2 0h2m6 0h3m2 0h11m4 0h2m2 0h3m2 0h2m3 0h2m3 0h2m1 0h2m4 0h2m7 0h2m1 0h2m3 0h4m3 0h3m3 0h4m19 0h2M1385 251.5h2m20 0h2m14 0h2m14 0h2m2 0h2m4 0h7m1 0h2m2 0h2m3 0h2m13 0h5m3 0h2m2 0h2m3 0h2m2 0h2m3 0h2m1 0h6m5 0h6m1 0h2m5 0h2m6 0h6m1 0h2m4 0h2m3 0h2m2 0h2m3 0h2m1 0h2m6 0h2m7 0h2m1 0h2m6 0h4m3 0h3m1 0h8m1 0h2m2 0h2m7 0h2m5 0h4M1385 252.5h2m36 0h2m9 0h2m3 0h2m2 0h2m4 0h2m1 0h4m1 0h2m7 0h2m6 0h2m2 0h4m1 0h4m2 0h2m5 0h4m2 0h2m3 0h2m12 0h2m1 0h4m2 0h2m3 0h2m10 0h2m7 0h2m12 0h5m3 0h2m1 0h2m5 0h5m4 0h2m6 0h2m2 0h2m1 0h2m1 0h5m1 0h2m2 0h2m5 0h8m1 0h4m8 0h2m27 0h2M1419 253.5h2m13 0h2m13 0h2m1 0h2m13 0h2m5 0h3m1 0h4m1 0h4m9 0h4m2 0h2m3 0h2m5 0h2m8 0h4m2 0h2m10 0h2m3 0h4m3 0h2m9 0h2m1 0h6m4 0h2m3 0h2m3 0h2m1 0h2m4 0h2m1 0h2m3 0h2m9 0h2m14 0h2m2 0h4m13 0h2m27 0h2M1419 254.5h2m4 0h2m7 0h2m1 0h2m16 0h2m4 0h2m4 0h4m3 0h3m9 0h2m8 0h4m7 0h2m5 0h2m26 0h2m3 0h4m3 0h2m8 0h3m1 0h4m6 0h2m3 0h2m3 0h2m3 0h3m1 0h2m1 0h2m13 0h3m20 0h2M1394 255.5h2m4 0h2m6 0h2m15 0h2m7 0h2m1 0h2m9 0h2m5 0h2m4 0h2m2 0h2m1 0h3m2 0h4m9 0h2m8 0h4m4 0h3m2 0h2m1 0h4m10 0h2m4 0h2m4 0h2m1 0h4m2 0h2m2 0h4m2 0h4m3 0h2m12 0h2m2 0h2m1 0h2m4 0h5m1 0h4m1 0h2m6 0h2m3 0h2m3 0h2M1361 256.5h2m31 0h2m4 0h2m6 0h2m18 0h2m18 0h2m8 0h2m1 0h2m2 0h7m1 0h3m8 0h2m10 0h2m6 0h3m1 0h3m1 0h4m10 0h4m2 0h2m4 0h2m1 0h4m2 0h2m2 0h5m1 0h4m3 0h2m3 0h3m10 0h2m1 0h2m4 0h3m3 0h4m1 0h2m6 0h2m5 0h2m1 0h4m44 0h2M1361 257.5h2m13 0h2m50 0h2m15 0h2m11 0h2m6 0h2m2 0h2m1 0h2m7 0h4m7 0h2m10 0h2m1 0h2m4 0h2m11 0h3m8 0h2m2 0h2m2 0h3m1 0h3m1 0h2m8 0h8m10 0h4m6 0h3m4 0h2m1 0h6m9 0h4m1 0h2m3 0h2m19 0h2m3 0h2m13 0h2m45 0h2M1376 258.5h2m36 0h2m29 0h2m26 0h2m1 0h2m4 0h3m8 0h2m4 0h2m4 0h2m1 0h2m10 0h5m1 0h2m3 0h3m4 0h2m1 0h2m3 0h7m8 0h2m3 0h5m1 0h2m2 0h2m5 0h3m4 0h5m4 0h2m1 0h6m9 0h4m6 0h2m19 0h4m1 0h2m60 0h2M1414 259.5h4m15 0h4m7 0h2m19 0h4m6 0h3m5 0h2m5 0h4m5 0h3m6 0h2m10 0h8m1 0h5m4 0h2m1 0h2m2 0h6m2 0h5m3 0h2m9 0h2m2 0h2m5 0h2m5 0h5m7 0h2m36 0h2m6 0h4M1410 260.5h2m4 0h2m15 0h4m1 0h2m4 0h2m19 0h4m6 0h3m1 0h2m2 0h4m3 0h4m3 0h5m10 0h2m6 0h2m3 0h9m8 0h2m1 0h6m2 0h6m32 0h4m1 0h2m20 0h3m8 0h2m5 0h2m2 0h2m8 0h2M1410 261.5h4m15 0h2m2 0h2m1 0h4m14 0h2m5 0h2m5 0h2m3 0h5m1 0h2m2 0h4m10 0h6m1 0h2m6 0h2m1 0h2m8 0h4m1 0h4m3 0h3m2 0h2m3 0h4m6 0h2m11 0h2m13 0h2m5 0h2m2 0h2m1 0h2m1 0h2m5 0h2m7 0h3m8 0h2m5 0h2m12 0h2M1412 262.5h2m14 0h3m5 0h3m2 0h2m11 0h2m5 0h2m1 0h2m2 0h2m3 0h5m3 0h2m11 0h3m4 0h2m1 0h2m5 0h6m14 0h2m4 0h3m2 0h2m3 0h3m12 0h2m6 0h2m5 0h4m4 0h2m3 0h4m1 0h3m1 0h5m1 0h2m2 0h2m1 0h2m2 0h4m16 0h2m26 0h2m2 0h2M1375 263.5h2m41 0h2m8 0h2m7 0h2m2 0h2m7 0h2m12 0h2m10 0h2m3 0h2m10 0h4m12 0h10m2 0h2m2 0h2m4 0h2m5 0h2m2 0h2m4 0h2m7 0h2m1 0h4m6 0h2m5 0h4m1 0h2m6 0h3m2 0h2m4 0h2m2 0h5m2 0h2m2 0h2m7 0h2m7 0h4m26 0h2m2 0h2M1375 264.5h2m34 0h2m5 0h2m14 0h2m5 0h2m4 0h2m1 0h2m3 0h2m19 0h2m4 0h4m2 0h2m2 0h3m4 0h2m6 0h4m2 0h2m2 0h2m2 0h2m2 0h2m26 0h2m2 0h2m1 0h2m15 0h7m4 0h2m1 0h2m4 0h2m4 0h2m2 0h3m15 0h2m7 0h2m8 0h2M1372 265.5h2m37 0h2m21 0h2m5 0h2m4 0h6m2 0h2m13 0h2m4 0h2m1 0h2m1 0h4m2 0h2m2 0h2m5 0h2m6 0h4m18 0h2m18 0h2m2 0h2m22 0h2m2 0h2m5 0h2m2 0h2m3 0h2m4 0h2m22 0h2m15 0h2M1372 266.5h2m61 0h2m12 0h4m1 0h3m9 0h6m7 0h2m17 0h3m17 0h3m8 0h2m6 0h4m3 0h2m3 0h4m5 0h2m32 0h2m3 0h2m3 0h2m23 0h2m25 0h4M1384 267.5h2m32 0h2m15 0h2m17 0h3m5 0h2m2 0h4m28 0h3m4 0h2m2 0h3m6 0h3m7 0h2m7 0h4m3 0h2m5 0h2m5 0h2m8 0h2m4 0h2m21 0h2m3 0h2m4 0h2m37 0h2m5 0h4M1384 268.5h2m32 0h2m25 0h2m4 0h2m3 0h2m4 0h2m38 0h2m1 0h2m2 0h3m16 0h5m15 0h6m4 0h2m8 0h2m1 0h2m1 0h2m8 0h2m2 0h3m1 0h4m1 0h2m9 0h2m8 0h2m27 0h2M1418 269.5h2m25 0h2m4 0h4m1 0h2m14 0h2m14 0h2m12 0h2m1 0h2m3 0h2m4 0h2m9 0h6m5 0h2m6 0h8m7 0h2m8 0h2m11 0h2m1 0h4m1 0h4m1 0h3m10 0h2m4 0h6m5 0h2m19 0h2M1382 270.5h2m34 0h2m26 0h2m5 0h4m15 0h2m13 0h3m1 0h2m8 0h2m2 0h2m3 0h2m4 0h2m1 0h2m6 0h2m9 0h2m3 0h2m1 0h2m11 0h4m13 0h2m9 0h2m7 0h5m9 0h2m2 0h4m2 0h2m1 0h2m2 0h2m13 0h2m4 0h2m24 0h2M1382 271.5h2m62 0h2m7 0h2m5 0h2m3 0h2m6 0h2m3 0h2m5 0h2m2 0h2m8 0h2m8 0h2m6 0h2m4 0h4m7 0h2m5 0h2m14 0h2m4 0h5m5 0h3m2 0h2m14 0h2m1 0h2m13 0h3m6 0h3m16 0h2m30 0h2M1429 272.5h2m26 0h2m3 0h2m3 0h2m6 0h2m3 0h2m2 0h4m3 0h2m18 0h2m5 0h2m3 0h7m6 0h2m2 0h2m4 0h2m8 0h4m5 0h5m5 0h2m3 0h2m42 0h2m14 0h2M1429 273.5h2m2 0h2m4 0h2m10 0h2m3 0h3m3 0h2m3 0h3m1 0h2m8 0h2m1 0h4m2 0h2m14 0h2m10 0h2m2 0h3m3 0h2m4 0h3m2 0h3m4 0h2m1 0h2m5 0h4m12 0h2m36 0h2m7 0h2m19 0h2M1428 274.5h2m3 0h2m2 0h6m8 0h2m3 0h3m5 0h2m1 0h3m1 0h2m8 0h2m1 0h4m2 0h2m6 0h2m6 0h2m3 0h2m9 0h2m3 0h2m2 0h10m8 0h2m3 0h2m3 0h2m11 0h2m36 0h2m7 0h2m1 0h4m28 0h2M1415 275.5h2m11 0h2m1 0h2m4 0h2m2 0h2m14 0h4m3 0h2m10 0h2m18 0h4m7 0h2m2 0h2m7 0h2m5 0h2m2 0h3m3 0h4m3 0h2m8 0h2m3 0h2m2 0h2m7 0h2m31 0h2m4 0h2m9 0h4m28 0h2M1407 276.5h2m6 0h2m14 0h2m8 0h2m14 0h4m15 0h2m18 0h4m7 0h2m3 0h4m4 0h2m16 0h2m4 0h2m17 0h2m6 0h2m4 0h2m2 0h2m22 0h2m4 0h2m41 0h2M1407 277.5h2m47 0h5m35 0h4m12 0h4m4 0h2m16 0h2m15 0h2m14 0h2m4 0h2m2 0h2m23 0h2m4 0h2M1456 278.5h2m4 0h4m22 0h2m6 0h2m23 0h2m32 0h2m25 0h2m2 0h2m18 0h2m4 0h2m2 0h2m9 0h2m1 0h2M1442 279.5h2m16 0h6m2 0h2m18 0h4m10 0h2m17 0h3m23 0h2m1 0h2m30 0h2m2 0h2m6 0h2m20 0h2m4 0h2m3 0h2m1 0h2M1442 280.5h2m15 0h3m6 0h2m20 0h2m10 0h2m18 0h2m5 0h2m10 0h2m4 0h2m1 0h2m6 0h2m20 0h2m1 0h2m8 0h3m3 0h2m1 0h2m8 0h4m6 0h2m1 0h2M1423 281.5h2m28 0h2m4 0h4m8 0h2m8 0h2m6 0h2m7 0h2m1 0h2m26 0h2m8 0h4m8 0h2m5 0h2m10 0h2m4 0h2m2 0h2m1 0h2m8 0h2m4 0h2m1 0h2m8 0h4m4 0h2m1 0h4m12 0h2M1423 282.5h2m28 0h2m6 0h2m5 0h2m1 0h3m7 0h2m6 0h2m7 0h2m1 0h2m36 0h3m9 0h2m17 0h2m4 0h2m8 0h2m32 0h2m1 0h2m14 0h2m15 0h2M1460 283.5h2m4 0h4m2 0h2m41 0h2m53 0h2m4 0h2m8 0h2m21 0h2m3 0h2m40 0h2M1437 284.5h2m21 0h2m4 0h2m36 0h2m9 0h4m1 0h2m2 0h2m17 0h4m23 0h2m36 0h3m3 0h2m1 0h2M1437 285.5h2m28 0h2m17 0h2m16 0h2m10 0h3m1 0h6m17 0h4m3 0h2m8 0h2m30 0h2m14 0h2m7 0h2m10 0h2M1459 286.5h2m6 0h2m8 0h2m7 0h2m1 0h2m7 0h2m22 0h4m24 0h2m8 0h3m6 0h2m21 0h2m10 0h2m23 0h2M1415 287.5h2m27 0h2m5 0h2m6 0h2m6 0h2m8 0h2m10 0h2m7 0h2m8 0h3m13 0h2m35 0h2m6 0h3m13 0h2m17 0h2m14 0h2M1415 288.5h2m27 0h5m2 0h2m53 0h5m9 0h2m48 0h2m7 0h2m4 0h2m27 0h2m4 0h2m8 0h2M1420 289.5h2m23 0h4m17 0h2m38 0h2m11 0h3m7 0h2m48 0h2m1 0h2m30 0h2m14 0h2m13 0h2M1419 290.5h3m44 0h2m15 0h2m19 0h2m13 0h2m8 0h2m16 0h2m31 0h4m31 0h2m28 0h2M1419 291.5h2m9 0h2m34 0h2m15 0h2m18 0h3m41 0h2m1 0h2m28 0h2m33 0h2m6 0h2M1430 292.5h2m34 0h2m15 0h2m18 0h2m45 0h2m71 0h2m5 0h2M1461 293.5h2m20 0h2m28 0h2m17 0h2m60 0h2m34 0h2m49 0h2M1449 294.5h2m10 0h2m41 0h2m7 0h2m2 0h2m13 0h2m60 0h2m85 0h2M1449 295.5h2m34 0h2m17 0h2m6 0h2m3 0h2m30 0h2M1485 296.5h2m17 0h2m6 0h2m35 0h2m47 0h2M1504 297.5h2m92 0h2M1444 298.5h2m45 0h2m44 0h2m7 0h2m30 0h2M1444 299.5h2m45 0h2m44 0h2m7 0h2m30 0h2m70 0h2M1366 300.5h2m147 0h2m40 0h3m90 0h2M1366 301.5h2m42 0h2m52 0h2m49 0h2m22 0h4m14 0h3M1410 302.5h2m16 0h2m34 0h2m69 0h2m2 0h4m6 0h3m5 0h2M1428 303.5h2m77 0h4m24 0h2m12 0h3m4 0h3M1507 304.5h4m45 0h2M1511 306.5h2m23 0h2m3 0h2m72 0h2M1511 307.5h2m23 0h2m3 0h2m72 0h2M1468 308.5h2m77 0h2M1468 309.5h2m69 0h2m6 0h2m45 0h2M1411 310.5h2m126 0h2m53 0h2M1411 311.5h2m13 0h2m120 0h2M1426 312.5h2m120 0h2M1537 315.5h2M1537 316.5h2M1520 323.5h2M1520 324.5h2m21 0h2M1543 325.5h2M1565 330.5h2M1565 331.5h2M1523 340.5h2M1523 341.5h2"/>
<filter id="fv1" color-interpolation-filters="sRGB" filterUnits="userSpaceOnUse" x="0" y="380" width="640" height="421"><feGaussianBlur stdDeviation="13.5"/><feComponentTransfer><feFuncR type="table" tableValues="0.267 0.269 0.271 0.273 0.275 0.277 0.279 0.280 0.281 0.282 0.282 0.283 0.283 0.283 0.283 0.283 0.282 0.281 0.280 0.279 0.277 0.275 0.273 0.271 0.269 0.267 0.264 0.261 0.257 0.254 0.250 0.247 0.243 0.239 0.236 0.232 0.228 0.224 0.220 0.216 0.212 0.209 0.205 0.201 0.198 0.194 0.191 0.187 0.184 0.181 0.176 0.173 0.170 0.167 0.162 0.159 0.156 0.153 0.149 0.146 0.143 0.139 0.136 0.134 0.130 0.128 0.124 0.123 0.121 0.120 0.119 0.120 0.122 0.125 0.130 0.137 0.143 0.154 0.166 0.176 0.191 0.208 0.226 0.239 0.260 0.281 0.304 0.328 0.352 0.378 0.404 0.431 0.459 0.487 0.526 0.555 0.586 0.616 0.658 0.689 0.731 0.762 0.794 0.835 0.876 0.906 0.946 0.984 0.993 0.993 0.993 0.993 0.993 0.993 0.993 0.993 0.993 0.993 0.993 0.993 0.993 0.993 0.993 0.993 0.993 0.993 0.993 0.993 0.993 0.993 0.993 0.993 0.993 0.993 0.993 0.993 0.993 0.993 0.993 0.993 0.993 0.993 0.993 0.993 0.993 0.993 0.993 0.993 0.993 0.993 0.993 0.993 0.993 0.993 0.993 0.993 0.993 0.993 0.993 0.993 0.993"/><feFuncG type="table" tableValues="0.005 0.010 0.020 0.026 0.038 0.050 0.062 0.068 0.079 0.090 0.095 0.105 0.116 0.126 0.131 0.141 0.151 0.161 0.166 0.175 0.185 0.195 0.205 0.214 0.219 0.228 0.238 0.247 0.256 0.265 0.274 0.283 0.292 0.301 0.310 0.318 0.327 0.335 0.343 0.352 0.360 0.368 0.376 0.384 0.392 0.399 0.407 0.415 0.422 0.430 0.441 0.449 0.456 0.464 0.475 0.482 0.490 0.497 0.508 0.515 0.523 0.534 0.541 0.549 0.560 0.567 0.578 0.585 0.596 0.604 0.615 0.622 0.633 0.640 0.651 0.662 0.669 0.680 0.691 0.698 0.708 0.719 0.729 0.736 0.745 0.755 0.765 0.774 0.783 0.792 0.800 0.808 0.816 0.824 0.833 0.840 0.847 0.853 0.860 0.865 0.872 0.876 0.881 0.886 0.891 0.895 0.900 0.905 0.906 0.906 0.906 0.906 0.906 0.906 0.906 0.906 0.906 0.906 0.906 0.906 0.906 0.906 0.906 0.906 0.906 0.906 0.906 0.906 0.906 0.906 0.906 0.906 0.906 0.906 0.906 0.906 0.906 0.906 0.906 0.906 0.906 0.906 0.906 0.906 0.906 0.906 0.906 0.906 0.906 0.906 0.906 0.906 0.906 0.906 0.906 0.906 0.906 0.906 0.906 0.906 0.906"/><feFuncB type="table" tableValues="0.329 0.335 0.347 0.353 0.365 0.376 0.387 0.392 0.402 0.412 0.417 0.427 0.436 0.445 0.449 0.458 0.465 0.473 0.476 0.483 0.490 0.496 0.502 0.507 0.510 0.514 0.519 0.523 0.527 0.530 0.533 0.536 0.539 0.541 0.543 0.545 0.547 0.548 0.549 0.551 0.552 0.553 0.554 0.554 0.555 0.556 0.556 0.557 0.557 0.557 0.558 0.558 0.558 0.558 0.558 0.558 0.558 0.558 0.557 0.557 0.556 0.555 0.554 0.554 0.552 0.551 0.548 0.547 0.544 0.541 0.538 0.535 0.530 0.527 0.522 0.516 0.511 0.504 0.497 0.491 0.482 0.473 0.463 0.456 0.444 0.433 0.420 0.407 0.393 0.378 0.363 0.346 0.330 0.312 0.288 0.269 0.250 0.230 0.203 0.183 0.156 0.137 0.120 0.103 0.095 0.098 0.113 0.137 0.144 0.144 0.144 0.144 0.144 0.144 0.144 0.144 0.144 0.144 0.144 0.144 0.144 0.144 0.144 0.144 0.144 0.144 0.144 0.144 0.144 0.144 0.144 0.144 0.144 0.144 0.144 0.144 0.144 0.144 0.144 0.144 0.144 0.144 0.144 0.144 0.144 0.144 0.144 0.144 0.144 0.144 0.144 0.144 0.144 0.144 0.144 0.144 0.144 0.144 0.144 0.144 0.144"/></feComponentTransfer></filter>
<filter id="fv2" color-interpolation-filters="sRGB" filterUnits="userSpaceOnUse" x="640" y="380" width="640" height="421"><feGaussianBlur stdDeviation="13.5"/><feComponentTransfer><feFuncR type="table" tableValues="0.267 0.270 0.273 0.276 0.278 0.280 0.281 0.282 0.283 0.283 0.283 0.282 0.281 0.280 0.277 0.275 0.272 0.268 0.265 0.261 0.257 0.252 0.247 0.243 0.237 0.232 0.228 0.222 0.216 0.212 0.207 0.201 0.196 0.191 0.187 0.182 0.177 0.173 0.168 0.164 0.159 0.155 0.150 0.146 0.142 0.138 0.134 0.130 0.126 0.123 0.121 0.120 0.119 0.121 0.125 0.130 0.137 0.150 0.162 0.176 0.197 0.214 0.233 0.260 0.281 0.312 0.336 0.369 0.395 0.431 0.468 0.497 0.536 0.576 0.616 0.647 0.689 0.731 0.773 0.815 0.856 0.896 0.936 0.974 0.993 0.993 0.993 0.993 0.993 0.993 0.993 0.993 0.993 0.993 0.993 0.993 0.993 0.993 0.993 0.993 0.993 0.993 0.993 0.993 0.993 0.993 0.993 0.993 0.993 0.993 0.993 0.993 0.993 0.993 0.993 0.993 0.993 0.993 0.993 0.993 0.993 0.993 0.993 0.993 0.993 0.993 0.993 0.993 0.993 0.993 0.993 0.993 0.993 0.993 0.993 0.993 0.993 0.993 0.993 0.993 0.993 0.993 0.993 0.993 0.993 0.993 0.993 0.993 0.993 0.993 0.993 0.993 0.993 0.993 0.993 0.993 0.993 0.993 0.993 0.993 0.993"/><feFuncG type="table" tableValues="0.005 0.015 0.026 0.044 0.056 0.068 0.084 0.095 0.111 0.121 0.136 0.146 0.161 0.171 0.185 0.195 0.209 0.224 0.233 0.247 0.256 0.270 0.283 0.292 0.305 0.318 0.327 0.339 0.352 0.360 0.372 0.384 0.395 0.407 0.415 0.426 0.438 0.449 0.460 0.471 0.482 0.493 0.504 0.515 0.526 0.537 0.549 0.560 0.571 0.582 0.593 0.604 0.615 0.629 0.640 0.651 0.662 0.677 0.687 0.698 0.712 0.722 0.732 0.745 0.755 0.768 0.777 0.789 0.797 0.808 0.819 0.826 0.836 0.845 0.853 0.858 0.865 0.872 0.878 0.883 0.889 0.894 0.899 0.904 0.906 0.906 0.906 0.906 0.906 0.906 0.906 0.906 0.906 0.906 0.906 0.906 0.906 0.906 0.906 0.906 0.906 0.906 0.906 0.906 0.906 0.906 0.906 0.906 0.906 0.906 0.906 0.906 0.906 0.906 0.906 0.906 0.906 0.906 0.906 0.906 0.906 0.906 0.906 0.906 0.906 0.906 0.906 0.906 0.906 0.906 0.906 0.906 0.906 0.906 0.906 0.906 0.906 0.906 0.906 0.906 0.906 0.906 0.906 0.906 0.906 0.906 0.906 0.906 0.906 0.906 0.906 0.906 0.906 0.906 0.906 0.906 0.906 0.906 0.906 0.906 0.906"/><feFuncB type="table" tableValues="0.329 0.341 0.353 0.370 0.381 0.392 0.407 0.417 0.432 0.441 0.453 0.462 0.473 0.480 0.490 0.496 0.504 0.512 0.517 0.523 0.527 0.532 0.536 0.539 0.542 0.545 0.547 0.549 0.551 0.552 0.553 0.554 0.555 0.556 0.557 0.557 0.558 0.558 0.558 0.558 0.558 0.558 0.557 0.557 0.556 0.555 0.554 0.552 0.550 0.547 0.545 0.541 0.538 0.532 0.527 0.522 0.516 0.507 0.499 0.491 0.479 0.470 0.459 0.444 0.433 0.416 0.402 0.383 0.368 0.346 0.324 0.306 0.282 0.256 0.230 0.210 0.183 0.156 0.131 0.110 0.097 0.096 0.108 0.130 0.144 0.144 0.144 0.144 0.144 0.144 0.144 0.144 0.144 0.144 0.144 0.144 0.144 0.144 0.144 0.144 0.144 0.144 0.144 0.144 0.144 0.144 0.144 0.144 0.144 0.144 0.144 0.144 0.144 0.144 0.144 0.144 0.144 0.144 0.144 0.144 0.144 0.144 0.144 0.144 0.144 0.144 0.144 0.144 0.144 0.144 0.144 0.144 0.144 0.144 0.144 0.144 0.144 0.144 0.144 0.144 0.144 0.144 0.144 0.144 0.144 0.144 0.144 0.144 0.144 0.144 0.144 0.144 0.144 0.144 0.144 0.144 0.144 0.144 0.144 0.144 0.144"/></feComponentTransfer></filter>
<clipPath id="cl0"><rect x="66.5" y="424.5" width="431.0" height="324.0"/></clipPath>
<clipPath id="cl1"><rect x="693.5" y="424.5" width="431.0" height="324.0"/></clipPath>
<clipPath id="clsd"><rect x="1320.5" y="424.5" width="432.0" height="324.0"/></clipPath>
<filter id="fbwr" filterUnits="userSpaceOnUse" x="1240.5" y="344.5" width="592.0" height="484.0" color-interpolation-filters="sRGB"><feComponentTransfer><feFuncR type="table" tableValues="0 1 1"/><feFuncG type="table" tableValues="0 1 0"/><feFuncB type="table" tableValues="1 1 0"/></feComponentTransfer></filter>
<filter id="fbhaze" filterUnits="userSpaceOnUse" x="1240.5" y="344.5" width="592.0" height="484.0" color-interpolation-filters="sRGB"><feGaussianBlur stdDeviation="6"/></filter>
<filter id="fbpink" filterUnits="userSpaceOnUse" x="1240.5" y="344.5" width="592.0" height="484.0" color-interpolation-filters="sRGB"><feGaussianBlur stdDeviation="4.5"/></filter>
<filter id="fbred" filterUnits="userSpaceOnUse" x="1240.5" y="344.5" width="592.0" height="484.0" color-interpolation-filters="sRGB"><feGaussianBlur stdDeviation="2.7"/></filter>
</defs>
<rect width="1876" height="801" fill="#fff"/>
<g id="p00">
<rect x="66.5" y="32.5" width="431.0" height="323.0" fill="#440154"/>
<g stroke-width="1" fill="none" shape-rendering="crispEdges"><use href="#da0" stroke="#fde725"/><use href="#da1" stroke="#7ad151"/><use href="#da2" stroke="#22a884"/><use href="#da3" stroke="#2a788e"/></g>
<text x="66.5" y="375.8" font-size="13.89" text-anchor="middle" class="t">0</text>
<text x="149.8" y="375.8" font-size="13.89" text-anchor="middle" class="t">200</text>
<text x="234.8" y="375.8" font-size="13.89" text-anchor="middle" class="t">400</text>
<text x="318.8" y="375.8" font-size="13.89" text-anchor="middle" class="t">600</text>
<text x="402.8" y="375.8" font-size="13.89" text-anchor="middle" class="t">800</text>
<text x="486.8" y="375.8" font-size="13.89" text-anchor="middle" class="t">1000</text>
<text x="56.6" y="37.6" font-size="13.89" text-anchor="end" class="t">0</text>
<text x="55.2" y="79.6" font-size="13.89" text-anchor="end" class="t">100</text>
<text x="55.2" y="121.6" font-size="13.89" text-anchor="end" class="t">200</text>
<text x="55.2" y="163.6" font-size="13.89" text-anchor="end" class="t">300</text>
<text x="55.2" y="205.6" font-size="13.89" text-anchor="end" class="t">400</text>
<text x="55.2" y="247.6" font-size="13.89" text-anchor="end" class="t">500</text>
<text x="55.2" y="290.6" font-size="13.89" text-anchor="end" class="t">600</text>
<text x="55.2" y="332.6" font-size="13.89" text-anchor="end" class="t">700</text>
<path d="M66.5 355.5v4.86M150.5 355.5v4.86M235.5 355.5v4.86M319.5 355.5v4.86M403.5 355.5v4.86M487.5 355.5v4.86M66.5 32.5h-4.86M66.5 74.5h-4.86M66.5 116.5h-4.86M66.5 158.5h-4.86M66.5 200.5h-4.86M66.5 242.5h-4.86M66.5 285.5h-4.86M66.5 327.5h-4.86" stroke="#000" stroke-width="1.11" fill="none"/>
<rect x="66.5" y="32.5" width="431.0" height="323.0" fill="none" stroke="#000" stroke-width="1.11"/>
<text x="281.0" y="23.75" font-size="16.67" text-anchor="middle">ref subpx_n=64</text>
<text x="281.2" y="395.9" font-size="13.89" text-anchor="middle">x</text>
<text transform="translate(21.2,194.0) rotate(-90)" font-size="13.89" text-anchor="middle">y</text>
<rect x="524.5" y="28.5" width="16.0" height="332.0" fill="url(#gv)" stroke="#000" stroke-width="1.11"/>
<text x="551.1" y="365.6" font-size="13.89" class="t">0.000</text>
<text x="551.1" y="325.6" font-size="13.89" class="t">0.005</text>
<text x="551.1" y="286.6" font-size="13.89" class="t">0.010</text>
<text x="551.1" y="247.6" font-size="13.89" class="t">0.015</text>
<text x="551.1" y="208.6" font-size="13.89" class="t">0.020</text>
<text x="551.1" y="169.6" font-size="13.89" class="t">0.025</text>
<text x="551.1" y="130.6" font-size="13.89" class="t">0.030</text>
<text x="551.1" y="91.6" font-size="13.89" class="t">0.035</text>
<text x="551.1" y="52.6" font-size="13.89" class="t">0.040</text>
<path d="M540.5 360.5h4.86M540.5 320.5h4.86M540.5 281.5h4.86M540.5 242.5h4.86M540.5 203.5h4.86M540.5 164.5h4.86M540.5 125.5h4.86M540.5 86.5h4.86M540.5 47.5h4.86" stroke="#000" stroke-width="1.11" fill="none"/>
<text transform="translate(605.5,195.1) rotate(-90)" font-size="13.89" text-anchor="middle">Counts</text>
</g>
<g id="p10">
<rect x="693.5" y="32.5" width="431.0" height="323.0" fill="#440154"/>
<g stroke-width="1" fill="none" shape-rendering="crispEdges"><use href="#db0" stroke="#fde725"/><use href="#db1" stroke="#7ad151"/><use href="#db2" stroke="#22a884"/><use href="#db3" stroke="#2a788e"/></g>
<text x="693.5" y="375.8" font-size="13.89" text-anchor="middle" class="t">0</text>
<text x="776.8" y="375.8" font-size="13.89" text-anchor="middle" class="t">200</text>
<text x="861.8" y="375.8" font-size="13.89" text-anchor="middle" class="t">400</text>
<text x="945.8" y="375.8" font-size="13.89" text-anchor="middle" class="t">600</text>
<text x="1029.8" y="375.8" font-size="13.89" text-anchor="middle" class="t">800</text>
<text x="1113.8" y="375.8" font-size="13.89" text-anchor="middle" class="t">1000</text>
<text x="683.6" y="37.6" font-size="13.89" text-anchor="end" class="t">0</text>
<text x="682.2" y="79.6" font-size="13.89" text-anchor="end" class="t">100</text>
<text x="682.2" y="121.6" font-size="13.89" text-anchor="end" class="t">200</text>
<text x="682.2" y="163.6" font-size="13.89" text-anchor="end" class="t">300</text>
<text x="682.2" y="205.6" font-size="13.89" text-anchor="end" class="t">400</text>
<text x="682.2" y="247.6" font-size="13.89" text-anchor="end" class="t">500</text>
<text x="682.2" y="290.6" font-size="13.89" text-anchor="end" class="t">600</text>
<text x="682.2" y="332.6" font-size="13.89" text-anchor="end" class="t">700</text>
<path d="M693.5 355.5v4.86M777.5 355.5v4.86M862.5 355.5v4.86M946.5 355.5v4.86M1030.5 355.5v4.86M1114.5 355.5v4.86M693.5 32.5h-4.86M693.5 74.5h-4.86M693.5 116.5h-4.86M693.5 158.5h-4.86M693.5 200.5h-4.86M693.5 242.5h-4.86M693.5 285.5h-4.86M693.5 327.5h-4.86" stroke="#000" stroke-width="1.11" fill="none"/>
<rect x="693.5" y="32.5" width="431.0" height="323.0" fill="none" stroke="#000" stroke-width="1.11"/>
<text x="908.0" y="23.75" font-size="16.67" text-anchor="middle">random subpx_n=64</text>
<text x="908.2" y="395.9" font-size="13.89" text-anchor="middle">x</text>
<text transform="translate(648.2,194.0) rotate(-90)" font-size="13.89" text-anchor="middle">y</text>
<rect x="1151.5" y="28.5" width="17.0" height="332.0" fill="url(#gv)" stroke="#000" stroke-width="1.11"/>
<text x="1179.1" y="365.6" font-size="13.89" class="t">0.000</text>
<text x="1179.1" y="325.6" font-size="13.89" class="t">0.005</text>
<text x="1179.1" y="286.6" font-size="13.89" class="t">0.010</text>
<text x="1179.1" y="247.6" font-size="13.89" class="t">0.015</text>
<text x="1179.1" y="208.6" font-size="13.89" class="t">0.020</text>
<text x="1179.1" y="169.6" font-size="13.89" class="t">0.025</text>
<text x="1179.1" y="130.6" font-size="13.89" class="t">0.030</text>
<text x="1179.1" y="91.6" font-size="13.89" class="t">0.035</text>
<text x="1179.1" y="52.6" font-size="13.89" class="t">0.040</text>
<path d="M1168.5 360.5h4.86M1168.5 320.5h4.86M1168.5 281.5h4.86M1168.5 242.5h4.86M1168.5 203.5h4.86M1168.5 164.5h4.86M1168.5 125.5h4.86M1168.5 86.5h4.86M1168.5 47.5h4.86" stroke="#000" stroke-width="1.11" fill="none"/>
<text transform="translate(1233.5,195.1) rotate(-90)" font-size="13.89" text-anchor="middle">Counts</text>
</g>
<g id="p20">
<rect x="1320.5" y="32.5" width="432.0" height="323.0" fill="#fff"/>
<g stroke-width="1" fill="none" shape-rendering="crispEdges"><use href="#da0" transform="translate(1254,0)" stroke="#ffe6e6"/><use href="#dc0" stroke="#00f"/></g>
<text x="1320.5" y="375.8" font-size="13.89" text-anchor="middle" class="t">0</text>
<text x="1404.8" y="375.8" font-size="13.89" text-anchor="middle" class="t">200</text>
<text x="1488.8" y="375.8" font-size="13.89" text-anchor="middle" class="t">400</text>
<text x="1572.8" y="375.8" font-size="13.89" text-anchor="middle" class="t">600</text>
<text x="1657.8" y="375.8" font-size="13.89" text-anchor="middle" class="t">800</text>
<text x="1741.8" y="375.8" font-size="13.89" text-anchor="middle" class="t">1000</text>
<text x="1310.6" y="37.6" font-size="13.89" text-anchor="end" class="t">0</text>
<text x="1309.2" y="79.6" font-size="13.89" text-anchor="end" class="t">100</text>
<text x="1309.2" y="121.6" font-size="13.89" text-anchor="end" class="t">200</text>
<text x="1309.2" y="163.6" font-size="13.89" text-anchor="end" class="t">300</text>
<text x="1309.2" y="205.6" font-size="13.89" text-anchor="end" class="t">400</text>
<text x="1309.2" y="247.6" font-size="13.89" text-anchor="end" class="t">500</text>
<text x="1309.2" y="290.6" font-size="13.89" text-anchor="end" class="t">600</text>
<text x="1309.2" y="332.6" font-size="13.89" text-anchor="end" class="t">700</text>
<path d="M1320.5 355.5v4.86M1405.5 355.5v4.86M1489.5 355.5v4.86M1573.5 355.5v4.86M1658.5 355.5v4.86M1742.5 355.5v4.86M1320.5 32.5h-4.86M1320.5 74.5h-4.86M1320.5 116.5h-4.86M1320.5 158.5h-4.86M1320.5 200.5h-4.86M1320.5 242.5h-4.86M1320.5 285.5h-4.86M1320.5 327.5h-4.86" stroke="#000" stroke-width="1.11" fill="none"/>
<rect x="1320.5" y="32.5" width="432.0" height="323.0" fill="none" stroke="#000" stroke-width="1.11"/>
<text x="1535.5" y="23.75" font-size="16.67" text-anchor="middle">subpx_n=64 diff image</text>
<text x="1535.7" y="395.9" font-size="13.89" text-anchor="middle">x</text>
<text transform="translate(1275.2,194.0) rotate(-90)" font-size="13.89" text-anchor="middle">y</text>
<rect x="1778.5" y="28.5" width="17.0" height="332.0" fill="url(#gb)" stroke="#000" stroke-width="1.11"/>
<text x="1806.1" y="365.6" font-size="13.89" class="t">−1.00</text>
<text x="1806.1" y="323.6" font-size="13.89" class="t">−0.75</text>
<text x="1806.1" y="282.6" font-size="13.89" class="t">−0.50</text>
<text x="1806.1" y="241.6" font-size="13.89" class="t">−0.25</text>
<text x="1806.1" y="199.6" font-size="13.89" class="t">0.00</text>
<text x="1806.1" y="157.6" font-size="13.89" class="t">0.25</text>
<text x="1806.1" y="116.6" font-size="13.89" class="t">0.50</text>
<text x="1806.1" y="75.6" font-size="13.89" class="t">0.75</text>
<text x="1806.1" y="33.6" font-size="13.89" class="t">1.00</text>
<path d="M1795.5 360.5h4.86M1795.5 318.5h4.86M1795.5 277.5h4.86M1795.5 236.5h4.86M1795.5 194.5h4.86M1795.5 152.5h4.86M1795.5 111.5h4.86M1795.5 70.5h4.86M1795.5 28.5h4.86" stroke="#000" stroke-width="1.11" fill="none"/>
<text transform="translate(1864.5,196.8) rotate(-90)" font-size="13.89" text-anchor="middle">Rate</text>
</g>
<g id="p01">
<rect x="66.5" y="424.5" width="431.0" height="324.0" fill="#440154"/>
<g clip-path="url(#cl0)"><g filter="url(#fv1)"><rect x="6.5" y="364.5" width="551.0" height="444.0" fill="#000"/><g transform="translate(0,392)" stroke="#fff" stroke-width="2" fill="none" shape-rendering="crispEdges"><use href="#dab"/><use href="#dab" transform="translate(1,0)"/></g></g></g>
<text x="66.5" y="768.8" font-size="13.89" text-anchor="middle" class="t">0</text>
<text x="149.8" y="768.8" font-size="13.89" text-anchor="middle" class="t">200</text>
<text x="234.8" y="768.8" font-size="13.89" text-anchor="middle" class="t">400</text>
<text x="318.8" y="768.8" font-size="13.89" text-anchor="middle" class="t">600</text>
<text x="402.8" y="768.8" font-size="13.89" text-anchor="middle" class="t">800</text>
<text x="486.8" y="768.8" font-size="13.89" text-anchor="middle" class="t">1000</text>
<text x="56.6" y="430.6" font-size="13.89" text-anchor="end" class="t">0</text>
<text x="55.2" y="472.6" font-size="13.89" text-anchor="end" class="t">100</text>
<text x="55.2" y="514.6" font-size="13.89" text-anchor="end" class="t">200</text>
<text x="55.2" y="556.6" font-size="13.89" text-anchor="end" class="t">300</text>
<text x="55.2" y="598.6" font-size="13.89" text-anchor="end" class="t">400</text>
<text x="55.2" y="640.6" font-size="13.89" text-anchor="end" class="t">500</text>
<text x="55.2" y="682.6" font-size="13.89" text-anchor="end" class="t">600</text>
<text x="55.2" y="724.6" font-size="13.89" text-anchor="end" class="t">700</text>
<path d="M66.5 748.5v4.86M150.5 748.5v4.86M235.5 748.5v4.86M319.5 748.5v4.86M403.5 748.5v4.86M487.5 748.5v4.86M66.5 425.5h-4.86M66.5 467.5h-4.86M66.5 509.5h-4.86M66.5 551.5h-4.86M66.5 593.5h-4.86M66.5 635.5h-4.86M66.5 677.5h-4.86M66.5 719.5h-4.86" stroke="#000" stroke-width="1.11" fill="none"/>
<rect x="66.5" y="424.5" width="431.0" height="324.0" fill="none" stroke="#000" stroke-width="1.11"/>
<text x="281.0" y="416.7" font-size="16.67" text-anchor="middle">ref subpx_n=64 &amp; gaussian_sigma=32.0</text>
<text x="281.2" y="787.9" font-size="13.89" text-anchor="middle">x</text>
<text transform="translate(21.2,586.5) rotate(-90)" font-size="13.89" text-anchor="middle">y</text>
<rect x="524.5" y="420.5" width="16.0" height="332.0" fill="url(#gv)" stroke="#000" stroke-width="1.11"/>
<text x="551.1" y="757.6" font-size="13.89" class="t">0.000</text>
<text x="551.1" y="718.6" font-size="13.89" class="t">0.005</text>
<text x="551.1" y="679.6" font-size="13.89" class="t">0.010</text>
<text x="551.1" y="640.6" font-size="13.89" class="t">0.015</text>
<text x="551.1" y="601.6" font-size="13.89" class="t">0.020</text>
<text x="551.1" y="561.6" font-size="13.89" class="t">0.025</text>
<text x="551.1" y="522.6" font-size="13.89" class="t">0.030</text>
<text x="551.1" y="483.6" font-size="13.89" class="t">0.035</text>
<text x="551.1" y="444.6" font-size="13.89" class="t">0.040</text>
<path d="M540.5 752.5h4.86M540.5 713.5h4.86M540.5 674.5h4.86M540.5 635.5h4.86M540.5 596.5h4.86M540.5 556.5h4.86M540.5 517.5h4.86M540.5 478.5h4.86M540.5 439.5h4.86" stroke="#000" stroke-width="1.11" fill="none"/>
<text transform="translate(605.5,587.1) rotate(-90)" font-size="13.89" text-anchor="middle">Counts</text>
</g>
<g id="p11">
<rect x="693.5" y="424.5" width="431.0" height="324.0" fill="#440154"/>
<g clip-path="url(#cl1)"><g filter="url(#fv2)"><rect x="633.5" y="364.5" width="551.0" height="444.0" fill="#000"/><g transform="translate(0,392)" stroke="#fff" stroke-width="2" fill="none" shape-rendering="crispEdges"><use href="#dbb"/><use href="#dbb" transform="translate(1,0)"/></g></g></g>
<text x="693.5" y="768.8" font-size="13.89" text-anchor="middle" class="t">0</text>
<text x="776.8" y="768.8" font-size="13.89" text-anchor="middle" class="t">200</text>
<text x="861.8" y="768.8" font-size="13.89" text-anchor="middle" class="t">400</text>
<text x="945.8" y="768.8" font-size="13.89" text-anchor="middle" class="t">600</text>
<text x="1029.8" y="768.8" font-size="13.89" text-anchor="middle" class="t">800</text>
<text x="1113.8" y="768.8" font-size="13.89" text-anchor="middle" class="t">1000</text>
<text x="683.6" y="430.6" font-size="13.89" text-anchor="end" class="t">0</text>
<text x="682.2" y="472.6" font-size="13.89" text-anchor="end" class="t">100</text>
<text x="682.2" y="514.6" font-size="13.89" text-anchor="end" class="t">200</text>
<text x="682.2" y="556.6" font-size="13.89" text-anchor="end" class="t">300</text>
<text x="682.2" y="598.6" font-size="13.89" text-anchor="end" class="t">400</text>
<text x="682.2" y="640.6" font-size="13.89" text-anchor="end" class="t">500</text>
<text x="682.2" y="682.6" font-size="13.89" text-anchor="end" class="t">600</text>
<text x="682.2" y="724.6" font-size="13.89" text-anchor="end" class="t">700</text>
<path d="M693.5 748.5v4.86M777.5 748.5v4.86M862.5 748.5v4.86M946.5 748.5v4.86M1030.5 748.5v4.86M1114.5 748.5v4.86M693.5 425.5h-4.86M693.5 467.5h-4.86M693.5 509.5h-4.86M693.5 551.5h-4.86M693.5 593.5h-4.86M693.5 635.5h-4.86M693.5 677.5h-4.86M693.5 719.5h-4.86" stroke="#000" stroke-width="1.11" fill="none"/>
<rect x="693.5" y="424.5" width="431.0" height="324.0" fill="none" stroke="#000" stroke-width="1.11"/>
<text x="908.0" y="416.7" font-size="16.67" text-anchor="middle">random subpx_n=64 &amp; gaussian_sigma=32.0</text>
<text x="908.2" y="787.9" font-size="13.89" text-anchor="middle">x</text>
<text transform="translate(648.2,586.5) rotate(-90)" font-size="13.89" text-anchor="middle">y</text>
<rect x="1151.5" y="420.5" width="17.0" height="332.0" fill="url(#gv)" stroke="#000" stroke-width="1.11"/>
<text x="1179.1" y="757.6" font-size="13.89" class="t">0.000</text>
<text x="1179.1" y="718.6" font-size="13.89" class="t">0.005</text>
<text x="1179.1" y="679.6" font-size="13.89" class="t">0.010</text>
<text x="1179.1" y="640.6" font-size="13.89" class="t">0.015</text>
<text x="1179.1" y="601.6" font-size="13.89" class="t">0.020</text>
<text x="1179.1" y="561.6" font-size="13.89" class="t">0.025</text>
<text x="1179.1" y="522.6" font-size="13.89" class="t">0.030</text>
<text x="1179.1" y="483.6" font-size="13.89" class="t">0.035</text>
<text x="1179.1" y="444.6" font-size="13.89" class="t">0.040</text>
<path d="M1168.5 752.5h4.86M1168.5 713.5h4.86M1168.5 674.5h4.86M1168.5 635.5h4.86M1168.5 596.5h4.86M1168.5 556.5h4.86M1168.5 517.5h4.86M1168.5 478.5h4.86M1168.5 439.5h4.86" stroke="#000" stroke-width="1.11" fill="none"/>
<text transform="translate(1233.5,587.1) rotate(-90)" font-size="13.89" text-anchor="middle">Counts</text>
</g>
<g id="p21">
<rect x="1320.5" y="424.5" width="432.0" height="324.0" fill="#fff"/>
<g clip-path="url(#clsd)"><g filter="url(#fbwr)"><g filter="url(#fbhaze)"><rect x="1240.5" y="344.5" width="592.0" height="484.0" fill="#000"/><g transform="translate(1400,500) scale(0.24958)"><path d="M20 230C27 93 13 207 40 150C67 93 57 123 100 60C143 -3 50 -7 170 -40C290 -73 357 -73 460 -40C563 -7 460 3 480 60C500 117 487 100 520 130C553 160 540 157 580 150C620 143 600 113 640 110C680 107 647 133 700 140C753 147 717 127 800 130C883 133 870 147 950 150C1030 153 997 123 1040 140C1083 157 1060 160 1080 200C1100 240 1077 227 1100 260C1123 293 1103 283 1150 300C1197 317 1210 233 1240 310C1270 387 1270 437 1240 530C1210 623 1197 567 1150 590C1103 613 1150 607 1100 600C1050 593 1067 563 1000 570C933 577 950 583 900 620C850 657 883 647 850 680C817 713 850 700 800 720C750 740 767 737 700 740C633 743 650 737 600 730C550 723 617 723 550 720C483 717 467 727 400 720C333 713 383 727 350 700C317 673 350 657 300 640C250 623 267 650 200 650C133 650 153 657 100 640C47 623 67 627 40 600C13 573 27 683 20 560C13 437 13 367 20 230Z" fill="#737373"/><path d="M700 -40C727 -97 750 -97 780 -40C810 17 817 73 790 130C763 187 730 187 700 130C670 73 673 17 700 -40Z" fill="#404040"/><ellipse cx="292" cy="72" rx="60" ry="88" fill="#000000"/><ellipse cx="1012" cy="374" rx="84" ry="90" fill="#000000"/><ellipse cx="190" cy="692" rx="62" ry="36" fill="#000000"/><ellipse cx="600" cy="610" rx="60" ry="70" fill="#474747"/><ellipse cx="470" cy="250" rx="60" ry="50" fill="#545454"/><ellipse cx="630" cy="705" rx="70" ry="60" fill="#4c4c4c"/><ellipse cx="170" cy="130" rx="60" ry="80" fill="#808080"/><ellipse cx="75" cy="610" rx="24" ry="24" fill="#8f8f8f"/></g><g transform="translate(1310,415) scale(0.21226)"><path d="M665 385C713 357 709 373 745 345C781 317 754 318 772 300C790 282 774 298 800 290C826 282 817 283 850 275C883 267 863 260 900 265C937 270 932 268 960 290C988 312 978 287 985 330C992 373 1108 387 980 420C852 453 705 442 600 430C495 418 617 413 665 385Z" fill="#737373"/><path d="M600 430C567 447 573 443 540 480C507 517 517 500 500 540C483 580 500 560 490 600C480 640 487 620 470 660C453 700 457 673 440 720C423 767 393 774 420 801C447 828 473 868 520 801C567 734 520 724 560 600C600 476 627 487 640 430C653 373 633 413 600 430Z" fill="#666666"/></g><g transform="translate(1535,415) scale(0.21226)"><path d="M60 300C67 247 67 250 90 200C113 150 93 160 130 150C167 140 163 133 200 170C237 207 237 203 240 260C243 317 233 297 210 340C187 383 203 372 170 390C137 408 143 405 110 395C77 385 87 392 70 360C53 328 53 353 60 300Z" fill="#808080"/><path d="M195 400C218 372 222 378 250 395C278 412 270 402 280 450C290 498 307 503 280 540C253 577 233 580 200 560C167 540 182 533 180 480C178 427 172 428 195 400Z" fill="#5c5c5c"/></g><g transform="translate(1310,585) scale(0.21226)"><path d="M165 325C142 303 185 288 230 240C275 192 257 220 300 180C343 140 327 160 360 120C393 80 377 33 400 60C423 87 423 120 430 200C437 280 463 265 420 300C377 335 385 297 300 305C215 313 188 347 165 325Z" fill="#808080"/><path d="M200 0C237 -30 270 -47 320 -10C370 27 367 57 350 110C333 163 317 160 270 150C223 140 233 130 210 80C187 30 163 30 200 0Z" fill="#2e2e2e"/><ellipse cx="420" cy="215" rx="36" ry="42" fill="#1a1a1a"/><ellipse cx="515" cy="320" rx="22" ry="26" fill="#949494"/><path d="M500 590C512 570 532 570 545 590C558 610 552 630 540 650C528 670 523 670 510 650C497 630 488 610 500 590Z" fill="#808080"/><path d="M770 600C787 567 817 567 830 600C843 633 827 667 810 700C793 733 793 733 780 700C767 667 753 633 770 600Z" fill="#808080"/><path d="M470 420C493 380 483 423 560 440C637 457 607 463 700 470C793 477 787 430 840 460C893 490 867 507 860 560C853 613 920 600 820 620C720 640 670 640 560 620C450 600 520 627 490 560C460 493 447 460 470 420Z" fill="#737373"/><path d="M540 400C533 367 547 377 600 360C653 343 633 357 700 350C767 343 733 357 800 340C867 323 850 303 900 300C950 297 950 297 950 330C950 363 950 367 900 400C850 433 860 410 800 430C740 450 780 450 720 460C660 470 680 480 620 460C560 440 547 433 540 400Z" fill="#404040"/><path d="M440 290C470 260 498 263 540 290C582 317 563 317 565 370C567 423 570 423 545 450C520 477 522 473 490 450C458 427 467 433 450 380C433 327 410 320 440 290Z" fill="#787878"/><ellipse cx="655" cy="408" rx="95" ry="50" fill="#000000"/></g><g transform="translate(1535,585) scale(0.21226)"><path d="M150 480C162 427 187 433 215 480C243 527 247 567 235 620C223 673 208 687 180 640C152 593 138 533 150 480Z" fill="#737373"/><ellipse cx="800" cy="-20" rx="45" ry="40" fill="#0d0d0d"/><path d="M700 100C713 67 737 70 780 60C823 50 823 53 830 70C837 87 830 80 800 110C770 140 773 163 740 160C707 157 687 133 700 100Z" fill="#808080"/></g></g><g filter="url(#fbpink)"><g transform="translate(1400,500) scale(0.24958)"><path d="M45 330C52 300 42 308 60 290C78 272 67 272 100 275C133 278 117 292 160 300C203 308 203 323 230 300C257 277 230 265 240 230C250 195 230 212 260 195C290 178 292 178 330 180C368 182 357 173 375 200C393 227 377 227 385 260C393 293 372 283 400 300C428 317 430 297 470 310C510 323 497 310 520 340C543 370 520 380 540 400C560 420 553 413 580 400C607 387 600 393 620 360C640 327 647 333 640 300C633 267 617 287 600 260C583 233 583 245 590 220C597 195 583 200 620 185C657 170 640 177 700 175C760 173 733 177 800 180C867 183 853 172 900 185C947 198 930 188 940 220C950 252 940 243 930 280C920 317 910 290 910 330C910 370 907 360 930 400C953 440 937 423 980 450C1023 477 1017 473 1060 480C1103 487 1092 490 1110 470C1128 450 1112 460 1115 420C1118 380 1105 377 1120 350C1135 323 1120 333 1160 340C1200 347 1213 337 1240 370C1267 403 1270 407 1240 440C1210 473 1187 443 1150 470C1113 497 1147 495 1130 520C1113 545 1143 542 1100 545C1057 548 1067 525 1000 530C933 535 953 537 900 560C847 583 880 570 840 600C800 630 813 630 780 650C747 670 760 670 740 660C720 650 727 653 720 620C713 587 727 590 720 560C713 530 727 543 700 530C673 517 687 523 640 520C593 517 600 513 560 520C520 527 547 537 520 540C493 543 507 550 480 530C453 510 467 500 440 480C413 460 420 490 400 470C380 450 397 447 380 420C363 393 370 397 350 390C330 383 333 373 320 400C307 427 317 423 310 470C303 517 317 500 300 540C283 580 293 573 260 590C227 607 237 607 200 590C163 573 187 567 150 540C113 513 123 540 90 510C57 480 67 493 50 450C33 407 42 420 40 380C38 340 38 360 45 330Z" fill="#9e9e9e"/><ellipse cx="145" cy="440" rx="110" ry="64" fill="#d9d9d9" transform="rotate(25 145 440)"/><ellipse cx="140" cy="440" rx="75" ry="42" fill="#ffffff" transform="rotate(25 140 440)"/><ellipse cx="670" cy="440" rx="90" ry="52" fill="#c7c7c7"/><ellipse cx="670" cy="440" rx="50" ry="28" fill="#e6e6e6"/><ellipse cx="800" cy="235" rx="125" ry="42" fill="#bdbdbd"/><ellipse cx="900" cy="420" rx="55" ry="80" fill="#bdbdbd"/><ellipse cx="330" cy="260" rx="55" ry="55" fill="#bdbdbd"/><ellipse cx="460" cy="390" rx="45" ry="60" fill="#b8b8b8"/><path d="M440 672C424 647 454 592 485 590C516 588 547 638 532 665C517 692 456 697 440 672Z" fill="#999999"/></g><g transform="translate(1310,415) scale(0.21226)"><ellipse cx="890" cy="342" rx="24" ry="52" fill="#bdbdbd" transform="rotate(24 890 342)"/><path d="M650 320C662 300 662 340 700 330C738 320 750 283 765 290C780 297 767 318 745 350C723 382 727 372 700 385C673 398 682 412 665 390C648 368 638 340 650 320Z" fill="#e6e6e6"/></g><g transform="translate(1310,585) scale(0.21226)"><ellipse cx="280" cy="250" rx="30" ry="16" fill="#999999" transform="rotate(-30 280 250)"/><path d="M500 430C522 430 513 443 560 470C607 497 593 500 640 510C687 520 660 510 700 500C740 490 723 483 760 480C797 477 787 470 810 490C833 510 833 507 830 540C827 573 830 573 800 590C770 607 780 597 740 590C700 583 720 575 680 570C640 565 660 568 620 575C580 582 593 602 560 590C527 578 542 580 520 540C498 500 502 507 495 470C488 433 478 430 500 430Z" fill="#b8b8b8"/><ellipse cx="765" cy="540" rx="40" ry="35" fill="#ebebeb"/></g></g><g filter="url(#fbred)"><g transform="translate(1310,415) scale(0.21226)"><path d="M118 338L136 342L178 398L160 408Z" fill="#808080"/><path d="M814 25C851 9 910 7 948 25C986 43 944 50 929 78C914 106 918 93 902 108C886 123 895 123 880 122C865 121 872 121 858 104C844 87 853 98 838 72C823 46 777 41 814 25Z" fill="#ffffff"/><path d="M565 80C551 103 575 100 590 150C605 200 597 180 610 230C623 280 617 258 630 300C643 342 637 330 650 355C663 380 651 371 668 375C685 379 674 380 700 368C726 356 722 363 745 340C768 317 767 328 770 298C773 268 772 286 755 250C738 214 745 230 720 190C695 150 709 167 680 130C651 93 670 97 632 80C594 63 579 57 565 80Z" fill="#ffffff"/><path d="M165 395C177 386 168 383 200 385C232 387 220 385 260 400C300 415 287 407 320 430C353 453 344 447 360 470C376 493 371 477 368 500C365 523 363 510 350 540C337 570 337 553 330 590C323 627 327 613 328 650C329 687 339 670 333 700C327 730 334 722 310 740C286 758 293 753 260 755C227 757 236 758 210 745C184 732 187 740 182 715C177 690 181 702 195 670C209 638 212 653 225 620C238 587 238 607 235 570C232 533 232 550 215 510C198 470 202 483 185 450C168 417 172 430 165 412C158 394 153 404 165 395Z" fill="#ffffff"/></g><g transform="translate(1535,415) scale(0.21226)"><path d="M125 170C136 165 130 160 150 165C170 170 163 165 185 185C207 205 203 200 215 225C227 250 225 237 222 260C219 283 219 272 205 295C191 318 195 307 180 330C165 353 175 350 160 365C145 380 152 377 135 375C118 373 122 378 110 360C98 342 102 350 100 320C98 290 101 305 105 270C109 235 108 245 112 215C116 185 114 195 118 180C122 165 114 175 125 170Z" fill="#c7c7c7"/><path d="M128 175C137 170 132 165 150 170C168 175 163 171 183 190C203 209 199 205 210 228C221 251 220 239 215 258C210 277 213 271 195 285C177 299 183 297 160 300C137 303 141 308 125 295C109 282 115 287 112 260C109 233 113 240 116 215C119 190 118 198 122 185C126 172 119 180 128 175Z" fill="#ffffff"/><path d="M1060 625L990 640L975 665L930 710L880 760L810 830L1060 830Z" fill="#ffffff"/></g><g transform="translate(1310,585) scale(0.21226)"><path d="M478 780C480 727 478 743 485 700C492 657 487 673 500 650C513 627 507 632 525 630C543 628 538 625 555 645C572 665 563 645 575 690C587 735 586 723 592 780C598 837 630 833 592 860C554 887 516 887 478 860C440 833 476 833 478 780Z" fill="#ffffff"/><path d="M712 775C727 728 724 748 750 720C776 692 763 697 790 690C817 683 807 685 830 700C853 715 842 710 860 735C878 760 874 733 884 775C894 817 950 832 890 860C830 888 764 888 705 860C646 832 697 822 712 775Z" fill="#ffffff"/><path d="M1008 800C983 767 1004 747 1015 700C1026 653 1015 683 1040 660C1065 637 1073 583 1090 630C1107 677 1117 743 1090 800C1063 857 1033 833 1008 800Z" fill="#ffffff"/></g><g transform="translate(1535,585) scale(0.21226)"><path d="M838 -30L822 50L830 90L880 150L940 215L988 265L1003 315L1020 335L1060 335L1060 -30Z" fill="#ffffff"/><path d="M215 800C212 747 205 750 205 700C205 650 200 675 215 650C230 625 222 628 250 625C278 622 267 623 300 640C333 657 322 658 350 675C378 692 367 698 385 690C403 682 393 690 405 650C417 610 407 613 420 570C433 527 422 543 445 520C468 497 458 503 490 500C522 497 507 490 540 510C573 530 557 523 590 560C623 597 603 577 640 620C677 663 660 648 700 690C740 732 727 712 760 745C793 778 780 752 800 790C820 828 1015 837 820 860C625 883 417 880 215 860C13 840 218 853 215 800Z" fill="#ffffff"/><path d="M-30 650C-10 615 7 637 30 640C53 643 42 633 40 660C38 687 48 692 25 720C2 748 -12 768 -30 745C-48 722 -50 685 -30 650Z" fill="#ffffff"/></g></g></g><g transform="translate(1310,415) scale(0.21226)" fill="#fff" shape-rendering="crispEdges"><path d="M40 35L510 35L510 62L420 62L420 82L345 82L345 115L330 115L330 170L312 170L312 180L113 180L113 232L97 232L97 310L40 310Z"/></g><g transform="translate(1535,415) scale(0.21226)" fill="#fff" shape-rendering="crispEdges"><path d="M495 35L1035 35L1035 575L975 575L975 510L938 510L938 485L912 485L912 472L885 472L885 405L860 405L860 358L828 358L828 183L715 183L715 57L565 57L565 50L495 50Z"/></g><g transform="translate(1310,585) scale(0.21226)" fill="#fff" shape-rendering="crispEdges"><path d="M40 640L98 640L98 780L40 780Z"/></g><g transform="translate(1535,585) scale(0.21226)" fill="#fff" shape-rendering="crispEdges"><path d="M1035 425L995 425L995 518L970 518L970 550L872 550L872 780L1035 780Z"/></g><g transform="translate(1310,415) scale(0.21226)" shape-rendering="crispEdges"><path fill="#f00" d="M420 62L510 62L510 52L565 52L565 65L625 65L632 85L560 88L545 82L420 82Z"/><path fill="#f00" d="M97 232L113 232L113 345L50 345L50 310L97 310Z"/><path fill="#00f" d="M97 275L105 275L105 310L97 310Z"/></g><g transform="translate(1535,415) scale(0.21226)" shape-rendering="crispEdges"><path fill="#f00" d="M885 487L938 487L938 512L885 512Z"/><path fill="#f00" d="M970 550L985 550L985 578L970 578Z"/><path fill="#f00" d="M855 370L862 370L862 400L855 400Z"/></g></g>
<text x="1320.5" y="768.8" font-size="13.89" text-anchor="middle" class="t">0</text>
<text x="1404.8" y="768.8" font-size="13.89" text-anchor="middle" class="t">200</text>
<text x="1488.8" y="768.8" font-size="13.89" text-anchor="middle" class="t">400</text>
<text x="1572.8" y="768.8" font-size="13.89" text-anchor="middle" class="t">600</text>
<text x="1657.8" y="768.8" font-size="13.89" text-anchor="middle" class="t">800</text>
<text x="1741.8" y="768.8" font-size="13.89" text-anchor="middle" class="t">1000</text>
<text x="1310.6" y="430.6" font-size="13.89" text-anchor="end" class="t">0</text>
<text x="1309.2" y="472.6" font-size="13.89" text-anchor="end" class="t">100</text>
<text x="1309.2" y="514.6" font-size="13.89" text-anchor="end" class="t">200</text>
<text x="1309.2" y="556.6" font-size="13.89" text-anchor="end" class="t">300</text>
<text x="1309.2" y="598.6" font-size="13.89" text-anchor="end" class="t">400</text>
<text x="1309.2" y="640.6" font-size="13.89" text-anchor="end" class="t">500</text>
<text x="1309.2" y="682.6" font-size="13.89" text-anchor="end" class="t">600</text>
<text x="1309.2" y="724.6" font-size="13.89" text-anchor="end" class="t">700</text>
<path d="M1320.5 748.5v4.86M1405.5 748.5v4.86M1489.5 748.5v4.86M1573.5 748.5v4.86M1658.5 748.5v4.86M1742.5 748.5v4.86M1320.5 425.5h-4.86M1320.5 467.5h-4.86M1320.5 509.5h-4.86M1320.5 551.5h-4.86M1320.5 593.5h-4.86M1320.5 635.5h-4.86M1320.5 677.5h-4.86M1320.5 719.5h-4.86" stroke="#000" stroke-width="1.11" fill="none"/>
<rect x="1320.5" y="424.5" width="432.0" height="324.0" fill="none" stroke="#000" stroke-width="1.11"/>
<text x="1535.5" y="416.7" font-size="16.67" text-anchor="middle">subpx_n=64 smoothing diff image</text>
<text x="1535.7" y="787.9" font-size="13.89" text-anchor="middle">x</text>
<text transform="translate(1275.2,586.5) rotate(-90)" font-size="13.89" text-anchor="middle">y</text>
<rect x="1778.5" y="420.5" width="17.0" height="332.0" fill="url(#gb)" stroke="#000" stroke-width="1.11"/>
<text x="1806.1" y="757.6" font-size="13.89" class="t">−0.20</text>
<text x="1806.1" y="715.6" font-size="13.89" class="t">−0.15</text>
<text x="1806.1" y="674.6" font-size="13.89" class="t">−0.10</text>
<text x="1806.1" y="633.6" font-size="13.89" class="t">−0.05</text>
<text x="1806.1" y="591.6" font-size="13.89" class="t">0.00</text>
<text x="1806.1" y="549.6" font-size="13.89" class="t">0.05</text>
<text x="1806.1" y="508.6" font-size="13.89" class="t">0.10</text>
<text x="1806.1" y="467.6" font-size="13.89" class="t">0.15</text>
<text x="1806.1" y="425.6" font-size="13.89" class="t">0.20</text>
<path d="M1795.5 752.5h4.86M1795.5 710.5h4.86M1795.5 669.5h4.86M1795.5 628.5h4.86M1795.5 586.5h4.86M1795.5 544.5h4.86M1795.5 503.5h4.86M1795.5 462.5h4.86M1795.5 420.5h4.86" stroke="#000" stroke-width="1.11" fill="none"/>
<text transform="translate(1864.5,588.8) rotate(-90)" font-size="13.89" text-anchor="middle">Rate</text>
</g>
</svg></body></html>
